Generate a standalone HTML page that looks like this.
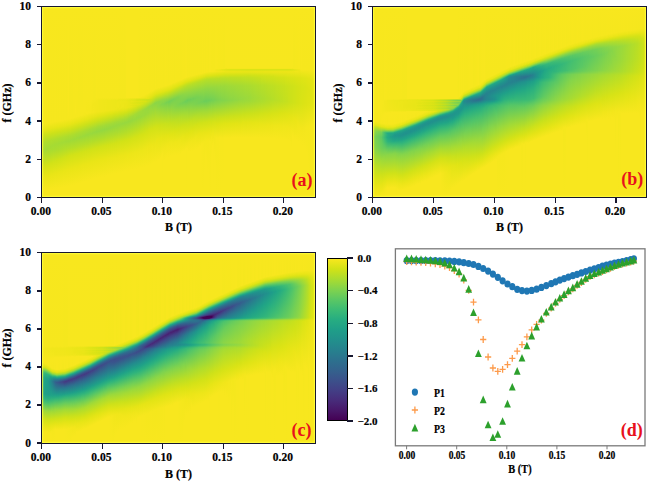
<!DOCTYPE html>
<html><head><meta charset="utf-8">
<style>
*{margin:0;padding:0;box-sizing:border-box}
html,body{width:650px;height:482px;background:#fff;overflow:hidden}
body{position:relative;font-family:"Liberation Serif",serif;font-weight:bold;color:#000;-webkit-text-stroke:0.2px #000}
.hm{position:absolute;overflow:hidden}
.hm i{position:absolute;top:0;bottom:0;display:block}
.fr{position:absolute;border:1.6px solid #17172f;box-shadow:inset 0 0 0 1.2px rgba(255,255,60,0.75)}
.tx{position:absolute;width:1.4px;height:5.8px;background:#17172f}
.ty{position:absolute;width:5.4px;height:1.4px;background:#17172f}
.tl{position:absolute;width:40px;text-align:center;font-size:11.5px;line-height:12px}
.yl{position:absolute;width:40px;text-align:right;font-size:11.5px;line-height:12px}
.lab{position:absolute;font-size:11px;line-height:12px;white-space:nowrap}
.al{position:absolute;font-size:12px;line-height:12px;white-space:nowrap}
.dt{position:absolute;width:40px;text-align:center;font-size:11.5px;line-height:12px;transform:scaleX(0.83)}
.dp{position:absolute;font-size:11.8px;line-height:12px;transform:scaleX(0.83);transform-origin:0 0}
.tag{position:absolute;font-size:18px;line-height:18px;color:#e8101c;-webkit-text-stroke:0;white-space:nowrap}
</style></head><body>
<div class="hm" style="left:41.7px;top:6.6px;width:273.6px;height:190.6px"><i style="left:0.0px;width:1.1px;background:linear-gradient(#f8e71e 0.0px,#f6e71d 117.1px,#e6e516 123.1px,#cde119 128.6px,#b2dd2a 135.1px,#a4db34 143.1px,#b9de26 151.1px,#d4e217 159.6px,#e8e517 169.1px,#f8e71e 183.6px,#f8e71e 190.6px)"></i><i style="left:1.0px;width:1.1px;background:linear-gradient(#f8e71e 0.0px,#f5e71d 117.1px,#e5e416 123.1px,#cce11a 128.6px,#b1dd2b 135.1px,#a5db34 143.1px,#bade25 151.1px,#d5e217 159.6px,#e8e517 169.1px,#f8e71e 183.6px,#f8e71e 190.6px)"></i><i style="left:2.0px;width:1.1px;background:linear-gradient(#f8e71e 0.0px,#f6e71d 116.6px,#e7e516 122.6px,#cde119 128.1px,#b0dd2b 135.1px,#a4db34 142.6px,#bbdf24 151.1px,#d5e216 159.6px,#e9e517 169.6px,#f8e71e 183.1px,#f8e71e 190.6px)"></i><i style="left:3.0px;width:1.1px;background:linear-gradient(#f8e71e 0.0px,#f6e71d 116.6px,#e6e516 122.6px,#cce11a 128.1px,#b1dd2b 134.6px,#a5db34 142.6px,#bcdf23 151.1px,#d6e216 159.6px,#eae517 169.6px,#f8e71e 183.1px,#f8e71e 190.6px)"></i><i style="left:4.0px;width:1.1px;background:linear-gradient(#f8e71e 0.0px,#f5e71d 116.6px,#e7e516 122.1px,#cee119 127.6px,#b0dd2c 134.6px,#a4db34 142.1px,#bddf23 151.1px,#d7e316 159.6px,#e9e517 169.1px,#f8e71e 183.1px,#f8e71e 190.6px)"></i><i style="left:5.0px;width:1.1px;background:linear-gradient(#f8e71e 0.0px,#f6e71d 116.1px,#e6e516 122.1px,#cde11a 127.6px,#b0dd2b 134.1px,#a4db34 141.6px,#bcdf23 150.6px,#d7e316 159.6px,#eae517 169.6px,#f8e71e 183.1px,#f8e71e 190.6px)"></i><i style="left:6.0px;width:1.1px;background:linear-gradient(#f8e71e 0.0px,#f5e71d 116.1px,#e5e416 122.1px,#cce11a 127.6px,#b0dd2c 134.1px,#a4db34 141.6px,#bddf22 150.6px,#d8e316 159.6px,#eae517 169.6px,#f8e71e 183.1px,#f8e71e 190.6px)"></i><i style="left:7.0px;width:1.1px;background:linear-gradient(#f8e71e 0.0px,#f6e71d 115.6px,#e7e516 121.6px,#cde119 127.1px,#b0dd2b 133.6px,#a5db34 140.6px,#b5de28 148.1px,#d3e217 157.1px,#e9e517 168.1px,#f8e71e 182.6px,#f8e71e 190.6px)"></i><i style="left:8.0px;width:1.1px;background:linear-gradient(#f8e71e 0.0px,#f6e71d 115.6px,#e6e516 121.6px,#cce11a 127.1px,#afdd2c 133.6px,#a5db33 140.1px,#afdd2c 145.6px,#d3e217 156.6px,#e9e517 168.1px,#f8e71e 182.6px,#f8e71e 190.6px)"></i><i style="left:9.0px;width:1.1px;background:linear-gradient(#f8e71e 0.0px,#f5e71d 115.6px,#e7e516 121.1px,#cde119 126.6px,#b0dd2c 133.1px,#a6db33 139.1px,#a8dc31 142.6px,#d2e217 156.1px,#eae517 168.1px,#f8e71e 182.6px,#f8e71e 190.6px)"></i><i style="left:10.0px;width:1.1px;background:linear-gradient(#f8e71e 0.0px,#f6e71d 115.1px,#e6e516 121.1px,#cce11a 126.6px,#afdd2c 133.1px,#a6db33 138.6px,#aadc30 143.1px,#d2e217 155.6px,#e9e517 167.6px,#f8e71e 182.1px,#f8e71e 190.6px)"></i><i style="left:11.0px;width:1.1px;background:linear-gradient(#f8e71e 0.0px,#f5e71d 115.1px,#e8e517 120.6px,#d0e218 125.6px,#b0dd2c 132.6px,#a6db33 138.1px,#a9dc31 142.1px,#d2e218 155.1px,#e9e517 167.1px,#f8e71e 182.1px,#f8e71e 190.6px)"></i><i style="left:12.0px;width:1.1px;background:linear-gradient(#f8e71e 0.0px,#f6e71d 114.6px,#e7e516 120.6px,#cfe119 125.6px,#afdd2c 132.6px,#a5db33 137.6px,#aadc30 142.6px,#d1e218 154.6px,#e9e517 166.6px,#f8e71e 182.1px,#f8e71e 190.6px)"></i><i style="left:13.0px;width:1.1px;background:linear-gradient(#f8e71e 0.0px,#f6e71d 114.6px,#e6e516 120.6px,#cee119 125.6px,#afdd2c 132.1px,#a5db33 137.6px,#abdc2f 142.6px,#d1e218 154.1px,#e9e517 166.1px,#f8e71e 181.6px,#f8e71e 190.6px)"></i><i style="left:14.0px;width:1.1px;background:linear-gradient(#f8e71e 0.0px,#f5e71d 114.6px,#e7e516 120.1px,#cfe218 125.1px,#afdd2d 132.1px,#a5db34 137.1px,#abdc2f 142.1px,#d0e218 153.6px,#e9e517 166.1px,#f8e71e 181.6px,#f8e71e 190.6px)"></i><i style="left:15.0px;width:1.1px;background:linear-gradient(#f8e71e 0.0px,#f6e71d 114.1px,#e6e516 120.1px,#cee119 125.1px,#afdd2c 131.6px,#a5db34 137.1px,#addc2e 142.6px,#d0e218 153.1px,#e9e517 165.6px,#f8e71e 181.6px,#f8e71e 190.6px)"></i><i style="left:16.0px;width:1.1px;background:linear-gradient(#f8e71e 0.0px,#f5e71d 114.1px,#e8e517 119.6px,#d0e218 124.6px,#aedd2d 131.6px,#a4db34 136.6px,#addc2d 142.6px,#d0e218 152.6px,#e9e517 165.1px,#f8e71e 181.1px,#f8e71e 190.6px)"></i><i style="left:17.0px;width:1.1px;background:linear-gradient(#f8e71e 0.0px,#f6e71d 113.6px,#e7e516 119.6px,#cfe119 124.6px,#afdd2c 131.1px,#a4db34 136.1px,#aedd2d 142.6px,#d1e218 152.6px,#e9e517 165.1px,#f8e71e 181.1px,#f8e71e 190.6px)"></i><i style="left:18.0px;width:1.1px;background:linear-gradient(#f8e71e 0.0px,#f6e71d 113.6px,#e6e516 119.6px,#cde119 124.6px,#aedd2d 131.1px,#a4db35 136.1px,#afdd2c 142.6px,#d0e218 152.1px,#e9e517 164.6px,#f8e71e 181.1px,#f8e71e 190.6px)"></i><i style="left:19.0px;width:1.1px;background:linear-gradient(#f8e71e 0.0px,#f5e71d 113.6px,#e7e516 119.1px,#cfe119 124.1px,#afdd2d 130.6px,#a3db35 135.6px,#b0dd2b 142.6px,#d0e218 151.6px,#e9e517 164.6px,#f8e71e 180.6px,#f8e71e 190.6px)"></i><i style="left:20.0px;width:1.1px;background:linear-gradient(#f8e71e 0.0px,#f6e71d 113.1px,#e6e516 119.1px,#cee119 124.1px,#aedd2d 130.6px,#a3db35 135.6px,#b2dd2a 142.6px,#d1e218 151.6px,#e9e517 164.1px,#f8e71e 180.6px,#f8e71e 190.6px)"></i><i style="left:21.0px;width:1.1px;background:linear-gradient(#f8e71e 0.0px,#f5e71d 113.1px,#e8e517 118.6px,#cfe218 123.6px,#aedd2d 130.1px,#a3db36 135.1px,#b3dd2a 142.6px,#d1e218 151.1px,#eae517 164.1px,#f8e71e 180.1px,#f8e71e 190.6px)"></i><i style="left:22.0px;width:1.1px;background:linear-gradient(#f8e71e 0.0px,#f6e71d 112.6px,#e7e516 118.6px,#cee119 123.6px,#aedd2d 130.1px,#a3db36 135.1px,#b4de29 142.6px,#d1e218 150.6px,#eae517 163.6px,#f8e71e 180.1px,#f8e71e 190.6px)"></i><i style="left:23.0px;width:1.1px;background:linear-gradient(#f8e71e 0.0px,#f6e71d 112.6px,#e8e517 118.1px,#d0e218 123.1px,#aedd2d 129.6px,#a2da36 134.6px,#b5de28 142.6px,#d1e218 150.1px,#e9e517 163.1px,#f8e71e 180.1px,#f8e71e 190.6px)"></i><i style="left:24.0px;width:1.1px;background:linear-gradient(#f8e71e 0.0px,#f5e71d 112.6px,#e7e516 118.1px,#cfe119 123.1px,#aedc2d 129.6px,#a2da36 134.6px,#b4de28 142.1px,#d2e217 150.1px,#eae517 163.1px,#f8e71e 179.6px,#f8e71e 190.6px)"></i><i style="left:25.0px;width:1.1px;background:linear-gradient(#f8e71e 0.0px,#f6e71d 112.1px,#e6e516 118.1px,#cde119 123.1px,#aedd2d 129.1px,#a1da37 134.1px,#b6de28 142.1px,#d2e217 149.6px,#eae517 162.6px,#f8e71e 179.6px,#f8e71e 190.6px)"></i><i style="left:26.0px;width:1.1px;background:linear-gradient(#f8e71e 0.0px,#f8e71e 104.6px,#f5e71d 112.1px,#e7e517 117.6px,#cfe119 122.6px,#addc2d 129.1px,#a1da37 134.1px,#b5de28 141.6px,#d2e217 149.1px,#eae517 162.6px,#f8e71e 179.6px,#f8e71e 190.6px)"></i><i style="left:27.0px;width:1.1px;background:linear-gradient(#f8e71e 0.0px,#f5e71d 92.5px,#f6e71d 111.6px,#e7e516 117.6px,#cee119 122.6px,#aedd2d 128.6px,#a1da37 134.1px,#b6de27 141.6px,#d2e217 148.6px,#eae517 162.1px,#f8e71e 179.1px,#f8e71e 190.6px)"></i><i style="left:28.0px;width:1.1px;background:linear-gradient(#f8e71e 0.0px,#f5e71d 92.5px,#f6e71d 111.6px,#e8e517 117.1px,#cfe219 122.1px,#addc2e 128.6px,#a0da37 133.6px,#b7de26 141.6px,#d2e217 148.6px,#eae517 162.1px,#f8e71e 179.1px,#f8e71e 190.6px)"></i><i style="left:29.0px;width:1.1px;background:linear-gradient(#f8e71e 0.0px,#f5e71d 92.5px,#f6e71d 111.1px,#e6e516 117.1px,#cde119 122.1px,#addc2e 128.1px,#a0da38 133.1px,#b6de27 141.1px,#d2e217 148.1px,#eae517 161.6px,#f8e71e 178.6px,#f8e71e 190.6px)"></i><i style="left:30.0px;width:1.1px;background:linear-gradient(#f8e71e 0.0px,#f5e71d 92.5px,#f5e71d 111.1px,#e7e516 116.6px,#cee119 121.6px,#acdc2e 128.1px,#a0da38 133.1px,#b7de26 141.1px,#d2e217 148.1px,#eae517 161.6px,#f8e71e 178.6px,#f8e71e 190.6px)"></i><i style="left:31.0px;width:1.1px;background:linear-gradient(#f8e71e 0.0px,#f6e71d 92.0px,#f6e71d 110.6px,#e8e517 116.1px,#cfe218 121.1px,#acdc2e 127.6px,#9fda38 132.6px,#b6de27 140.6px,#d2e217 147.6px,#eae517 161.1px,#f8e71e 178.1px,#f8e71e 190.6px)"></i><i style="left:32.0px;width:1.1px;background:linear-gradient(#f8e71e 0.0px,#f6e71d 92.0px,#f6e71d 110.1px,#e6e516 116.1px,#cde119 121.1px,#abdc2f 127.6px,#9eda39 132.1px,#b5de28 140.1px,#d3e217 147.6px,#eae517 160.6px,#f8e71e 178.1px,#f8e71e 190.6px)"></i><i style="left:33.0px;width:1.1px;background:linear-gradient(#f8e71e 0.0px,#f6e71d 92.0px,#f8e71e 104.6px,#f4e71c 110.6px,#e7e516 115.6px,#cee119 120.6px,#abdc2f 127.1px,#9fda38 132.1px,#b6de27 140.1px,#d2e217 147.1px,#eae517 160.6px,#f8e71e 177.6px,#f8e71e 190.6px)"></i><i style="left:34.0px;width:1.1px;background:linear-gradient(#f8e71e 0.0px,#f6e71d 92.0px,#f6e71d 104.1px,#f6e71d 109.6px,#e6e516 115.6px,#cce11a 120.6px,#abdc2f 126.6px,#9eda39 131.6px,#b5de28 139.6px,#d3e217 147.1px,#eae517 160.1px,#f8e71e 177.1px,#f8e71e 190.6px)"></i><i style="left:35.0px;width:1.1px;background:linear-gradient(#f8e71e 0.0px,#f6e71d 92.0px,#f6e71d 104.1px,#f5e71d 109.6px,#e7e516 115.1px,#cde119 120.1px,#aadc30 126.6px,#9eda39 131.1px,#b7de27 139.6px,#d2e217 146.6px,#eae517 160.1px,#f8e71e 177.1px,#f8e71e 190.6px)"></i><i style="left:36.0px;width:1.1px;background:linear-gradient(#f8e71e 0.0px,#f5e71d 92.0px,#f6e71d 104.1px,#f6e71d 109.1px,#e7e516 114.6px,#cee119 119.6px,#aadc30 126.1px,#9eda39 131.1px,#b6de28 139.1px,#d3e217 146.6px,#eae517 159.6px,#f8e71e 176.6px,#f8e71e 190.6px)"></i><i style="left:37.0px;width:1.1px;background:linear-gradient(#f8e71e 0.0px,#f5e71d 92.0px,#f6e71d 104.1px,#f5e71c 109.1px,#e6e516 114.6px,#cde11a 119.6px,#abdc30 125.6px,#9dd93a 130.6px,#b7de27 139.1px,#d2e217 146.1px,#eae517 159.1px,#f8e71e 176.6px,#f8e71e 190.6px)"></i><i style="left:38.0px;width:1.1px;background:linear-gradient(#f8e71e 0.0px,#f5e71d 92.0px,#f6e71d 104.1px,#f5e71d 108.6px,#e7e516 114.1px,#cee119 119.1px,#a9dc31 125.6px,#9dd93a 130.1px,#b6de27 138.6px,#d2e218 145.6px,#eae517 159.1px,#f8e71e 176.1px,#f8e71e 190.6px)"></i><i style="left:39.0px;width:1.1px;background:linear-gradient(#f8e71e 0.0px,#f5e71d 92.0px,#f6e71d 104.1px,#f6e71d 108.1px,#e5e416 114.1px,#cce11a 119.1px,#aadc30 125.1px,#9dd93a 130.1px,#b7de27 138.6px,#d2e217 145.6px,#eae517 158.6px,#f8e71e 176.1px,#f8e71e 190.6px)"></i><i style="left:40.0px;width:1.1px;background:linear-gradient(#f8e71e 0.0px,#f5e71d 92.0px,#f6e71d 104.1px,#f5e71d 108.1px,#e6e516 113.6px,#cde11a 118.6px,#a8dc31 125.1px,#9cd93b 129.6px,#b6de27 138.1px,#d2e217 145.1px,#eae517 158.1px,#f8e71e 175.6px,#f8e71e 190.6px)"></i><i style="left:41.0px;width:1.1px;background:linear-gradient(#f8e71e 0.0px,#f6e71d 91.5px,#f6e71d 104.1px,#f5e71d 107.6px,#e7e516 113.1px,#cee119 118.1px,#a8dc31 124.6px,#9cd93b 129.1px,#b5de28 137.6px,#d1e218 144.6px,#eae517 157.6px,#f8e71e 175.1px,#f8e71e 190.6px)"></i><i style="left:42.0px;width:1.1px;background:linear-gradient(#f8e71e 0.0px,#f6e71d 91.5px,#f6e71d 104.1px,#f5e71c 107.6px,#e5e416 113.1px,#cce11a 118.1px,#a9dc31 124.1px,#9bd93b 129.1px,#b6de27 137.6px,#d2e217 144.6px,#eae517 157.6px,#f8e71e 175.1px,#f8e71e 190.6px)"></i><i style="left:43.0px;width:1.1px;background:linear-gradient(#f8e71e 0.0px,#f6e71d 91.5px,#f6e71d 104.1px,#f4e71c 107.6px,#e6e516 112.6px,#cde11a 117.6px,#a7db32 124.1px,#9bd93b 128.6px,#b5de28 137.1px,#d2e218 144.1px,#eae517 157.1px,#f8e71e 174.6px,#f8e71e 190.6px)"></i><i style="left:44.0px;width:1.1px;background:linear-gradient(#f8e71e 0.0px,#f6e71d 91.5px,#f5e71c 103.6px,#f7e71d 106.1px,#e7e516 112.1px,#cee119 117.1px,#a8db32 123.6px,#9bd93c 128.1px,#b4de28 136.6px,#d2e217 144.1px,#eae517 157.1px,#f8e71e 174.6px,#f8e71e 190.6px)"></i><i style="left:45.0px;width:1.1px;background:linear-gradient(#f8e71e 0.0px,#f6e71d 91.5px,#f5e71c 103.6px,#f6e71d 106.1px,#e6e516 112.1px,#cce11a 117.1px,#a8dc31 123.1px,#9ad93c 127.6px,#b3dd29 136.1px,#d2e218 143.6px,#eae517 156.6px,#f8e71e 174.1px,#f8e71e 190.6px)"></i><i style="left:46.0px;width:1.1px;background:linear-gradient(#f8e71e 0.0px,#f6e71d 91.5px,#f5e71c 103.6px,#f6e71d 105.6px,#e6e516 111.6px,#cde11a 116.6px,#a7db33 123.1px,#9ad93c 127.6px,#b2dd2a 135.6px,#d1e218 143.1px,#eae517 156.1px,#f8e71e 173.6px,#f8e71e 190.6px)"></i><i style="left:47.0px;width:1.1px;background:linear-gradient(#f8e71e 0.0px,#f6e71d 91.5px,#f5e71c 103.6px,#f6e71d 105.6px,#e5e416 111.6px,#cbe11a 116.6px,#a7db32 122.6px,#9ad93c 127.1px,#b4de29 135.6px,#d2e217 143.1px,#eae517 156.1px,#f8e71e 173.6px,#f8e71e 190.6px)"></i><i style="left:48.0px;width:1.1px;background:linear-gradient(#f8e71e 0.0px,#f6e71d 91.5px,#f5e71c 103.6px,#f5e71d 105.6px,#e6e516 111.1px,#cce11a 116.1px,#a5db33 122.6px,#99d93d 126.6px,#b3dd2a 135.1px,#d1e218 142.6px,#eae517 155.6px,#f8e71e 173.1px,#f8e71e 190.6px)"></i><i style="left:49.0px;width:1.1px;background:linear-gradient(#f8e71e 0.0px,#f6e71d 91.5px,#f4e71c 99.6px,#f4e71c 105.6px,#e4e416 111.1px,#cae11b 116.1px,#a6db33 122.1px,#99d93d 126.6px,#b4de29 135.1px,#d2e217 142.6px,#eae517 155.1px,#f8e71e 173.1px,#f8e71e 190.6px)"></i><i style="left:50.0px;width:1.1px;background:linear-gradient(#f8e71e 0.0px,#f6e71d 91.5px,#f3e61b 99.1px,#f4e61c 105.6px,#e5e416 110.6px,#cbe11a 115.6px,#a6db33 121.6px,#98d93d 126.1px,#b3dd29 134.6px,#d2e218 142.1px,#eae517 155.1px,#f8e71e 172.6px,#f8e71e 190.6px)"></i><i style="left:51.0px;width:1.1px;background:linear-gradient(#f8e71e 0.0px,#f5e71d 91.5px,#f3e61b 96.6px,#f4e71c 105.1px,#e6e516 110.1px,#cce11a 115.1px,#a5db34 121.6px,#98d83e 125.6px,#b2dd2a 134.1px,#d1e218 141.6px,#eae517 154.6px,#f8e71e 172.1px,#f8e71e 190.6px)"></i><i style="left:52.0px;width:1.1px;background:linear-gradient(#f8e71e 0.0px,#f5e71d 91.5px,#f3e61b 96.6px,#f3e61c 105.1px,#e4e416 110.1px,#cde119 114.6px,#a5db34 121.1px,#98d83e 125.6px,#b3dd29 134.1px,#d2e218 141.6px,#eae517 154.6px,#f8e71e 172.1px,#f8e71e 190.6px)"></i><i style="left:53.0px;width:1.1px;background:linear-gradient(#f8e71e 0.0px,#f5e71d 91.5px,#f2e61b 96.1px,#f3e61b 105.1px,#e5e416 109.6px,#cbe11a 114.6px,#a4db35 121.1px,#97d83e 125.1px,#b2dd2a 133.6px,#d1e218 141.1px,#eae517 154.1px,#f8e71e 171.6px,#f8e71e 190.6px)"></i><i style="left:54.0px;width:1.1px;background:linear-gradient(#f8e71e 0.0px,#f7e71d 91.0px,#f3e61b 94.0px,#f2e61b 105.1px,#e4e416 109.6px,#cce11a 114.1px,#a4db34 120.6px,#96d83f 124.6px,#b1dd2b 133.1px,#d2e217 141.1px,#eae517 153.6px,#f8e71e 171.6px,#f8e71e 190.6px)"></i><i style="left:55.0px;width:1.1px;background:linear-gradient(#f8e71e 0.0px,#f6e71d 91.0px,#f3e61b 94.0px,#f1e61a 105.1px,#e2e415 109.6px,#cae11b 114.1px,#a4db34 120.1px,#96d83f 124.6px,#b2dd2a 133.1px,#d1e218 140.6px,#eae517 153.6px,#f8e71e 171.1px,#f8e71e 190.6px)"></i><i style="left:56.0px;width:1.1px;background:linear-gradient(#f8e71e 0.0px,#f6e71d 91.0px,#f1e61b 93.5px,#f2e61b 104.6px,#e3e416 109.1px,#cbe11a 113.6px,#a5db34 119.6px,#96d840 124.1px,#b1dd2b 132.6px,#d2e217 140.6px,#eae517 153.1px,#f8e71e 171.1px,#f8e71e 190.6px)"></i><i style="left:57.0px;width:1.1px;background:linear-gradient(#f8e71e 0.0px,#f6e71d 91.0px,#f1e61a 93.5px,#f1e61a 104.6px,#e2e415 109.1px,#cae11b 113.6px,#a4db35 119.6px,#96d83f 124.1px,#b2dd2a 132.6px,#d1e218 140.1px,#eae517 153.1px,#f8e71e 170.6px,#f8e71e 190.6px)"></i><i style="left:58.0px;width:1.1px;background:linear-gradient(#f8e71e 0.0px,#f6e71d 91.0px,#f1e61a 93.5px,#f0e61a 104.6px,#e3e416 108.6px,#cbe11a 113.1px,#a2da36 119.6px,#95d840 123.6px,#b1dd2b 132.1px,#d1e218 139.6px,#eae517 152.6px,#f8e71e 170.6px,#f8e71e 190.6px)"></i><i style="left:59.0px;width:1.1px;background:linear-gradient(#f8e71e 0.0px,#f6e71d 91.0px,#f1e61a 93.5px,#f0e61a 104.6px,#e2e415 108.6px,#cae11b 113.1px,#a3db35 119.1px,#95d840 123.6px,#b2dd2a 132.1px,#d1e218 139.6px,#eae517 152.6px,#f8e71e 170.1px,#f8e71e 190.6px)"></i><i style="left:60.0px;width:1.1px;background:linear-gradient(#f8e71e 0.0px,#f6e71d 91.0px,#f0e61a 93.5px,#f0e61a 104.1px,#e3e416 108.1px,#cbe11a 112.6px,#a2da36 119.1px,#94d841 123.1px,#b1dd2b 131.6px,#d1e218 139.1px,#eae517 152.1px,#f8e71e 170.1px,#f8e71e 190.6px)"></i><i style="left:61.0px;width:1.1px;background:linear-gradient(#f8e71e 0.0px,#f6e71d 91.0px,#f0e61a 93.5px,#f0e61a 104.1px,#e2e415 108.1px,#c9e11b 112.6px,#a3db36 118.6px,#95d840 123.1px,#b2dd2a 131.6px,#d1e218 139.1px,#eae517 152.1px,#f8e71e 169.6px,#f8e71e 190.6px)"></i><i style="left:62.0px;width:1.1px;background:linear-gradient(#f8e71e 0.0px,#f6e71d 91.0px,#f0e61a 93.5px,#efe619 104.1px,#e1e415 108.1px,#c8e11c 112.6px,#a2da36 118.6px,#94d840 122.6px,#b1dd2b 131.1px,#d1e218 138.6px,#eae517 151.6px,#f8e71e 169.6px,#f8e71e 190.6px)"></i><i style="left:63.0px;width:1.1px;background:linear-gradient(#f8e71e 0.0px,#f6e71d 91.0px,#f0e61a 93.5px,#f0e61a 103.6px,#e2e415 107.6px,#c9e11b 112.1px,#a2da36 118.1px,#96d840 122.6px,#b3dd2a 131.1px,#d1e218 138.6px,#eae517 151.6px,#f8e71e 169.1px,#f8e71e 190.6px)"></i><i style="left:64.0px;width:1.1px;background:linear-gradient(#f8e71e 0.0px,#f6e71d 91.0px,#f0e61a 93.5px,#efe619 103.6px,#e1e415 107.6px,#c8e01c 112.1px,#a1da36 118.1px,#95d840 122.1px,#b4de29 131.1px,#d2e217 138.6px,#ebe517 151.6px,#f8e71e 169.1px,#f8e71e 190.6px)"></i><i style="left:65.0px;width:1.1px;background:linear-gradient(#f8e71e 0.0px,#f6e71d 91.0px,#efe619 93.5px,#efe619 103.6px,#e2e415 107.1px,#c9e11b 111.6px,#a2da36 117.6px,#96d83f 122.1px,#b3dd29 130.6px,#d2e218 138.1px,#ebe518 151.6px,#f8e71e 168.6px,#f8e71e 190.6px)"></i><i style="left:66.0px;width:1.1px;background:linear-gradient(#f8e71e 0.0px,#f6e71d 91.0px,#efe619 93.5px,#eee619 103.6px,#dee415 107.6px,#c4e01e 112.1px,#a1da37 117.6px,#96d83f 121.6px,#b4de29 130.6px,#d2e217 138.1px,#ebe518 151.1px,#f8e71e 168.6px,#f8e71e 190.6px)"></i><i style="left:67.0px;width:1.1px;background:linear-gradient(#f8e71e 0.0px,#f6e71d 91.0px,#efe619 93.5px,#efe619 103.1px,#e2e415 106.6px,#c9e11b 111.1px,#a2da36 117.1px,#96d83f 121.1px,#b1dd2b 129.6px,#d2e218 137.6px,#ebe518 151.1px,#f8e71e 168.1px,#f8e71e 190.6px)"></i><i style="left:68.0px;width:1.1px;background:linear-gradient(#f8e71e 0.0px,#f6e71d 91.0px,#efe619 93.5px,#eee619 103.1px,#dee415 107.1px,#c4e01e 111.6px,#a1da37 117.1px,#96d83f 121.1px,#b5de28 130.1px,#d2e217 137.6px,#ebe518 151.1px,#f8e71e 168.1px,#f8e71e 190.6px)"></i><i style="left:69.0px;width:1.1px;background:linear-gradient(#f8e71e 0.0px,#f6e71d 91.0px,#eee619 93.5px,#efe619 102.6px,#e2e415 106.1px,#c9e11b 110.6px,#a2da36 116.6px,#97d83f 120.6px,#b2dd2a 129.1px,#d2e218 137.1px,#ebe518 150.6px,#f8e71e 167.6px,#f8e71e 190.6px)"></i><i style="left:70.0px;width:1.1px;background:linear-gradient(#f8e71e 0.0px,#f6e71d 91.0px,#eee619 93.5px,#eee619 102.6px,#e1e415 106.1px,#c7e01c 110.6px,#a3db36 116.1px,#98d83e 119.6px,#9dd93a 122.6px,#b7de27 130.1px,#d2e217 137.1px,#ebe518 150.6px,#f8e71e 167.6px,#f8e71e 190.6px)"></i><i style="left:71.0px;width:1.1px;background:linear-gradient(#f8e71e 0.0px,#f6e71d 91.0px,#eee619 93.5px,#eee619 102.6px,#dfe415 106.1px,#c5e01d 110.6px,#a2da36 116.1px,#98d83e 119.6px,#aedd2d 127.6px,#d2e218 136.6px,#ebe518 150.1px,#f8e71e 167.1px,#f8e71e 190.6px)"></i><i style="left:72.0px;width:1.1px;background:linear-gradient(#f8e71e 0.0px,#f6e71d 91.0px,#eee619 93.5px,#eee619 98.1px,#ede619 102.6px,#dbe315 106.6px,#c0df21 111.1px,#a2da36 115.6px,#98d83e 119.1px,#a0da37 123.1px,#c0df21 131.6px,#d3e217 137.1px,#ece518 150.6px,#f8e71e 167.1px,#f8e71e 190.6px)"></i><i style="left:73.0px;width:1.1px;background:linear-gradient(#f8e71e 0.0px,#f6e71d 91.0px,#ede619 93.5px,#ede619 95.6px,#eee619 98.1px,#ede518 102.6px,#d4e217 107.6px,#b3dd29 112.6px,#9fda38 116.1px,#98d83e 119.1px,#b0dd2b 127.6px,#d2e217 136.1px,#ece518 150.1px,#f8e71e 167.1px,#f8e71e 190.6px)"></i><i style="left:74.0px;width:1.1px;background:linear-gradient(#f8e71e 0.0px,#f6e71d 91.0px,#ede619 93.5px,#ede619 95.6px,#eee619 98.1px,#ede619 102.1px,#dee415 105.6px,#c3e01f 110.1px,#a2da36 115.1px,#98d83e 118.1px,#9eda39 121.6px,#bade25 129.6px,#d2e217 136.1px,#ece518 150.1px,#f8e71e 166.6px,#f8e71e 190.6px)"></i><i style="left:75.0px;width:1.1px;background:linear-gradient(#f8e71e 0.0px,#f6e71d 91.0px,#ede618 93.5px,#efe619 95.0px,#efe619 99.6px,#e8e517 103.6px,#cfe119 108.1px,#a3db35 114.6px,#98d83e 118.1px,#a7db32 124.6px,#d1e218 135.1px,#eae517 148.1px,#f8e71e 166.1px,#f8e71e 190.6px)"></i><i style="left:76.0px;width:1.1px;background:linear-gradient(#f8e71e 0.0px,#f6e71d 91.0px,#ece518 93.0px,#eee619 95.0px,#efe619 99.6px,#e9e517 103.1px,#d0e218 107.6px,#a2da36 114.6px,#98d83e 117.6px,#a3db36 122.6px,#d1e218 135.1px,#ebe518 148.6px,#f8e71e 166.1px,#f8e71e 190.6px)"></i><i style="left:77.0px;width:1.1px;background:linear-gradient(#f8e71e 0.0px,#f5e71d 91.0px,#ece518 93.0px,#eee619 95.0px,#ede618 99.1px,#ece518 102.1px,#d4e217 106.6px,#b6de27 111.1px,#a1da37 114.6px,#98d83e 117.6px,#afdd2c 126.1px,#d2e217 135.1px,#ece518 149.1px,#f8e71e 166.1px,#f8e71e 190.6px)"></i><i style="left:78.0px;width:1.1px;background:linear-gradient(#f8e71e 0.0px,#f5e71d 91.0px,#ece518 93.0px,#eee619 95.0px,#ede518 99.1px,#ece518 101.6px,#d3e217 106.6px,#b1dd2b 111.6px,#9eda39 115.1px,#98d83e 117.1px,#aedd2d 125.6px,#d2e218 134.6px,#ebe518 148.1px,#f8e71e 165.6px,#f8e71e 190.6px)"></i><i style="left:79.0px;width:1.1px;background:linear-gradient(#f8e71e 0.0px,#f5e71d 91.0px,#ece518 93.0px,#eee619 95.0px,#ede619 96.6px,#ede619 100.6px,#e5e416 103.1px,#cbe11a 107.6px,#a3db35 113.6px,#98d83e 117.1px,#b2dd2a 126.1px,#d2e217 134.6px,#ece518 148.6px,#f8e71e 165.6px,#f8e71e 190.6px)"></i><i style="left:80.0px;width:1.1px;background:linear-gradient(#f8e71e 0.0px,#f5e71d 91.0px,#ebe518 93.0px,#eee619 95.0px,#ede618 96.6px,#eee619 99.6px,#e7e516 102.6px,#cde11a 107.1px,#a2da36 113.6px,#98d83e 116.6px,#b1dd2b 125.6px,#d2e217 134.1px,#ebe518 147.6px,#f8e71e 165.1px,#f8e71e 190.6px)"></i><i style="left:81.0px;width:1.1px;background:linear-gradient(#f8e71e 0.0px,#f5e71d 91.0px,#ebe518 93.0px,#ede619 95.0px,#ede518 96.6px,#eee619 99.6px,#e6e516 102.6px,#cbe11a 107.1px,#a3db36 113.1px,#98d83e 116.6px,#b2dd2a 125.6px,#d2e217 134.1px,#ece518 148.6px,#f8e71e 165.1px,#f8e71e 190.6px)"></i><i style="left:82.0px;width:1.1px;background:linear-gradient(#f8e71e 0.0px,#f5e71d 91.0px,#ebe518 93.0px,#ede619 95.0px,#ede518 96.6px,#ece518 99.1px,#ebe518 101.1px,#d3e217 105.6px,#b0dd2b 110.6px,#9fda38 113.6px,#98d83e 116.1px,#b2dd2a 125.1px,#d2e217 133.6px,#ece518 147.6px,#f8e71e 164.6px,#f8e71e 190.6px)"></i><i style="left:83.0px;width:1.1px;background:linear-gradient(#f8e71e 0.0px,#f5e71d 91.0px,#ebe518 93.0px,#ede618 95.0px,#ece518 96.6px,#ece518 99.1px,#ebe518 101.1px,#d1e218 105.6px,#abdc30 111.1px,#97d83e 115.6px,#b3dd29 125.1px,#d3e217 133.6px,#ede518 148.1px,#f8e71e 164.6px,#f8e71e 190.6px)"></i><i style="left:84.0px;width:1.1px;background:linear-gradient(#f8e71e 0.0px,#f8e71e 90.5px,#ebe517 93.0px,#ede518 95.0px,#ece518 96.6px,#ece518 99.1px,#eae517 101.1px,#d3e217 105.1px,#b0dd2c 110.1px,#9fda38 113.1px,#98d83e 115.6px,#b2dd2a 124.6px,#d2e217 133.1px,#ece518 147.1px,#f8e71e 164.1px,#f8e71e 190.6px)"></i><i style="left:85.0px;width:1.1px;background:linear-gradient(#f8e71e 0.0px,#f8e71e 90.5px,#e9e517 93.0px,#ece518 95.0px,#ebe518 96.6px,#eae517 99.1px,#eae517 100.6px,#d3e217 104.6px,#b0dd2c 109.6px,#a1da37 112.1px,#97d83e 115.1px,#b4de29 124.6px,#d3e217 133.1px,#ede618 148.1px,#f8e71e 164.1px,#f8e71e 190.6px)"></i><i style="left:86.0px;width:1.1px;background:linear-gradient(#f8e71e 0.0px,#f8e71e 90.5px,#e8e517 93.0px,#ebe517 95.0px,#eae517 96.6px,#e9e517 98.1px,#eae517 100.1px,#d3e217 104.1px,#b3dd29 108.6px,#a1da37 111.6px,#97d83e 114.6px,#b6de28 124.6px,#d3e217 132.6px,#ede618 147.6px,#f8e71e 164.1px,#f8e71e 190.6px)"></i><i style="left:87.0px;width:1.1px;background:linear-gradient(#f8e71e 0.0px,#f8e71e 90.5px,#e6e516 93.0px,#e9e517 95.0px,#e9e517 96.6px,#e8e517 98.1px,#e9e517 100.1px,#d0e218 104.1px,#a3db35 110.6px,#97d83e 114.1px,#b5de28 124.1px,#d4e217 132.6px,#ede518 147.1px,#f8e71e 163.6px,#f8e71e 190.6px)"></i><i style="left:88.0px;width:1.1px;background:linear-gradient(#f8e71e 0.0px,#f8e71e 90.5px,#e5e416 93.0px,#e8e517 95.0px,#e5e416 96.1px,#e9e517 97.6px,#e5e416 98.6px,#e9e517 99.6px,#d1e218 103.6px,#a2da36 110.1px,#98d83e 114.1px,#b5de28 123.6px,#d3e217 132.1px,#ede618 147.1px,#f8e71e 163.6px,#f8e71e 190.6px)"></i><i style="left:89.0px;width:1.1px;background:linear-gradient(#f8e71e 0.0px,#f8e71e 90.5px,#e3e416 93.0px,#e9e517 94.5px,#e3e416 96.1px,#e8e517 97.6px,#e3e416 98.6px,#e7e516 99.6px,#cee119 103.6px,#a2da36 109.6px,#98d83e 113.6px,#b7de27 123.6px,#d3e217 131.6px,#ede518 146.6px,#f8e71e 163.1px,#f8e71e 190.6px)"></i><i style="left:90.0px;width:1.1px;background:linear-gradient(#f8e71e 0.0px,#f8e71e 90.5px,#e2e415 93.0px,#e8e517 94.5px,#e2e415 96.1px,#e7e516 97.6px,#e2e415 98.6px,#e4e416 99.6px,#cbe11b 103.6px,#a2da36 109.1px,#98d83e 113.1px,#b8de26 123.6px,#d4e217 131.6px,#ede619 146.6px,#f8e71e 163.1px,#f8e71e 190.6px)"></i><i style="left:91.0px;width:1.1px;background:linear-gradient(#f8e71e 0.0px,#f8e71e 90.5px,#e0e415 93.0px,#e6e516 94.5px,#e0e415 96.1px,#e5e416 97.6px,#e0e415 98.6px,#e2e415 99.6px,#c7e01c 103.6px,#a2da36 108.6px,#99d93d 113.1px,#b8de26 123.1px,#d4e217 131.1px,#ede618 146.1px,#f8e71e 163.1px,#f8e71e 190.6px)"></i><i style="left:92.0px;width:1.1px;background:linear-gradient(#f8e71e 0.0px,#f8e71e 90.5px,#dfe415 93.0px,#e5e416 94.5px,#dfe415 96.1px,#e5e416 97.1px,#dfe415 98.6px,#dfe415 99.6px,#c4e01e 103.6px,#a4db35 107.6px,#99d93d 112.6px,#b8de26 122.6px,#d4e217 130.6px,#ede619 146.1px,#f8e71e 162.6px,#f8e71e 190.6px)"></i><i style="left:93.0px;width:1.1px;background:linear-gradient(#f8e71e 0.0px,#f8e71e 90.5px,#dde315 93.0px,#e4e416 94.5px,#dde315 96.1px,#e4e416 97.1px,#dde315 98.6px,#dfe415 99.1px,#c4e01e 103.1px,#a3db35 107.1px,#99d93d 112.1px,#bade25 122.6px,#d3e217 130.1px,#ede619 145.6px,#f8e71e 162.6px,#f8e71e 190.6px)"></i><i style="left:94.0px;width:1.1px;background:linear-gradient(#f8e71e 0.0px,#f8e71e 90.5px,#dfe415 92.5px,#dde315 93.5px,#e3e416 94.5px,#dce315 96.1px,#e3e416 97.1px,#dce315 98.6px,#d9e316 99.6px,#bcdf23 103.6px,#a3db35 106.6px,#98d93d 111.6px,#bade25 122.1px,#d3e217 129.6px,#ede618 145.1px,#f8e71e 162.1px,#f8e71e 190.6px)"></i><i style="left:95.0px;width:1.1px;background:linear-gradient(#f8e71e 0.0px,#f8e71e 90.5px,#dee315 92.5px,#dbe315 93.5px,#e2e415 94.5px,#dae315 96.1px,#e2e415 97.1px,#cbe11a 101.1px,#a2da36 106.1px,#99d93d 111.1px,#bbdf24 122.1px,#d4e217 129.6px,#ede619 145.1px,#f8e71e 162.1px,#f8e71e 190.6px)"></i><i style="left:96.0px;width:1.1px;background:linear-gradient(#f8e71e 0.0px,#f7e71e 90.5px,#dde315 92.5px,#dae315 93.5px,#e1e415 94.5px,#d9e316 96.1px,#e1e415 97.1px,#c7e01d 101.1px,#a1da37 105.6px,#99d93d 110.6px,#bbdf24 121.6px,#d4e217 129.1px,#ede619 144.6px,#f8e71e 162.1px,#f8e71e 190.6px)"></i><i style="left:97.0px;width:1.1px;background:linear-gradient(#f8e71e 0.0px,#f6e71d 90.5px,#dbe315 92.5px,#d7e316 93.0px,#e0e415 94.5px,#d7e316 96.1px,#dfe415 97.1px,#c6e01d 100.6px,#a0da38 105.1px,#99d93d 110.1px,#bddf22 121.6px,#d4e217 128.6px,#ede619 144.1px,#f8e71e 161.6px,#f8e71e 190.6px)"></i><i style="left:98.0px;width:1.1px;background:linear-gradient(#f8e71e 0.0px,#f6e71d 90.0px,#f1e61b 91.0px,#dae315 92.5px,#d6e216 93.0px,#dfe415 94.5px,#d6e216 96.1px,#dce315 97.1px,#c2e020 100.6px,#9fda39 104.6px,#9ad93c 110.1px,#bfdf21 121.6px,#d4e217 128.1px,#ede619 143.6px,#f8e71e 161.1px,#f8e71e 190.6px)"></i><i style="left:99.0px;width:1.1px;background:linear-gradient(#f8e71e 0.0px,#f6e71d 89.5px,#f1e61a 91.0px,#d9e316 92.5px,#d4e217 93.0px,#dee315 94.5px,#d4e217 96.1px,#d9e316 96.6px,#c1e020 100.1px,#9eda39 104.1px,#9ad93c 109.6px,#c1e020 121.6px,#d5e216 128.1px,#ede619 143.6px,#f8e71e 161.1px,#f8e71e 190.6px)"></i><i style="left:100.0px;width:1.1px;background:linear-gradient(#f8e71e 0.0px,#f6e71d 89.0px,#f1e61a 91.0px,#d7e316 92.5px,#d3e217 93.0px,#dde315 94.5px,#d3e217 96.1px,#d8e316 96.6px,#bcdf23 100.1px,#9dd93a 103.6px,#9bd93c 109.1px,#c1e020 121.1px,#d5e216 127.6px,#ede619 143.1px,#f8e71e 161.1px,#f8e71e 190.6px)"></i><i style="left:101.0px;width:1.1px;background:linear-gradient(#f8e71e 0.0px,#f6e71d 88.5px,#efe61a 91.0px,#d6e216 92.5px,#d1e218 93.0px,#dbe315 94.5px,#d1e218 96.1px,#d4e217 96.6px,#b7de27 100.1px,#9cd93b 103.1px,#9bd93c 108.6px,#c3e01f 121.1px,#d5e216 127.1px,#ede619 142.6px,#f8e71e 160.6px,#f8e71e 190.6px)"></i><i style="left:102.0px;width:1.1px;background:linear-gradient(#f8e71e 0.0px,#f6e71d 88.0px,#eee619 91.0px,#d5e217 92.5px,#d0e218 93.0px,#dae315 94.5px,#d0e218 96.1px,#c8e11c 97.6px,#9bd93c 102.6px,#9bd93b 108.1px,#c7e01c 121.6px,#d7e316 127.6px,#eee619 142.6px,#f8e71e 160.6px,#f8e71e 190.6px)"></i><i style="left:103.0px;width:1.1px;background:linear-gradient(#f8e71e 0.0px,#f6e71d 87.5px,#ede518 91.0px,#dde315 92.0px,#cee119 93.0px,#d9e316 94.5px,#cfe219 95.6px,#c4e01f 97.6px,#99d93d 102.1px,#9bd93b 107.6px,#c9e11b 121.6px,#d8e316 127.6px,#eee619 142.1px,#f8e71e 160.1px,#f8e71e 190.6px)"></i><i style="left:104.0px;width:1.1px;background:linear-gradient(#f8e71e 0.0px,#f6e71d 87.0px,#ebe518 91.0px,#e6e516 91.5px,#d1e218 92.5px,#cce11a 93.0px,#cee119 93.5px,#d6e216 94.5px,#b9de25 98.1px,#98d93d 101.6px,#9dd93a 107.6px,#d2e217 124.1px,#ece518 139.6px,#f8e71e 159.1px,#f8e71e 190.6px)"></i><i style="left:105.0px;width:1.1px;background:linear-gradient(#f8e71e 0.0px,#f6e71d 86.5px,#e5e416 91.5px,#d0e218 92.5px,#cae11b 93.0px,#cce11a 93.5px,#d3e217 94.0px,#bcdf23 97.1px,#99d93d 100.6px,#99d93d 105.6px,#c2e01f 118.6px,#d5e216 125.1px,#eee619 141.1px,#f8e71e 159.6px,#f8e71e 190.6px)"></i><i style="left:106.0px;width:1.1px;background:linear-gradient(#f8e71e 0.0px,#f6e71d 86.0px,#e3e416 91.5px,#cee119 92.5px,#c8e11c 93.0px,#d0e218 94.0px,#b1dd2b 97.6px,#97d83e 100.1px,#9cd93b 106.1px,#d3e217 123.1px,#ece518 139.1px,#f8e71e 159.1px,#f8e71e 190.6px)"></i><i style="left:107.0px;width:1.1px;background:linear-gradient(#f8e71e 0.0px,#f5e71d 85.5px,#e2e415 91.0px,#d8e316 92.0px,#cce11a 92.5px,#c6e01d 93.0px,#cbe11a 94.0px,#9fda38 98.6px,#95d840 99.6px,#9eda39 106.1px,#d3e217 122.6px,#ece518 138.6px,#f8e71e 158.6px,#f8e71e 190.6px)"></i><i style="left:108.0px;width:1.1px;background:linear-gradient(#f8e71e 0.0px,#f6e71d 84.5px,#e5e416 90.0px,#d6e216 92.0px,#c4e01e 93.0px,#c6e01d 94.0px,#94d840 99.1px,#a0da38 106.1px,#d3e217 122.1px,#ede518 138.6px,#f8e71e 158.1px,#f8e71e 190.6px)"></i><i style="left:109.0px;width:1.1px;background:linear-gradient(#f8e71e 0.0px,#f6e71d 84.0px,#e4e416 89.5px,#d1e218 92.0px,#c2e01f 93.0px,#c4e01e 93.5px,#93d741 98.6px,#a1da37 106.1px,#d3e217 121.6px,#ede518 138.1px,#f8e71e 157.6px,#f8e71e 190.6px)"></i><i style="left:110.0px;width:1.1px;background:linear-gradient(#f8e71e 0.0px,#f6e71d 83.5px,#e3e416 89.0px,#cbe11a 92.0px,#c0df21 93.0px,#b3dd29 94.5px,#93d741 97.6px,#94d840 100.6px,#bade25 113.6px,#d4e217 122.1px,#eee619 139.1px,#f8e71e 157.1px,#f8e71e 190.6px)"></i><i style="left:111.0px;width:1.1px;background:linear-gradient(#f8e71e 0.0px,#f6e71d 83.0px,#e2e415 88.5px,#c9e11b 91.5px,#a0da37 95.6px,#90d743 97.1px,#9dd93a 104.1px,#d2e217 120.6px,#ebe518 136.1px,#f8e71e 156.1px,#f8e71e 190.6px)"></i><i style="left:112.0px;width:1.1px;background:linear-gradient(#f8e71e 0.0px,#f5e71d 82.5px,#e1e415 88.0px,#c8e11c 91.0px,#9eda39 95.0px,#8dd645 96.6px,#abdc2f 108.6px,#d3e217 120.6px,#ece518 137.1px,#f8e71e 155.6px,#f8e71e 190.6px)"></i><i style="left:113.0px;width:1.1px;background:linear-gradient(#f8e71e 0.0px,#f7e71d 81.5px,#e4e416 87.0px,#cbe11b 90.0px,#a6db33 93.5px,#8ad647 96.1px,#b9de26 112.1px,#d3e217 120.6px,#ede619 137.6px,#f8e71e 155.6px,#f8e71e 190.6px)"></i><i style="left:114.0px;width:1.1px;background:linear-gradient(#f8e71e 0.0px,#f5e71d 81.5px,#e1e415 87.0px,#c7e01d 90.0px,#8bd646 95.6px,#9cd93b 103.1px,#d0e218 119.1px,#eae517 133.6px,#f8e71e 154.6px,#f8e71e 190.6px)"></i><i style="left:115.0px;width:1.1px;background:linear-gradient(#f8e71e 0.0px,#f6e71d 81.0px,#e2e415 86.5px,#c8e11c 89.5px,#9eda39 93.5px,#8dd645 95.0px,#90d743 99.6px,#d0e218 119.1px,#e9e517 133.1px,#f8e71e 153.6px,#f8e71e 190.6px)"></i><i style="left:116.0px;width:1.1px;background:linear-gradient(#f8e71e 0.0px,#f6e71d 80.5px,#e3e416 86.0px,#cae11b 89.0px,#a5db33 92.5px,#8bd646 95.0px,#8fd744 99.6px,#cfe119 118.6px,#e8e517 132.1px,#f8e71e 153.1px,#f8e71e 190.6px)"></i><i style="left:117.0px;width:1.1px;background:linear-gradient(#f8e71e 0.0px,#f6e71d 80.5px,#e1e415 86.0px,#c7e01d 89.0px,#8cd646 94.5px,#8bd646 98.6px,#cde119 118.1px,#e7e516 131.6px,#f8e71e 152.6px,#f8e71e 190.6px)"></i><i style="left:118.0px;width:1.1px;background:linear-gradient(#f8e71e 0.0px,#f6e71d 80.0px,#e2e415 85.5px,#c8e11c 88.5px,#8ed645 94.0px,#88d548 98.1px,#cde119 118.1px,#e6e516 131.1px,#f8e71e 151.6px,#f8e71e 190.6px)"></i><i style="left:119.0px;width:1.1px;background:linear-gradient(#f8e71e 0.0px,#f6e71d 80.0px,#e3e416 85.0px,#cae11b 88.0px,#a0da37 92.0px,#8dd645 94.0px,#85d44a 97.6px,#cce11a 117.6px,#e6e516 130.6px,#f8e71e 149.6px,#f8e71e 190.6px)"></i><i style="left:120.0px;width:1.1px;background:linear-gradient(#f8e71e 0.0px,#f6e71d 79.5px,#e1e415 85.0px,#c7e01d 88.0px,#8ed645 93.5px,#82d44c 97.1px,#cce11a 117.6px,#e5e416 130.1px,#f7e71e 147.1px,#f8e71e 190.6px)"></i><i style="left:121.0px;width:1.1px;background:linear-gradient(#f8e71e 0.0px,#f5e71d 79.5px,#e2e415 84.5px,#c8e11c 87.5px,#8fd744 93.0px,#81d34d 97.1px,#cae11b 117.1px,#e4e416 129.6px,#f3e61c 142.6px,#f8e71e 155.1px,#f8e71e 190.6px)"></i><i style="left:122.0px;width:1.1px;background:linear-gradient(#f8e71e 0.0px,#f6e71d 79.0px,#e3e416 84.0px,#c9e11b 87.0px,#8ed645 93.0px,#7ed34e 96.6px,#cae11b 117.1px,#e4e416 129.6px,#f3e61b 141.6px,#f8e71e 153.6px,#f8e71e 190.6px)"></i><i style="left:123.0px;width:1.1px;background:linear-gradient(#f8e71e 0.0px,#f7e71d 78.5px,#e1e415 84.0px,#c6e01d 87.0px,#8cd646 93.0px,#7bd250 96.1px,#c9e11c 116.6px,#e4e416 129.1px,#f1e61a 139.6px,#f8e71e 151.6px,#f8e71e 190.6px)"></i><i style="left:124.0px;width:1.1px;background:linear-gradient(#f8e71e 0.0px,#f6e71d 78.5px,#e2e415 83.5px,#c8e11c 86.5px,#8dd645 92.5px,#79d151 95.6px,#c8e11c 116.6px,#e3e415 128.6px,#f0e61a 138.1px,#f8e71e 150.6px,#f8e71e 190.6px)"></i><i style="left:125.0px;width:1.1px;background:linear-gradient(#f8e71e 0.0px,#f6e71d 78.0px,#e0e415 83.5px,#c5e01e 86.5px,#8bd647 92.5px,#78d152 95.0px,#91d742 101.6px,#c8e11c 116.6px,#e3e416 128.6px,#f0e61a 137.6px,#f8e71e 150.1px,#f8e71e 190.6px)"></i><i style="left:126.0px;width:1.1px;background:linear-gradient(#f8e71e 0.0px,#f5e71d 78.0px,#e1e415 83.0px,#c6e01d 86.0px,#83d44b 93.0px,#74d054 95.0px,#aedd2d 109.1px,#cae11b 117.6px,#e5e416 129.1px,#f1e61a 138.1px,#f8e71e 150.1px,#f8e71e 190.6px)"></i><i style="left:127.0px;width:1.1px;background:linear-gradient(#f8e71e 0.0px,#f6e71d 77.5px,#e2e415 82.5px,#c7e01c 85.5px,#7bd250 93.5px,#73d055 94.5px,#c4e01e 115.1px,#e0e415 127.1px,#eee619 135.1px,#f8e71e 149.1px,#f8e71e 190.6px)"></i><i style="left:128.0px;width:1.1px;background:linear-gradient(#f8e71e 0.0px,#f6e71d 77.0px,#e2e415 82.0px,#c7e01c 85.0px,#7dd24f 93.0px,#74d055 94.0px,#c6e01d 116.1px,#e0e415 127.1px,#eee619 135.1px,#f8e71e 149.1px,#f8e71e 190.6px)"></i><i style="left:129.0px;width:1.1px;background:linear-gradient(#f8e71e 0.0px,#f6e71d 76.5px,#e3e415 81.5px,#c7e01c 84.5px,#7ed24f 92.5px,#76d054 93.5px,#a0da38 105.6px,#c7e01d 116.6px,#e2e415 127.6px,#f0e61a 136.6px,#f8e71e 149.1px,#f8e71e 190.6px)"></i><i style="left:130.0px;width:1.1px;background:linear-gradient(#f8e71e 0.0px,#f6e71d 76.0px,#dee415 81.5px,#c3e01f 84.5px,#7fd34e 92.0px,#77d153 93.0px,#93d741 102.6px,#c4e01e 115.6px,#dee415 126.1px,#eee619 135.1px,#f8e71e 148.6px,#f8e71e 190.6px)"></i><i style="left:131.0px;width:1.1px;background:linear-gradient(#f8e71e 0.0px,#f6e71d 75.5px,#dfe415 81.0px,#c2e01f 84.0px,#80d34d 91.5px,#78d152 92.5px,#8dd645 101.1px,#c4e01e 115.6px,#dfe415 126.1px,#efe61a 136.1px,#f8e71e 149.1px,#f8e71e 190.6px)"></i><i style="left:132.0px;width:1.1px;background:linear-gradient(#f8e71e 0.0px,#f5e71d 75.5px,#dfe415 80.5px,#c2e01f 83.5px,#82d34c 91.0px,#7ad251 92.0px,#88d548 100.1px,#c1df20 114.6px,#dce315 125.1px,#efe619 135.6px,#f8e71e 148.6px,#f8e71e 190.6px)"></i><i style="left:133.0px;width:1.1px;background:linear-gradient(#f8e71e 0.0px,#f6e71d 75.0px,#dfe415 80.0px,#c2e01f 83.0px,#83d44b 90.5px,#7bd250 92.0px,#85d44a 99.6px,#bedf22 113.6px,#dae315 124.1px,#efe619 135.1px,#f8e71e 148.6px,#f8e71e 190.6px)"></i><i style="left:134.0px;width:1.1px;background:linear-gradient(#f8e71e 0.0px,#f6e71d 74.5px,#e0e415 79.5px,#c3e01f 82.5px,#81d34d 90.5px,#7ed24f 92.0px,#83d44b 99.1px,#bcdf23 113.1px,#d8e316 123.1px,#eee619 134.6px,#f8e71e 148.1px,#f8e71e 190.6px)"></i><i style="left:135.0px;width:1.1px;background:linear-gradient(#f8e71e 0.0px,#f6e71d 74.0px,#e0e415 79.0px,#c8e11c 81.5px,#86d549 89.5px,#7fd34e 91.0px,#7fd34e 97.1px,#81d34d 98.6px,#b9de25 112.1px,#d7e316 122.6px,#eee619 134.6px,#f8e71e 148.1px,#f8e71e 190.6px)"></i><i style="left:136.0px;width:1.1px;background:linear-gradient(#f8e71e 0.0px,#f6e71d 73.5px,#e1e415 78.5px,#c8e11c 81.0px,#8bd646 88.5px,#80d34d 90.5px,#7fd34e 96.1px,#7ed34e 98.1px,#b7de26 111.6px,#d5e216 121.6px,#eee619 134.1px,#f8e71e 148.1px,#f8e71e 190.6px)"></i><i style="left:137.0px;width:1.1px;background:linear-gradient(#f8e71e 0.0px,#f6e71d 73.0px,#e1e415 78.0px,#c8e11c 80.5px,#94d841 87.0px,#82d44c 90.0px,#7ed34f 95.6px,#7ad251 97.1px,#b4de29 110.6px,#d4e217 121.1px,#eee619 134.1px,#f8e71e 148.1px,#f8e71e 190.6px)"></i><i style="left:138.0px;width:1.1px;background:linear-gradient(#f8e71e 0.0px,#f5e71d 73.0px,#e1e415 77.5px,#c9e11c 80.0px,#a0da38 85.0px,#84d44b 89.5px,#7dd24f 95.0px,#78d152 96.6px,#b2dd2a 110.1px,#d3e217 120.6px,#ede619 133.1px,#f8e71e 147.6px,#f8e71e 190.6px)"></i><i style="left:139.0px;width:1.1px;background:linear-gradient(#f8e71e 0.0px,#f5e71d 72.5px,#e2e415 77.0px,#c9e11c 79.5px,#acdc2f 83.0px,#88d548 88.5px,#7cd250 94.5px,#78d152 96.6px,#afdd2d 109.1px,#d1e218 119.6px,#eae517 131.1px,#f8e71e 145.6px,#f8e71e 190.6px)"></i><i style="left:140.0px;width:1.1px;background:linear-gradient(#f8e71e 0.0px,#f6e71d 72.0px,#e2e415 76.5px,#c9e11b 79.0px,#b0dd2c 82.0px,#8ad547 88.0px,#7bd250 94.0px,#75d054 96.1px,#abdc2f 108.1px,#cfe119 118.6px,#e8e517 129.6px,#f8e71e 144.6px,#f8e71e 190.6px)"></i><i style="left:141.0px;width:1.1px;background:linear-gradient(#f8e71e 0.0px,#f6e71d 71.5px,#dee315 76.5px,#bfdf21 79.5px,#8cd646 87.5px,#7dd24f 93.0px,#73d055 95.6px,#a7db32 107.1px,#cee119 118.1px,#e7e516 129.1px,#f8e71e 144.6px,#f8e71e 190.6px)"></i><i style="left:142.0px;width:1.1px;background:linear-gradient(#f8e71e 0.0px,#f6e71d 71.0px,#dee415 76.0px,#c4e01e 78.5px,#addc2d 81.5px,#8cd646 87.5px,#7dd24f 92.5px,#71cf57 95.0px,#a3db35 106.1px,#cde11a 117.6px,#e6e516 128.6px,#f8e71e 144.1px,#f8e71e 190.6px)"></i><i style="left:143.0px;width:1.1px;background:linear-gradient(#f8e71e 0.0px,#f7e71d 70.5px,#dee415 75.5px,#c5e01e 78.0px,#b1dd2b 80.5px,#8ed645 87.0px,#7dd24f 92.0px,#6ece58 94.5px,#a1da36 105.6px,#cce11a 117.1px,#e5e416 128.1px,#f8e71e 142.6px,#f8e71e 190.6px)"></i><i style="left:144.0px;width:1.1px;background:linear-gradient(#f8e71e 0.0px,#f7e71e 70.0px,#dfe415 75.0px,#c5e01e 77.5px,#b4de28 79.5px,#92d742 86.0px,#7cd250 91.5px,#6cce59 94.0px,#a1da36 105.6px,#cae11b 116.6px,#e5e416 127.6px,#f7e71e 141.6px,#f8e71e 190.6px)"></i><i style="left:145.0px;width:1.1px;background:linear-gradient(#f8e71e 0.0px,#f5e71d 70.0px,#e0e415 74.5px,#c6e01d 77.0px,#b8de26 78.5px,#93d841 85.5px,#7dd24f 91.0px,#6bcd5a 93.5px,#a2da36 105.6px,#cbe11b 116.6px,#e5e416 127.6px,#f8e71e 142.1px,#f8e71e 190.6px)"></i><i style="left:146.0px;width:1.1px;background:linear-gradient(#f8e71e 0.0px,#f6e71d 69.5px,#e2e415 74.0px,#c8e01c 76.5px,#b6de27 78.5px,#92d742 85.5px,#7bd250 91.0px,#6dce59 93.0px,#c8e11c 115.6px,#e2e415 126.1px,#f2e61b 135.6px,#f8e71e 145.1px,#f8e71e 190.6px)"></i><i style="left:147.0px;width:1.1px;background:linear-gradient(#f8e71e 0.0px,#f5e71d 69.5px,#dfe415 74.0px,#c4e01e 76.5px,#b4de28 78.5px,#92d742 85.5px,#7dd24f 90.5px,#6dce59 93.0px,#c7e01c 115.1px,#e2e415 125.6px,#f2e61b 135.6px,#f8e71e 145.1px,#f8e71e 190.6px)"></i><i style="left:148.0px;width:1.1px;background:linear-gradient(#f8e71e 0.0px,#f6e71d 69.0px,#e1e415 73.5px,#c6e01d 76.0px,#b5de28 78.0px,#91d743 85.5px,#7bd250 90.5px,#6ece58 92.5px,#8bd646 100.1px,#c8e11c 115.1px,#e1e415 125.1px,#f2e61b 135.1px,#f8e71e 145.1px,#f8e71e 190.6px)"></i><i style="left:149.0px;width:1.1px;background:linear-gradient(#f8e71e 0.0px,#f5e71d 69.0px,#dee315 73.5px,#c3e01f 76.0px,#b4de29 78.0px,#92d742 85.0px,#7dd24f 90.0px,#70cf57 92.5px,#86d549 99.1px,#c7e01d 114.6px,#e1e415 124.6px,#f2e61b 134.6px,#f8e71e 144.6px,#f8e71e 190.6px)"></i><i style="left:150.0px;width:1.1px;background:linear-gradient(#f8e71e 0.0px,#f6e71d 68.5px,#e0e415 73.0px,#c5e01d 75.5px,#b7de26 77.0px,#91d743 85.0px,#7cd250 90.0px,#70cf57 92.0px,#84d44b 98.6px,#c4e01e 113.6px,#dee315 123.1px,#f0e61a 133.1px,#f8e71e 144.1px,#f8e71e 190.6px)"></i><i style="left:151.0px;width:1.1px;background:linear-gradient(#f8e71e 0.0px,#f5e71d 68.5px,#dde315 73.0px,#bcdf23 76.0px,#93d841 84.0px,#7ed24f 89.5px,#71cf56 91.5px,#81d34c 98.1px,#c1e020 112.6px,#dce315 122.1px,#f0e61a 132.6px,#f8e71e 144.1px,#f8e71e 190.6px)"></i><i style="left:152.0px;width:1.1px;background:linear-gradient(#f8e71e 0.0px,#f6e71d 68.0px,#dfe415 72.5px,#c4e01e 75.0px,#b7de27 76.5px,#91d743 84.5px,#7cd24f 89.5px,#73d055 91.5px,#7fd34e 97.6px,#bcdf23 111.1px,#d8e316 120.1px,#f0e61a 132.1px,#f8e71e 143.6px,#f8e71e 190.6px)"></i><i style="left:153.0px;width:1.1px;background:linear-gradient(#f8e71e 0.0px,#f5e71d 68.0px,#e1e415 72.0px,#c6e01d 74.5px,#b5de28 76.5px,#90d743 84.5px,#7bd250 89.5px,#73d055 91.0px,#7cd250 97.1px,#b6de27 109.6px,#d5e217 118.6px,#efe619 130.6px,#f8e71e 142.6px,#f8e71e 190.6px)"></i><i style="left:154.0px;width:1.1px;background:linear-gradient(#f8e71e 0.0px,#f6e71d 67.5px,#dee315 72.0px,#c3e01f 74.5px,#b6de27 76.0px,#8fd744 84.5px,#78d152 90.0px,#76d153 92.0px,#7cd24f 97.1px,#b4de28 109.1px,#d4e217 118.1px,#ede619 129.6px,#f8e71e 142.1px,#f8e71e 190.6px)"></i><i style="left:155.0px;width:1.1px;background:linear-gradient(#f8e71e 0.0px,#f5e71d 67.5px,#e0e415 71.5px,#c5e01e 74.0px,#b7de27 75.5px,#90d743 84.0px,#7ad251 89.5px,#76d153 91.0px,#7ad151 96.6px,#b1dd2b 108.1px,#d2e217 117.1px,#ebe518 128.1px,#f8e71e 141.6px,#f8e71e 190.6px)"></i><i style="left:156.0px;width:1.1px;background:linear-gradient(#f8e71e 0.0px,#f6e71d 67.0px,#dde315 71.5px,#c2e020 74.0px,#b3dd29 76.0px,#8fd744 84.0px,#77d153 90.5px,#77d153 96.1px,#addc2e 107.1px,#d1e218 116.6px,#eae517 127.1px,#f8e71e 140.6px,#f8e71e 190.6px)"></i><i style="left:157.0px;width:1.1px;background:linear-gradient(#f8e71e 0.0px,#f5e71d 67.0px,#dfe415 71.0px,#c4e01e 73.5px,#b6de27 75.0px,#8fd744 84.0px,#78d152 90.5px,#77d153 96.1px,#abdc2f 106.6px,#d0e218 116.1px,#e9e517 126.6px,#f8e71e 139.6px,#f8e71e 190.6px)"></i><i style="left:158.0px;width:1.1px;background:linear-gradient(#f8e71e 0.0px,#f6e71d 66.5px,#e1e415 70.5px,#c6e01d 73.0px,#b7de26 74.5px,#90d743 83.5px,#79d152 90.0px,#74d054 95.6px,#a9dc31 106.1px,#d1e218 116.1px,#eae517 126.6px,#f8e71e 139.6px,#f8e71e 190.6px)"></i><i style="left:159.0px;width:1.1px;background:linear-gradient(#f8e71e 0.0px,#f5e71d 66.5px,#dee315 70.5px,#c2e01f 73.0px,#b6de28 74.5px,#8fd744 83.5px,#7ad151 90.0px,#72cf56 95.0px,#a7db32 105.6px,#cfe218 115.6px,#e9e517 126.1px,#f7e71e 137.6px,#f8e71e 190.6px)"></i><i style="left:160.0px;width:1.1px;background:linear-gradient(#f8e71e 0.0px,#f7e71d 66.0px,#e0e415 70.0px,#c5e01e 72.5px,#b7de27 74.0px,#90d743 83.0px,#7ad251 90.0px,#72cf56 95.0px,#a5db34 105.1px,#d0e218 115.6px,#e9e517 126.1px,#f7e71d 137.1px,#f8e71e 190.6px)"></i><i style="left:161.0px;width:1.1px;background:linear-gradient(#f8e71e 0.0px,#f5e71d 66.0px,#dce315 70.0px,#c1e020 72.5px,#b5de28 74.0px,#90d743 83.0px,#7ad251 90.5px,#6fce58 94.5px,#a3db35 104.6px,#d1e218 115.6px,#eae517 126.1px,#f6e71d 136.6px,#f8e71e 190.6px)"></i><i style="left:162.0px;width:1.1px;background:linear-gradient(#f8e71e 0.0px,#f7e71d 65.5px,#dfe415 69.5px,#c3e01f 72.0px,#b6de27 73.5px,#90d743 82.5px,#6ece58 94.5px,#a1da37 104.1px,#d0e218 115.1px,#e9e517 125.6px,#f5e71c 134.6px,#f8e71e 162.6px,#f8e71e 190.6px)"></i><i style="left:163.0px;width:1.1px;background:linear-gradient(#f8e71e 0.0px,#f5e71d 65.5px,#dbe315 69.5px,#b7de27 73.0px,#91d742 82.0px,#6ece58 93.5px,#6ece58 94.5px,#a1da37 104.1px,#d0e218 115.1px,#e9e517 125.6px,#f4e71c 133.6px,#f8e71e 147.6px,#f8e71e 190.6px)"></i><i style="left:164.0px;width:1.1px;background:linear-gradient(#f8e71e 0.0px,#f7e71d 65.0px,#dee315 69.0px,#c2e01f 71.5px,#b5de28 73.0px,#91d743 82.0px,#74d054 91.5px,#6bcd5a 94.0px,#9fda38 103.6px,#d1e218 115.1px,#eae517 125.6px,#f5e71c 134.1px,#f8e71e 154.6px,#f8e71e 190.6px)"></i><i style="left:165.0px;width:1.1px;background:linear-gradient(#f8e71e 0.0px,#f6e71d 65.0px,#dce315 69.0px,#c1e020 71.5px,#b5de28 73.0px,#92d742 81.5px,#75d054 91.5px,#6dce59 94.0px,#a2da36 104.1px,#d1e218 115.1px,#eae517 125.6px,#f5e71c 134.1px,#f8e71e 170.1px,#f8e71e 190.6px)"></i><i style="left:166.0px;width:1.1px;background:linear-gradient(#f8e71e 0.0px,#f5e71d 65.0px,#dbe315 69.0px,#b7de27 72.5px,#92d742 81.5px,#75d054 91.5px,#6dce59 93.5px,#a3db35 104.1px,#d1e218 114.6px,#eae517 125.1px,#f5e71c 133.6px,#f8e71e 164.6px,#f8e71e 190.6px)"></i><i style="left:167.0px;width:1.1px;background:linear-gradient(#f8e71e 0.0px,#f7e71e 64.5px,#dfe415 68.5px,#c4e01e 71.0px,#b7de27 72.5px,#93d742 81.5px,#76d054 91.5px,#6fcf58 93.5px,#a5db34 104.1px,#d1e218 114.6px,#eae517 125.1px,#f6e71d 134.6px,#f8e71e 190.6px)"></i><i style="left:168.0px;width:1.1px;background:linear-gradient(#f8e71e 0.0px,#f7e71e 64.5px,#dee415 68.5px,#c3e01f 71.0px,#b6de27 72.5px,#94d841 81.0px,#76d153 91.5px,#71cf56 93.5px,#aadc30 105.1px,#d2e217 114.6px,#ebe517 125.1px,#f6e71d 135.1px,#f8e71e 190.6px)"></i><i style="left:169.0px;width:1.1px;background:linear-gradient(#f8e71e 0.0px,#f6e71d 64.5px,#dde315 68.5px,#c2e01f 71.0px,#b6de27 72.5px,#94d841 81.0px,#77d153 91.5px,#71cf56 93.0px,#8fd744 99.1px,#cbe11a 112.6px,#e2e415 121.1px,#f4e71c 131.1px,#f8e71e 150.1px,#f8e71e 190.6px)"></i><i style="left:170.0px;width:1.1px;background:linear-gradient(#f8e71e 0.0px,#f6e71d 64.5px,#dce315 68.5px,#bcdf23 71.5px,#96d83f 80.5px,#78d152 91.5px,#75d054 93.5px,#b2dd2a 106.6px,#d5e217 115.1px,#efe619 126.6px,#f8e71e 138.6px,#f8e71e 190.6px)"></i><i style="left:171.0px;width:1.1px;background:linear-gradient(#f8e71e 0.0px,#f6e71d 62.0px,#f5e71c 64.5px,#dbe315 68.5px,#b8de26 72.0px,#96d83f 80.5px,#77d153 92.0px,#78d152 94.0px,#b1dd2b 106.1px,#d4e217 114.6px,#ede618 125.6px,#f7e71e 136.1px,#f8e71e 190.6px)"></i><i style="left:172.0px;width:1.1px;background:linear-gradient(#f8e71e 0.0px,#f6e71d 62.0px,#f5e71c 63.5px,#f4e71c 64.5px,#dae315 68.5px,#b8de26 72.0px,#96d83f 80.5px,#77d153 93.0px,#88d548 97.1px,#bbdf24 108.1px,#d8e316 115.6px,#f3e61c 129.6px,#f8e71e 146.6px,#f8e71e 190.6px)"></i><i style="left:173.0px;width:1.1px;background:linear-gradient(#f8e71e 0.0px,#f7e71e 61.5px,#f2e61b 63.0px,#f4e61c 64.5px,#dee315 68.0px,#c4e01e 70.5px,#b8de26 72.0px,#97d83f 80.5px,#79d151 93.0px,#87d549 96.6px,#bcdf24 108.1px,#d8e316 115.6px,#f4e71c 130.1px,#f8e71e 159.1px,#f8e71e 190.6px)"></i><i style="left:174.0px;width:1.1px;background:linear-gradient(#f8e71e 0.0px,#f7e71e 61.5px,#f0e61a 63.0px,#f3e61b 64.5px,#dde315 68.0px,#bedf22 71.0px,#98d83e 80.0px,#7bd250 93.0px,#88d548 96.6px,#c3e01f 109.6px,#dbe315 116.6px,#f6e71d 130.6px,#f8e71e 190.6px)"></i><i style="left:175.0px;width:1.1px;background:linear-gradient(#f8e71e 0.0px,#f7e71d 61.5px,#efe619 63.0px,#f2e61b 64.5px,#dce315 68.0px,#bade25 71.5px,#98d93d 80.0px,#7dd24f 93.0px,#8ad547 96.6px,#cae11b 111.1px,#dee315 117.6px,#f6e71d 131.1px,#f8e71e 190.6px)"></i><i style="left:176.0px;width:1.1px;background:linear-gradient(#f8e71e 0.0px,#f6e71d 61.5px,#ede619 63.0px,#f2e61b 64.5px,#dbe315 68.0px,#bade25 71.5px,#99d93d 80.0px,#7ed34e 93.0px,#86d549 95.6px,#c4e01e 109.6px,#dce315 116.6px,#f6e71d 131.1px,#f8e71e 190.6px)"></i><i style="left:177.0px;width:1.1px;background:linear-gradient(#f8e71e 0.0px,#f6e71d 61.5px,#ece518 63.0px,#f1e61a 64.5px,#dae315 68.0px,#b9de25 71.5px,#99d93d 80.0px,#80d34e 93.0px,#87d549 95.6px,#c9e11b 110.6px,#dee315 117.1px,#f7e71d 131.1px,#f8e71e 190.6px)"></i><i style="left:178.0px;width:1.1px;background:linear-gradient(#f8e71e 0.0px,#f6e71d 61.5px,#eae517 63.0px,#f0e61a 64.5px,#dee315 67.5px,#c0df21 70.5px,#9bd93b 79.0px,#81d34d 93.0px,#89d548 95.6px,#cae11b 110.6px,#dee415 117.1px,#f7e71e 131.1px,#f8e71e 190.6px)"></i><i style="left:179.0px;width:1.1px;background:linear-gradient(#f8e71e 0.0px,#f6e71d 61.5px,#ebe517 62.5px,#e9e517 63.0px,#f0e61a 64.5px,#dde315 67.5px,#bbdf24 71.0px,#9bd93c 79.5px,#82d44c 93.5px,#cce11a 111.1px,#dfe415 117.1px,#f7e71e 131.1px,#f8e71e 190.6px)"></i><i style="left:180.0px;width:1.1px;background:linear-gradient(#f8e71e 0.0px,#f6e71d 61.5px,#e9e517 62.5px,#e7e516 63.0px,#efe619 64.5px,#dce315 67.5px,#bbdf24 71.0px,#9bd93b 79.5px,#83d44b 93.5px,#cde11a 111.1px,#dfe415 117.1px,#f7e71e 131.6px,#f8e71e 190.6px)"></i><i style="left:181.0px;width:1.1px;background:linear-gradient(#f8e71e 0.0px,#f5e71d 61.5px,#e8e517 62.5px,#e6e516 63.0px,#eee619 64.5px,#dbe315 67.5px,#bbdf24 71.0px,#9cd93a 79.0px,#84d44b 93.5px,#cbe11a 110.6px,#dfe415 116.6px,#f7e71e 131.1px,#f8e71e 190.6px)"></i><i style="left:182.0px;width:1.1px;background:linear-gradient(#f8e71e 0.0px,#f5e71d 61.5px,#e6e516 62.5px,#e3e416 63.0px,#ede619 64.5px,#dae315 67.5px,#bbdf24 71.0px,#9cd93a 79.0px,#85d44a 93.5px,#cce11a 110.6px,#dee415 116.1px,#f8e71e 131.1px,#f8e71e 190.6px)"></i><i style="left:183.0px;width:1.1px;background:linear-gradient(#f8e71e 0.0px,#f7e71e 61.0px,#eee619 62.0px,#e5e416 62.5px,#e1e415 63.0px,#ece518 64.0px,#e8e517 65.5px,#d0e218 68.5px,#bbdf24 71.0px,#9dd93a 79.0px,#86d549 93.5px,#cbe11b 110.1px,#dfe415 116.1px,#f8e71e 131.1px,#f8e71e 190.6px)"></i><i style="left:184.0px;width:1.1px;background:linear-gradient(#f8e71e 0.0px,#f7e71e 61.0px,#eee619 62.0px,#e4e416 62.5px,#e0e415 63.0px,#ebe518 64.0px,#ebe518 65.0px,#d5e217 68.0px,#bbdf24 71.0px,#9dda39 79.0px,#87d549 93.5px,#cbe11a 110.1px,#e0e415 116.6px,#f8e71e 131.1px,#f8e71e 190.6px)"></i><i style="left:185.0px;width:1.1px;background:linear-gradient(#f8e71e 0.0px,#f7e71e 61.0px,#f5e71c 61.5px,#e2e415 62.5px,#dee315 63.0px,#ebe518 64.0px,#ebe518 65.0px,#d5e217 68.0px,#bcdf24 71.0px,#9eda39 79.0px,#89d548 93.5px,#cae11b 109.6px,#e0e415 116.6px,#f8e71e 131.1px,#f8e71e 190.6px)"></i><i style="left:186.0px;width:1.1px;background:linear-gradient(#f8e71e 0.0px,#f7e71e 61.0px,#f4e71c 61.5px,#e1e415 62.5px,#dce315 63.0px,#eae517 64.0px,#ebe518 65.0px,#d4e217 68.0px,#bcdf23 71.0px,#9fda39 79.0px,#8ad547 93.5px,#cae11b 109.6px,#e1e415 116.6px,#f8e71e 131.1px,#f8e71e 190.6px)"></i><i style="left:187.0px;width:1.1px;background:linear-gradient(#f8e71e 0.0px,#f7e71e 61.0px,#f4e71c 61.5px,#e0e415 62.5px,#dae315 63.0px,#eae517 64.0px,#eae517 65.0px,#d4e217 68.0px,#bedf22 70.5px,#9fda38 79.0px,#8bd646 93.5px,#cbe11a 109.6px,#e1e415 116.6px,#f8e71e 131.1px,#f8e71e 190.6px)"></i><i style="left:188.0px;width:1.1px;background:linear-gradient(#f8e71e 0.0px,#f7e71e 61.0px,#f4e71c 61.5px,#dfe415 62.5px,#dae315 63.0px,#e9e517 64.0px,#eae517 65.0px,#d4e217 68.0px,#bedf22 70.5px,#a0da38 79.0px,#8cd646 93.5px,#cae11b 109.1px,#e1e415 116.6px,#f8e71e 131.1px,#f8e71e 190.6px)"></i><i style="left:189.0px;width:1.1px;background:linear-gradient(#f8e71e 0.0px,#f7e71e 61.0px,#f4e71c 61.5px,#dfe415 62.5px,#dae315 63.0px,#e9e517 64.0px,#eae517 65.0px,#d4e217 68.0px,#bedf22 70.5px,#a0da37 79.0px,#8dd645 93.5px,#cae11b 109.1px,#e1e415 116.6px,#f8e71e 130.6px,#f8e71e 190.6px)"></i><i style="left:190.0px;width:1.1px;background:linear-gradient(#f8e71e 0.0px,#f7e71e 61.0px,#f4e71c 61.5px,#dfe415 62.5px,#d9e316 63.0px,#e9e517 64.0px,#eae517 65.0px,#d4e217 68.0px,#bfdf22 70.5px,#a1da37 79.0px,#8dd645 93.0px,#cbe11b 109.1px,#e2e415 116.6px,#f8e71e 130.6px,#f8e71e 190.6px)"></i><i style="left:191.0px;width:1.1px;background:linear-gradient(#f8e71e 0.0px,#f7e71e 61.0px,#f4e71c 61.5px,#dfe415 62.5px,#d9e316 63.0px,#e9e517 64.0px,#eae517 65.0px,#d4e217 68.0px,#bfdf21 70.5px,#a1da37 79.0px,#8ed645 93.0px,#cbe11a 109.1px,#e2e415 116.6px,#f8e71e 130.6px,#f8e71e 190.6px)"></i><i style="left:192.0px;width:1.1px;background:linear-gradient(#f8e71e 0.0px,#f7e71e 61.0px,#f4e71c 61.5px,#dfe415 62.5px,#d9e316 63.0px,#e9e517 64.0px,#eae517 65.0px,#d4e217 68.0px,#bfdf21 70.5px,#a2da36 79.0px,#8fd744 93.0px,#cae11b 108.6px,#e2e415 116.6px,#f8e71e 130.6px,#f8e71e 190.6px)"></i><i style="left:193.0px;width:1.1px;background:linear-gradient(#f8e71e 0.0px,#f7e71e 61.0px,#f4e71c 61.5px,#dfe415 62.5px,#d9e316 63.0px,#e8e517 64.0px,#e9e517 65.0px,#d3e217 68.0px,#bfdf21 70.5px,#a2da36 79.0px,#90d743 93.0px,#cae11b 108.6px,#e3e415 116.6px,#f8e71e 130.6px,#f8e71e 190.6px)"></i><i style="left:194.0px;width:1.1px;background:linear-gradient(#f8e71e 0.0px,#f7e71e 61.0px,#f4e71c 61.5px,#dfe415 62.5px,#d8e316 63.0px,#e8e517 64.0px,#e9e517 65.0px,#d3e217 68.0px,#bfdf21 70.5px,#a3db35 79.0px,#91d743 93.0px,#cbe11b 108.6px,#e3e415 116.6px,#f8e71e 130.6px,#f8e71e 190.6px)"></i><i style="left:195.0px;width:1.1px;background:linear-gradient(#f8e71e 0.0px,#f7e71e 61.0px,#f4e71c 61.5px,#dfe415 62.5px,#d8e316 63.0px,#e8e517 64.0px,#e9e517 65.0px,#d3e217 68.0px,#c0df21 70.5px,#a4db34 78.5px,#92d742 93.0px,#c9e11b 108.1px,#e2e415 116.1px,#f8e71e 130.6px,#f8e71e 190.6px)"></i><i style="left:196.0px;width:1.1px;background:linear-gradient(#f8e71e 0.0px,#f7e71e 61.0px,#f4e71c 61.5px,#dee415 62.5px,#d8e316 63.0px,#e8e517 64.0px,#e9e517 65.0px,#d3e217 68.0px,#c0df21 70.5px,#a5db34 78.5px,#93d741 92.5px,#a5db33 98.1px,#cfe219 109.6px,#e5e416 117.6px,#f8e71e 130.6px,#f8e71e 190.6px)"></i><i style="left:197.0px;width:1.1px;background:linear-gradient(#f8e71e 0.0px,#f7e71e 61.0px,#f4e71c 61.5px,#dee415 62.5px,#d8e316 63.0px,#e8e517 64.0px,#e9e517 65.0px,#d3e217 68.0px,#c0df21 70.5px,#a5db33 78.5px,#94d841 92.5px,#a6db33 98.1px,#cfe218 109.6px,#e5e416 117.6px,#f8e71e 130.6px,#f8e71e 190.6px)"></i><i style="left:198.0px;width:1.1px;background:linear-gradient(#f8e71e 0.0px,#f7e71e 61.0px,#f4e71c 61.5px,#ece518 62.0px,#dee315 62.5px,#d8e316 63.0px,#e8e517 64.0px,#e9e517 65.0px,#d3e217 68.0px,#c0df20 70.5px,#a6db33 78.5px,#95d840 92.5px,#a7db32 98.1px,#d0e218 109.6px,#e5e416 117.6px,#f8e71e 130.6px,#f8e71e 190.6px)"></i><i style="left:199.0px;width:1.1px;background:linear-gradient(#f8e71e 0.0px,#f7e71e 61.0px,#f4e71c 61.5px,#ece518 62.0px,#dee315 62.5px,#d7e316 63.0px,#e7e516 64.0px,#e9e517 65.0px,#d3e217 68.0px,#c1df20 70.5px,#a6db33 78.5px,#96d83f 92.5px,#a8db32 98.1px,#d0e218 109.6px,#e7e516 118.1px,#f8e71e 130.6px,#f8e71e 190.6px)"></i><i style="left:200.0px;width:1.1px;background:linear-gradient(#f8e71e 0.0px,#f7e71e 61.0px,#f4e71c 61.5px,#ece518 62.0px,#dde315 62.5px,#d7e316 63.0px,#e7e516 64.0px,#e8e517 65.0px,#d3e217 68.0px,#c1e020 70.5px,#a7db32 78.5px,#97d83f 92.0px,#9dd93a 95.0px,#c9e11c 107.1px,#e3e415 115.6px,#f8e71e 130.6px,#f8e71e 190.6px)"></i><i style="left:201.0px;width:1.1px;background:linear-gradient(#f8e71e 0.0px,#f7e71e 61.0px,#f4e71c 61.5px,#ece518 62.0px,#dde315 62.5px,#d7e316 63.0px,#e7e516 64.0px,#e8e517 65.0px,#d3e217 68.0px,#c1e020 70.5px,#a8db32 78.5px,#98d83e 92.0px,#9eda39 95.0px,#c9e11b 107.1px,#e3e416 115.6px,#f8e71e 130.6px,#f8e71e 190.6px)"></i><i style="left:202.0px;width:1.1px;background:linear-gradient(#f8e71e 0.0px,#f7e71e 61.0px,#f4e71c 61.5px,#ece518 62.0px,#dde315 62.5px,#d7e316 63.0px,#e7e516 64.0px,#e8e517 65.0px,#d2e217 68.0px,#c1e020 70.5px,#a8dc31 78.5px,#99d93d 91.5px,#9dd93a 94.5px,#c9e11b 107.1px,#e3e416 115.6px,#f8e71e 130.6px,#f8e71e 190.6px)"></i><i style="left:203.0px;width:1.1px;background:linear-gradient(#f8e71e 0.0px,#f7e71e 61.0px,#f4e71c 61.5px,#ece518 62.0px,#dde315 62.5px,#d6e316 63.0px,#e7e516 64.0px,#e8e517 65.0px,#d2e217 68.0px,#c2e020 70.5px,#a9dc31 78.5px,#9ad93c 91.5px,#9eda39 94.5px,#cae11b 107.1px,#e3e416 115.6px,#f8e71e 130.6px,#f8e71e 190.6px)"></i><i style="left:204.0px;width:1.1px;background:linear-gradient(#f8e71e 0.0px,#f7e71e 61.0px,#f4e71c 61.5px,#ece518 62.0px,#dde315 62.5px,#d6e216 63.0px,#e7e516 64.0px,#e8e517 65.0px,#d2e217 68.0px,#c4e01e 70.0px,#a9dc30 78.5px,#9bd93c 91.0px,#9dd93a 94.0px,#c9e11c 106.6px,#e2e415 115.1px,#f8e71e 130.6px,#f8e71e 190.6px)"></i><i style="left:205.0px;width:1.1px;background:linear-gradient(#f8e71e 0.0px,#f7e71e 61.0px,#f4e71c 61.5px,#ebe518 62.0px,#dce315 62.5px,#d6e216 63.0px,#e6e516 64.0px,#e8e517 65.0px,#d2e217 68.0px,#c4e01e 70.0px,#aadc30 78.5px,#9cd93b 91.0px,#9eda39 94.0px,#c9e11b 106.6px,#e4e416 115.6px,#f8e71e 130.6px,#f8e71e 190.6px)"></i><i style="left:206.0px;width:1.1px;background:linear-gradient(#f8e71e 0.0px,#f7e71e 61.0px,#f4e71c 61.5px,#ebe518 62.0px,#dce315 62.5px,#d6e216 63.0px,#e6e516 64.0px,#e8e517 65.0px,#cee119 68.5px,#c2e01f 70.5px,#aadc30 78.5px,#9cd93a 91.0px,#9eda39 94.0px,#cae11b 106.6px,#e4e416 115.6px,#f8e71e 130.6px,#f8e71e 190.6px)"></i><i style="left:207.0px;width:1.1px;background:linear-gradient(#f8e71e 0.0px,#f7e71e 61.0px,#f4e71c 61.5px,#ebe518 62.0px,#dce315 62.5px,#d6e216 63.0px,#e6e516 64.0px,#e8e517 65.0px,#cee119 68.5px,#c3e01f 70.5px,#abdc2f 78.5px,#9dda39 90.5px,#9fda38 94.0px,#cae11b 106.6px,#e4e416 115.6px,#f8e71e 130.6px,#f8e71e 190.6px)"></i><i style="left:208.0px;width:1.1px;background:linear-gradient(#f8e71e 0.0px,#f7e71e 61.0px,#f4e71c 61.5px,#ebe518 62.0px,#dce315 62.5px,#d6e216 63.0px,#e6e516 64.0px,#e8e517 65.0px,#cfe119 68.5px,#c3e01f 70.5px,#acdc2f 78.5px,#9eda39 90.5px,#a0da37 94.0px,#cbe11a 106.6px,#e5e416 115.6px,#f8e71e 130.6px,#f8e71e 190.6px)"></i><i style="left:209.0px;width:1.1px;background:linear-gradient(#f8e71e 0.0px,#f7e71e 61.0px,#f4e71c 61.5px,#ebe518 62.0px,#dce315 62.5px,#d6e216 63.0px,#e6e516 64.0px,#e8e517 65.0px,#cfe219 68.5px,#c4e01e 70.5px,#addc2e 78.5px,#9fda38 91.0px,#a3db35 94.5px,#cbe11a 106.6px,#e5e416 115.6px,#f8e71e 130.6px,#f8e71e 190.6px)"></i><i style="left:210.0px;width:1.1px;background:linear-gradient(#f8e71e 0.0px,#f7e71e 61.0px,#f4e71c 61.5px,#ebe518 62.0px,#dce315 62.5px,#d6e216 63.0px,#e6e516 64.0px,#e8e517 65.0px,#d0e218 68.5px,#c4e01e 70.5px,#aedc2d 78.5px,#a1da37 91.0px,#a4db34 94.5px,#cce11a 106.6px,#e6e516 116.1px,#f8e71e 130.6px,#f8e71e 190.6px)"></i><i style="left:211.0px;width:1.1px;background:linear-gradient(#f8e71e 0.0px,#f7e71e 61.0px,#f4e71c 61.5px,#ebe518 62.0px,#dce315 62.5px,#d6e216 63.0px,#e7e516 64.0px,#e8e517 65.0px,#d0e218 68.5px,#c5e01e 70.5px,#aedd2d 78.5px,#a2da36 91.0px,#a5db34 94.5px,#cde11a 106.6px,#e6e516 116.1px,#f8e71e 130.6px,#f8e71e 190.6px)"></i><i style="left:212.0px;width:1.1px;background:linear-gradient(#f8e71e 0.0px,#f7e71e 61.0px,#f4e71c 61.5px,#ebe518 62.0px,#dce315 62.5px,#d6e216 63.0px,#e7e516 64.0px,#e8e517 65.0px,#d0e218 68.5px,#c6e01d 70.5px,#afdd2c 78.5px,#a3db36 91.0px,#a6db33 94.5px,#cde119 106.6px,#e6e516 116.1px,#f8e71e 130.6px,#f8e71e 190.6px)"></i><i style="left:213.0px;width:1.1px;background:linear-gradient(#f8e71e 0.0px,#f7e71e 61.0px,#f4e71c 61.5px,#ebe518 62.0px,#dce315 62.5px,#d6e216 63.0px,#e7e516 64.0px,#e9e517 65.0px,#d1e218 68.5px,#c6e01d 70.5px,#b0dd2c 78.5px,#a4db35 91.0px,#a7db32 94.5px,#cee119 106.6px,#e7e516 116.1px,#f8e71e 130.6px,#f8e71e 190.6px)"></i><i style="left:214.0px;width:1.1px;background:linear-gradient(#f8e71e 0.0px,#f7e71e 61.0px,#f4e71c 61.5px,#ebe518 62.0px,#dce315 62.5px,#d6e216 63.0px,#e7e516 64.0px,#e9e517 65.0px,#d1e218 68.5px,#c7e01d 70.5px,#b1dd2b 78.5px,#a5db34 91.0px,#a8dc31 94.5px,#cde11a 106.1px,#e6e516 115.6px,#f8e71e 130.6px,#f8e71e 190.6px)"></i><i style="left:215.0px;width:1.1px;background:linear-gradient(#f8e71e 0.0px,#f7e71e 61.0px,#f4e71c 61.5px,#ebe518 62.0px,#dce315 62.5px,#d6e216 63.0px,#e7e516 64.0px,#e9e517 65.0px,#d2e218 68.5px,#c7e01c 70.5px,#b2dd2a 78.5px,#a6db33 91.0px,#a9dc31 94.5px,#cde119 106.1px,#e7e516 116.1px,#f8e71e 130.6px,#f8e71e 190.6px)"></i><i style="left:216.0px;width:1.1px;background:linear-gradient(#f8e71e 0.0px,#f7e71e 61.0px,#f4e71c 61.5px,#ebe518 62.0px,#dce315 62.5px,#d6e216 63.0px,#e7e516 64.0px,#e9e517 65.0px,#d2e217 68.5px,#c8e11c 70.5px,#b2dd2a 78.5px,#a7db32 91.0px,#aadc30 94.5px,#cee119 106.1px,#e7e516 116.1px,#f8e71e 130.6px,#f8e71e 190.6px)"></i><i style="left:217.0px;width:1.1px;background:linear-gradient(#f8e71e 0.0px,#f7e71e 61.0px,#f4e71c 61.5px,#ebe518 62.0px,#dce315 62.5px,#d6e216 63.0px,#e7e516 64.0px,#e9e517 65.0px,#d2e217 68.5px,#c7e01d 71.0px,#b3dd2a 79.0px,#a8db32 91.0px,#abdc2f 94.5px,#cfe119 106.1px,#e8e517 116.1px,#f8e71e 130.6px,#f8e71e 190.6px)"></i><i style="left:218.0px;width:1.1px;background:linear-gradient(#f8e71e 0.0px,#f7e71e 61.0px,#f4e71c 61.5px,#ebe518 62.0px,#dce315 62.5px,#d6e216 63.0px,#e7e516 64.0px,#e9e517 65.0px,#d3e217 68.5px,#c7e01c 71.0px,#b3dd29 79.0px,#a9dc31 91.5px,#addc2d 95.0px,#d0e218 106.6px,#eae517 117.6px,#f8e71e 131.1px,#f8e71e 190.6px)"></i><i style="left:219.0px;width:1.1px;background:linear-gradient(#f8e71e 0.0px,#f7e71e 61.0px,#f4e71c 61.5px,#ebe518 62.0px,#dce315 62.5px,#d6e216 63.0px,#e7e516 64.0px,#e9e517 65.0px,#d0e218 69.0px,#b5de28 78.5px,#aadc30 91.5px,#aedd2d 95.0px,#d1e218 106.6px,#eae517 117.6px,#f8e71e 131.1px,#f8e71e 190.6px)"></i><i style="left:220.0px;width:1.1px;background:linear-gradient(#f8e71e 0.0px,#f7e71e 61.0px,#f4e71c 61.5px,#ebe518 62.0px,#dce315 62.5px,#d6e216 63.0px,#e7e516 64.0px,#e9e517 65.0px,#d0e218 69.0px,#b6de28 78.5px,#abdc2f 91.5px,#afdd2c 95.0px,#d1e218 106.6px,#eae517 117.6px,#f8e71e 131.1px,#f8e71e 190.6px)"></i><i style="left:221.0px;width:1.1px;background:linear-gradient(#f8e71e 0.0px,#f7e71e 61.0px,#f4e71c 61.5px,#ebe518 62.0px,#dce315 62.5px,#d6e216 63.0px,#e7e516 64.0px,#eae517 65.0px,#d1e218 69.0px,#b6de27 78.5px,#acdc2f 91.5px,#b0dd2b 95.0px,#d2e217 106.6px,#ebe518 118.1px,#f8e71e 131.1px,#f8e71e 190.6px)"></i><i style="left:222.0px;width:1.1px;background:linear-gradient(#f8e71e 0.0px,#f7e71e 61.0px,#f4e71c 61.5px,#ebe518 62.0px,#dce315 62.5px,#d6e216 63.0px,#e7e516 64.0px,#eae517 65.0px,#d1e218 69.0px,#b7de26 78.5px,#addc2e 91.5px,#b1dd2b 95.0px,#d3e217 106.6px,#ebe518 118.1px,#f8e71e 131.1px,#f8e71e 190.6px)"></i><i style="left:223.0px;width:1.1px;background:linear-gradient(#f8e71e 0.0px,#f7e71e 61.0px,#f4e71c 61.5px,#ebe518 62.0px,#dce315 62.5px,#d6e216 63.0px,#e8e517 64.0px,#eae517 65.0px,#d2e218 69.0px,#b8de26 78.5px,#aedd2d 91.5px,#b2dd2a 95.0px,#d2e217 106.1px,#ebe518 118.1px,#f8e71e 131.1px,#f8e71e 190.6px)"></i><i style="left:224.0px;width:1.1px;background:linear-gradient(#f8e71e 0.0px,#f7e71e 61.0px,#f4e71c 61.5px,#ebe518 62.0px,#dce315 62.5px,#d6e216 63.0px,#e8e517 64.0px,#eae517 65.0px,#d2e217 69.0px,#b9de25 78.5px,#afdd2c 92.0px,#b6de27 96.1px,#d5e217 107.1px,#ece518 118.1px,#f8e71e 131.1px,#f8e71e 190.6px)"></i><i style="left:225.0px;width:1.1px;background:linear-gradient(#f8e71e 0.0px,#f7e71e 61.0px,#f4e71c 61.5px,#ebe518 62.0px,#dce315 62.5px,#d6e216 63.0px,#e8e517 64.0px,#eae517 65.0px,#d3e217 69.0px,#bade25 78.5px,#b0dd2b 92.0px,#b7de27 96.1px,#d5e216 107.1px,#ece518 118.1px,#f8e71e 131.1px,#f8e71e 190.6px)"></i><i style="left:226.0px;width:1.1px;background:linear-gradient(#f8e71e 0.0px,#f7e71e 61.0px,#f4e71c 61.5px,#ebe518 62.0px,#dce315 62.5px,#d6e216 63.0px,#e8e517 64.0px,#eae517 65.0px,#d3e217 69.0px,#bbdf24 78.5px,#b1dd2b 92.0px,#b8de26 96.1px,#d6e216 107.1px,#ece518 118.1px,#f8e71e 131.1px,#f8e71e 190.6px)"></i><i style="left:227.0px;width:1.1px;background:linear-gradient(#f8e71e 0.0px,#f7e71e 61.0px,#f4e71c 61.5px,#ebe518 62.0px,#dce315 62.5px,#d6e216 63.0px,#e8e517 64.0px,#eae517 65.0px,#d3e217 69.0px,#bbdf24 78.5px,#b2dd2a 92.0px,#b9de25 96.1px,#d5e216 106.6px,#ece518 118.1px,#f8e71e 131.6px,#f8e71e 190.6px)"></i><i style="left:228.0px;width:1.1px;background:linear-gradient(#f8e71e 0.0px,#f7e71e 61.0px,#f4e71c 61.5px,#ebe518 62.0px,#dce315 62.5px,#d6e316 63.0px,#e8e517 64.0px,#eae517 65.0px,#d1e218 69.5px,#bcdf23 79.0px,#b3dd29 92.5px,#bedf22 97.6px,#d9e316 108.1px,#ede518 118.6px,#f8e71e 131.6px,#f8e71e 190.6px)"></i><i style="left:229.0px;width:1.1px;background:linear-gradient(#f8e71e 0.0px,#f7e71e 61.0px,#f4e71c 61.5px,#ebe518 62.0px,#dce315 62.5px,#d6e316 63.0px,#e8e517 64.0px,#ebe517 65.0px,#d1e218 69.5px,#bddf23 79.0px,#b4de28 92.5px,#bfdf21 97.6px,#dae315 108.1px,#ede618 118.6px,#f8e71e 131.6px,#f8e71e 190.6px)"></i><i style="left:230.0px;width:1.1px;background:linear-gradient(#f8e71e 0.0px,#f7e71e 61.0px,#f4e71c 61.5px,#ebe518 62.0px,#dce315 62.5px,#d6e316 63.0px,#e8e517 64.0px,#ebe518 65.0px,#d2e217 69.5px,#bddf22 79.0px,#b5de28 93.0px,#d7e316 106.6px,#ede518 118.1px,#f8e71e 131.6px,#f8e71e 190.6px)"></i><i style="left:231.0px;width:1.1px;background:linear-gradient(#f8e71e 0.0px,#f7e71e 61.0px,#f4e71c 61.5px,#ebe518 62.0px,#dce315 62.5px,#d7e316 63.0px,#e8e517 64.0px,#ebe518 65.0px,#d2e217 69.5px,#bedf22 79.0px,#b6de27 93.0px,#d7e316 106.6px,#ede619 118.6px,#f8e71e 131.6px,#f8e71e 190.6px)"></i><i style="left:232.0px;width:1.1px;background:linear-gradient(#f8e71e 0.0px,#f7e71e 61.0px,#f4e71c 61.5px,#ebe518 62.0px,#dce315 62.5px,#d7e316 63.0px,#e8e517 64.0px,#ebe518 65.0px,#d2e218 70.0px,#bfdf21 79.0px,#b8de26 93.0px,#d8e316 106.6px,#eee619 118.6px,#f8e71e 131.6px,#f8e71e 190.6px)"></i><i style="left:233.0px;width:1.1px;background:linear-gradient(#f8e71e 0.0px,#f7e71e 61.0px,#f4e71c 61.5px,#ebe518 62.0px,#dce315 62.5px,#d7e316 63.0px,#e8e517 64.0px,#ebe518 65.0px,#d2e217 70.0px,#c0df21 79.0px,#b9de26 93.0px,#d8e316 106.6px,#eee619 118.6px,#f8e71e 131.6px,#f8e71e 190.6px)"></i><i style="left:234.0px;width:1.1px;background:linear-gradient(#f8e71e 0.0px,#f7e71e 61.0px,#f4e71c 61.5px,#ebe518 62.0px,#dce315 62.5px,#d7e316 63.0px,#e8e517 64.0px,#ebe518 65.0px,#d2e218 70.5px,#c1e020 79.0px,#bade25 93.5px,#d9e316 106.6px,#eee619 118.6px,#f8e71e 132.1px,#f8e71e 190.6px)"></i><i style="left:235.0px;width:1.1px;background:linear-gradient(#f8e71e 0.0px,#f7e71e 61.0px,#f4e71c 61.5px,#ebe518 62.0px,#dce315 62.5px,#d7e316 63.0px,#e9e517 64.0px,#ebe518 65.0px,#d2e217 70.5px,#c2e020 79.0px,#bbdf24 93.5px,#d9e316 106.6px,#eee619 118.6px,#f8e71e 132.1px,#f8e71e 190.6px)"></i><i style="left:236.0px;width:1.1px;background:linear-gradient(#f8e71e 0.0px,#f7e71e 61.0px,#f4e71c 61.5px,#ebe518 62.0px,#dce315 62.5px,#d7e316 63.0px,#e9e517 64.0px,#ebe518 65.0px,#d3e217 70.5px,#c2e01f 79.0px,#bcdf23 93.5px,#dae315 106.6px,#eee619 118.6px,#f8e71e 132.1px,#f8e71e 190.6px)"></i><i style="left:237.0px;width:1.1px;background:linear-gradient(#f8e71e 0.0px,#f7e71e 61.0px,#f4e71c 61.5px,#ebe518 62.0px,#dce315 62.5px,#d7e316 63.0px,#e9e517 64.0px,#ece518 65.0px,#d3e217 70.5px,#c3e01f 79.0px,#bddf22 94.0px,#dae315 106.1px,#eee619 118.6px,#f8e71e 132.1px,#f8e71e 190.6px)"></i><i style="left:238.0px;width:1.1px;background:linear-gradient(#f8e71e 0.0px,#f7e71e 61.0px,#f4e71c 61.5px,#ebe518 62.0px,#dce315 62.5px,#d7e316 63.0px,#e9e517 64.0px,#ece518 65.0px,#d4e217 70.5px,#c4e01e 79.0px,#bedf22 94.0px,#dae315 106.1px,#efe619 118.6px,#f8e71e 132.1px,#f8e71e 190.6px)"></i><i style="left:239.0px;width:1.1px;background:linear-gradient(#f8e71e 0.0px,#f7e71e 61.0px,#f4e71c 61.5px,#ebe518 62.0px,#dce315 62.5px,#d7e316 63.0px,#e9e517 64.0px,#ece518 65.0px,#d4e217 70.5px,#c5e01e 79.0px,#bfdf21 94.0px,#dbe315 106.1px,#efe619 119.1px,#f8e71e 132.6px,#f8e71e 190.6px)"></i><i style="left:240.0px;width:1.1px;background:linear-gradient(#f8e71e 0.0px,#f7e71e 61.0px,#f4e71c 61.5px,#ebe518 62.0px,#dce315 62.5px,#d7e316 63.0px,#e9e517 64.0px,#ece518 65.0px,#d5e217 70.5px,#c6e01d 79.0px,#c0df21 94.0px,#dce315 106.6px,#efe61a 119.1px,#f8e71e 132.6px,#f8e71e 190.6px)"></i><i style="left:241.0px;width:1.1px;background:linear-gradient(#f8e71e 0.0px,#f7e71e 61.0px,#f4e71c 61.5px,#ebe518 62.0px,#dce315 62.5px,#d7e316 63.0px,#e9e517 64.0px,#ece518 65.0px,#d5e216 70.5px,#c7e01d 79.0px,#c2e020 94.5px,#dce315 106.1px,#f0e61a 119.1px,#f8e71e 132.6px,#f8e71e 190.6px)"></i><i style="left:242.0px;width:1.1px;background:linear-gradient(#f8e71e 0.0px,#f7e71e 61.0px,#f4e71c 61.5px,#ebe518 62.0px,#dce315 62.5px,#d7e316 63.0px,#e9e517 64.0px,#ece518 65.0px,#d6e216 70.5px,#c7e01c 79.0px,#c3e01f 94.5px,#dde315 106.6px,#f0e61a 119.1px,#f8e71e 133.1px,#f8e71e 190.6px)"></i><i style="left:243.0px;width:1.1px;background:linear-gradient(#f8e71e 0.0px,#f7e71e 61.0px,#f4e71c 61.5px,#ebe518 62.0px,#dce315 62.5px,#d7e316 63.0px,#e9e517 64.0px,#ece518 65.0px,#d6e316 70.5px,#c8e11c 79.5px,#c4e01e 94.5px,#dee315 106.6px,#f0e61a 119.6px,#f8e71e 133.1px,#f8e71e 190.6px)"></i><i style="left:244.0px;width:1.1px;background:linear-gradient(#f8e71e 0.0px,#f7e71e 61.0px,#f4e71c 61.5px,#ebe518 62.0px,#dce315 62.5px,#d7e316 63.0px,#e9e517 64.0px,#ece518 65.0px,#d7e316 70.5px,#c9e11b 79.5px,#c5e01e 94.5px,#dfe415 107.1px,#f0e61a 119.6px,#f8e71e 133.1px,#f8e71e 190.6px)"></i><i style="left:245.0px;width:1.1px;background:linear-gradient(#f8e71e 0.0px,#f7e71e 61.0px,#f4e71c 61.5px,#ebe518 62.0px,#dce315 62.5px,#d7e316 63.0px,#e9e517 64.0px,#ede518 65.0px,#d8e316 70.5px,#cae11b 79.5px,#c6e01d 94.5px,#dfe415 107.1px,#f1e61a 120.1px,#f8e71e 133.6px,#f8e71e 190.6px)"></i><i style="left:246.0px;width:1.1px;background:linear-gradient(#f8e71e 0.0px,#f7e71e 61.0px,#f4e71c 61.5px,#ebe518 62.0px,#dde315 62.5px,#d7e316 63.0px,#e9e517 64.0px,#ede518 65.0px,#d8e316 70.5px,#cbe11a 79.5px,#c9e11c 95.0px,#e2e415 108.1px,#f2e61b 121.1px,#f8e71e 134.1px,#f8e71e 190.6px)"></i><i style="left:247.0px;width:1.1px;background:linear-gradient(#f8e71e 0.0px,#f7e71e 61.0px,#f4e71c 61.5px,#ebe518 62.0px,#dde315 62.5px,#d7e316 63.0px,#eae517 64.0px,#ede518 65.0px,#d9e316 70.5px,#cce11a 79.5px,#cae11b 95.0px,#e3e415 108.6px,#f2e61b 121.6px,#f8e71e 134.6px,#f8e71e 190.6px)"></i><i style="left:248.0px;width:1.1px;background:linear-gradient(#f8e71e 0.0px,#f7e71e 61.0px,#f4e71c 61.5px,#ebe518 62.0px,#dee315 62.5px,#d8e316 63.0px,#eae517 64.0px,#ede618 65.0px,#d8e316 71.0px,#cde11a 79.5px,#cbe11a 95.0px,#e4e416 109.1px,#f3e61b 122.6px,#f8e71e 135.6px,#f8e71e 190.6px)"></i><i style="left:249.0px;width:1.1px;background:linear-gradient(#f8e71e 0.0px,#f7e71e 61.0px,#f5e71c 61.5px,#e0e415 62.5px,#dbe315 63.0px,#ebe517 64.0px,#ede618 65.0px,#d9e316 71.0px,#cee119 79.5px,#cce11a 95.0px,#e5e416 109.6px,#f4e71c 124.1px,#f8e71e 141.6px,#f8e71e 190.6px)"></i><i style="left:250.0px;width:1.1px;background:linear-gradient(#f8e71e 0.0px,#f7e71e 61.0px,#eee619 62.0px,#e2e415 62.5px,#dde315 63.0px,#ebe518 64.0px,#ede619 65.0px,#d9e316 71.0px,#cee119 79.5px,#cee119 95.6px,#e7e516 110.6px,#f8e71e 128.6px,#f8e71e 190.6px)"></i><i style="left:251.0px;width:1.1px;background:linear-gradient(#f8e71e 0.0px,#f5e71d 61.5px,#e4e416 62.5px,#e0e415 63.0px,#ece518 64.0px,#ece518 65.5px,#dae315 71.0px,#cfe218 79.5px,#cfe219 95.6px,#e8e517 111.1px,#f8e71e 130.1px,#f8e71e 190.6px)"></i><i style="left:252.0px;width:1.1px;background:linear-gradient(#f8e71e 0.0px,#f5e71d 61.5px,#e2e415 63.0px,#eee619 64.5px,#dae315 71.0px,#d0e218 79.5px,#d0e218 95.6px,#eae517 112.1px,#f8e71e 132.1px,#f8e71e 190.6px)"></i><i style="left:253.0px;width:1.1px;background:linear-gradient(#f8e71e 0.0px,#f6e71d 61.5px,#e5e416 63.0px,#efe619 64.5px,#dbe315 71.0px,#d1e218 80.0px,#d1e218 95.6px,#ebe517 112.6px,#f8e71e 132.1px,#f8e71e 190.6px)"></i><i style="left:254.0px;width:1.1px;background:linear-gradient(#f8e71e 0.0px,#f6e71d 61.5px,#e7e516 63.0px,#efe619 64.5px,#dce315 71.0px,#d2e217 80.0px,#d3e217 95.6px,#ece518 113.6px,#f8e71e 132.6px,#f8e71e 190.6px)"></i><i style="left:255.0px;width:1.1px;background:linear-gradient(#f8e71e 0.0px,#f6e71d 61.5px,#eae517 63.0px,#efe619 64.5px,#dce315 71.0px,#d3e217 80.0px,#d4e217 96.1px,#eee619 115.1px,#f8e71e 133.1px,#f8e71e 190.6px)"></i><i style="left:256.0px;width:1.1px;background:linear-gradient(#f8e71e 0.0px,#f7e71d 61.5px,#ece518 63.0px,#eee619 65.0px,#dde315 71.0px,#d4e217 80.0px,#d5e216 96.1px,#f0e61a 117.1px,#f8e71e 134.1px,#f8e71e 190.6px)"></i><i style="left:257.0px;width:1.1px;background:linear-gradient(#f8e71e 0.0px,#f7e71e 61.5px,#eee619 63.0px,#ede518 65.5px,#dde315 71.0px,#d5e217 80.0px,#d6e316 96.1px,#f2e61b 120.1px,#f8e71e 135.1px,#f8e71e 190.6px)"></i><i style="left:258.0px;width:1.1px;background:linear-gradient(#f8e71e 0.0px,#f6e71d 62.0px,#f0e61a 64.0px,#dee315 71.0px,#d6e216 80.0px,#d8e316 96.6px,#f3e61b 121.1px,#f8e71e 136.6px,#f8e71e 190.6px)"></i><i style="left:259.0px;width:1.1px;background:linear-gradient(#f8e71e 0.0px,#f7e71e 62.0px,#dee415 71.0px,#d7e316 80.0px,#d9e316 96.6px,#f3e61b 121.6px,#f8e71e 137.6px,#f8e71e 190.6px)"></i><i style="left:260.0px;width:1.1px;background:linear-gradient(#f8e71e 0.0px,#f6e71d 62.5px,#dfe415 71.0px,#d8e316 80.0px,#dae315 96.6px,#f3e61c 121.6px,#f8e71e 138.1px,#f8e71e 190.6px)"></i><i style="left:261.0px;width:1.1px;background:linear-gradient(#f8e71e 0.0px,#f6e71d 62.5px,#e0e415 71.0px,#d8e316 80.5px,#dbe315 96.6px,#f3e61c 121.1px,#f8e71e 139.1px,#f8e71e 190.6px)"></i><i style="left:262.0px;width:1.1px;background:linear-gradient(#f8e71e 0.0px,#f6e71d 62.5px,#e0e415 71.0px,#d9e316 80.5px,#dce315 96.6px,#f3e61c 120.6px,#f8e71e 140.1px,#f8e71e 190.6px)"></i><i style="left:263.0px;width:1.1px;background:linear-gradient(#f8e71e 0.0px,#f6e71d 62.5px,#e0e415 71.5px,#dae315 80.5px,#dde315 96.6px,#f4e61c 120.6px,#f8e71e 143.1px,#f8e71e 190.6px)"></i><i style="left:264.0px;width:1.1px;background:linear-gradient(#f8e71e 0.0px,#f6e71d 62.5px,#e1e415 71.5px,#dbe315 81.0px,#dee315 97.1px,#f4e71c 120.1px,#f8e71e 145.6px,#f8e71e 190.6px)"></i><i style="left:265.0px;width:1.1px;background:linear-gradient(#f8e71e 0.0px,#f6e71d 62.5px,#e2e415 71.5px,#dce315 81.0px,#dfe415 97.1px,#f4e71c 119.6px,#f8e71e 149.6px,#f8e71e 190.6px)"></i><i style="left:266.0px;width:1.1px;background:linear-gradient(#f8e71e 0.0px,#f6e71d 62.5px,#e2e415 72.0px,#dde315 82.0px,#e0e415 97.1px,#f4e71c 119.6px,#f8e71e 161.1px,#f8e71e 190.6px)"></i><i style="left:267.0px;width:1.1px;background:linear-gradient(#f8e71e 0.0px,#f6e71d 62.5px,#e2e415 72.0px,#dde315 82.0px,#e0e415 97.1px,#f5e71c 119.1px,#f8e71e 180.1px,#f8e71e 190.6px)"></i><i style="left:268.0px;width:1.1px;background:linear-gradient(#f8e71e 0.0px,#f6e71d 62.5px,#e3e415 72.5px,#dee415 83.5px,#e1e415 97.1px,#f5e71d 119.1px,#f8e71e 190.6px)"></i><i style="left:269.0px;width:1.1px;background:linear-gradient(#f8e71e 0.0px,#f5e71d 63.0px,#e3e415 73.0px,#dfe415 88.0px,#e3e416 98.1px,#f6e71d 119.1px,#f8e71e 190.6px)"></i><i style="left:270.0px;width:1.1px;background:linear-gradient(#f8e71e 0.0px,#f5e71d 63.0px,#e3e415 73.5px,#e1e415 95.6px,#f6e71d 118.6px,#f8e71e 190.6px)"></i><i style="left:271.0px;width:1.1px;background:linear-gradient(#f8e71e 0.0px,#f5e71d 63.0px,#e3e415 74.0px,#e3e416 96.6px,#f6e71d 118.6px,#f8e71e 190.6px)"></i><i style="left:272.0px;width:1.1px;background:linear-gradient(#f8e71e 0.0px,#f5e71d 63.0px,#e3e415 74.5px,#e4e416 96.6px,#f7e71e 118.6px,#f8e71e 190.6px)"></i><i style="left:273.0px;width:0.7px;background:linear-gradient(#f8e71e 0.0px,#f5e71d 63.0px,#e3e415 75.0px,#e5e416 97.1px,#f7e71e 118.1px,#f8e71e 190.6px)"></i></div><div class="hm" style="left:372.7px;top:6.6px;width:273.5px;height:190.6px"><i style="left:0.0px;width:1.1px;background:linear-gradient(#f8e71e 0.0px,#f5e71d 114.6px,#e3e416 118.1px,#cce11a 119.6px,#97d83e 123.6px,#7ed34e 129.6px,#87d549 140.1px,#c8e11c 163.1px,#e2e415 175.1px,#f5e71c 186.6px,#f8e71e 190.6px)"></i><i style="left:1.0px;width:1.1px;background:linear-gradient(#f8e71e 0.0px,#f6e71d 114.6px,#e4e416 118.1px,#cce11a 119.6px,#94d840 123.6px,#7ad151 129.6px,#85d44a 140.6px,#c6e01d 162.6px,#e0e415 174.1px,#f4e61c 185.6px,#f8e71e 190.6px)"></i><i style="left:2.0px;width:1.1px;background:linear-gradient(#f8e71e 0.0px,#f6e71d 114.6px,#e5e416 118.1px,#cce11a 119.6px,#91d742 123.6px,#76d054 129.6px,#82d34c 140.6px,#c1e020 161.1px,#dce315 172.6px,#f3e61b 185.1px,#f8e71e 190.6px)"></i><i style="left:3.0px;width:1.1px;background:linear-gradient(#f8e71e 0.0px,#f7e71d 114.6px,#e6e516 118.1px,#cde11a 119.6px,#89d548 124.1px,#71cf56 129.6px,#7ed34e 140.6px,#bcdf24 159.6px,#dae315 171.6px,#f2e61b 184.6px,#f8e71e 190.6px)"></i><i style="left:4.0px;width:1.1px;background:linear-gradient(#f8e71e 0.0px,#f6e71d 115.1px,#e3e415 118.6px,#c7e01c 120.1px,#87d549 124.1px,#6ece58 129.6px,#7bd251 140.6px,#b4de28 157.6px,#d6e216 170.1px,#f1e61a 183.1px,#f8e71e 190.6px)"></i><i style="left:5.0px;width:1.1px;background:linear-gradient(#f8e71e 0.0px,#f8e71e 104.6px,#f7e71e 115.1px,#e5e416 118.6px,#cce11a 120.1px,#80d34d 124.6px,#6acd5b 129.6px,#77d153 140.6px,#addc2e 155.6px,#d3e217 169.1px,#ede518 180.6px,#f8e71e 190.6px)"></i><i style="left:6.0px;width:1.1px;background:linear-gradient(#f8e71e 0.0px,#f6e71d 92.5px,#f8e71e 104.6px,#f6e71d 115.6px,#e4e416 119.1px,#d1e218 120.1px,#80d34d 124.6px,#65cc5d 129.6px,#73d055 140.6px,#a6db33 154.1px,#d0e218 168.1px,#e9e517 179.1px,#f8e71e 190.6px)"></i><i style="left:7.0px;width:1.1px;background:linear-gradient(#f8e71e 0.0px,#f6e71d 92.5px,#f6e71d 104.1px,#f5e71d 116.1px,#e0e415 119.6px,#cbe11a 120.6px,#79d152 125.1px,#61ca60 130.1px,#72cf56 141.1px,#a3db35 153.6px,#d0e218 168.1px,#e9e517 179.1px,#f8e71e 190.6px)"></i><i style="left:8.0px;width:1.1px;background:linear-gradient(#f8e71e 0.0px,#f6e71d 92.5px,#f6e71d 104.1px,#f7e71e 116.1px,#e4e416 119.6px,#d1e218 120.6px,#83d44c 124.6px,#73d055 125.6px,#5dc962 130.6px,#6ece58 141.1px,#9fda38 153.1px,#cee119 167.6px,#e7e516 178.1px,#f6e71d 188.1px,#f8e71e 190.6px)"></i><i style="left:9.0px;width:1.1px;background:linear-gradient(#f8e71e 0.0px,#f6e71d 92.5px,#f5e71c 103.6px,#f8e71e 112.1px,#f5e71d 116.6px,#e5e416 119.6px,#d4e217 120.6px,#b3dd2a 122.1px,#6acd5a 125.1px,#63cb5f 125.6px,#51c469 130.6px,#6ece58 141.6px,#9ad93c 151.6px,#cbe11a 166.6px,#e5e416 176.6px,#f4e61c 185.1px,#f8e71e 190.6px)"></i><i style="left:10.0px;width:1.1px;background:linear-gradient(#f8e71e 0.0px,#f5e71d 92.5px,#f4e71c 103.6px,#f8e71e 109.1px,#f6e71d 116.6px,#e2e415 120.1px,#cce11a 121.1px,#a7db32 122.6px,#5ec962 125.1px,#54c568 125.6px,#46c070 130.6px,#68cd5c 141.1px,#92d742 149.6px,#cce11a 166.6px,#e6e516 176.1px,#f3e61b 183.6px,#f8e71e 190.6px)"></i><i style="left:11.0px;width:1.1px;background:linear-gradient(#f8e71e 0.0px,#f7e71e 92.0px,#f3e61c 94.0px,#f4e71c 103.6px,#f8e71e 107.6px,#f7e71e 116.6px,#e3e416 120.1px,#d0e218 121.1px,#b9de25 122.1px,#66cc5d 124.6px,#45bf70 125.6px,#41bd72 128.1px,#3bbb75 130.6px,#4dc36c 135.6px,#77d153 144.1px,#92d742 149.6px,#cde119 166.6px,#e6e516 175.6px,#f4e61c 182.6px,#f8e71e 190.6px)"></i><i style="left:12.0px;width:1.1px;background:linear-gradient(#f8e71e 0.0px,#f7e71d 92.0px,#f3e61b 94.0px,#f4e61c 103.6px,#f8e71e 106.6px,#f6e71d 117.1px,#e6e516 120.1px,#d3e217 121.1px,#bcdf23 122.1px,#9bd93b 123.1px,#4ec36b 125.1px,#3dbb74 125.6px,#36b878 126.1px,#38b977 127.6px,#31b57b 130.1px,#3fbd73 134.6px,#82d44c 146.1px,#bbdf24 161.1px,#dae315 170.6px,#f5e71c 181.6px,#f8e71e 190.6px)"></i><i style="left:13.0px;width:1.1px;background:linear-gradient(#f8e71e 0.0px,#f7e71d 92.0px,#f3e61b 94.0px,#f3e61c 103.6px,#f8e71e 106.1px,#f7e71d 117.1px,#e7e516 120.1px,#d6e216 121.1px,#b4de29 122.6px,#75d054 124.1px,#37b878 125.6px,#2bb17e 126.1px,#2fb47c 127.6px,#29af7f 130.1px,#37b977 134.6px,#77d153 144.6px,#8cd646 148.1px,#cfe119 166.6px,#e7e516 174.6px,#f6e71d 181.1px,#f8e71e 190.6px)"></i><i style="left:14.0px;width:1.1px;background:linear-gradient(#f8e71e 0.0px,#f6e71d 92.0px,#f1e61a 93.5px,#f3e61b 103.6px,#f8e71e 106.1px,#f5e71c 117.6px,#e4e416 120.6px,#cee119 121.6px,#b8de26 122.6px,#60ca60 124.6px,#33b67a 125.6px,#25ab82 126.1px,#27ad81 128.1px,#24aa83 130.6px,#30b47c 134.6px,#64cb5f 142.1px,#8ad547 147.6px,#cfe218 166.6px,#e9e517 174.6px,#f8e71e 181.1px,#f8e71e 190.6px)"></i><i style="left:15.0px;width:1.1px;background:linear-gradient(#f8e71e 0.0px,#f6e71d 92.0px,#f1e61a 93.5px,#f3e61b 103.6px,#f8e71e 105.6px,#f7e71e 117.1px,#e3e416 120.6px,#cee119 121.6px,#b7de27 122.6px,#5fc961 124.6px,#31b57b 125.6px,#24aa83 126.1px,#23a983 128.6px,#23a984 131.1px,#2db27d 134.6px,#5bc863 141.1px,#8ad547 147.6px,#d0e218 166.6px,#e9e517 174.6px,#f8e71e 181.1px,#f8e71e 190.6px)"></i><i style="left:16.0px;width:1.1px;background:linear-gradient(#f8e71e 0.0px,#f6e71d 92.0px,#f0e61a 93.5px,#f2e61b 103.6px,#f8e71e 105.6px,#f7e71e 117.1px,#e3e415 120.6px,#cde119 121.6px,#b6de27 122.6px,#73d056 124.1px,#30b47b 125.6px,#23a983 126.1px,#21a585 130.6px,#2bb17e 134.6px,#57c766 140.6px,#88d548 147.1px,#d0e218 166.6px,#e9e517 174.6px,#f8e71e 181.1px,#f8e71e 190.6px)"></i><i style="left:17.0px;width:1.1px;background:linear-gradient(#f8e71e 0.0px,#f6e71d 92.0px,#f0e61a 93.5px,#f2e61b 103.6px,#f8e71e 105.6px,#f7e71e 117.1px,#e8e517 120.1px,#d7e316 121.1px,#b6de28 122.6px,#71cf56 124.1px,#2fb47c 125.6px,#23a884 126.1px,#1fa287 130.1px,#2aaf7f 134.6px,#53c568 140.1px,#88d548 147.1px,#d0e218 166.6px,#e9e517 174.6px,#f8e71e 180.6px,#f8e71e 190.6px)"></i><i style="left:18.0px;width:1.1px;background:linear-gradient(#f8e71e 0.0px,#f6e71d 92.0px,#efe61a 93.5px,#f2e61b 103.6px,#f8e71e 105.1px,#f7e71e 117.1px,#e8e517 120.1px,#d6e316 121.1px,#b5de28 122.6px,#70cf57 124.1px,#41be72 125.1px,#2eb37d 125.6px,#22a884 126.1px,#1fa088 130.1px,#28ae80 134.6px,#52c569 140.1px,#88d548 147.1px,#d0e218 166.6px,#e9e517 174.6px,#f8e71e 180.6px,#f8e71e 190.6px)"></i><i style="left:19.0px;width:1.1px;background:linear-gradient(#f8e71e 0.0px,#f6e71d 92.0px,#efe619 93.5px,#f2e61b 103.6px,#f8e71e 105.1px,#f7e71d 117.1px,#e8e517 120.1px,#d6e216 121.1px,#b4de29 122.6px,#6ece58 124.1px,#40bd73 125.1px,#2db27d 125.6px,#22a884 126.1px,#1e9d89 129.6px,#24aa83 134.1px,#3ebc74 137.6px,#89d548 147.1px,#cfe119 166.1px,#e8e517 174.1px,#f8e71e 180.6px,#f8e71e 190.6px)"></i><i style="left:20.0px;width:1.1px;background:linear-gradient(#f8e71e 0.0px,#f6e71d 92.0px,#efe619 93.5px,#f1e61a 103.6px,#f8e71e 105.1px,#f6e71d 117.1px,#e7e516 120.1px,#d2e217 121.1px,#bcdf23 122.1px,#addc2e 122.6px,#7ed34f 123.6px,#3aba76 125.1px,#29af80 125.6px,#21a785 126.1px,#1f9a8a 129.1px,#23a983 134.1px,#39b977 137.1px,#87d549 146.6px,#cfe218 166.1px,#e9e517 174.1px,#f8e71e 180.6px,#f8e71e 190.6px)"></i><i style="left:21.0px;width:1.1px;background:linear-gradient(#f8e71e 0.0px,#f6e71d 92.0px,#eee619 93.5px,#f1e61a 103.6px,#f8e71e 105.1px,#f7e71e 116.6px,#e8e517 119.6px,#d7e316 120.6px,#b5de28 122.1px,#71cf57 123.6px,#2fb37c 125.1px,#22a884 125.6px,#1e9b8a 127.6px,#1f998a 129.6px,#23a983 134.1px,#39ba76 137.1px,#80d34d 145.6px,#8fd744 148.6px,#d0e218 166.1px,#e9e517 174.1px,#f8e71e 180.6px,#f8e71e 190.6px)"></i><i style="left:22.0px;width:1.1px;background:linear-gradient(#f8e71e 0.0px,#f6e71d 92.0px,#eee619 93.5px,#f1e61a 103.6px,#f8e71e 105.1px,#f6e71d 116.6px,#e6e516 119.6px,#d1e218 120.6px,#badf24 121.6px,#a9dc30 122.1px,#7ad251 123.1px,#36b878 124.6px,#27ad81 125.1px,#1fa187 126.1px,#1f968b 128.6px,#21a785 133.6px,#35b779 136.6px,#85d44a 146.1px,#cfe218 166.1px,#e9e517 174.1px,#f7e71e 180.6px,#f8e71e 190.6px)"></i><i style="left:23.0px;width:1.1px;background:linear-gradient(#f8e71e 0.0px,#f6e71d 92.0px,#eee619 93.5px,#eee619 98.1px,#f1e61a 103.6px,#f8e71e 105.1px,#f7e71d 116.1px,#e7e516 119.1px,#d5e216 120.1px,#b3dd29 121.6px,#6dce59 123.1px,#3fbd73 124.1px,#2cb27e 124.6px,#22a784 125.1px,#1f988b 127.6px,#1f9a8a 130.1px,#24aa83 134.1px,#49c16e 139.1px,#85d44a 146.6px,#d0e218 166.6px,#e9e517 174.6px,#f6e71d 180.6px,#f8e71e 190.6px)"></i><i style="left:24.0px;width:1.1px;background:linear-gradient(#f8e71e 0.0px,#f6e71d 92.0px,#ede619 93.5px,#ede619 95.6px,#eee619 98.1px,#f0e61a 103.6px,#f8e71e 105.1px,#f5e71d 116.1px,#e5e416 119.1px,#cfe119 120.1px,#b8de26 121.1px,#8ed645 122.1px,#48c16e 123.6px,#33b67a 124.1px,#25ab82 124.6px,#1e9c89 126.1px,#1f968b 128.6px,#22a884 133.6px,#3dbb74 137.6px,#83d44b 146.6px,#a5db34 155.1px,#d5e217 168.1px,#eee619 176.6px,#f8e71e 182.6px,#f8e71e 190.6px)"></i><i style="left:25.0px;width:1.1px;background:linear-gradient(#f8e71e 0.0px,#f6e71d 92.0px,#ede618 93.5px,#efe619 95.0px,#efe619 99.6px,#efe619 102.1px,#f0e61a 103.6px,#f8e71e 105.1px,#f6e71d 115.6px,#e7e516 118.6px,#d3e217 119.6px,#afdd2c 121.1px,#6acd5b 122.6px,#3bbb75 123.6px,#2ab07f 124.1px,#21a785 124.6px,#1f978b 127.1px,#1f978b 129.6px,#22a884 133.6px,#40bd72 138.1px,#82d34c 146.6px,#97d83e 151.6px,#d2e217 167.6px,#ece518 176.1px,#f8e71e 183.1px,#f8e71e 190.6px)"></i><i style="left:26.0px;width:1.1px;background:linear-gradient(#f8e71e 0.0px,#f6e71d 92.0px,#ede518 93.5px,#eee619 95.0px,#ede619 99.1px,#f0e61a 103.6px,#f8e71e 105.1px,#f7e71e 115.1px,#e3e415 118.6px,#cde119 119.6px,#b6de27 120.6px,#73d055 122.1px,#30b47b 123.6px,#23a983 124.1px,#1f998a 126.1px,#20948c 128.6px,#21a685 133.1px,#35b779 136.6px,#7dd24f 146.1px,#8ed645 149.1px,#d3e217 168.1px,#ede518 176.6px,#f8e71e 183.6px,#f8e71e 190.6px)"></i><i style="left:27.0px;width:1.1px;background:linear-gradient(#f8e71e 0.0px,#f6e71d 92.0px,#ece518 93.5px,#eee619 95.0px,#ede618 99.1px,#f0e61a 103.6px,#f8e71e 105.1px,#f6e71d 115.1px,#e7e516 118.1px,#d2e218 119.1px,#bbdf24 120.1px,#abdc2f 120.6px,#7cd250 121.6px,#38b977 123.1px,#28ae80 123.6px,#1fa287 124.6px,#1f968b 126.6px,#1f958b 129.1px,#21a685 133.1px,#38b977 137.1px,#83d44b 147.1px,#a4db35 155.6px,#d4e217 168.6px,#efe619 177.6px,#f8e71e 183.6px,#f8e71e 190.6px)"></i><i style="left:28.0px;width:1.1px;background:linear-gradient(#f8e71e 0.0px,#f6e71d 92.0px,#ece518 93.5px,#eee619 95.0px,#ede619 96.6px,#ede618 100.6px,#efe61a 103.6px,#f8e71e 105.1px,#f7e71e 114.6px,#e8e517 117.6px,#d6e216 118.6px,#b5de28 120.1px,#6fcf58 121.6px,#41bd72 122.6px,#2eb37d 123.1px,#22a884 123.6px,#1f968b 126.1px,#20938c 128.6px,#21a685 133.1px,#34b779 136.6px,#7fd34e 146.6px,#8bd647 148.6px,#d4e217 168.6px,#eee619 177.6px,#f8e71e 183.1px,#f8e71e 190.6px)"></i><i style="left:29.0px;width:1.1px;background:linear-gradient(#f8e71e 0.0px,#f5e71d 92.0px,#ece518 93.5px,#ede619 95.0px,#ede618 96.6px,#eee619 99.6px,#ede619 102.1px,#efe619 103.6px,#f8e71e 105.1px,#f5e71c 114.6px,#e4e416 117.6px,#cee119 118.6px,#b7de26 119.6px,#5fca61 121.6px,#32b57a 122.6px,#24aa83 123.1px,#1f998a 125.1px,#20928c 128.1px,#21a586 132.6px,#32b57a 136.1px,#78d152 145.6px,#89d548 148.1px,#cce11a 166.6px,#e5e416 174.1px,#f8e71e 182.6px,#f8e71e 190.6px)"></i><i style="left:30.0px;width:1.1px;background:linear-gradient(#f8e71e 0.0px,#f5e71d 92.0px,#ebe518 93.5px,#ede619 95.0px,#ede518 96.6px,#ece518 99.1px,#ece518 100.6px,#efe619 103.6px,#f8e71e 105.1px,#f6e71d 114.1px,#e6e516 117.1px,#d1e218 118.1px,#bade25 119.1px,#a9dc31 119.6px,#7ad151 120.6px,#36b878 122.1px,#26ad81 122.6px,#1fa287 123.6px,#1f958c 125.6px,#20918c 127.6px,#20a586 132.1px,#31b57b 135.6px,#72cf56 144.6px,#88d548 147.6px,#d1e218 167.6px,#ebe518 176.1px,#f8e71e 182.6px,#f8e71e 190.6px)"></i><i style="left:31.0px;width:1.1px;background:linear-gradient(#f8e71e 0.0px,#f5e71d 92.0px,#ece518 93.0px,#ede518 95.0px,#ece518 96.6px,#ece518 99.1px,#ece518 100.6px,#efe619 103.6px,#f8e71e 105.1px,#f6e71d 113.6px,#e7e516 116.6px,#d3e217 117.6px,#bddf23 118.6px,#aedd2d 119.1px,#69cd5b 120.6px,#3bba76 121.6px,#29af7f 122.1px,#21a685 122.6px,#1f958c 125.1px,#20938c 127.6px,#21a685 132.1px,#33b67a 135.6px,#80d34d 146.1px,#93d741 150.6px,#d3e217 167.6px,#ede518 176.6px,#f8e71e 182.1px,#f8e71e 190.6px)"></i><i style="left:32.0px;width:1.1px;background:linear-gradient(#f8e71e 0.0px,#f5e71d 92.0px,#ece518 93.0px,#ede518 95.0px,#ece518 96.6px,#ebe518 99.1px,#ece518 100.6px,#eee619 103.6px,#f8e71e 105.1px,#f7e71d 113.1px,#e7e516 116.1px,#d6e216 117.1px,#b4de29 118.6px,#6ece58 120.1px,#40bd73 121.1px,#2db27d 121.6px,#22a784 122.1px,#1f958b 124.6px,#21908c 126.6px,#21a685 131.6px,#32b67a 135.1px,#7ad251 145.1px,#89d548 147.6px,#d2e217 167.1px,#ebe518 175.6px,#f8e71e 182.1px,#f8e71e 190.6px)"></i><i style="left:33.0px;width:1.1px;background:linear-gradient(#f8e71e 0.0px,#f5e71d 92.0px,#ebe518 93.0px,#ece518 95.0px,#ece518 96.6px,#ebe518 99.1px,#ebe518 100.6px,#eee619 103.6px,#f7e71e 104.6px,#f7e71e 112.6px,#e3e415 116.1px,#cde119 117.1px,#b6de27 118.1px,#73d055 119.6px,#30b47b 121.1px,#23a983 121.6px,#1f988b 123.6px,#20928c 126.6px,#21a585 131.1px,#31b57b 134.6px,#75d054 144.1px,#88d548 147.1px,#d2e217 166.6px,#ebe518 175.1px,#f8e71e 181.6px,#f8e71e 190.6px)"></i><i style="left:34.0px;width:1.1px;background:linear-gradient(#f8e71e 0.0px,#f8e71e 91.5px,#eae517 93.5px,#ece518 95.0px,#ebe518 96.6px,#ebe517 99.1px,#ebe518 100.6px,#eee619 103.6px,#f7e71e 104.6px,#f5e71d 112.6px,#e5e416 115.6px,#d0e218 116.6px,#b9de25 117.6px,#a7db32 118.1px,#62cb5f 119.6px,#35b779 120.6px,#26ac82 121.1px,#1fa188 122.1px,#20948c 124.1px,#20928c 126.1px,#21a586 130.6px,#34b779 134.6px,#7ed34e 145.1px,#92d742 149.6px,#d1e218 166.1px,#eae517 174.6px,#f8e71e 181.1px,#f8e71e 190.6px)"></i><i style="left:35.0px;width:1.1px;background:linear-gradient(#f8e71e 0.0px,#f8e71e 91.5px,#ebe518 93.0px,#ece518 95.0px,#ebe518 96.6px,#eae517 99.1px,#ebe518 100.6px,#eee619 103.6px,#f7e71e 104.6px,#f6e71d 112.1px,#e7e516 115.1px,#d2e217 116.1px,#bcdf23 117.1px,#addc2e 117.6px,#7dd24f 118.6px,#39b976 120.1px,#28ae80 120.6px,#21a685 121.1px,#20948c 123.6px,#20938c 126.1px,#22a785 130.6px,#37b878 134.6px,#84d44b 145.6px,#d3e217 166.1px,#ede518 175.1px,#f8e71e 181.1px,#f8e71e 190.6px)"></i><i style="left:36.0px;width:1.1px;background:linear-gradient(#f8e71e 0.0px,#f8e71e 91.5px,#eae517 93.0px,#ebe518 95.0px,#ebe518 96.6px,#eae517 99.1px,#ebe517 100.6px,#ede619 103.6px,#f7e71e 104.6px,#f6e71d 111.6px,#e7e516 114.6px,#d5e217 115.6px,#b2dd2a 117.1px,#6cce59 118.6px,#3ebc74 119.6px,#2bb17e 120.1px,#22a785 120.6px,#20948c 123.1px,#20938c 125.6px,#21a685 130.1px,#36b878 134.1px,#83d44b 145.1px,#d3e217 165.6px,#ece518 174.6px,#f8e71e 180.6px,#f8e71e 190.6px)"></i><i style="left:37.0px;width:1.1px;background:linear-gradient(#f8e71e 0.0px,#f8e71e 91.5px,#eae517 93.0px,#ebe518 95.0px,#eae517 96.6px,#eae517 99.1px,#eae517 100.6px,#ede619 103.6px,#f7e71e 104.6px,#f7e71e 111.1px,#e8e517 114.1px,#d7e316 115.1px,#b6de28 116.6px,#71cf56 118.1px,#2fb47c 119.6px,#23a884 120.1px,#1f978b 122.1px,#20918c 124.6px,#21a685 129.6px,#35b779 133.6px,#7ed24f 144.1px,#9eda39 151.6px,#d2e217 165.1px,#ece518 174.1px,#f8e71e 180.1px,#f8e71e 190.6px)"></i><i style="left:38.0px;width:1.1px;background:linear-gradient(#f8e71e 0.0px,#f8e71e 91.5px,#eae517 93.0px,#ebe518 95.0px,#eae517 96.6px,#e9e517 99.1px,#eae517 100.6px,#ede618 103.6px,#f7e71e 104.6px,#f5e71d 111.1px,#e4e416 114.1px,#cfe119 115.1px,#b8de26 116.1px,#8dd645 117.1px,#48c16e 118.6px,#33b67a 119.1px,#25ab82 119.6px,#1e9b8a 121.1px,#20928c 123.1px,#1f948c 125.1px,#22a884 129.6px,#38b977 133.6px,#83d44b 144.6px,#d2e217 164.6px,#ece518 173.6px,#f8e71e 180.1px,#f8e71e 190.6px)"></i><i style="left:39.0px;width:1.1px;background:linear-gradient(#f8e71e 0.0px,#f8e71e 91.5px,#e9e517 93.0px,#eae517 95.0px,#eae517 96.6px,#e9e517 98.1px,#eae517 100.6px,#ebe517 102.1px,#ede518 103.6px,#f7e71e 104.6px,#f6e71d 110.6px,#e6e516 113.6px,#d1e218 114.6px,#bbdf24 115.6px,#abdc2f 116.1px,#7bd250 117.1px,#37b977 118.6px,#27ad81 119.1px,#1fa188 120.1px,#20938c 122.1px,#20948c 124.6px,#22a784 129.1px,#37b878 133.1px,#82d44c 144.1px,#d2e217 164.1px,#eae517 172.6px,#f8e71e 179.6px,#f8e71e 190.6px)"></i><i style="left:40.0px;width:1.1px;background:linear-gradient(#f8e71e 0.0px,#f8e71e 91.5px,#e9e517 93.0px,#eae517 95.0px,#e9e517 96.6px,#e8e517 98.1px,#e9e517 100.6px,#eae517 102.1px,#ece518 103.6px,#f7e71e 104.6px,#f6e71d 110.1px,#e7e516 113.1px,#d4e217 114.1px,#b0dd2b 115.6px,#6acd5a 117.1px,#3cbb75 118.1px,#2ab07f 118.6px,#21a785 119.1px,#20948c 121.6px,#20948c 124.1px,#22a785 128.6px,#36b878 132.6px,#7dd24f 143.1px,#d0e218 163.1px,#e8e517 171.1px,#f8e71e 179.1px,#f8e71e 190.6px)"></i><i style="left:41.0px;width:1.1px;background:linear-gradient(#f8e71e 0.0px,#f8e71e 91.5px,#e9e517 93.0px,#eae517 95.0px,#e9e517 96.6px,#e8e517 98.1px,#e9e517 100.6px,#eae517 102.1px,#ece518 103.6px,#f7e71e 104.6px,#f7e71e 109.6px,#e8e517 112.6px,#d6e216 113.6px,#b5de28 115.1px,#6fcf57 116.6px,#41be72 117.6px,#2eb37d 118.1px,#22a884 118.6px,#1f968b 120.6px,#20918c 123.1px,#21a685 128.1px,#35b778 132.1px,#7cd250 142.6px,#a5db33 152.1px,#d3e217 163.6px,#ede518 172.6px,#f8e71e 179.1px,#f8e71e 190.6px)"></i><i style="left:42.0px;width:1.1px;background:linear-gradient(#f8e71e 0.0px,#f8e71e 91.5px,#e8e517 93.0px,#eae517 95.0px,#e9e517 96.6px,#e8e517 98.1px,#e9e517 100.6px,#eae517 102.1px,#ece518 103.6px,#f7e71e 104.6px,#f5e71c 109.6px,#e4e416 112.6px,#cee119 113.6px,#b7de26 114.6px,#5fc961 116.6px,#32b57a 117.6px,#24aa83 118.1px,#1f9a8a 119.6px,#20928c 121.6px,#1f978b 124.1px,#23a884 128.1px,#3bbb75 132.6px,#84d44b 143.6px,#d1e218 162.6px,#eae517 171.1px,#f8e71e 178.1px,#f8e71e 190.6px)"></i><i style="left:43.0px;width:1.1px;background:linear-gradient(#f8e71e 0.0px,#f8e71e 91.5px,#e7e516 93.0px,#e9e517 95.0px,#e6e516 96.1px,#eae517 97.6px,#e7e516 99.1px,#eae517 100.1px,#e6e516 101.6px,#ebe518 103.6px,#f7e71e 104.6px,#f5e71d 109.1px,#e5e416 112.1px,#cfe218 113.1px,#b9de25 114.1px,#a7db32 114.6px,#62ca5f 116.1px,#34b779 117.1px,#25ac82 117.6px,#1f9f88 118.6px,#20938c 120.6px,#1f958b 123.1px,#22a884 127.6px,#3bba75 132.1px,#83d44b 143.1px,#d1e218 162.1px,#eae517 170.6px,#f8e71e 177.6px,#f8e71e 190.6px)"></i><i style="left:44.0px;width:1.1px;background:linear-gradient(#f8e71e 0.0px,#f8e71e 91.5px,#e7e516 93.0px,#e8e517 95.0px,#e5e416 96.1px,#e9e517 97.6px,#e4e416 98.6px,#e9e517 100.1px,#e5e416 101.6px,#eae517 102.6px,#ebe518 103.6px,#f7e71e 104.6px,#f6e71d 108.6px,#e6e516 111.6px,#d1e218 112.6px,#bbdf24 113.6px,#aadc30 114.1px,#7bd250 115.1px,#37b877 116.6px,#27ad81 117.1px,#1fa088 118.1px,#20938c 120.1px,#1f958c 122.6px,#22a884 127.1px,#3aba76 131.6px,#82d44c 142.6px,#d1e218 161.6px,#eae517 170.1px,#f8e71e 177.1px,#f8e71e 190.6px)"></i><i style="left:45.0px;width:1.1px;background:linear-gradient(#f8e71e 0.0px,#f8e71e 91.5px,#e6e516 93.0px,#e7e516 95.0px,#e4e416 96.1px,#e8e517 97.6px,#e3e416 98.6px,#e9e517 100.1px,#e4e416 101.6px,#e9e517 102.6px,#eae517 103.6px,#f7e71e 104.6px,#f6e71d 108.1px,#e7e516 111.1px,#d3e217 112.1px,#bcdf23 113.1px,#aedd2d 113.6px,#7ed34e 114.6px,#3aba76 116.1px,#29af7f 116.6px,#21a685 117.1px,#1f948c 119.1px,#20928c 121.6px,#21a585 126.1px,#33b67a 130.1px,#74d055 140.1px,#8ad647 144.1px,#d0e218 161.1px,#e9e517 169.6px,#f8e71e 177.1px,#f8e71e 190.6px)"></i><i style="left:46.0px;width:1.1px;background:linear-gradient(#f8e71e 0.0px,#f8e71e 91.5px,#ede619 92.5px,#e5e416 93.0px,#e6e516 94.0px,#e6e516 95.0px,#e3e415 96.1px,#e7e516 97.6px,#e2e415 98.6px,#e8e517 100.1px,#e3e416 101.6px,#e8e517 102.6px,#e9e517 103.6px,#f7e71e 104.6px,#f6e71d 107.6px,#e7e516 110.6px,#d4e217 111.6px,#b1dd2b 113.1px,#6bcd5a 114.6px,#3dbc74 115.6px,#2bb17e 116.1px,#21a785 116.6px,#1f958c 118.6px,#20928c 121.1px,#21a585 125.6px,#33b67a 129.6px,#70cf57 139.1px,#87d549 143.1px,#d0e218 160.6px,#e9e517 169.1px,#f8e71e 176.6px,#f8e71e 190.6px)"></i><i style="left:47.0px;width:1.1px;background:linear-gradient(#f8e71e 0.0px,#f8e71e 91.5px,#ede618 92.5px,#e4e416 93.0px,#e6e516 94.0px,#e6e516 95.0px,#e2e415 96.1px,#e6e516 97.6px,#e1e415 98.6px,#e7e516 100.1px,#e2e415 101.6px,#e7e516 102.6px,#e6e516 103.1px,#efe61a 104.1px,#f7e71d 104.6px,#f7e71e 107.1px,#e8e517 110.1px,#d6e216 111.1px,#b4de29 112.6px,#6fce58 114.1px,#40bd72 115.1px,#2db27d 115.6px,#22a784 116.1px,#1f958b 118.1px,#20928c 120.6px,#22a784 125.6px,#38b977 130.1px,#7cd250 140.6px,#b3dd29 153.1px,#d6e216 161.6px,#efe61a 171.1px,#f8e71e 177.1px,#f8e71e 190.6px)"></i><i style="left:48.0px;width:1.1px;background:linear-gradient(#f8e71e 0.0px,#f8e71e 91.5px,#ece518 92.5px,#e3e416 93.0px,#e1e415 93.5px,#e7e516 94.5px,#e1e415 96.1px,#e6e516 97.6px,#e0e415 98.6px,#e6e516 100.1px,#e1e415 101.6px,#e7e516 102.6px,#e5e416 103.1px,#efe619 104.1px,#f7e71d 104.6px,#f5e71c 107.1px,#e8e517 109.6px,#e2e415 110.1px,#cde11a 111.1px,#b6de27 112.1px,#72cf56 113.6px,#30b47c 115.1px,#23a984 115.6px,#1f988b 117.1px,#20918c 119.1px,#1fa188 123.6px,#2cb17e 127.6px,#61ca60 136.1px,#88d548 142.6px,#cee119 159.1px,#e7e516 167.1px,#f8e71e 175.1px,#f8e71e 190.6px)"></i><i style="left:49.0px;width:1.1px;background:linear-gradient(#f8e71e 0.0px,#f8e71e 91.5px,#ece518 92.5px,#e2e415 93.0px,#e0e415 93.5px,#e6e516 94.5px,#e0e415 96.1px,#e6e516 97.1px,#dfe415 98.6px,#e6e516 100.1px,#e0e415 101.1px,#e6e516 102.6px,#e4e416 103.1px,#efe619 104.1px,#f7e71d 104.6px,#f5e71d 106.6px,#e4e416 109.6px,#cee119 110.6px,#b8de26 111.6px,#8cd646 112.6px,#47c06f 114.1px,#32b67a 114.6px,#24aa83 115.1px,#1f9d89 116.1px,#20918c 118.1px,#1f968b 120.6px,#23a984 125.1px,#3ebc74 130.1px,#85d44a 141.6px,#cee119 158.6px,#e6e516 166.6px,#f8e71e 175.1px,#f8e71e 190.6px)"></i><i style="left:50.0px;width:1.1px;background:linear-gradient(#f8e71e 0.0px,#f8e71e 91.5px,#ebe518 92.5px,#e1e415 93.0px,#e0e415 93.5px,#e5e416 94.5px,#dfe415 96.1px,#e5e416 97.1px,#dee415 98.6px,#e5e416 100.1px,#dfe415 101.1px,#e5e416 102.6px,#e3e416 103.1px,#eee619 104.1px,#f7e71d 104.6px,#f5e71d 106.1px,#e6e516 109.1px,#d0e218 110.1px,#b9de25 111.1px,#a8db32 111.6px,#63cb5f 113.1px,#35b779 114.1px,#26ac82 114.6px,#1f9e89 115.6px,#20938c 117.1px,#20928c 119.1px,#21a685 124.1px,#37b878 128.6px,#76d054 138.6px,#a4db34 148.1px,#d4e217 159.6px,#eee619 169.1px,#f8e71e 175.1px,#f8e71e 190.6px)"></i><i style="left:51.0px;width:1.1px;background:linear-gradient(#f8e71e 0.0px,#f8e71e 91.5px,#ebe518 92.5px,#e0e415 93.0px,#dfe415 93.5px,#e4e416 94.5px,#dee315 96.1px,#e4e416 97.1px,#dde315 98.6px,#e4e416 100.1px,#dee315 101.1px,#e5e416 102.6px,#e2e415 103.1px,#eee619 104.1px,#f7e71d 104.6px,#f3e61c 106.1px,#e7e516 108.6px,#d2e218 109.6px,#bbdf24 110.6px,#abdc2f 111.1px,#7cd250 112.1px,#38b977 113.6px,#28ae80 114.1px,#21a586 114.6px,#1f968b 116.1px,#20918c 118.1px,#21a685 123.6px,#36b878 128.1px,#75d054 138.1px,#a6db33 148.1px,#d3e217 159.1px,#eee619 168.6px,#f8e71e 174.6px,#f8e71e 190.6px)"></i><i style="left:52.0px;width:1.1px;background:linear-gradient(#f8e71e 0.0px,#f8e71e 91.5px,#eae517 92.5px,#e0e415 93.0px,#dee315 93.5px,#e4e416 94.5px,#dde315 96.1px,#e4e416 97.1px,#dce315 98.6px,#e3e416 100.1px,#dde315 101.1px,#e4e416 102.6px,#e1e415 103.1px,#eee619 104.1px,#f6e71d 104.6px,#e7e516 108.1px,#d3e217 109.1px,#bddf23 110.1px,#afdd2c 110.6px,#69cd5b 112.1px,#3bba75 113.1px,#29af7f 113.6px,#21a685 114.1px,#1f968b 115.6px,#20918c 117.6px,#21a685 123.1px,#36b878 127.6px,#74d055 137.6px,#a8db32 148.1px,#d3e217 158.6px,#ece518 167.6px,#f8e71e 173.6px,#f8e71e 190.6px)"></i><i style="left:53.0px;width:1.1px;background:linear-gradient(#f8e71e 0.0px,#f8e71e 91.5px,#eae517 92.5px,#dfe415 93.0px,#dde315 93.5px,#e3e416 94.5px,#dce315 96.1px,#e3e415 97.1px,#dbe315 98.6px,#e3e415 100.1px,#dce315 101.1px,#e3e416 102.6px,#e1e415 103.1px,#ede619 104.1px,#f6e71d 104.6px,#e7e516 107.6px,#d5e217 108.6px,#b2dd2a 110.1px,#6cce59 111.6px,#3ebc74 112.6px,#2cb17e 113.1px,#22a785 113.6px,#1f968b 115.1px,#21918c 117.1px,#21a685 122.6px,#36b878 127.1px,#70cf57 136.6px,#9fda38 145.6px,#d3e217 158.1px,#ece518 167.1px,#f8e71e 173.6px,#f8e71e 190.6px)"></i><i style="left:54.0px;width:1.1px;background:linear-gradient(#f8e71e 0.0px,#f8e71e 91.5px,#e9e517 92.5px,#dee315 93.0px,#dce315 93.5px,#e2e415 94.5px,#dbe315 96.1px,#e2e415 97.1px,#dae315 98.6px,#e2e415 100.1px,#dbe315 101.1px,#e2e415 102.6px,#e0e415 103.1px,#ede618 104.1px,#f4e71c 104.6px,#e8e517 107.1px,#d6e316 108.1px,#b5de28 109.6px,#6fcf57 111.1px,#41be72 112.1px,#2eb37d 112.6px,#22a884 113.1px,#1f968b 114.6px,#21908c 116.6px,#21a685 122.1px,#35b779 126.6px,#6fcf58 136.1px,#a1da37 145.6px,#d3e217 157.6px,#ece518 166.6px,#f8e71e 173.1px,#f8e71e 190.6px)"></i><i style="left:55.0px;width:1.1px;background:linear-gradient(#f8e71e 0.0px,#f8e71e 91.5px,#e9e517 92.5px,#dde315 93.0px,#dbe315 93.5px,#e2e415 94.5px,#dae315 96.1px,#e1e415 97.1px,#d9e316 98.6px,#e1e415 100.1px,#dae315 101.1px,#e2e415 102.6px,#dfe415 103.1px,#e3e416 103.6px,#f2e61b 104.6px,#e4e416 107.1px,#cee119 108.1px,#b7de27 109.1px,#5fc961 111.1px,#32b57b 112.1px,#24aa83 112.6px,#1e9c89 113.6px,#20928c 115.1px,#20928c 117.1px,#22a784 122.1px,#3bba76 127.1px,#7bd251 137.6px,#addc2e 148.1px,#d5e217 157.6px,#eee619 167.1px,#f8e71e 172.6px,#f8e71e 190.6px)"></i><i style="left:56.0px;width:1.1px;background:linear-gradient(#f8e71e 0.0px,#f8e71e 91.5px,#e9e517 92.5px,#dce315 93.0px,#dae315 93.5px,#e1e415 94.5px,#d9e316 96.1px,#e1e415 97.1px,#d8e316 98.6px,#e0e415 100.1px,#d9e316 101.1px,#e1e415 102.6px,#dee415 103.1px,#e3e415 103.6px,#ece518 104.1px,#f1e61a 104.6px,#e6e516 106.6px,#d1e218 107.6px,#badf24 108.6px,#a9dc30 109.1px,#7ad251 110.1px,#36b878 111.6px,#27ad81 112.1px,#1f9e89 113.1px,#1f958c 114.1px,#20918c 116.1px,#21a586 121.1px,#34b779 125.6px,#6dce59 135.1px,#a6db33 146.1px,#d5e217 157.1px,#eee619 166.6px,#f8e71e 172.1px,#f8e71e 190.6px)"></i><i style="left:57.0px;width:1.1px;background:linear-gradient(#f8e71e 0.0px,#f8e71e 91.5px,#e8e517 92.5px,#dbe315 93.0px,#d9e316 93.5px,#e0e415 94.5px,#d8e316 96.1px,#e0e415 97.1px,#d7e316 98.6px,#e0e415 100.1px,#d8e316 101.1px,#e0e415 102.6px,#dde315 103.1px,#e2e415 103.6px,#ece518 104.1px,#efe619 104.6px,#e7e516 106.1px,#d4e217 107.1px,#b0dd2c 108.6px,#6acd5b 110.1px,#3cbb75 111.1px,#2ab07f 111.6px,#21a685 112.1px,#1f958b 113.6px,#21908c 115.6px,#20a586 120.6px,#30b47b 124.6px,#67cc5d 133.6px,#a4db34 145.1px,#d2e217 156.1px,#ece518 165.1px,#f8e71e 171.6px,#f8e71e 190.6px)"></i><i style="left:58.0px;width:1.1px;background:linear-gradient(#f8e71e 0.0px,#f8e71e 91.5px,#e8e517 92.5px,#dae315 93.0px,#d8e316 93.5px,#dfe415 94.5px,#d7e316 96.1px,#dfe415 97.1px,#d6e216 98.6px,#dfe415 100.1px,#d7e316 101.1px,#dfe415 102.6px,#dce315 103.1px,#e1e415 103.6px,#ebe518 104.1px,#eae517 105.1px,#e1e415 106.1px,#cce11a 107.1px,#b5de28 108.1px,#70cf57 109.6px,#2eb37c 111.1px,#22a884 111.6px,#1f958b 113.1px,#21908d 115.1px,#20a486 120.1px,#30b47c 124.1px,#66cc5d 133.1px,#a6db33 145.1px,#d4e217 156.1px,#eee619 165.6px,#f8e71e 171.1px,#f8e71e 190.6px)"></i><i style="left:59.0px;width:1.1px;background:linear-gradient(#f8e71e 0.0px,#f8e71e 91.5px,#e7e516 92.5px,#d9e316 93.0px,#d7e316 93.5px,#dfe415 94.5px,#d6e216 96.1px,#dee415 97.1px,#d5e216 98.6px,#dee415 100.1px,#d6e216 101.1px,#dfe415 102.6px,#dce315 103.1px,#e0e415 103.6px,#ebe518 104.1px,#e4e416 105.6px,#cfe119 106.6px,#b8de26 107.6px,#8dd645 108.6px,#48c16e 110.1px,#33b67a 110.6px,#25ab82 111.1px,#1e9c89 112.1px,#20948c 113.1px,#20918c 115.1px,#21a685 120.1px,#35b779 124.6px,#6bcd5a 133.6px,#a8db32 145.1px,#d4e217 155.6px,#eee619 165.1px,#f8e71e 171.1px,#f8e71e 190.6px)"></i><i style="left:60.0px;width:1.1px;background:linear-gradient(#f8e71e 0.0px,#f8e71e 91.5px,#e7e516 92.5px,#d8e316 93.0px,#d6e216 93.5px,#dee315 94.5px,#d5e217 96.1px,#dee315 97.1px,#d4e217 98.6px,#dde315 100.1px,#d5e217 101.1px,#dee315 102.6px,#dbe315 103.1px,#e0e415 103.6px,#ebe518 104.1px,#e7e516 105.1px,#d2e218 106.1px,#bbdf24 107.1px,#abdc2f 107.6px,#7cd250 108.6px,#38b977 110.1px,#28ae80 110.6px,#20a586 111.1px,#1f978b 112.1px,#218f8d 114.1px,#21a585 119.6px,#35b779 124.1px,#6acd5a 133.1px,#a9dc30 145.1px,#d4e217 155.1px,#eee619 164.6px,#f8e71e 170.1px,#f8e71e 190.6px)"></i><i style="left:61.0px;width:1.1px;background:linear-gradient(#f8e71e 0.0px,#f8e71e 91.5px,#f1e61a 92.0px,#d6e216 93.0px,#d3e217 93.5px,#dce315 94.5px,#d2e217 96.1px,#dce315 97.1px,#d2e218 98.6px,#dce315 100.1px,#d2e217 101.1px,#dce315 102.6px,#d9e316 103.1px,#dee415 103.6px,#eae517 104.1px,#e7e516 104.6px,#d5e217 105.6px,#b2dd2a 107.1px,#6cce5a 108.6px,#3ebc74 109.6px,#2bb17e 110.1px,#21a685 110.6px,#20948c 112.1px,#21908d 114.1px,#21a586 119.1px,#34b779 123.6px,#6acd5b 132.6px,#a9dc31 144.6px,#d4e217 154.6px,#eee619 164.1px,#f8e71e 169.6px,#f8e71e 190.6px)"></i><i style="left:62.0px;width:1.1px;background:linear-gradient(#f8e71e 0.0px,#f8e71e 91.5px,#f1e61a 92.0px,#e4e416 92.5px,#d3e217 93.0px,#d0e218 93.5px,#dae315 94.5px,#d0e218 95.6px,#cfe219 96.1px,#d9e316 97.1px,#cfe119 98.6px,#d8e316 99.6px,#d9e316 100.1px,#cfe219 101.1px,#dae315 102.6px,#d6e216 103.1px,#dce315 103.6px,#e8e517 104.1px,#e2e415 104.6px,#cde11a 105.6px,#b6de27 106.6px,#72cf56 108.1px,#30b47c 109.6px,#23a984 110.1px,#1f9a8a 111.1px,#20938c 112.1px,#218f8d 113.6px,#20a586 118.6px,#33b67a 123.1px,#69cd5b 132.1px,#a9dc31 144.1px,#d4e217 154.1px,#eee619 163.6px,#f8e71e 169.1px,#f8e71e 190.6px)"></i><i style="left:63.0px;width:1.1px;background:linear-gradient(#f8e71e 0.0px,#f8e71e 91.5px,#f0e61a 92.0px,#e2e415 92.5px,#d1e218 93.0px,#cde119 93.5px,#d8e316 94.5px,#cde119 95.6px,#cce11a 96.1px,#d7e316 97.1px,#d6e216 97.6px,#cbe11a 98.6px,#d6e216 99.6px,#d7e316 100.1px,#cce11a 101.1px,#cde119 101.6px,#d8e316 102.6px,#d4e217 103.1px,#e5e416 104.1px,#d0e218 105.1px,#b9de25 106.1px,#a7db32 106.6px,#62ca5f 108.1px,#34b779 109.1px,#25ac82 109.6px,#1e9c89 110.6px,#1f958c 111.1px,#218f8d 113.1px,#20a486 118.1px,#33b67a 122.6px,#68cd5c 131.6px,#a9dc31 143.6px,#d4e217 153.6px,#ede619 163.1px,#f8e71e 168.6px,#f8e71e 190.6px)"></i><i style="left:64.0px;width:1.1px;background:linear-gradient(#f8e71e 0.0px,#f8e71e 91.5px,#f0e61a 92.0px,#e1e415 92.5px,#cee119 93.0px,#cae11b 93.5px,#d5e216 94.5px,#cae11b 95.6px,#c9e11b 96.1px,#d5e217 97.1px,#d3e217 97.6px,#c8e11c 98.6px,#d3e217 99.6px,#d5e217 100.1px,#c9e11c 101.1px,#cae11b 101.6px,#d5e216 102.6px,#d1e218 103.1px,#dde315 104.1px,#c7e01c 105.1px,#addc2e 106.1px,#7ed34f 107.1px,#3aba76 108.6px,#29af80 109.1px,#21a586 109.6px,#1f968b 110.6px,#218e8d 112.6px,#20a486 117.6px,#32b67a 122.1px,#65cb5e 130.6px,#aadc30 143.6px,#d3e217 153.1px,#ede619 162.6px,#f8e71e 168.6px,#f8e71e 190.6px)"></i><i style="left:65.0px;width:1.1px;background:linear-gradient(#f8e71e 0.0px,#f8e71e 91.5px,#efe619 92.0px,#dfe415 92.5px,#cbe11a 93.0px,#c7e01c 93.5px,#d3e217 94.5px,#c7e01c 95.6px,#c6e01d 96.1px,#d2e217 97.1px,#d1e218 97.6px,#c5e01e 98.6px,#d1e218 99.6px,#d2e217 100.1px,#c6e01d 101.1px,#c7e01c 101.6px,#d3e217 102.6px,#cfe119 103.1px,#d6e216 103.6px,#d5e216 104.1px,#b4de29 105.6px,#6ece59 107.1px,#3fbd73 108.1px,#2db27d 108.6px,#22a785 109.1px,#20938c 110.6px,#218f8d 112.6px,#21a685 117.6px,#35b779 122.1px,#67cc5c 130.6px,#aadc30 143.1px,#d3e217 152.6px,#ede619 162.1px,#f8e71e 168.1px,#f8e71e 190.6px)"></i><i style="left:66.0px;width:1.1px;background:linear-gradient(#f8e71e 0.0px,#f8e71e 91.5px,#efe619 92.0px,#dee315 92.5px,#c8e11c 93.0px,#c4e01e 93.5px,#d1e218 94.5px,#c4e01e 95.6px,#c3e01f 96.1px,#d0e218 97.1px,#cee119 97.6px,#c2e01f 98.6px,#cfe119 99.6px,#d0e218 100.1px,#c2e01f 101.1px,#c4e01e 101.6px,#d1e218 102.6px,#cce11a 103.1px,#d4e217 103.6px,#cde119 104.1px,#b7de27 105.1px,#5ec962 107.1px,#31b57b 108.1px,#23a983 108.6px,#1f9a8a 109.6px,#20928c 110.6px,#218f8d 112.1px,#21a585 117.1px,#34b779 121.6px,#64cb5e 129.6px,#aadc30 142.6px,#d3e217 152.1px,#ede619 161.6px,#f8e71e 167.6px,#f8e71e 190.6px)"></i><i style="left:67.0px;width:1.1px;background:linear-gradient(#f8e71e 0.0px,#f8e71e 91.5px,#eee619 92.0px,#dce315 92.5px,#c5e01d 93.0px,#c1e020 93.5px,#cee119 94.5px,#c1e020 95.6px,#bfdf21 96.1px,#cee119 97.1px,#cce11a 97.6px,#bfdf21 98.6px,#cce11a 99.6px,#cee119 100.1px,#bfdf21 101.1px,#c1e020 101.6px,#cee119 102.6px,#c9e11b 103.1px,#d0e218 103.6px,#bade25 104.6px,#a9dc31 105.1px,#7ad151 106.1px,#36b878 107.6px,#26ad81 108.1px,#20a386 108.6px,#20948c 109.6px,#218e8d 111.6px,#20a586 116.6px,#34b679 121.1px,#64cb5e 129.1px,#aadc30 142.1px,#d3e217 151.6px,#ede619 161.1px,#f8e71e 166.6px,#f8e71e 190.6px)"></i><i style="left:68.0px;width:1.1px;background:linear-gradient(#f8e71e 0.0px,#f8e71e 91.5px,#eee619 92.0px,#dbe315 92.5px,#c2e01f 93.0px,#bedf22 93.5px,#cce11a 94.5px,#bedf22 95.6px,#bcdf23 96.1px,#cbe11a 97.1px,#c9e11b 97.6px,#bcdf24 98.6px,#cae11b 99.6px,#cbe11a 100.1px,#bcdf23 101.1px,#bedf22 101.6px,#cce11a 102.6px,#c7e01d 103.1px,#cae11b 103.6px,#b3dd2a 104.6px,#6dce59 106.1px,#3fbc73 107.1px,#2cb17e 107.6px,#21a785 108.1px,#20938c 109.6px,#218f8d 111.6px,#21a585 116.6px,#35b779 121.1px,#64cb5e 129.1px,#aadc30 142.1px,#d3e217 151.6px,#ede518 161.1px,#f6e71d 166.6px,#f8e71e 190.6px)"></i><i style="left:69.0px;width:1.1px;background:linear-gradient(#f8e71e 0.0px,#f8e71e 91.5px,#ede618 92.0px,#d9e316 92.5px,#c0df21 93.0px,#bbdf24 93.5px,#cae11b 94.5px,#bbdf24 95.6px,#b9de25 96.1px,#c9e11b 97.1px,#c7e01d 97.6px,#b8de26 98.6px,#c7e01c 99.6px,#c9e11b 100.1px,#b9de25 101.1px,#bbdf24 101.6px,#cae11b 102.6px,#c3e01f 103.6px,#b8de26 104.1px,#8dd645 105.1px,#48c16e 106.6px,#33b67a 107.1px,#25ab82 107.6px,#1e9b8a 108.6px,#20948c 109.1px,#218e8d 111.1px,#20a486 116.1px,#33b67a 120.6px,#65cb5e 129.1px,#a7db32 141.6px,#d3e217 151.6px,#ece518 161.1px,#f5e71c 166.1px,#f8e71e 190.6px)"></i><i style="left:70.0px;width:1.1px;background:linear-gradient(#f8e71e 0.0px,#f8e71e 91.5px,#ece518 92.0px,#d8e316 92.5px,#bddf23 93.0px,#b8de26 93.5px,#c7e01c 94.5px,#b8de26 95.6px,#b6de27 96.1px,#c7e01d 97.1px,#c4e01e 97.6px,#b5de28 98.6px,#c5e01e 99.6px,#c7e01d 100.1px,#b6de28 101.1px,#b8de26 101.6px,#c7e01c 102.6px,#bddf23 103.6px,#afdd2c 104.1px,#69cd5b 105.6px,#3bbb75 106.6px,#2ab07f 107.1px,#21a685 107.6px,#20938c 109.1px,#21908d 111.1px,#20a586 116.1px,#34b779 120.6px,#66cc5d 129.1px,#a5db34 141.1px,#d3e217 151.6px,#ece518 161.1px,#f4e61c 166.1px,#f8e71e 190.6px)"></i><i style="left:71.0px;width:1.1px;background:linear-gradient(#f8e71e 0.0px,#f8e71e 91.5px,#ece518 92.0px,#d6e216 92.5px,#bade25 93.0px,#b5de28 93.5px,#c5e01e 94.5px,#b4de28 95.6px,#b3dd2a 96.1px,#c4e01e 97.1px,#c2e01f 97.6px,#b2dd2a 98.6px,#c2e01f 99.6px,#c4e01e 100.1px,#b3dd2a 101.1px,#b5de28 101.6px,#c5e01e 102.6px,#b6de27 103.6px,#73d056 105.1px,#30b47b 106.6px,#23a983 107.1px,#1f9a8a 108.1px,#20928c 109.1px,#218f8d 110.6px,#21a685 116.1px,#38b977 121.1px,#61ca60 128.1px,#a5db34 141.1px,#d1e218 151.1px,#eae517 160.6px,#f2e61b 165.6px,#f8e71e 190.6px)"></i><i style="left:72.0px;width:1.1px;background:linear-gradient(#f8e71e 0.0px,#f8e71e 91.5px,#ebe518 92.0px,#d5e217 92.5px,#b7de27 93.0px,#b2dd2a 93.5px,#bddf23 94.0px,#c3e01f 94.5px,#b1dd2b 95.6px,#b0dd2c 96.1px,#c2e01f 97.1px,#bfdf21 97.6px,#b5de28 98.1px,#afdd2d 98.6px,#c0df21 99.6px,#c2e020 100.1px,#afdd2c 101.1px,#b2dd2a 101.6px,#bddf23 102.1px,#c3e01f 102.6px,#bbdf24 103.1px,#abdc2f 103.6px,#7cd250 104.6px,#38b977 106.1px,#28ae80 106.6px,#20a486 107.1px,#1f968b 108.1px,#218e8d 110.1px,#20a486 115.6px,#33b67a 120.1px,#62ca5f 128.1px,#a3db35 140.6px,#d1e218 151.1px,#e9e517 160.6px,#f1e61a 165.6px,#f8e71e 190.6px)"></i><i style="left:73.0px;width:1.1px;background:linear-gradient(#f8e71e 0.0px,#f8e71e 91.5px,#ebe518 92.0px,#d3e217 92.5px,#b3dd29 93.0px,#aedc2d 93.5px,#b9de25 94.0px,#bfdf21 94.5px,#addc2e 95.6px,#abdc2f 96.1px,#bfdf21 97.1px,#bcdf23 97.6px,#b1dd2b 98.1px,#aadc30 98.6px,#bcdf23 99.6px,#bedf22 100.1px,#abdc2f 101.1px,#aedc2d 101.6px,#b9de25 102.1px,#bfdf21 102.6px,#b5de28 103.1px,#6fcf57 104.6px,#41be72 105.6px,#2eb37d 106.1px,#22a884 106.6px,#1f958c 108.1px,#218f8d 110.1px,#21a585 115.6px,#37b977 120.6px,#61ca60 127.6px,#a1da37 140.1px,#cfe119 150.6px,#e8e517 160.1px,#f0e61a 165.1px,#f8e71e 189.6px,#f8e71e 190.6px)"></i><i style="left:74.0px;width:1.1px;background:linear-gradient(#f8e71e 0.0px,#f8e71e 91.5px,#eae517 92.0px,#d0e218 92.5px,#aedd2d 93.0px,#a8dc31 93.5px,#b5de28 94.0px,#bbdf24 94.5px,#a8dc31 95.6px,#a6db33 96.1px,#bbdf24 97.1px,#b8de26 97.6px,#acdc2f 98.1px,#a5db34 98.6px,#b8de26 99.6px,#badf24 100.1px,#a6db33 101.1px,#a8dc31 101.6px,#b5de28 102.1px,#bade25 102.6px,#a8dc31 103.1px,#64cb5e 104.6px,#36b878 105.6px,#26ad81 106.1px,#1e9d89 107.1px,#20948c 108.1px,#20918c 110.1px,#20a486 115.1px,#36b878 120.1px,#62ca5f 127.6px,#a2da36 140.1px,#cee119 150.6px,#e8e517 160.1px,#efe619 165.6px,#f8e71e 187.6px,#f8e71e 190.6px)"></i><i style="left:75.0px;width:1.1px;background:linear-gradient(#f8e71e 0.0px,#f8e71e 91.5px,#e9e517 92.0px,#cde119 92.5px,#aadc30 93.0px,#a3db35 93.5px,#b0dd2b 94.0px,#b7de26 94.5px,#b0dd2c 95.0px,#a3db35 95.6px,#a1da37 96.1px,#b7de27 97.1px,#b4de29 97.6px,#a7db32 98.1px,#a0da38 98.6px,#a7db32 99.1px,#b4de29 99.6px,#b6de27 100.1px,#a0da37 101.1px,#a3db35 101.6px,#b0dd2b 102.1px,#b2dd2a 102.6px,#6dce59 104.1px,#3ebc73 105.1px,#2cb17e 105.6px,#22a784 106.1px,#1f968b 107.6px,#20918c 109.6px,#20a386 114.6px,#32b67a 119.1px,#61ca60 127.1px,#a2da36 140.1px,#cee119 150.6px,#e7e516 160.1px,#efe61a 167.6px,#f8e71e 186.6px,#f8e71e 190.6px)"></i><i style="left:76.0px;width:1.1px;background:linear-gradient(#f8e71e 0.0px,#f8e71e 91.5px,#e8e517 92.0px,#cbe11a 92.5px,#a5db34 93.0px,#9eda39 93.5px,#acdc2e 94.0px,#b3dd29 94.5px,#abdc2f 95.0px,#9eda39 95.6px,#9bd93b 96.1px,#b3dd2a 97.1px,#b0dd2c 97.6px,#a2da36 98.1px,#9ad93c 98.6px,#a2da36 99.1px,#b0dd2c 99.6px,#b2dd2a 100.1px,#9bd93b 101.1px,#9eda39 101.6px,#acdc2e 102.1px,#9fda38 102.6px,#5bc863 104.1px,#2fb47c 105.1px,#23a983 105.6px,#1f978b 107.1px,#20918c 109.1px,#1f9f88 113.1px,#2ab07f 117.1px,#58c765 125.1px,#a1da37 139.6px,#cce11a 150.1px,#e6e516 159.6px,#efe619 168.1px,#f8e71e 185.6px,#f8e71e 190.6px)"></i><i style="left:77.0px;width:1.1px;background:linear-gradient(#f8e71e 0.0px,#f8e71e 91.5px,#e7e516 92.0px,#c8e11c 92.5px,#a0da37 93.0px,#99d93d 93.5px,#a8db32 94.0px,#b0dd2c 94.5px,#a7db32 95.0px,#99d93d 95.6px,#96d83f 96.1px,#afdd2d 97.1px,#abdc2f 97.6px,#9dd93a 98.1px,#95d840 98.6px,#9dda39 99.1px,#acdc2f 99.6px,#aedd2d 100.1px,#96d83f 101.1px,#99d93d 101.6px,#a3db35 102.1px,#60ca60 103.6px,#33b67a 104.6px,#25ab82 105.1px,#1f9d89 106.1px,#20948c 107.6px,#20948c 109.6px,#22a785 114.6px,#40bd73 120.6px,#80d34d 132.6px,#c8e01c 148.6px,#e2e415 158.1px,#ebe518 163.6px,#f8e71e 183.6px,#f8e71e 190.6px)"></i><i style="left:78.0px;width:1.1px;background:linear-gradient(#f8e71e 0.0px,#f8e71e 91.5px,#e6e516 92.0px,#c6e01d 92.5px,#9bd93b 93.0px,#94d841 93.5px,#a3db35 94.0px,#acdc2f 94.5px,#a3db36 95.0px,#93d841 95.6px,#91d743 96.1px,#abdc30 97.1px,#a7db32 97.6px,#98d83e 98.1px,#90d743 98.6px,#99d93d 99.1px,#a8db32 99.6px,#aadc30 100.1px,#91d743 101.1px,#94d841 101.6px,#91d743 102.1px,#4cc26c 103.6px,#37b878 104.1px,#27ad81 104.6px,#1f9f88 105.6px,#1f978b 106.6px,#20938c 108.6px,#1f9e89 112.1px,#29af80 116.1px,#56c666 124.1px,#a0da37 139.1px,#cae11b 149.6px,#e4e416 159.1px,#f8e71e 182.1px,#f8e71e 190.6px)"></i><i style="left:79.0px;width:1.1px;background:linear-gradient(#f8e71e 0.0px,#f8e71e 91.5px,#e5e416 92.0px,#c3e01f 92.5px,#97d83f 93.0px,#8fd744 93.5px,#9fda38 94.0px,#a8db32 94.5px,#9eda39 95.0px,#8ed644 95.6px,#8cd646 96.1px,#a7db32 97.1px,#a3db35 97.6px,#93d741 98.1px,#8ad647 98.6px,#94d841 99.1px,#a4db35 99.6px,#a6db33 100.1px,#8bd646 101.1px,#8fd744 101.6px,#69cd5b 102.6px,#3bba75 103.6px,#2ab07f 104.1px,#22a784 104.6px,#1f988b 106.1px,#20938c 108.1px,#1e9d89 111.6px,#28ae80 115.6px,#56c666 123.6px,#a1da37 139.1px,#c9e11c 149.1px,#e3e416 158.6px,#f8e71e 181.1px,#f8e71e 190.6px)"></i><i style="left:80.0px;width:1.1px;background:linear-gradient(#f8e71e 0.0px,#f8e71e 91.5px,#e4e416 92.0px,#c0df20 92.5px,#92d742 93.0px,#8ad547 93.5px,#9bd93c 94.0px,#a4db35 94.5px,#9ad93c 95.0px,#89d548 95.6px,#86d549 96.1px,#a3db35 97.1px,#9fda38 97.6px,#8ed644 98.1px,#85d44a 98.6px,#8fd744 99.1px,#9fda38 99.6px,#a2da36 100.1px,#7bd250 101.6px,#38b977 103.1px,#28ae80 103.6px,#1fa088 104.6px,#1f988b 105.6px,#20948c 107.6px,#1e9b8a 110.6px,#26ad81 114.6px,#55c667 123.1px,#a2da36 139.1px,#c9e11c 149.1px,#e3e416 158.6px,#f8e71e 180.6px,#f8e71e 190.6px)"></i><i style="left:81.0px;width:1.1px;background:linear-gradient(#f8e71e 0.0px,#f8e71e 91.5px,#e4e416 92.0px,#bedf22 92.5px,#8dd645 93.0px,#85d44a 93.5px,#96d83f 94.0px,#a0da38 94.5px,#95d840 95.0px,#84d44b 95.6px,#81d34d 96.1px,#9fda39 97.1px,#9bd93c 97.6px,#89d548 98.1px,#80d34d 98.6px,#8ad547 99.1px,#9bd93b 99.6px,#9dd93a 100.1px,#5ac864 101.6px,#2fb47c 102.6px,#24aa83 103.1px,#1f9a8a 104.6px,#20948c 106.6px,#1f9a8a 109.6px,#25ab82 113.6px,#55c667 122.6px,#a5db34 139.6px,#c9e11c 149.1px,#e3e416 158.6px,#f8e71e 180.1px,#f8e71e 190.6px)"></i><i style="left:82.0px;width:1.1px;background:linear-gradient(#f8e71e 0.0px,#f8e71e 91.5px,#e3e415 92.0px,#bbdf24 92.5px,#88d548 93.0px,#80d34d 93.5px,#92d742 94.0px,#9cd93b 94.5px,#91d743 95.0px,#7fd34e 95.6px,#7cd250 96.1px,#9bd93c 97.1px,#97d83f 97.6px,#84d44b 98.1px,#7bd251 98.6px,#91d743 99.6px,#4dc36b 101.1px,#38b977 101.6px,#28ae80 102.1px,#1fa187 103.1px,#1f978b 104.6px,#1f968b 107.1px,#1fa287 110.6px,#31b57b 115.6px,#5fc961 124.1px,#addc2e 141.1px,#cae11b 149.6px,#e3e416 159.1px,#f8e71e 179.1px,#f8e71e 190.6px)"></i><i style="left:83.0px;width:1.1px;background:linear-gradient(#f8e71e 0.0px,#f8e71e 91.5px,#e2e415 92.0px,#b9de25 92.5px,#85d44a 93.0px,#7cd250 93.5px,#8fd744 94.0px,#99d93d 94.5px,#8ed644 95.0px,#7cd250 95.6px,#79d152 96.1px,#98d83e 97.1px,#94d841 97.6px,#81d34d 98.1px,#77d153 98.6px,#82d44c 99.1px,#59c765 100.1px,#2fb47c 101.1px,#24aa83 101.6px,#1e9b8a 103.1px,#1f958b 105.1px,#1f9a8a 108.1px,#25ab82 112.1px,#52c568 121.1px,#a5db34 139.1px,#c7e01c 148.6px,#e1e415 158.1px,#f8e71e 178.6px,#f8e71e 190.6px)"></i><i style="left:84.0px;width:1.1px;background:linear-gradient(#f8e71e 0.0px,#f7e71e 91.5px,#e1e415 92.0px,#b7de26 92.5px,#82d44c 93.0px,#79d151 93.5px,#8cd646 94.0px,#97d83f 94.5px,#8bd646 95.0px,#79d152 95.6px,#76d054 96.1px,#95d840 97.1px,#91d742 97.6px,#7ed34f 98.1px,#74d055 98.6px,#64cb5e 99.1px,#37b977 100.1px,#28ae80 100.6px,#1fa287 101.6px,#1f968b 103.6px,#1f988b 107.1px,#24aa83 111.1px,#43bf71 117.6px,#93d741 134.6px,#c2e020 146.6px,#dfe415 156.6px,#f8e71e 177.6px,#f8e71e 190.6px)"></i><i style="left:85.0px;width:1.1px;background:linear-gradient(#f8e71e 0.0px,#f6e71d 91.0px,#f3e61b 91.5px,#e1e415 92.0px,#b6de28 92.5px,#7fd34e 93.0px,#76d153 93.5px,#89d547 94.0px,#94d841 94.5px,#88d548 95.0px,#76d054 95.6px,#72cf56 96.1px,#93d741 97.1px,#57c766 98.6px,#2fb37c 99.6px,#24ab82 100.1px,#1e9c89 101.6px,#1f968b 103.6px,#1f998a 106.6px,#26ac81 111.1px,#52c569 120.1px,#a5db34 138.6px,#c8e11c 148.6px,#e0e415 158.1px,#f8e71e 177.1px,#f8e71e 190.6px)"></i><i style="left:86.0px;width:1.1px;background:linear-gradient(#f8e71e 0.0px,#f8e71e 89.5px,#ece518 91.5px,#e0e415 92.0px,#b4de29 92.5px,#7cd24f 93.0px,#73d055 93.5px,#87d549 94.0px,#92d742 94.5px,#86d44a 95.0px,#73d056 95.6px,#6fcf57 96.1px,#75d054 96.6px,#39b977 98.1px,#29af7f 98.6px,#20a486 99.6px,#1f988b 101.6px,#1f988b 105.1px,#24aa83 109.6px,#45bf70 116.6px,#98d83e 135.1px,#c1e020 146.1px,#dde315 156.1px,#f8e71e 176.1px,#f8e71e 190.6px)"></i><i style="left:87.0px;width:1.1px;background:linear-gradient(#f8e71e 0.0px,#f6e71d 88.5px,#e4e416 91.5px,#dae315 92.0px,#b2dd2a 92.5px,#7ad151 93.0px,#70cf57 93.5px,#84d44b 94.0px,#8cd646 94.5px,#3bbb75 96.6px,#2cb17e 97.1px,#23a983 97.6px,#1e9b8a 99.6px,#1f978b 103.1px,#23a984 108.1px,#40bd72 115.1px,#92d742 133.6px,#c0df21 145.6px,#dce315 155.6px,#f8e71e 175.6px,#f8e71e 190.6px)"></i><i style="left:88.0px;width:1.1px;background:linear-gradient(#f8e71e 0.0px,#f7e71e 87.0px,#e1e415 90.5px,#c7e01d 91.5px,#abdc2f 92.5px,#77d153 93.0px,#62ca60 94.0px,#3aba76 95.0px,#2bb07e 95.6px,#22a785 96.1px,#1e9b8a 98.1px,#1f978b 102.1px,#23a983 107.1px,#41be72 114.6px,#96d83f 134.1px,#c0df21 145.6px,#dce315 155.6px,#f8e71e 174.6px,#f8e71e 190.6px)"></i><i style="left:89.0px;width:1.1px;background:linear-gradient(#f8e71e 0.0px,#f6e71d 86.0px,#e6e516 89.0px,#cfe218 90.0px,#b4de29 91.0px,#a2da36 91.5px,#69cd5b 92.5px,#3bbb75 93.5px,#29af7f 94.0px,#20a486 94.5px,#1f9a8a 95.6px,#1f978b 99.1px,#1f998a 101.6px,#26ac82 107.1px,#54c568 118.6px,#a7db32 138.1px,#cfe218 150.6px,#e3e416 160.1px,#f8e71e 174.1px,#f8e71e 190.6px)"></i><i style="left:90.0px;width:1.1px;background:linear-gradient(#f8e71e 0.0px,#f7e71e 84.5px,#e8e517 87.5px,#e2e415 88.0px,#cbe11b 89.0px,#b0dd2c 90.0px,#5fc961 91.5px,#2eb37d 92.5px,#21a585 93.0px,#1f988b 93.5px,#218e8d 95.0px,#1e9b8a 101.1px,#28ae80 107.1px,#5ac864 119.6px,#b0dd2c 140.1px,#d6e216 152.6px,#f0e61a 167.1px,#f8e71e 174.1px,#f8e71e 190.6px)"></i><i style="left:91.0px;width:1.1px;background:linear-gradient(#f8e71e 0.0px,#f6e71d 84.0px,#e6e516 87.0px,#d0e218 88.0px,#b7de27 89.0px,#a4db35 89.5px,#52c568 91.0px,#38b977 91.5px,#24ab82 92.0px,#1e9c89 92.5px,#228d8d 93.5px,#23888e 94.5px,#20a387 102.6px,#35b779 110.1px,#80d34d 128.1px,#b6de27 142.1px,#d7e316 153.1px,#f0e61a 167.1px,#f8e71e 173.6px,#f8e71e 190.6px)"></i><i style="left:92.0px;width:1.1px;background:linear-gradient(#f8e71e 0.0px,#f6e71d 83.5px,#e7e516 86.5px,#d1e218 87.5px,#b9de25 88.5px,#a8db32 89.0px,#57c766 90.5px,#27ad81 91.5px,#1f9e89 92.0px,#228d8d 93.0px,#24868e 94.0px,#1fa187 101.6px,#31b57b 108.6px,#70cf57 124.1px,#b1dd2b 140.1px,#d6e216 152.6px,#efe61a 166.1px,#f8e71e 172.6px,#f8e71e 190.6px)"></i><i style="left:93.0px;width:1.1px;background:linear-gradient(#f8e71e 0.0px,#f6e71d 83.0px,#e7e516 86.0px,#d2e217 87.0px,#bbdf24 88.0px,#abdc2f 88.5px,#5cc863 90.0px,#2ab07f 91.0px,#1fa188 91.5px,#1f948c 92.0px,#25848e 93.5px,#25858e 95.0px,#1fa188 101.1px,#30b47b 108.1px,#6dce59 123.1px,#afdd2c 139.6px,#d5e217 152.1px,#eee619 165.1px,#f8e71e 171.6px,#f8e71e 190.6px)"></i><i style="left:94.0px;width:1.1px;background:linear-gradient(#f8e71e 0.0px,#f6e71d 82.5px,#e7e516 85.5px,#d4e217 86.5px,#bcdf23 87.5px,#aedd2d 88.0px,#61ca60 89.5px,#2eb37d 90.5px,#20a486 91.0px,#1f978b 91.5px,#25838e 93.0px,#26818e 94.5px,#1fa088 100.6px,#30b47b 107.6px,#6acd5b 122.1px,#acdc2e 138.6px,#d4e217 151.6px,#ece518 163.6px,#f8e71e 171.1px,#f8e71e 190.6px)"></i><i style="left:95.0px;width:1.1px;background:linear-gradient(#f8e71e 0.0px,#f7e71d 82.0px,#e7e516 85.0px,#d5e217 86.0px,#b1dd2b 87.5px,#66cc5d 89.0px,#32b67a 90.0px,#22a784 90.5px,#1f998a 91.0px,#25848e 92.5px,#277e8e 94.0px,#1f9f88 100.1px,#2fb47c 107.1px,#67cc5c 121.1px,#abdc2f 138.1px,#d2e217 151.1px,#ebe518 162.6px,#f8e71e 170.1px,#f8e71e 190.6px)"></i><i style="left:96.0px;width:1.1px;background:linear-gradient(#f8e71e 0.0px,#f7e71e 81.5px,#e8e517 84.5px,#d6e216 85.5px,#b3dd29 87.0px,#6acd5b 88.5px,#37b878 89.5px,#24aa83 90.0px,#1e9c89 90.5px,#26808e 92.5px,#287d8e 94.0px,#1f9f88 99.6px,#2fb47c 106.6px,#66cc5d 120.6px,#aadc30 137.6px,#d1e218 150.6px,#eae517 161.6px,#f8e71e 169.6px,#f8e71e 190.6px)"></i><i style="left:97.0px;width:1.1px;background:linear-gradient(#f8e71e 0.0px,#f7e71e 81.0px,#e8e517 84.0px,#d7e316 85.0px,#b5de28 86.5px,#6dce59 88.0px,#3bbb75 89.0px,#27ad81 89.5px,#1f9f88 90.0px,#26828e 92.0px,#297a8e 93.5px,#228c8d 96.6px,#1fa088 99.6px,#31b57b 106.6px,#6ece58 122.1px,#aadc30 137.6px,#d2e218 150.6px,#ebe518 161.6px,#f8e71e 168.6px,#f8e71e 190.6px)"></i><i style="left:98.0px;width:1.1px;background:linear-gradient(#f8e71e 0.0px,#f7e71e 80.5px,#e3e415 84.0px,#cde11a 85.0px,#b6de27 86.0px,#5ac864 88.0px,#3fbd73 88.5px,#2ab07f 89.0px,#1fa287 89.5px,#25848e 91.5px,#29798e 93.0px,#277f8e 95.0px,#1e9d89 98.6px,#2db27d 105.1px,#5ac864 117.1px,#a5db33 136.1px,#cfe218 149.6px,#e9e517 160.1px,#f8e71e 168.1px,#f8e71e 190.6px)"></i><i style="left:99.0px;width:1.1px;background:linear-gradient(#f8e71e 0.0px,#f7e71e 80.0px,#e4e416 83.5px,#cee119 84.5px,#b7de26 85.5px,#8bd646 86.5px,#5dc962 87.5px,#2eb37d 88.5px,#21a585 89.0px,#218e8d 90.5px,#29798e 92.5px,#2a788e 94.0px,#25838e 95.6px,#1e9b8a 98.1px,#27ae80 103.1px,#4ec36b 113.6px,#a4db34 135.6px,#d0e218 149.6px,#e8e517 159.6px,#f8e71e 167.1px,#f8e71e 190.6px)"></i><i style="left:100.0px;width:1.1px;background:linear-gradient(#f8e71e 0.0px,#f5e71d 80.0px,#e6e516 83.0px,#d0e218 84.0px,#b9de25 85.0px,#a7db32 85.5px,#61ca60 87.0px,#32b57a 88.0px,#23a984 88.5px,#1f998a 89.5px,#297a8e 92.0px,#2b758e 93.5px,#287d8e 95.0px,#1f998a 97.6px,#23a983 101.1px,#4ac16d 112.1px,#9fda38 134.1px,#cde119 148.6px,#e7e516 158.6px,#f8e71e 166.6px,#f8e71e 190.6px)"></i><i style="left:101.0px;width:1.1px;background:linear-gradient(#f8e71e 0.0px,#f6e71d 79.5px,#e7e516 82.5px,#d2e217 83.5px,#bbdf24 84.5px,#acdc2f 85.0px,#66cc5d 86.5px,#36b878 87.5px,#26ac82 88.0px,#1fa287 88.5px,#24888e 90.5px,#2b768e 92.5px,#2b748e 94.0px,#24868e 95.6px,#1f9e89 98.1px,#2db27d 104.1px,#5ac864 116.1px,#a5db34 135.6px,#cfe219 149.1px,#e8e517 158.6px,#f8e71e 166.1px,#f8e71e 190.6px)"></i><i style="left:102.0px;width:1.1px;background:linear-gradient(#f8e71e 0.0px,#f6e71d 79.0px,#e7e516 82.0px,#d4e217 83.0px,#b0dd2c 84.5px,#6acd5b 86.0px,#3aba76 87.0px,#28af80 87.5px,#20a486 88.0px,#228b8d 90.0px,#2b748e 92.5px,#2c738e 94.0px,#1f988b 97.1px,#22a884 100.1px,#46c06f 110.6px,#9dd93a 133.1px,#cde11a 148.1px,#e7e516 157.6px,#f8e71e 165.6px,#f8e71e 190.6px)"></i><i style="left:103.0px;width:1.1px;background:linear-gradient(#f8e71e 0.0px,#f7e71d 78.5px,#e7e516 81.5px,#d6e216 82.5px,#b4de29 84.0px,#6dce59 85.5px,#3fbc73 86.5px,#2cb17e 87.0px,#21a685 87.5px,#1f958b 89.0px,#2b758e 92.0px,#2e6f8e 93.5px,#1f998a 97.1px,#23a983 100.1px,#46c06f 110.1px,#9bd93b 132.6px,#cde119 148.1px,#e6e516 157.1px,#f8e71e 164.6px,#f8e71e 190.6px)"></i><i style="left:104.0px;width:1.1px;background:linear-gradient(#f8e71e 0.0px,#f7e71e 78.0px,#e8e517 81.0px,#e2e415 81.5px,#cce11a 82.5px,#b6de28 83.5px,#71cf56 85.0px,#43be71 86.0px,#2fb37c 86.5px,#22a784 87.0px,#1f978b 88.5px,#2d6f8e 92.5px,#2e6d8e 93.0px,#25838e 95.0px,#1f9f88 97.6px,#2db27d 103.1px,#5dc962 116.1px,#a2da36 134.6px,#cee119 148.1px,#e8e517 157.1px,#f8e71e 164.1px,#f8e71e 190.6px)"></i><i style="left:105.0px;width:1.1px;background:linear-gradient(#f8e71e 0.0px,#f8e71e 77.5px,#e4e416 81.0px,#cee119 82.0px,#b8de26 83.0px,#8cd646 84.0px,#47c06f 85.5px,#32b57a 86.0px,#24aa83 86.5px,#1f9a8a 88.0px,#2f6c8e 92.5px,#2c728e 93.5px,#1e9c89 97.1px,#28ae80 101.1px,#48c16e 110.1px,#9cd93b 132.6px,#cde119 147.6px,#e6e516 156.1px,#f8e71e 163.6px,#f8e71e 190.6px)"></i><i style="left:106.0px;width:1.1px;background:linear-gradient(#f8e71e 0.0px,#f5e71d 77.5px,#e6e516 80.5px,#d0e218 81.5px,#bade25 82.5px,#a8dc31 83.0px,#63cb5f 84.5px,#35b778 85.5px,#26ac82 86.0px,#1fa088 87.0px,#287d8e 90.5px,#2e6d8e 92.0px,#2e6f8e 93.0px,#1f998a 96.6px,#24aa83 99.6px,#44bf71 108.6px,#99d93d 131.6px,#cee119 147.6px,#e7e516 156.1px,#f8e71e 163.1px,#f8e71e 190.6px)"></i><i style="left:107.0px;width:1.1px;background:linear-gradient(#f8e71e 0.0px,#f6e71d 77.0px,#e7e516 80.0px,#d2e217 81.0px,#bcdf24 82.0px,#acdc2e 82.5px,#7dd24f 83.5px,#39b977 85.0px,#28ae80 85.5px,#21a685 86.0px,#20948c 88.0px,#2f6c8e 92.0px,#2b758e 93.5px,#1f9a8a 96.6px,#25ab82 99.6px,#43be71 108.1px,#98d83e 131.1px,#cde119 147.1px,#e7e516 155.6px,#f8e71e 162.1px,#f8e71e 190.6px)"></i><i style="left:108.0px;width:1.1px;background:linear-gradient(#f8e71e 0.0px,#f7e71d 76.0px,#e7e516 79.0px,#d5e216 80.0px,#b3dd2a 81.5px,#6cce59 83.0px,#3ebc74 84.0px,#2cb17e 84.5px,#22a784 85.0px,#20938c 87.5px,#2b758e 90.5px,#2d6f8e 91.0px,#2b748e 93.0px,#1e9c89 96.6px,#26ad81 99.6px,#44bf70 108.1px,#96d83f 130.6px,#cee119 147.1px,#e7e516 155.1px,#f8e71e 161.6px,#f8e71e 190.6px)"></i><i style="left:109.0px;width:1.1px;background:linear-gradient(#f8e71e 0.0px,#f7e71e 75.0px,#e8e517 78.0px,#d7e316 79.0px,#b5de28 80.5px,#70cf57 82.0px,#2eb37c 83.5px,#22a884 84.0px,#20948c 86.5px,#287b8e 89.5px,#2b748e 90.5px,#2b758e 92.5px,#24888e 94.5px,#1fa287 97.1px,#2fb47c 101.6px,#7bd251 122.6px,#cfe119 147.1px,#e8e517 155.1px,#f8e71e 161.1px,#f8e71e 190.6px)"></i><i style="left:110.0px;width:1.1px;background:linear-gradient(#f8e71e 0.0px,#f7e71e 74.0px,#e3e415 77.5px,#cde119 78.5px,#b6de27 79.5px,#73d055 81.0px,#30b47b 82.5px,#23a983 83.0px,#1f998a 85.0px,#297a8e 89.5px,#297a8e 92.5px,#20918c 95.0px,#20a486 97.1px,#32b57a 101.6px,#77d153 121.1px,#d0e218 146.6px,#e9e517 154.6px,#f8e71e 160.6px,#f8e71e 190.6px)"></i><i style="left:111.0px;width:1.1px;background:linear-gradient(#f8e71e 0.0px,#f8e71e 73.0px,#e4e416 76.5px,#cfe119 77.5px,#b8de26 78.5px,#8dd645 79.5px,#48c16e 81.0px,#33b67a 81.5px,#25ab82 82.0px,#1e9d89 83.5px,#277e8e 88.5px,#287e8e 92.5px,#20938c 95.0px,#21a685 97.1px,#35b779 101.6px,#74d055 119.6px,#cfe119 145.6px,#e8e517 153.6px,#f8e71e 160.1px,#f8e71e 190.6px)"></i><i style="left:112.0px;width:1.1px;background:linear-gradient(#f8e71e 0.0px,#f6e71d 72.5px,#e6e516 75.5px,#d0e218 76.5px,#bade25 77.5px,#a9dc31 78.0px,#64cb5e 79.5px,#36b878 80.5px,#26ac81 81.0px,#1fa287 82.0px,#26828e 87.0px,#26818e 92.5px,#21908d 94.5px,#20a586 96.6px,#31b57b 100.1px,#78d152 120.1px,#cfe219 145.1px,#e7e516 152.6px,#f8e71e 159.6px,#f8e71e 190.6px)"></i><i style="left:113.0px;width:1.1px;background:linear-gradient(#f8e71e 0.0px,#f6e71d 71.5px,#e7e516 74.5px,#d2e217 75.5px,#bbdf24 76.5px,#acdc2e 77.0px,#7dd24f 78.0px,#39b977 79.5px,#28ae80 80.0px,#21a685 80.5px,#20918c 83.5px,#26828e 86.5px,#25848e 90.5px,#24868e 93.0px,#1fa287 96.1px,#2fb37c 99.1px,#79d152 119.6px,#d0e218 144.6px,#e8e517 152.1px,#f8e71e 158.6px,#f8e71e 190.6px)"></i><i style="left:114.0px;width:1.1px;background:linear-gradient(#f8e71e 0.0px,#f6e71d 71.0px,#e7e516 74.0px,#d1e218 75.0px,#bbdf24 76.0px,#abdc2f 76.5px,#7cd250 77.5px,#38b977 79.0px,#27ae80 79.5px,#1fa287 80.5px,#23898d 84.5px,#25838e 86.5px,#24868e 90.5px,#24878e 93.0px,#1f9f88 95.6px,#2cb17e 98.1px,#3fbc73 103.1px,#94d840 126.6px,#cfe119 143.6px,#e7e516 151.1px,#f8e71e 158.1px,#f8e71e 190.6px)"></i><i style="left:115.0px;width:1.1px;background:linear-gradient(#f8e71e 0.0px,#f6e71d 70.5px,#e7e516 73.5px,#d2e218 74.5px,#bbdf24 75.5px,#abdc2f 76.0px,#7cd250 77.0px,#38b977 78.5px,#28ae80 79.0px,#1fa287 80.0px,#228c8d 83.5px,#26838e 85.5px,#23898e 90.0px,#24878e 92.5px,#1f968b 94.5px,#24aa83 96.6px,#37b977 100.1px,#7ad251 118.6px,#cfe218 143.1px,#e8e517 150.6px,#f8e71e 157.6px,#f8e71e 190.6px)"></i><i style="left:116.0px;width:1.1px;background:linear-gradient(#f8e71e 0.0px,#f6e71d 70.0px,#e7e516 73.0px,#d2e217 74.0px,#bbdf24 75.0px,#acdc2f 75.5px,#7cd250 76.5px,#38b977 78.0px,#28ae80 78.5px,#1fa287 79.5px,#228c8d 83.0px,#25838e 85.0px,#228b8d 89.5px,#23898e 92.5px,#1f978b 94.5px,#22a785 96.1px,#35b878 99.1px,#7fd34e 119.1px,#d0e218 142.6px,#e8e517 150.1px,#f8e71e 157.1px,#f8e71e 190.6px)"></i><i style="left:117.0px;width:1.1px;background:linear-gradient(#f8e71e 0.0px,#f6e71d 69.5px,#e7e516 72.5px,#d2e217 73.5px,#bbdf24 74.5px,#acdc2e 75.0px,#7dd24f 76.0px,#39b977 77.5px,#28ae80 78.0px,#21a685 78.5px,#20918c 81.5px,#25838e 84.5px,#228d8d 89.5px,#238a8d 92.5px,#1f998a 94.5px,#23a884 96.1px,#35b779 98.6px,#85d44a 120.1px,#d0e218 142.1px,#e9e517 149.6px,#f8e71e 156.6px,#f8e71e 190.6px)"></i><i style="left:118.0px;width:1.1px;background:linear-gradient(#f8e71e 0.0px,#f6e71d 69.0px,#e7e516 72.0px,#d2e217 73.0px,#bcdf23 74.0px,#addc2e 74.5px,#7dd24f 75.5px,#39b976 77.0px,#28ae80 77.5px,#21a685 78.0px,#20918c 81.0px,#25838e 84.0px,#218f8d 89.0px,#228c8d 92.5px,#1e9b8a 94.5px,#24aa83 96.1px,#36b878 98.6px,#87d549 120.1px,#cfe218 141.1px,#e8e517 148.6px,#f8e71e 155.6px,#f8e71e 190.6px)"></i><i style="left:119.0px;width:1.1px;background:linear-gradient(#f8e71e 0.0px,#f6e71d 68.5px,#e7e516 71.5px,#d2e217 72.5px,#bcdf23 73.5px,#addc2e 74.0px,#7ed24f 75.0px,#39ba76 76.5px,#28af80 77.0px,#21a685 77.5px,#20928c 80.5px,#25838e 83.5px,#20918c 89.0px,#218e8d 92.5px,#1e9c89 94.5px,#25ac82 96.1px,#38b977 98.6px,#87d549 119.6px,#d0e218 140.6px,#e8e517 148.1px,#f8e71e 155.1px,#f8e71e 190.6px)"></i><i style="left:120.0px;width:1.1px;background:linear-gradient(#f8e71e 0.0px,#f6e71d 68.0px,#e7e516 71.0px,#d3e217 72.0px,#bcdf23 73.0px,#addc2e 73.5px,#7ed34f 74.5px,#3aba76 76.0px,#29af80 76.5px,#21a685 77.0px,#20928c 80.0px,#25848e 83.5px,#20928c 88.5px,#21908d 92.5px,#1f9e89 94.5px,#2cb17e 96.6px,#3ebc73 99.6px,#92d742 122.1px,#d0e218 140.1px,#e9e517 147.6px,#f8e71e 154.1px,#f8e71e 190.6px)"></i><i style="left:121.0px;width:1.1px;background:linear-gradient(#f8e71e 0.0px,#f6e71d 67.5px,#e7e516 70.5px,#d3e217 71.5px,#bcdf23 72.5px,#aedd2d 73.0px,#7ed34e 74.0px,#3aba76 75.5px,#29af80 76.0px,#21a685 76.5px,#20928c 79.5px,#25848e 83.0px,#20948c 88.5px,#20918c 92.5px,#1fa088 94.5px,#32b57b 97.1px,#46c06f 101.1px,#99d93d 123.6px,#d1e218 139.6px,#eae517 147.1px,#f8e71e 153.6px,#f8e71e 190.6px)"></i><i style="left:122.0px;width:1.1px;background:linear-gradient(#f8e71e 0.0px,#f6e71d 67.0px,#e7e516 70.0px,#d3e217 71.0px,#bcdf23 72.0px,#aedd2d 72.5px,#69cd5c 74.0px,#3aba76 75.0px,#29af7f 75.5px,#21a785 76.0px,#20928c 79.0px,#25848e 82.5px,#1f968b 88.5px,#1f958b 92.5px,#22a884 95.0px,#37b977 97.6px,#56c666 105.1px,#a2da36 125.6px,#d3e217 139.6px,#ece518 147.1px,#f8e71e 153.1px,#f8e71e 190.6px)"></i><i style="left:123.0px;width:1.1px;background:linear-gradient(#f8e71e 0.0px,#f6e71d 66.5px,#e7e516 69.5px,#d3e217 70.5px,#bddf23 71.5px,#afdd2d 72.0px,#69cd5b 73.5px,#3bba75 74.5px,#29af7f 75.0px,#21a785 75.5px,#20928c 78.5px,#25848e 82.0px,#1f988b 88.5px,#1f988b 92.5px,#21a685 94.5px,#39ba76 97.6px,#63cb5f 108.1px,#a2da36 125.1px,#d3e217 139.1px,#ece518 146.6px,#f8e71e 152.6px,#f8e71e 190.6px)"></i><i style="left:124.0px;width:1.1px;background:linear-gradient(#f8e71e 0.0px,#f6e71d 66.0px,#e7e516 69.0px,#d3e217 70.0px,#bddf23 71.0px,#afdd2c 71.5px,#69cd5b 73.0px,#3bbb75 74.0px,#2aaf7f 74.5px,#21a785 75.0px,#20928c 78.0px,#25848e 81.5px,#1f9a8a 88.5px,#1f9e89 93.0px,#26ad81 95.0px,#3ebc74 98.1px,#8cd646 118.1px,#d0e218 137.6px,#e9e517 145.1px,#f5e71d 150.1px,#f8e71e 190.6px)"></i><i style="left:125.0px;width:1.1px;background:linear-gradient(#f8e71e 0.0px,#f6e71d 65.5px,#e7e516 68.5px,#d3e217 69.5px,#afdd2c 71.0px,#6acd5b 72.5px,#3bbb75 73.5px,#2ab07f 74.0px,#22a785 74.5px,#20928c 77.5px,#25848e 81.0px,#1e9b8a 88.5px,#1fa287 93.0px,#29af80 95.0px,#43be71 98.6px,#93d741 119.6px,#d0e218 137.1px,#eae517 144.6px,#f6e71d 149.6px,#f8e71e 190.6px)"></i><i style="left:126.0px;width:1.1px;background:linear-gradient(#f8e71e 0.0px,#f6e71d 65.0px,#e7e516 68.0px,#d4e217 69.0px,#b0dd2c 70.5px,#6acd5b 72.0px,#3cbb75 73.0px,#2ab07f 73.5px,#22a785 74.0px,#20928c 77.0px,#25848e 80.5px,#1e9d89 88.5px,#21a586 93.0px,#2fb47c 95.6px,#47c06f 99.1px,#99d93d 120.6px,#d1e218 136.6px,#eae517 144.1px,#f5e71d 148.6px,#f8e71e 190.6px)"></i><i style="left:127.0px;width:1.1px;background:linear-gradient(#f8e71e 0.0px,#f6e71d 64.5px,#e7e516 67.5px,#d4e217 68.5px,#b0dd2b 70.0px,#6acd5b 71.5px,#3cbb75 72.5px,#2ab07f 73.0px,#22a785 73.5px,#20928c 76.5px,#25848e 80.0px,#1f9f88 88.5px,#24aa83 93.5px,#44bf70 98.1px,#93d841 118.6px,#d1e218 136.1px,#eae517 143.6px,#f6e71d 148.1px,#f8e71e 190.6px)"></i><i style="left:128.0px;width:1.1px;background:linear-gradient(#f8e71e 0.0px,#f6e71d 64.0px,#e7e516 67.0px,#d3e217 68.0px,#afdd2c 69.5px,#7fd34e 70.5px,#3bbb75 72.0px,#2ab07f 72.5px,#21a685 73.0px,#20928c 76.0px,#25838e 80.0px,#1fa088 88.0px,#27ad81 93.5px,#46c06f 98.1px,#95d840 118.6px,#d1e218 135.6px,#ebe518 143.1px,#f6e71d 147.6px,#f8e71e 190.6px)"></i><i style="left:129.0px;width:1.1px;background:linear-gradient(#f8e71e 0.0px,#f6e71d 63.5px,#e7e516 66.5px,#d3e217 67.5px,#aedd2d 69.0px,#7dd24f 70.0px,#39ba76 71.5px,#28af80 72.0px,#21a585 72.5px,#21908d 76.0px,#25838e 79.5px,#1f9f88 87.0px,#28ae80 93.0px,#4ac26d 98.6px,#9bd93c 119.6px,#d1e218 135.1px,#ebe518 142.6px,#f6e71d 147.1px,#f8e71e 190.6px)"></i><i style="left:130.0px;width:1.1px;background:linear-gradient(#f8e71e 0.0px,#f6e71d 63.0px,#e7e516 66.0px,#d3e217 67.0px,#addc2e 68.5px,#7bd250 69.5px,#37b878 71.0px,#27ad81 71.5px,#20a486 72.0px,#218e8d 76.0px,#26838e 79.0px,#1f9f88 86.5px,#2bb07f 93.0px,#4cc26c 98.6px,#9cd93a 119.6px,#d2e218 134.6px,#eae517 141.6px,#f6e71d 146.1px,#f8e71e 190.6px)"></i><i style="left:131.0px;width:1.1px;background:linear-gradient(#f8e71e 0.0px,#f6e71d 62.5px,#e7e516 65.5px,#d3e217 66.5px,#addc2e 68.0px,#79d152 69.0px,#34b779 70.5px,#25ab82 71.0px,#1fa287 71.5px,#228d8d 75.5px,#26838e 78.5px,#1fa088 86.5px,#2cb17e 92.5px,#50c46a 99.1px,#a0da38 120.1px,#d4e217 134.6px,#ede619 142.1px,#f6e71d 146.1px,#f8e71e 190.6px)"></i><i style="left:132.0px;width:1.1px;background:linear-gradient(#f8e71e 0.0px,#f6e71d 62.0px,#e7e516 65.0px,#d3e217 66.0px,#addc2e 67.5px,#78d152 68.5px,#31b57b 70.0px,#23a983 70.5px,#1f9f88 71.0px,#218f8d 74.5px,#26828e 78.0px,#1fa088 86.0px,#2db27d 92.5px,#52c569 99.1px,#a0da38 119.6px,#d4e217 134.1px,#ece518 141.1px,#f7e71d 145.1px,#f8e71e 190.6px)"></i><i style="left:133.0px;width:1.1px;background:linear-gradient(#f8e71e 0.0px,#f7e71d 61.5px,#e7e516 64.5px,#d4e217 65.5px,#addc2e 67.0px,#77d153 68.0px,#46c06f 69.0px,#2fb47c 69.5px,#22a784 70.0px,#1e9c89 70.5px,#218f8d 73.5px,#26828e 77.5px,#1fa088 85.5px,#2eb37d 92.5px,#51c569 98.6px,#9eda39 118.6px,#d2e217 133.1px,#eae517 140.1px,#f7e71e 144.6px,#f8e71e 190.6px)"></i><i style="left:134.0px;width:1.1px;background:linear-gradient(#f8e71e 0.0px,#f7e71d 61.0px,#e7e516 64.0px,#d4e217 65.0px,#aedd2d 66.5px,#78d152 67.5px,#45bf70 68.5px,#2eb37d 69.0px,#21a585 69.5px,#1f9a8a 70.0px,#228d8d 72.5px,#26828e 77.0px,#1f9f88 85.0px,#2db27d 92.0px,#3ebc74 95.0px,#55c667 99.1px,#9eda39 118.1px,#d2e217 132.6px,#ebe518 139.6px,#f7e71e 144.1px,#f8e71e 190.6px)"></i><i style="left:135.0px;width:1.1px;background:linear-gradient(#f8e71e 0.0px,#f7e71d 60.5px,#e7e516 63.5px,#d5e217 64.5px,#afdd2c 66.0px,#5ec961 67.5px,#2db27d 68.5px,#20a486 69.0px,#1f978b 69.5px,#23898d 72.0px,#25838e 76.0px,#25848e 77.0px,#1f9f88 84.5px,#2eb37c 92.0px,#40bd73 95.0px,#57c766 99.1px,#9eda39 117.6px,#d2e217 132.1px,#ebe518 139.1px,#f7e71e 143.6px,#f8e71e 190.6px)"></i><i style="left:136.0px;width:1.1px;background:linear-gradient(#f8e71e 0.0px,#f7e71d 60.0px,#e7e516 63.0px,#d5e216 64.0px,#b1dd2b 65.5px,#61ca60 67.0px,#2eb37d 68.0px,#20a486 68.5px,#1f978b 69.0px,#24878e 71.0px,#25838e 75.5px,#24868e 77.0px,#1fa188 84.5px,#31b57b 92.5px,#56c666 98.6px,#9eda39 117.1px,#d2e217 131.6px,#ebe518 138.6px,#f8e71e 143.1px,#f8e71e 190.6px)"></i><i style="left:137.0px;width:1.1px;background:linear-gradient(#f8e71e 0.0px,#f7e71e 59.5px,#e3e416 63.0px,#cde119 64.0px,#b5de28 65.0px,#84d44b 66.0px,#51c469 67.0px,#36b878 67.5px,#23a983 68.0px,#1f9a8a 68.5px,#24878e 70.5px,#25838e 76.0px,#1f9f88 83.5px,#2db27d 91.0px,#3ebc74 94.5px,#55c667 98.1px,#9fda38 117.1px,#d2e217 131.1px,#ebe518 138.1px,#f8e71e 142.6px,#f8e71e 190.6px)"></i><i style="left:138.0px;width:1.1px;background:linear-gradient(#f8e71e 0.0px,#f6e71d 59.5px,#e6e516 62.5px,#d0e218 63.5px,#b9de25 64.5px,#a7db32 65.0px,#59c864 66.5px,#28af80 67.5px,#1fa088 68.0px,#21908c 69.0px,#25848e 70.5px,#26828e 75.5px,#1f9e89 83.0px,#2cb27d 90.5px,#3bba75 94.0px,#55c667 98.1px,#a2da36 117.6px,#d3e217 131.1px,#ece518 138.1px,#f8e71e 142.1px,#f8e71e 190.6px)"></i><i style="left:139.0px;width:1.1px;background:linear-gradient(#f8e71e 0.0px,#f6e71d 59.0px,#e7e516 62.0px,#d4e217 63.0px,#bcdf23 64.0px,#aedd2d 64.5px,#62ca5f 66.0px,#2fb47c 67.0px,#21a586 67.5px,#1f998a 68.0px,#25858e 70.0px,#26818e 75.0px,#1f9e89 82.5px,#2db27d 90.5px,#3bbb75 94.0px,#55c667 98.1px,#a5db34 118.1px,#d3e217 130.6px,#ece518 137.6px,#f8e71e 142.1px,#f8e71e 190.6px)"></i><i style="left:140.0px;width:1.1px;background:linear-gradient(#f8e71e 0.0px,#f7e71e 58.5px,#e8e517 61.5px,#d7e316 62.5px,#b4de29 64.0px,#6acd5b 65.5px,#37b877 66.5px,#24ab82 67.0px,#1e9c89 67.5px,#26838e 70.0px,#25838e 75.0px,#1f9f88 82.5px,#30b47b 91.5px,#40bd73 94.5px,#56c666 98.1px,#a6db33 118.1px,#d3e217 130.1px,#ebe518 137.1px,#f8e71e 141.6px,#f8e71e 190.6px)"></i><i style="left:141.0px;width:1.1px;background:linear-gradient(#f8e71e 0.0px,#f8e71e 58.0px,#e4e416 61.5px,#cfe119 62.5px,#b8de26 63.5px,#a4db35 64.0px,#5bc864 65.5px,#2ab07f 66.5px,#1fa187 67.0px,#25838e 69.5px,#27808e 72.5px,#26828e 74.5px,#1e9d89 81.5px,#2cb17e 89.5px,#3dbb74 94.0px,#56c666 98.1px,#a5db33 117.6px,#d2e217 129.6px,#ebe518 136.6px,#f8e71e 141.1px,#f8e71e 190.6px)"></i><i style="left:142.0px;width:1.1px;background:linear-gradient(#f8e71e 0.0px,#f6e71d 58.0px,#e7e516 61.0px,#d2e218 62.0px,#bbdf24 63.0px,#abdc2f 63.5px,#62cb5f 65.0px,#31b57b 66.0px,#22a785 66.5px,#1f968b 67.5px,#26828e 69.5px,#277f8e 72.5px,#25848e 74.5px,#1e9d89 81.0px,#2bb17e 89.0px,#3aba76 93.5px,#56c666 98.1px,#a5db34 117.1px,#d2e217 129.1px,#ebe518 136.1px,#f8e71e 140.6px,#f8e71e 190.6px)"></i><i style="left:143.0px;width:1.1px;background:linear-gradient(#f8e71e 0.0px,#f6e71d 57.5px,#e7e516 60.5px,#d5e217 61.5px,#b2dd2a 63.0px,#69cd5b 64.5px,#38b977 65.5px,#26ac82 66.0px,#1f9f88 66.5px,#25838e 69.0px,#287d8e 71.5px,#277e8e 73.5px,#1f958b 78.0px,#22a884 84.5px,#38b977 93.0px,#59c765 98.6px,#acdc2f 118.6px,#d4e217 129.1px,#ece518 136.1px,#f8e71e 140.1px,#f8e71e 190.6px)"></i><i style="left:144.0px;width:1.1px;background:linear-gradient(#f8e71e 0.0px,#f7e71e 57.0px,#e8e517 60.0px,#e3e415 60.5px,#cde11a 61.5px,#b6de27 62.5px,#5ac864 64.5px,#40bd73 65.0px,#2bb17e 65.5px,#20a387 66.0px,#228b8d 68.0px,#287d8e 70.0px,#287d8e 73.0px,#20928c 77.0px,#22a784 84.0px,#38b977 93.0px,#5ac864 98.6px,#addc2e 118.6px,#d3e217 128.6px,#ece518 135.6px,#f8e71e 140.1px,#f8e71e 190.6px)"></i><i style="left:145.0px;width:1.1px;background:linear-gradient(#f8e71e 0.0px,#f5e71d 57.0px,#e5e416 60.0px,#d0e218 61.0px,#b9de25 62.0px,#a7db32 62.5px,#61ca60 64.0px,#31b57b 65.0px,#22a884 65.5px,#1f9a8a 66.5px,#26818e 69.0px,#297a8e 71.5px,#287d8e 73.0px,#20928c 76.5px,#21a785 83.5px,#38b977 93.0px,#5cc963 99.1px,#b0dd2b 119.1px,#d5e217 128.6px,#ede619 135.6px,#f8e71e 139.6px,#f8e71e 190.6px)"></i><i style="left:146.0px;width:1.1px;background:linear-gradient(#f8e71e 0.0px,#f6e71d 56.5px,#e7e516 59.5px,#d3e217 60.5px,#bcdf23 61.5px,#aedd2d 62.0px,#67cc5c 63.5px,#38b977 64.5px,#26ac81 65.0px,#1fa287 65.5px,#24878e 68.0px,#29798e 70.5px,#297b8e 72.5px,#20918c 76.0px,#21a685 83.0px,#37b878 92.5px,#5fca61 99.6px,#b6de28 120.1px,#d8e316 129.1px,#f2e61b 136.6px,#f8e71e 140.1px,#f8e71e 190.6px)"></i><i style="left:147.0px;width:1.1px;background:linear-gradient(#f8e71e 0.0px,#f7e71e 56.0px,#e8e517 59.0px,#d6e216 60.0px,#b4de29 61.5px,#6ece58 63.0px,#3ebc74 64.0px,#2bb07e 64.5px,#20a586 65.0px,#21908c 67.0px,#297b8e 69.5px,#2a788e 72.0px,#218e8d 75.0px,#20a486 82.0px,#37b878 92.5px,#60ca61 99.6px,#b7de26 120.1px,#d8e316 128.6px,#f2e61b 136.1px,#f8e71e 139.1px,#f8e71e 190.6px)"></i><i style="left:148.0px;width:1.1px;background:linear-gradient(#f8e71e 0.0px,#f7e71e 55.5px,#e4e416 59.0px,#cee119 60.0px,#b8de26 61.0px,#8cd646 62.0px,#46c06f 63.5px,#31b57b 64.0px,#23a884 64.5px,#1f998a 66.0px,#29798e 69.5px,#2b768e 71.5px,#20928c 75.5px,#21a685 82.5px,#37b877 92.5px,#61ca60 99.6px,#bbdf24 120.6px,#dbe315 129.1px,#f6e71d 137.1px,#f8e71e 190.6px)"></i><i style="left:149.0px;width:1.1px;background:linear-gradient(#f8e71e 0.0px,#f6e71d 55.5px,#e7e516 58.5px,#d2e217 59.5px,#bbdf24 60.5px,#acdc2f 61.0px,#7cd250 62.0px,#37b977 63.5px,#27ad81 64.0px,#1fa188 65.0px,#2a788e 69.5px,#2b768e 71.5px,#20918c 75.0px,#21a685 82.0px,#37b977 92.5px,#61ca60 99.6px,#bcdf23 120.6px,#dae315 128.6px,#f6e71d 136.6px,#f8e71e 190.6px)"></i><i style="left:150.0px;width:1.1px;background:linear-gradient(#f8e71e 0.0px,#f7e71d 55.0px,#e7e516 58.0px,#d6e216 59.0px,#b4de29 60.5px,#6dce59 62.0px,#3fbc73 63.0px,#2cb17e 63.5px,#21a685 64.0px,#20918c 66.5px,#2a778e 69.5px,#2c738e 71.0px,#218f8d 74.5px,#21a585 81.5px,#37b977 92.5px,#4ac26d 95.6px,#67cc5d 100.6px,#c8e01c 123.1px,#e3e415 130.6px,#f8e71e 137.6px,#f8e71e 190.6px)"></i><i style="left:151.0px;width:1.1px;background:linear-gradient(#f8e71e 0.0px,#f7e71e 54.5px,#e4e416 58.0px,#cee119 59.0px,#b8de26 60.0px,#5fca61 62.0px,#31b57b 63.0px,#23a983 63.5px,#1f998a 65.5px,#2b768e 69.5px,#2c728e 70.5px,#20938c 75.0px,#22a784 82.0px,#38b977 92.5px,#4bc26d 95.6px,#67cc5c 100.6px,#c9e11b 123.1px,#e2e415 130.1px,#f8e71e 137.1px,#f8e71e 190.6px)"></i><i style="left:152.0px;width:1.1px;background:linear-gradient(#f8e71e 0.0px,#f6e71d 54.5px,#e7e516 57.5px,#d2e217 58.5px,#bbdf24 59.5px,#acdc2f 60.0px,#7cd250 61.0px,#38b977 62.5px,#27ae80 63.0px,#20a387 64.0px,#238a8d 67.0px,#2b758e 69.5px,#2c738e 70.5px,#20928c 74.5px,#22a784 81.5px,#38b977 92.5px,#48c16e 95.0px,#62ca60 99.1px,#bddf23 119.6px,#dbe315 127.6px,#f6e71d 135.6px,#f8e71e 190.6px)"></i><i style="left:153.0px;width:1.1px;background:linear-gradient(#f8e71e 0.0px,#f7e71d 54.0px,#e7e516 57.0px,#d5e216 58.0px,#b4dd29 59.5px,#6dce59 61.0px,#3fbd73 62.0px,#2cb27e 62.5px,#22a784 63.0px,#20938c 66.0px,#2b758e 69.5px,#2b768e 70.5px,#1f948c 74.5px,#23a983 81.5px,#39ba76 92.5px,#49c16d 95.0px,#64cb5f 99.1px,#c1e020 120.1px,#dee415 128.1px,#f8e71e 136.1px,#f8e71e 190.6px)"></i><i style="left:154.0px;width:1.1px;background:linear-gradient(#f8e71e 0.0px,#f7e71e 53.5px,#e4e416 57.0px,#cee119 58.0px,#b7de26 59.0px,#5fca61 61.0px,#32b57a 62.0px,#24aa83 62.5px,#1f998a 65.0px,#2b758e 69.5px,#25858e 72.0px,#1f998a 75.0px,#27ad81 83.0px,#3cbb75 93.0px,#60ca60 98.1px,#aedd2d 115.1px,#d0e218 123.6px,#e8e517 130.6px,#f8e71e 136.1px,#f8e71e 190.6px)"></i><i style="left:155.0px;width:1.1px;background:linear-gradient(#f8e71e 0.0px,#f6e71d 53.5px,#e7e516 56.5px,#d2e218 57.5px,#bbdf24 58.5px,#acdc2f 59.0px,#7cd250 60.0px,#38b977 61.5px,#28ae80 62.0px,#20a486 63.0px,#228e8d 66.5px,#2a788e 69.0px,#2a798e 70.0px,#1f988b 74.5px,#26ac81 82.0px,#3bbb75 92.5px,#65cb5e 98.6px,#b6de27 116.6px,#d5e216 124.6px,#efe619 132.1px,#f8e71e 136.1px,#f8e71e 190.6px)"></i><i style="left:156.0px;width:1.1px;background:linear-gradient(#f8e71e 0.0px,#f7e71d 53.0px,#e7e516 56.0px,#d5e216 57.0px,#b4dd29 58.5px,#6dce59 60.0px,#3fbd73 61.0px,#2cb27d 61.5px,#22a784 62.0px,#1f948c 65.5px,#2a788e 69.0px,#24858e 71.5px,#1e9c89 75.0px,#29af7f 83.5px,#3cbb75 92.5px,#67cc5d 98.6px,#b4de29 115.6px,#d3e217 123.6px,#ede518 131.1px,#f8e71e 135.6px,#f8e71e 190.6px)"></i><i style="left:157.0px;width:1.1px;background:linear-gradient(#f8e71e 0.0px,#f7e71e 52.5px,#e3e416 56.0px,#cde119 57.0px,#b7de27 58.0px,#73d055 59.5px,#31b57b 61.0px,#23a983 61.5px,#1f968b 65.0px,#297b8e 68.5px,#26818e 70.5px,#1e9c89 74.5px,#2ab07f 83.0px,#3ebc74 92.5px,#66cc5d 98.1px,#a9dc31 112.6px,#cee119 121.6px,#e8e517 129.1px,#f8e71e 135.1px,#f8e71e 190.6px)"></i><i style="left:158.0px;width:1.1px;background:linear-gradient(#f8e71e 0.0px,#f5e71d 52.5px,#e5e416 55.5px,#cfe218 56.5px,#b9de25 57.5px,#a7db32 58.0px,#62ca5f 59.5px,#34b779 60.5px,#25ac82 61.0px,#1f9f88 63.0px,#24888e 67.0px,#287d8e 68.5px,#24868e 71.0px,#1fa088 75.0px,#2bb17e 83.0px,#40bd73 92.5px,#68cc5c 98.1px,#abdc2f 112.6px,#d0e218 121.6px,#e9e517 129.1px,#f8e71e 134.6px,#f8e71e 190.6px)"></i><i style="left:159.0px;width:1.1px;background:linear-gradient(#f8e71e 0.0px,#f6e71d 52.0px,#e7e516 55.0px,#d2e218 56.0px,#bbdf24 57.0px,#abdc2f 57.5px,#7cd250 58.5px,#38b977 60.0px,#27ae80 60.5px,#20a586 61.5px,#218f8d 66.0px,#26808e 68.0px,#24868e 70.5px,#1f9f88 74.5px,#2bb07f 82.0px,#3fbd73 92.0px,#59c765 95.6px,#77d153 100.6px,#cae11b 119.6px,#e4e416 127.1px,#f8e71e 134.1px,#f8e71e 190.6px)"></i><i style="left:160.0px;width:1.1px;background:linear-gradient(#f8e71e 0.0px,#f6e71d 51.5px,#e7e516 54.5px,#d4e217 55.5px,#b0dd2c 57.0px,#6acd5b 58.5px,#3cbb75 59.5px,#2ab07f 60.0px,#22a784 60.5px,#20938c 65.0px,#25838e 68.0px,#24888e 70.5px,#1fa187 74.5px,#2cb17e 82.0px,#3ebc73 91.5px,#57c666 95.0px,#72cf56 99.1px,#cae11b 119.1px,#e4e416 126.6px,#f8e71e 133.6px,#f8e71e 190.6px)"></i><i style="left:161.0px;width:1.1px;background:linear-gradient(#f8e71e 0.0px,#f7e71d 51.0px,#e8e517 54.0px,#d6e216 55.0px,#b5de28 56.5px,#71cf56 58.0px,#30b47b 59.5px,#25ab82 60.0px,#1f988b 64.0px,#24888e 67.5px,#238a8d 70.0px,#1fa287 74.0px,#2db27d 81.0px,#42be71 91.5px,#5ac864 95.0px,#75d054 99.1px,#cbe11b 118.6px,#e5e416 126.6px,#f8e71e 133.1px,#f8e71e 190.6px)"></i><i style="left:162.0px;width:1.1px;background:linear-gradient(#f8e71e 0.0px,#f7e71e 50.5px,#e3e416 54.0px,#cee119 55.0px,#b8de26 56.0px,#64cb5e 58.0px,#38b977 59.0px,#29af80 59.5px,#1f9f88 62.5px,#228d8d 67.0px,#218e8d 70.0px,#21a586 74.0px,#2fb47c 81.0px,#44bf70 91.0px,#5ac864 94.5px,#74d055 98.1px,#c9e11c 117.6px,#e3e416 125.6px,#f8e71e 133.1px,#f8e71e 190.6px)"></i><i style="left:163.0px;width:1.1px;background:linear-gradient(#f8e71e 0.0px,#f5e71d 50.5px,#e5e416 53.5px,#d1e218 54.5px,#bcdf23 55.5px,#95d840 56.5px,#55c667 58.0px,#2fb37c 59.0px,#23a983 60.5px,#1f978b 64.5px,#21918c 67.5px,#20928c 70.0px,#21a685 73.5px,#30b47b 79.5px,#49c16e 91.0px,#5ec962 94.5px,#77d153 98.1px,#cbe11b 117.6px,#e5e416 125.6px,#f8e71e 132.6px,#f8e71e 190.6px)"></i><i style="left:164.0px;width:1.1px;background:linear-gradient(#f8e71e 0.0px,#f6e71d 50.0px,#e7e516 53.0px,#d4e217 54.0px,#bfdf21 55.0px,#b0dd2c 55.5px,#5dc962 57.5px,#36b878 58.5px,#2db27d 59.0px,#20a486 61.5px,#1f948c 66.0px,#1f968b 70.0px,#23a984 73.5px,#33b67a 79.5px,#4bc26d 90.5px,#62ca60 94.5px,#7dd24f 98.6px,#cbe11b 117.1px,#e4e416 125.1px,#f8e71e 132.1px,#f8e71e 190.6px)"></i><i style="left:165.0px;width:1.1px;background:linear-gradient(#f8e71e 0.0px,#f6e71d 49.5px,#e8e517 52.5px,#d6e216 53.5px,#b5de28 55.0px,#66cc5d 57.0px,#3ebc73 58.0px,#33b67a 58.5px,#23a984 60.5px,#1f978b 65.5px,#1e9b8a 70.5px,#27ad81 74.0px,#38b977 81.0px,#4fc46a 90.5px,#65cc5d 94.5px,#80d34d 98.6px,#c9e11b 116.1px,#e3e415 124.1px,#f8e71e 131.6px,#f8e71e 190.6px)"></i><i style="left:166.0px;width:1.1px;background:linear-gradient(#f8e71e 0.0px,#f7e71d 49.0px,#e9e517 52.0px,#cfe119 53.5px,#badf24 54.5px,#6ece58 56.5px,#47c06f 57.5px,#38b977 58.0px,#25ab82 60.0px,#1f9a8a 64.5px,#1f9f88 70.5px,#30b47c 75.5px,#51c469 90.0px,#65cb5e 94.0px,#84d44b 98.6px,#c9e11b 115.6px,#e3e415 123.6px,#f8e71e 131.6px,#f8e71e 190.6px)"></i><i style="left:167.0px;width:1.1px;background:linear-gradient(#f8e71e 0.0px,#f7e71e 48.5px,#e9e517 51.5px,#dbe315 52.5px,#bedf22 54.0px,#62ca5f 56.5px,#3fbd73 57.5px,#28ae80 59.5px,#1f9e89 63.5px,#1e9c89 65.0px,#1f9f88 68.0px,#20a486 71.0px,#33b67a 75.5px,#55c667 90.0px,#69cd5b 94.0px,#87d549 98.6px,#c9e11b 115.1px,#e4e416 123.6px,#f8e71e 131.1px,#f8e71e 190.6px)"></i><i style="left:168.0px;width:1.1px;background:linear-gradient(#f8e71e 0.0px,#f5e71d 48.5px,#e6e516 51.5px,#cbe11b 53.0px,#c1e020 53.5px,#6acd5a 56.0px,#48c16e 57.0px,#2bb17e 59.0px,#20a586 62.0px,#1f9e89 64.5px,#20a387 68.0px,#22a785 71.0px,#37b878 75.5px,#57c765 89.5px,#6cce59 94.0px,#8ad547 98.6px,#c9e11b 114.6px,#e4e416 123.1px,#f8e71e 130.6px,#f8e71e 190.6px)"></i><i style="left:169.0px;width:1.1px;background:linear-gradient(#f8e71e 0.0px,#f6e71d 48.0px,#e8e517 51.0px,#cde119 52.5px,#b7de27 53.5px,#61ca60 56.0px,#46c06f 57.0px,#29af7f 59.0px,#1fa088 64.0px,#21a685 67.5px,#22a884 70.5px,#3aba76 75.5px,#5bc863 89.5px,#70cf57 94.0px,#8dd645 98.6px,#c9e11b 114.1px,#e4e416 122.6px,#f8e71e 130.1px,#f8e71e 190.6px)"></i><i style="left:170.0px;width:1.1px;background:linear-gradient(#f8e71e 0.0px,#f6e71d 47.5px,#e9e517 50.5px,#d0e218 52.0px,#bcdf23 53.0px,#6acd5b 55.5px,#4ec36b 56.5px,#2db27d 58.5px,#1fa287 63.5px,#23a983 67.5px,#24aa82 70.5px,#3dbc74 75.5px,#5fca61 89.5px,#73d056 94.0px,#8dd645 98.1px,#c8e11c 113.1px,#e2e415 121.6px,#f8e71e 130.1px,#f8e71e 190.6px)"></i><i style="left:171.0px;width:1.1px;background:linear-gradient(#f8e71e 0.0px,#f7e71d 47.0px,#eae517 50.0px,#d2e217 51.5px,#c0df21 52.5px,#64cb5e 55.5px,#41be72 57.0px,#31b47b 58.0px,#21a685 62.5px,#25ab82 68.0px,#28ae80 71.0px,#40bd73 75.5px,#62cb5f 89.5px,#75d054 94.0px,#90d743 98.1px,#c8e01c 112.6px,#e2e415 121.1px,#f8e71e 129.6px,#f8e71e 190.6px)"></i><i style="left:172.0px;width:1.1px;background:linear-gradient(#f8e71e 0.0px,#f7e71e 46.5px,#eae517 49.5px,#d5e217 51.0px,#c4e01e 52.0px,#6dce59 55.0px,#3ebc74 57.0px,#30b47b 58.0px,#22a785 63.0px,#27ad81 68.0px,#29af80 70.5px,#42be71 75.5px,#67cc5d 90.0px,#77d153 94.0px,#92d742 98.1px,#c7e01c 112.1px,#e1e415 120.6px,#f8e71e 129.1px,#f8e71e 190.6px)"></i><i style="left:173.0px;width:1.1px;background:linear-gradient(#f8e71e 0.0px,#f5e71d 46.5px,#e7e516 49.5px,#cfe119 51.0px,#badf25 52.0px,#74d055 54.5px,#43bf71 56.5px,#33b67a 57.5px,#23a984 62.5px,#29af80 68.0px,#2bb07e 70.5px,#45bf70 75.5px,#6cce59 91.0px,#7ed24f 94.5px,#96d83f 98.6px,#c7e01c 111.6px,#e3e415 120.6px,#f8e71e 128.6px,#f8e71e 190.6px)"></i><i style="left:174.0px;width:1.1px;background:linear-gradient(#f8e71e 0.0px,#f6e71d 46.0px,#e9e517 49.0px,#d1e218 50.5px,#bedf22 51.5px,#78d152 54.0px,#3dbc74 56.5px,#35b779 57.0px,#24aa83 62.0px,#2ab07f 68.0px,#2cb27d 70.5px,#47c06f 75.5px,#73d056 92.0px,#88d548 95.6px,#a2db36 101.1px,#cbe11b 112.1px,#e4e416 120.6px,#f8e71e 128.6px,#f8e71e 190.6px)"></i><i style="left:175.0px;width:1.1px;background:linear-gradient(#f8e71e 0.0px,#f6e71d 45.5px,#eae517 48.5px,#d4e217 50.0px,#c2e01f 51.0px,#6fcf57 54.0px,#41be72 56.0px,#38b977 56.5px,#25ab82 61.0px,#2aaf7f 65.5px,#2cb17e 68.0px,#2eb37c 70.5px,#4ac26d 75.5px,#77d153 92.5px,#99d93d 98.1px,#c9e11b 111.1px,#e4e416 120.1px,#f8e71e 128.1px,#f8e71e 190.6px)"></i><i style="left:176.0px;width:1.1px;background:linear-gradient(#f8e71e 0.0px,#f7e71e 45.0px,#ebe518 48.0px,#d6e216 49.5px,#c6e01d 50.5px,#74d055 53.5px,#3cbb75 56.0px,#2db27d 58.5px,#25ac82 61.5px,#2db27d 66.0px,#31b57b 70.5px,#4dc36c 75.5px,#7ad251 92.5px,#9bd93b 98.1px,#c9e11b 110.6px,#e4e416 119.6px,#f8e71e 127.6px,#f8e71e 190.6px)"></i><i style="left:177.0px;width:1.1px;background:linear-gradient(#f8e71e 0.0px,#f5e71d 45.0px,#e7e516 48.0px,#d0e218 49.5px,#bcdf23 50.5px,#78d152 53.0px,#40bd73 55.5px,#36b878 56.5px,#26ad81 61.0px,#2db27d 65.5px,#31b57b 68.0px,#34b779 70.5px,#4fc46a 75.5px,#7dd24f 92.5px,#9dda39 98.1px,#cbe11b 110.6px,#e5e416 119.6px,#f8e71e 127.6px,#f8e71e 190.6px)"></i><i style="left:178.0px;width:1.1px;background:linear-gradient(#f8e71e 0.0px,#f6e71d 44.5px,#e9e517 47.5px,#d2e217 49.0px,#c0df21 50.0px,#70cf57 53.0px,#44bf71 55.0px,#3bbb75 55.5px,#27ad81 60.5px,#2db27d 65.0px,#35b779 67.5px,#38b977 70.5px,#52c568 75.5px,#80d34d 92.5px,#a0da38 98.1px,#cbe11b 110.1px,#e5e416 119.1px,#f8e71e 127.1px,#f8e71e 190.6px)"></i><i style="left:179.0px;width:1.1px;background:linear-gradient(#f8e71e 0.0px,#f6e71d 44.0px,#eae517 47.0px,#d5e217 48.5px,#c3e01f 49.5px,#74d055 52.5px,#3ebc73 55.0px,#2bb17e 59.0px,#2ab07f 63.0px,#34b779 66.0px,#3fbc73 71.0px,#55c667 75.5px,#83d44c 92.5px,#a4db34 98.6px,#cce11a 110.1px,#e6e516 119.1px,#f8e71e 126.6px,#f8e71e 190.6px)"></i><i style="left:180.0px;width:1.1px;background:linear-gradient(#f8e71e 0.0px,#f7e71e 43.5px,#ebe518 46.5px,#d7e316 48.0px,#c7e01c 49.0px,#78d152 52.0px,#42be71 54.5px,#35b779 56.5px,#29af7f 60.0px,#30b47b 65.0px,#3cbb75 67.5px,#43be71 71.0px,#59c764 76.0px,#85d44a 92.5px,#a6db33 98.6px,#cee119 110.1px,#e7e516 119.1px,#f8e71e 126.1px,#f8e71e 190.6px)"></i><i style="left:181.0px;width:1.1px;background:linear-gradient(#f8e71e 0.0px,#f5e71d 43.5px,#e8e517 46.5px,#d1e218 48.0px,#bedf22 49.0px,#7cd250 51.5px,#46c06f 54.0px,#39b976 55.5px,#2bb07e 59.5px,#30b47b 64.5px,#3fbd73 67.5px,#47c06f 71.0px,#5cc963 76.0px,#88d548 92.5px,#aadc30 99.1px,#cfe218 110.1px,#e8e517 119.1px,#f8e71e 126.1px,#f8e71e 190.6px)"></i><i style="left:182.0px;width:1.1px;background:linear-gradient(#f8e71e 0.0px,#f6e71d 43.0px,#e9e517 46.0px,#d4e217 47.5px,#c1e020 48.5px,#74d055 51.5px,#42be71 54.0px,#2db27d 58.5px,#32b57a 64.5px,#43be71 67.5px,#4ec36b 71.5px,#62ca60 77.0px,#8bd647 92.5px,#acdc2e 99.1px,#d1e218 110.1px,#eae517 119.1px,#f8e71e 125.6px,#f8e71e 190.6px)"></i><i style="left:183.0px;width:1.1px;background:linear-gradient(#f8e71e 0.0px,#f6e71d 42.5px,#ebe518 45.5px,#d6e216 47.0px,#c5e01e 48.0px,#78d152 51.0px,#46c070 53.5px,#36b878 56.0px,#2db27d 59.0px,#34b679 64.5px,#47c06f 67.5px,#54c567 72.0px,#69cd5b 79.0px,#8dd645 92.5px,#aedd2d 99.1px,#d2e217 110.1px,#ece518 119.6px,#f8e71e 125.1px,#f8e71e 190.6px)"></i><i style="left:184.0px;width:1.1px;background:linear-gradient(#f8e71e 0.0px,#f7e71e 42.0px,#ebe518 45.0px,#d8e316 46.5px,#c9e11c 47.5px,#7cd250 50.5px,#4ac16d 53.0px,#3bba76 55.0px,#2eb37c 58.5px,#36b878 64.5px,#4bc26d 67.5px,#70cf57 80.5px,#90d743 92.5px,#b0dd2b 99.1px,#d2e217 109.6px,#ece518 119.1px,#f8e71e 125.1px,#f8e71e 190.6px)"></i><i style="left:185.0px;width:1.1px;background:linear-gradient(#f8e71e 0.0px,#f5e71d 42.0px,#e8e517 45.0px,#d3e217 46.5px,#c0df21 47.5px,#75d054 50.5px,#47c06f 53.0px,#34b779 56.5px,#30b47b 59.5px,#38b977 64.5px,#4fc46a 67.5px,#75d054 81.5px,#92d742 92.5px,#b2dd2a 99.1px,#d4e217 109.6px,#ede618 119.1px,#f8e71e 124.6px,#f8e71e 190.6px)"></i><i style="left:186.0px;width:1.1px;background:linear-gradient(#f8e71e 0.0px,#f6e71d 41.5px,#eae517 44.5px,#d5e217 46.0px,#c3e01f 47.0px,#79d152 50.0px,#4ac16d 52.5px,#3aba76 55.0px,#31b57b 58.0px,#37b977 64.0px,#47c06f 66.0px,#55c667 68.0px,#94d840 92.5px,#b4de29 99.1px,#d5e216 109.6px,#efe619 119.6px,#f8e71e 124.1px,#f8e71e 190.6px)"></i><i style="left:187.0px;width:1.1px;background:linear-gradient(#f8e71e 0.0px,#f6e71d 41.0px,#ebe518 44.0px,#d7e316 45.5px,#c7e01d 46.5px,#7dd24f 49.5px,#4dc36b 52.0px,#41be72 53.5px,#32b67a 57.5px,#39ba76 64.0px,#4ac26d 66.0px,#59c764 68.0px,#97d83f 92.5px,#b6de27 99.1px,#d7e316 109.6px,#f0e61a 119.6px,#f8e71e 124.1px,#f8e71e 190.6px)"></i><i style="left:188.0px;width:1.1px;background:linear-gradient(#f8e71e 0.0px,#f7e71d 40.5px,#ece518 43.5px,#d2e217 45.5px,#bedf22 46.5px,#81d34d 49.0px,#51c469 51.5px,#43bf71 53.0px,#34b679 57.5px,#3bbb75 64.0px,#47c06f 65.5px,#5bc863 67.5px,#99d93d 92.5px,#b8de26 99.1px,#d8e316 109.6px,#f2e61b 120.1px,#f8e71e 124.6px,#f8e71e 190.6px)"></i><i style="left:189.0px;width:1.1px;background:linear-gradient(#f8e71e 0.0px,#f5e71d 40.5px,#e8e517 43.5px,#d4e217 45.0px,#c1e020 46.0px,#84d44b 48.5px,#4ec36b 51.5px,#3fbd73 54.0px,#35b779 57.0px,#3dbc74 64.0px,#49c16d 65.5px,#5ec962 67.5px,#80d34e 81.5px,#9fda39 93.5px,#b8de26 98.6px,#d8e316 109.1px,#f2e61b 119.6px,#f8e71e 123.6px,#f8e71e 190.6px)"></i><i style="left:190.0px;width:1.1px;background:linear-gradient(#f8e71e 0.0px,#f6e71d 40.0px,#eae517 43.0px,#d6e216 44.5px,#c5e01e 45.5px,#7ed34f 48.5px,#52c569 51.0px,#46c06f 52.5px,#37b878 56.5px,#3fbc73 64.0px,#52c568 66.0px,#63cb5f 68.0px,#9cd93a 92.5px,#bbdf24 99.1px,#dae315 109.6px,#f5e71d 120.6px,#f8e71e 190.6px)"></i><i style="left:191.0px;width:1.1px;background:linear-gradient(#f8e71e 0.0px,#f6e71d 39.5px,#ece518 42.5px,#d8e316 44.0px,#c8e11c 45.0px,#82d34c 48.0px,#55c667 50.5px,#48c16e 52.0px,#38b977 56.5px,#41bd72 64.0px,#55c667 66.0px,#66cc5d 68.0px,#9eda39 92.5px,#bbdf24 98.6px,#dae315 109.1px,#f6e71d 120.6px,#f8e71e 190.6px)"></i><i style="left:192.0px;width:1.1px;background:linear-gradient(#f8e71e 0.0px,#f7e71d 39.0px,#ece518 42.0px,#d3e217 44.0px,#c0df21 45.0px,#85d44a 47.5px,#53c568 50.5px,#46c06f 52.5px,#3aba76 56.0px,#41bd72 63.5px,#51c469 65.5px,#66cc5d 67.5px,#7dd24f 76.5px,#a0da37 92.5px,#bddf23 98.6px,#dae315 108.6px,#f6e71d 120.1px,#f8e71e 190.6px)"></i><i style="left:193.0px;width:1.1px;background:linear-gradient(#f8e71e 0.0px,#f5e71d 39.0px,#e9e517 42.0px,#d5e216 43.5px,#c3e01f 44.5px,#89d548 47.0px,#56c666 50.0px,#4bc26d 51.5px,#3bbb75 55.5px,#43be71 63.5px,#54c568 65.5px,#69cd5b 67.5px,#7fd34e 76.0px,#a2db36 92.5px,#bfdf22 98.6px,#dce315 108.6px,#f8e71e 121.6px,#f8e71e 190.6px)"></i><i style="left:194.0px;width:1.1px;background:linear-gradient(#f8e71e 0.0px,#f6e71d 38.5px,#eae517 41.5px,#d1e218 43.5px,#afdd2c 45.0px,#83d44b 47.0px,#54c568 50.0px,#3dbc74 55.0px,#45bf70 63.5px,#56c666 65.5px,#6cce59 67.5px,#80d34d 75.0px,#a2db36 92.0px,#c2e020 99.1px,#dee315 109.1px,#f8e71e 121.1px,#f8e71e 190.6px)"></i><i style="left:195.0px;width:1.1px;background:linear-gradient(#f8e71e 0.0px,#f6e71d 38.0px,#ece518 41.0px,#d3e217 43.0px,#b3dd29 44.5px,#86d549 46.5px,#57c766 49.5px,#4dc36b 51.0px,#3fbc73 55.0px,#48c16e 63.5px,#59c765 65.5px,#6ece58 67.5px,#81d34c 74.5px,#a4db34 92.0px,#c3e01f 99.1px,#dfe415 109.1px,#f8e71e 120.6px,#f8e71e 190.6px)"></i><i style="left:196.0px;width:1.1px;background:linear-gradient(#f8e71e 0.0px,#f7e71d 37.5px,#ece518 40.5px,#d5e217 42.5px,#c2e01f 43.5px,#8ad547 46.0px,#55c667 49.5px,#40bd72 54.5px,#48c16e 63.0px,#55c667 65.0px,#71cf57 67.5px,#83d44c 74.0px,#a6db33 92.0px,#c4e01e 99.1px,#dfe415 108.6px,#f8e71e 120.6px,#f8e71e 190.6px)"></i><i style="left:197.0px;width:1.1px;background:linear-gradient(#f8e71e 0.0px,#f5e71d 37.5px,#e9e517 40.5px,#d1e218 42.5px,#a3db35 44.5px,#85d44a 46.0px,#58c765 49.0px,#42be72 54.0px,#4bc26d 63.0px,#58c765 65.0px,#73d055 67.5px,#84d44b 73.5px,#a6db33 91.5px,#c6e01d 99.1px,#e0e415 108.6px,#f8e71e 120.1px,#f8e71e 190.6px)"></i><i style="left:198.0px;width:1.1px;background:linear-gradient(#f8e71e 0.0px,#f6e71d 37.0px,#ebe518 40.0px,#d3e217 42.0px,#b3dd2a 43.5px,#89d548 45.5px,#57c766 49.0px,#44bf71 54.0px,#4bc26c 62.5px,#55c667 64.5px,#76d054 67.5px,#86d54a 73.5px,#a7db32 91.5px,#c7e01c 99.1px,#e1e415 108.6px,#f8e71e 119.6px,#f8e71e 190.6px)"></i><i style="left:199.0px;width:1.1px;background:linear-gradient(#f8e71e 0.0px,#f7e71d 36.5px,#ede518 39.5px,#d6e216 41.5px,#c3e01f 42.5px,#8dd645 45.0px,#59c764 48.5px,#45bf70 53.5px,#4ec36b 62.5px,#57c766 64.5px,#78d153 67.5px,#86d549 73.0px,#a8db32 91.0px,#cae11b 99.6px,#e3e415 109.1px,#f8e71e 119.6px,#f8e71e 190.6px)"></i><i style="left:200.0px;width:1.1px;background:linear-gradient(#f8e71e 0.0px,#f6e71d 36.5px,#eae517 39.5px,#d2e217 41.5px,#a6db33 43.5px,#89d548 45.0px,#5dc962 48.0px,#47c06f 53.0px,#4ec36b 62.0px,#59c864 64.5px,#79d151 67.5px,#88d548 73.0px,#aadc30 91.0px,#cce11a 99.6px,#e5e416 109.6px,#f8e71e 119.1px,#f8e71e 190.6px)"></i><i style="left:201.0px;width:1.1px;background:linear-gradient(#f8e71e 0.0px,#f6e71d 36.0px,#ece518 39.0px,#d5e216 41.0px,#b6de27 42.5px,#8dd645 44.5px,#5bc863 48.0px,#48c16e 53.0px,#50c469 62.0px,#5cc863 64.5px,#7bd250 67.5px,#88d548 72.5px,#aadc30 90.5px,#cde119 99.6px,#e6e516 109.6px,#f8e71e 119.1px,#f8e71e 190.6px)"></i><i style="left:202.0px;width:1.1px;background:linear-gradient(#f8e71e 0.0px,#f5e71d 36.0px,#e9e517 39.0px,#d1e218 41.0px,#a5db34 43.0px,#89d548 44.5px,#5fc961 47.5px,#49c16d 52.5px,#51c469 61.5px,#5ec962 64.5px,#7dd24f 67.5px,#8bd647 73.0px,#acdc2e 90.5px,#cde119 99.1px,#e6e516 109.1px,#f8e71e 118.6px,#f8e71e 190.6px)"></i><i style="left:203.0px;width:1.1px;background:linear-gradient(#f8e71e 0.0px,#f6e71d 35.5px,#ebe518 38.5px,#d4e217 40.5px,#b5de28 42.0px,#94d840 43.5px,#5ec962 47.5px,#4bc26d 52.5px,#53c568 61.5px,#60ca61 64.5px,#7fd34e 67.5px,#8cd646 73.0px,#aedd2d 90.5px,#cee119 99.1px,#e8e517 109.6px,#f8e71e 118.1px,#f8e71e 190.6px)"></i><i style="left:204.0px;width:1.1px;background:linear-gradient(#f8e71e 0.0px,#f7e71d 35.0px,#ede619 38.0px,#d7e316 40.0px,#c5e01e 41.0px,#90d743 43.5px,#60ca60 47.0px,#4cc36c 52.0px,#54c667 61.0px,#62ca60 64.5px,#80d34d 67.5px,#8ed644 73.5px,#aedd2d 90.0px,#d0e218 99.1px,#e9e517 109.6px,#f8e71e 118.1px,#f8e71e 190.6px)"></i><i style="left:205.0px;width:1.1px;background:linear-gradient(#f8e71e 0.0px,#f6e71d 35.0px,#eae517 38.0px,#d4e217 40.0px,#a9dc31 42.0px,#8dd645 43.5px,#60ca61 47.0px,#4ec36b 52.0px,#57c666 61.0px,#64cb5e 64.5px,#82d44c 67.5px,#92d742 75.0px,#b0dd2b 90.0px,#d1e218 99.1px,#eae517 110.1px,#f8e71e 118.1px,#f8e71e 190.6px)"></i><i style="left:206.0px;width:1.1px;background:linear-gradient(#f8e71e 0.0px,#f6e71d 34.5px,#ede518 37.5px,#d7e316 39.5px,#b9de25 41.0px,#91d743 43.0px,#62cb5f 46.5px,#50c46a 51.5px,#57c765 60.5px,#66cc5d 64.5px,#84d44b 67.5px,#97d83e 77.5px,#b2dd2a 90.0px,#d2e217 99.1px,#ebe518 110.1px,#f8e71e 117.6px,#f8e71e 190.6px)"></i><i style="left:207.0px;width:1.1px;background:linear-gradient(#f8e71e 0.0px,#f5e71d 34.5px,#eae517 37.5px,#d3e217 39.5px,#a8dc31 41.5px,#8dd645 43.0px,#62ca5f 46.5px,#51c469 51.5px,#5ac864 60.5px,#68cc5c 64.5px,#85d44a 67.5px,#b2dd2a 89.5px,#d4e217 99.1px,#ede619 110.6px,#f8e71e 117.6px,#f8e71e 190.6px)"></i><i style="left:208.0px;width:1.1px;background:linear-gradient(#f8e71e 0.0px,#f6e71d 34.0px,#ece518 37.0px,#d6e216 39.0px,#b8de26 40.5px,#98d83e 42.0px,#65cb5e 46.0px,#53c568 51.0px,#5bc864 60.0px,#66cc5d 64.0px,#87d549 67.5px,#b4de29 89.5px,#d5e217 99.1px,#efe619 111.1px,#f8e71e 117.1px,#f8e71e 190.6px)"></i><i style="left:209.0px;width:1.1px;background:linear-gradient(#f8e71e 0.0px,#f7e71d 33.5px,#eee619 36.5px,#d9e316 38.5px,#bcdf23 40.0px,#95d840 42.0px,#67cc5c 45.5px,#55c667 50.0px,#58c765 57.5px,#68cc5c 64.0px,#89d548 67.5px,#b5de28 89.0px,#d6e216 99.1px,#f0e61a 111.1px,#f8e71e 117.1px,#f8e71e 190.6px)"></i><i style="left:210.0px;width:1.1px;background:linear-gradient(#f8e71e 0.0px,#f6e71d 33.5px,#ebe518 36.5px,#d6e216 38.5px,#acdc2f 40.5px,#91d742 42.0px,#67cc5d 45.5px,#56c667 50.5px,#5fc961 60.0px,#6acd5b 64.0px,#8ad547 67.5px,#b6de27 89.0px,#d7e316 99.1px,#f1e61a 111.6px,#f8e71e 117.1px,#f8e71e 190.6px)"></i><i style="left:211.0px;width:1.1px;background:linear-gradient(#f8e71e 0.0px,#f6e71d 33.0px,#ede618 36.0px,#d8e316 38.0px,#bbdf24 39.5px,#9cd93b 41.0px,#6acd5b 45.0px,#5ac864 49.0px,#58c765 53.5px,#65cb5e 62.0px,#6fcf58 64.5px,#8bd646 67.5px,#b8de26 89.0px,#d8e316 99.1px,#f3e61b 112.1px,#f8e71e 117.1px,#f8e71e 190.6px)"></i><i style="left:212.0px;width:1.1px;background:linear-gradient(#f8e71e 0.0px,#f5e71d 33.0px,#eae517 36.0px,#d4e217 38.0px,#abdc2f 40.0px,#92d742 41.5px,#69cd5b 45.0px,#59c765 50.0px,#62ca5f 59.5px,#6ece58 64.0px,#8dd645 67.5px,#b8de26 88.5px,#d8e316 98.6px,#f3e61c 112.1px,#f8e71e 118.1px,#f8e71e 190.6px)"></i><i style="left:213.0px;width:1.1px;background:linear-gradient(#f8e71e 0.0px,#f6e71d 32.5px,#ece518 35.5px,#d8e316 37.5px,#badf25 39.0px,#9bd93b 40.5px,#6cce5a 44.5px,#5dc963 48.5px,#5bc864 52.5px,#6acd5b 62.5px,#77d153 65.0px,#8ed644 67.5px,#b9de25 88.0px,#d9e316 98.6px,#f5e71c 112.6px,#f8e71e 129.1px,#f8e71e 190.6px)"></i><i style="left:214.0px;width:1.1px;background:linear-gradient(#f8e71e 0.0px,#f5e71d 32.5px,#eee619 35.0px,#dae315 37.0px,#bfdf21 38.5px,#99d93d 40.5px,#6bcd5a 44.5px,#5bc863 50.0px,#67cc5d 60.0px,#75d054 64.5px,#8fd744 67.5px,#b9de25 87.5px,#dae315 98.6px,#f6e71d 113.1px,#f8e71e 190.6px)"></i><i style="left:215.0px;width:1.1px;background:linear-gradient(#f8e71e 0.0px,#f6e71d 32.0px,#ebe518 35.0px,#d7e316 37.0px,#b9de25 38.5px,#9cd93b 40.0px,#6ece58 44.0px,#5ec962 48.5px,#5fca61 53.5px,#71cf56 63.5px,#80d34d 65.5px,#91d743 67.5px,#b9de25 87.0px,#dbe315 98.6px,#f8e71e 114.6px,#f8e71e 190.6px)"></i><i style="left:216.0px;width:1.1px;background:linear-gradient(#f8e71e 0.0px,#f6e71d 31.5px,#ede619 34.5px,#dae315 36.5px,#bedf22 38.0px,#9fda38 39.5px,#6dce59 44.0px,#5ec962 50.0px,#6fce58 62.0px,#78d152 64.5px,#92d742 67.5px,#bade25 86.5px,#dbe315 98.1px,#f8e71e 114.6px,#f8e71e 190.6px)"></i><i style="left:217.0px;width:1.1px;background:linear-gradient(#f8e71e 0.0px,#f6e71d 31.5px,#ebe518 34.5px,#d6e216 36.5px,#aedd2d 38.5px,#96d83f 40.0px,#6cce5a 44.0px,#5fca61 50.0px,#73d055 63.0px,#7ed24f 65.0px,#93d741 67.5px,#badf24 86.0px,#dce315 98.1px,#f8e71e 114.1px,#f8e71e 190.6px)"></i><i style="left:218.0px;width:1.1px;background:linear-gradient(#f8e71e 0.0px,#f6e71d 31.0px,#ede518 34.0px,#d9e316 36.0px,#bddf23 37.5px,#9fda38 39.0px,#6fce58 43.5px,#61ca60 49.5px,#75d054 63.0px,#7fd34e 65.0px,#95d840 67.5px,#b9de25 85.0px,#dce315 97.6px,#f8e71e 114.1px,#f8e71e 190.6px)"></i><i style="left:219.0px;width:1.1px;background:linear-gradient(#f8e71e 0.0px,#f5e71d 31.0px,#efe619 33.5px,#d5e217 36.0px,#addc2e 38.0px,#9dd93a 39.0px,#6ece58 43.5px,#63cb5f 49.5px,#76d153 63.0px,#81d34d 65.0px,#96d83f 67.5px,#bbdf24 85.0px,#dde315 97.6px,#f8e71e 113.6px,#f8e71e 190.6px)"></i><i style="left:220.0px;width:1.1px;background:linear-gradient(#f8e71e 0.0px,#f6e71d 30.5px,#ece518 33.5px,#d9e316 35.5px,#bcdf23 37.0px,#a0da38 38.5px,#71cf57 43.0px,#64cb5e 49.5px,#7ad151 63.5px,#87d549 65.5px,#97d83e 67.5px,#bade25 84.0px,#dde315 97.1px,#f8e71e 113.6px,#f8e71e 190.6px)"></i><i style="left:221.0px;width:1.1px;background:linear-gradient(#f8e71e 0.0px,#f6e71d 30.0px,#eee619 33.0px,#dbe315 35.0px,#c0df21 36.5px,#a3db35 38.0px,#71cf57 43.0px,#66cc5d 49.5px,#7bd250 63.5px,#88d548 65.5px,#98d93d 67.5px,#bcdf23 84.0px,#dee315 97.1px,#f8e71e 113.1px,#f8e71e 190.6px)"></i><i style="left:222.0px;width:1.1px;background:linear-gradient(#f8e71e 0.0px,#f6e71d 30.0px,#ebe518 33.0px,#d7e316 35.0px,#b1dd2b 37.0px,#9bd93b 38.5px,#73d055 42.5px,#68cc5c 49.0px,#7dd24f 63.5px,#8ad547 65.5px,#9ad93c 67.5px,#bbdf24 83.0px,#dde315 96.6px,#f8e71e 113.1px,#f8e71e 190.6px)"></i><i style="left:223.0px;width:1.1px;background:linear-gradient(#f8e71e 0.0px,#f6e71d 29.5px,#ede619 32.5px,#dbe315 34.5px,#c0df21 36.0px,#a3db35 37.5px,#74d055 42.5px,#69cd5b 48.5px,#7ed34e 63.5px,#8bd646 65.5px,#9bd93b 67.5px,#bfdf21 84.0px,#dfe415 97.1px,#f8e71e 112.6px,#f8e71e 190.6px)"></i><i style="left:224.0px;width:1.1px;background:linear-gradient(#f8e71e 0.0px,#f6e71d 29.5px,#ece518 32.5px,#d9e316 34.5px,#b3dd29 36.5px,#9eda39 38.0px,#76d153 42.0px,#6bcd5a 48.5px,#80d34d 63.5px,#8dd645 65.5px,#9cd93a 67.5px,#c1e020 84.5px,#e0e415 97.1px,#f8e71e 112.6px,#f8e71e 190.6px)"></i><i style="left:225.0px;width:1.1px;background:linear-gradient(#f8e71e 0.0px,#f5e71d 29.5px,#eee619 32.0px,#d5e216 34.5px,#b1dd2b 36.5px,#a2da36 37.5px,#78d152 42.0px,#6dce59 48.5px,#82d44c 63.5px,#94d841 66.0px,#9fda38 68.0px,#bcdf23 82.0px,#dde315 95.6px,#f8e71e 112.1px,#f8e71e 190.6px)"></i><i style="left:226.0px;width:1.1px;background:linear-gradient(#f8e71e 0.0px,#f6e71d 29.0px,#ede518 32.0px,#dbe315 34.0px,#c0df21 35.5px,#a6db33 37.0px,#7bd250 41.5px,#6fce58 48.0px,#84d44b 63.5px,#95d840 66.0px,#a2da36 68.5px,#bbdf24 81.0px,#dce315 95.0px,#f8e71e 112.1px,#f8e71e 190.6px)"></i><i style="left:227.0px;width:1.1px;background:linear-gradient(#f8e71e 0.0px,#f5e71d 29.0px,#ebe518 32.0px,#d7e316 34.0px,#b4de29 36.0px,#a0da37 37.5px,#7cd250 41.5px,#71cf57 48.0px,#86d44a 63.5px,#97d83f 66.0px,#a3db35 68.5px,#c3e01f 84.0px,#e1e415 96.6px,#f8e71e 111.6px,#f8e71e 190.6px)"></i><i style="left:228.0px;width:1.1px;background:linear-gradient(#f8e71e 0.0px,#f6e71d 28.5px,#ede619 31.5px,#dce315 33.5px,#c3e01f 35.0px,#aadc30 36.5px,#7dd24f 41.5px,#72cf56 47.5px,#88d549 63.5px,#98d83e 66.0px,#a4db34 68.5px,#cae11b 86.5px,#e5e416 98.6px,#f8e71e 111.6px,#f8e71e 190.6px)"></i><i style="left:229.0px;width:1.1px;background:linear-gradient(#f8e71e 0.0px,#f6e71d 28.5px,#ece518 31.5px,#d9e316 33.5px,#b8de26 35.5px,#a4db35 37.0px,#80d34d 41.0px,#75d054 47.5px,#89d547 63.5px,#9ad93c 66.0px,#a6db33 68.5px,#d6e216 91.5px,#f1e61a 105.6px,#f8e71e 112.6px,#f8e71e 190.6px)"></i><i style="left:230.0px;width:1.1px;background:linear-gradient(#f8e71e 0.0px,#f5e71d 28.5px,#eae517 31.5px,#d6e316 33.5px,#b6de28 35.5px,#a3db35 37.0px,#81d34d 41.0px,#76d153 47.0px,#8bd646 63.5px,#a6db33 68.0px,#d6e216 91.0px,#f2e61b 105.6px,#f8e71e 112.1px,#f8e71e 190.6px)"></i><i style="left:231.0px;width:1.1px;background:linear-gradient(#f8e71e 0.0px,#f6e71d 28.0px,#ece518 31.0px,#dbe315 33.0px,#bbdf24 35.0px,#a7db32 36.5px,#82d44c 41.0px,#78d152 47.0px,#8dd645 63.5px,#a7db32 68.0px,#d6e216 90.5px,#f1e61a 105.1px,#f8e71e 112.1px,#f8e71e 190.6px)"></i><i style="left:232.0px;width:1.1px;background:linear-gradient(#f8e71e 0.0px,#f5e71d 28.0px,#ebe518 31.0px,#d9e316 33.0px,#b9de25 35.0px,#a2da36 37.0px,#83d44b 41.0px,#7bd251 47.0px,#8fd644 63.5px,#a8dc31 68.0px,#d7e316 90.5px,#f3e61b 106.1px,#f8e71e 113.1px,#f8e71e 190.6px)"></i><i style="left:233.0px;width:1.1px;background:linear-gradient(#f8e71e 0.0px,#f6e71d 27.5px,#ede619 30.5px,#dde315 32.5px,#bfdf21 34.5px,#abdc2f 36.0px,#86d549 40.5px,#7cd250 45.5px,#8dd645 62.0px,#97d83e 65.0px,#a8dc31 67.5px,#d5e216 89.5px,#f0e61a 104.1px,#f8e71e 111.6px,#f8e71e 190.6px)"></i><i style="left:234.0px;width:1.1px;background:linear-gradient(#f8e71e 0.0px,#f6e71d 27.5px,#ece518 30.5px,#dae315 32.5px,#bddf23 34.5px,#a6db33 36.5px,#87d549 40.5px,#7ed34f 45.5px,#90d743 62.5px,#99d93d 65.0px,#a9dc30 67.5px,#d6e216 89.5px,#f2e61b 104.6px,#f8e71e 111.6px,#f8e71e 190.6px)"></i><i style="left:235.0px;width:1.1px;background:linear-gradient(#f8e71e 0.0px,#f6e71d 27.0px,#eae517 30.5px,#d8e316 32.5px,#aedd2d 35.5px,#8ad647 40.0px,#81d34c 44.0px,#88d548 55.0px,#95d840 64.0px,#acdc2e 68.0px,#d7e316 89.5px,#f3e61c 105.6px,#f8e71e 112.6px,#f8e71e 190.6px)"></i><i style="left:236.0px;width:1.1px;background:linear-gradient(#f8e71e 0.0px,#f6e71d 27.0px,#ece518 30.0px,#d5e216 32.5px,#addc2d 35.5px,#8cd646 40.0px,#84d44b 43.5px,#87d549 53.0px,#97d83f 64.0px,#addc2e 68.0px,#d7e316 89.0px,#f2e61b 104.6px,#f8e71e 111.6px,#f8e71e 190.6px)"></i><i style="left:237.0px;width:1.1px;background:linear-gradient(#f8e71e 0.0px,#f5e71d 27.0px,#ebe518 30.0px,#dae315 32.0px,#b7de27 34.5px,#8fd744 39.5px,#86d44a 43.0px,#88d548 52.0px,#98d93d 64.0px,#aedd2d 68.0px,#d8e316 89.0px,#f4e71c 105.6px,#f8e71e 114.1px,#f8e71e 190.6px)"></i><i style="left:238.0px;width:1.1px;background:linear-gradient(#f8e71e 0.0px,#f6e71d 26.5px,#ede618 29.5px,#d7e316 32.0px,#b1dd2b 35.0px,#8ed645 40.0px,#87d549 43.5px,#8ed644 55.5px,#9cd93b 64.5px,#aedd2d 67.5px,#d7e316 88.0px,#f1e61a 103.1px,#f8e71e 110.6px,#f8e71e 190.6px)"></i><i style="left:239.0px;width:1.1px;background:linear-gradient(#f8e71e 0.0px,#f5e71d 26.5px,#ece518 29.5px,#d5e216 32.0px,#b0dd2c 35.0px,#8fd644 40.0px,#88d548 44.5px,#96d83f 60.5px,#9eda39 64.5px,#afdd2c 67.5px,#d7e316 88.0px,#f3e61b 104.1px,#f8e71e 111.1px,#f8e71e 190.6px)"></i><i style="left:240.0px;width:1.1px;background:linear-gradient(#f8e71e 0.0px,#f6e71d 26.0px,#eae517 29.5px,#d9e316 31.5px,#b0dd2c 35.0px,#8fd744 40.0px,#8bd646 46.5px,#9cd93b 63.5px,#b2dd2a 68.0px,#d8e316 88.0px,#f4e61c 104.6px,#f8e71e 112.6px,#f8e71e 190.6px)"></i><i style="left:241.0px;width:1.1px;background:linear-gradient(#f8e71e 0.0px,#f6e71d 26.0px,#ece518 29.0px,#d7e316 31.5px,#b0dd2c 35.0px,#90d743 40.0px,#8dd645 47.5px,#9fda39 64.0px,#b3dd29 68.0px,#d8e316 87.5px,#f3e61c 104.1px,#f8e71e 112.1px,#f8e71e 190.6px)"></i><i style="left:242.0px;width:1.1px;background:linear-gradient(#f8e71e 0.0px,#f5e71d 26.0px,#ebe518 29.0px,#d5e216 31.5px,#b3dd2a 34.5px,#91d742 40.0px,#90d743 49.5px,#a0da37 64.0px,#b4de29 68.0px,#d9e316 87.5px,#f5e71d 105.1px,#f8e71e 155.1px,#f8e71e 190.6px)"></i><i style="left:243.0px;width:1.1px;background:linear-gradient(#f8e71e 0.0px,#f6e71d 25.5px,#ede618 28.5px,#d9e316 31.0px,#b3dd2a 34.5px,#92d742 40.0px,#94d840 52.5px,#a4db35 64.5px,#b5de28 68.0px,#d9e316 87.0px,#f4e71c 104.1px,#f8e71e 113.6px,#f8e71e 190.6px)"></i><i style="left:244.0px;width:1.1px;background:linear-gradient(#f8e71e 0.0px,#f5e71d 25.5px,#ece518 28.5px,#d7e316 31.0px,#b3dd2a 34.5px,#94d841 40.0px,#97d83f 53.0px,#a5db34 64.5px,#b6de27 68.0px,#d8e316 86.5px,#f4e61c 103.6px,#f8e71e 112.1px,#f8e71e 190.6px)"></i><i style="left:245.0px;width:1.1px;background:linear-gradient(#f8e71e 0.0px,#f6e71d 25.0px,#eae517 28.5px,#d6e216 31.0px,#b3dd29 34.5px,#95d840 40.0px,#99d93d 53.0px,#a6db33 64.5px,#b7de26 68.0px,#d9e316 86.5px,#f5e71d 104.6px,#f8e71e 190.6px)"></i><i style="left:246.0px;width:1.1px;background:linear-gradient(#f8e71e 0.0px,#f6e71d 25.0px,#ece518 28.0px,#d4e217 31.0px,#b6de27 34.0px,#97d83e 39.5px,#9ad93c 53.0px,#a8db32 64.5px,#b8de26 68.0px,#d9e316 86.0px,#f5e71c 104.1px,#f8e71e 132.6px,#f8e71e 190.6px)"></i><i style="left:247.0px;width:1.1px;background:linear-gradient(#f8e71e 0.0px,#f5e71d 25.0px,#ebe518 28.0px,#d3e217 31.0px,#b6de27 34.0px,#99d93d 39.5px,#9cd93a 53.0px,#a9dc31 64.5px,#bade25 68.0px,#dae315 86.0px,#f6e71d 105.1px,#f8e71e 190.6px)"></i><i style="left:248.0px;width:1.1px;background:linear-gradient(#f8e71e 0.0px,#f6e71d 24.5px,#eae517 28.0px,#d1e218 31.0px,#b7de27 34.0px,#9bd93c 39.0px,#9eda39 53.0px,#abdc2f 64.5px,#bcdf23 68.5px,#dce315 86.5px,#f8e71e 106.6px,#f8e71e 190.6px)"></i><i style="left:249.0px;width:1.1px;background:linear-gradient(#f8e71e 0.0px,#f5e71d 24.5px,#ece518 27.5px,#d5e216 30.5px,#bade25 33.5px,#9cd93a 39.0px,#a0da37 53.0px,#addc2e 64.5px,#bedf22 68.5px,#dce315 86.5px,#f8e71e 106.6px,#f8e71e 190.6px)"></i><i style="left:250.0px;width:1.1px;background:linear-gradient(#f8e71e 0.0px,#f6e71d 24.0px,#ebe518 27.5px,#d4e217 30.5px,#bade25 33.5px,#9eda39 39.0px,#a2da36 52.5px,#afdd2d 64.5px,#c0df21 68.5px,#dde315 86.5px,#f8e71e 106.6px,#f8e71e 190.6px)"></i><i style="left:251.0px;width:1.1px;background:linear-gradient(#f8e71e 0.0px,#f6e71d 24.0px,#eae517 27.5px,#d3e217 30.5px,#bade25 33.5px,#a0da37 38.5px,#a4db35 52.5px,#b0dd2b 64.5px,#c1e020 68.5px,#dee415 86.5px,#f8e71e 106.6px,#f8e71e 190.6px)"></i><i style="left:252.0px;width:1.1px;background:linear-gradient(#f8e71e 0.0px,#f5e71d 24.0px,#ece518 27.0px,#d6e316 30.0px,#bddf23 33.0px,#a2da36 38.5px,#a6db33 52.5px,#b2dd2a 64.5px,#c4e01e 69.0px,#e0e415 87.0px,#f8e71e 106.6px,#f8e71e 190.6px)"></i><i style="left:253.0px;width:1.1px;background:linear-gradient(#f8e71e 0.0px,#f5e71d 24.0px,#ece518 27.0px,#d5e216 30.0px,#bddf22 33.0px,#a4db34 38.5px,#a8dc32 52.5px,#b4de29 64.5px,#c5e01d 69.0px,#e1e415 87.5px,#f8e71e 106.6px,#f8e71e 190.6px)"></i><i style="left:254.0px;width:1.1px;background:linear-gradient(#f8e71e 0.0px,#f6e71d 23.5px,#eee619 26.5px,#d4e217 30.0px,#bddf22 33.0px,#a6db33 38.0px,#a9dc30 52.0px,#b6de27 64.5px,#c6e01d 68.5px,#e1e415 87.0px,#f8e71e 106.1px,#f8e71e 190.6px)"></i><i style="left:255.0px;width:1.1px;background:linear-gradient(#f8e71e 0.0px,#f5e71d 23.5px,#ede518 26.5px,#d4e217 30.0px,#c0df21 32.5px,#a8dc32 38.0px,#acdc2f 52.5px,#b8de26 64.5px,#c7e01c 68.5px,#e2e415 87.5px,#f8e71e 106.6px,#f8e71e 190.6px)"></i><i style="left:256.0px;width:1.1px;background:linear-gradient(#f8e71e 0.0px,#f5e71d 23.5px,#ece518 26.5px,#d3e217 30.0px,#bedf22 33.0px,#aadc30 38.0px,#addc2d 52.0px,#b9de25 64.5px,#c9e11b 68.5px,#e3e416 87.5px,#f8e71e 106.1px,#f8e71e 190.6px)"></i><i style="left:257.0px;width:1.1px;background:linear-gradient(#f8e71e 0.0px,#f6e71d 23.0px,#eee619 26.0px,#d6e216 29.5px,#c1e020 32.5px,#acdc2f 37.5px,#afdd2c 52.0px,#bbdf24 64.5px,#cae11b 68.5px,#e5e416 88.0px,#f8e71e 106.1px,#f8e71e 190.6px)"></i><i style="left:258.0px;width:1.1px;background:linear-gradient(#f8e71e 0.0px,#f6e71d 23.0px,#eae517 26.5px,#d1e218 30.0px,#c1e020 32.5px,#aedd2d 37.5px,#b1dd2b 52.0px,#bddf23 64.5px,#cce11a 68.5px,#e6e516 88.5px,#f8e71e 106.6px,#f8e71e 190.6px)"></i><i style="left:259.0px;width:1.1px;background:linear-gradient(#f8e71e 0.0px,#f5e71d 23.0px,#ece518 26.0px,#d5e217 29.5px,#c2e01f 32.5px,#b0dd2c 37.5px,#b3dd29 52.0px,#bfdf21 64.5px,#cee119 69.0px,#e8e517 89.5px,#f8e71e 106.6px,#f8e71e 190.6px)"></i><i style="left:260.0px;width:1.1px;background:linear-gradient(#f8e71e 0.0px,#f6e71d 22.5px,#ece518 26.0px,#d4e217 29.5px,#c5e01e 32.0px,#b1dd2b 37.5px,#b5de28 52.0px,#c1df20 64.5px,#d0e218 69.0px,#e9e517 90.0px,#f8e71e 106.1px,#f8e71e 190.6px)"></i><i style="left:261.0px;width:1.1px;background:linear-gradient(#f8e71e 0.0px,#f6e71d 22.5px,#ede619 25.5px,#d4e217 29.5px,#c3e01f 32.5px,#b3dd29 37.0px,#b7de26 52.0px,#c4e01e 65.0px,#d1e218 69.0px,#eae517 91.0px,#f8e71e 106.1px,#f8e71e 190.6px)"></i><i style="left:262.0px;width:1.1px;background:linear-gradient(#f8e71e 0.0px,#f5e71d 22.5px,#ede518 25.5px,#d3e217 29.5px,#c2e01f 33.0px,#b5de28 37.0px,#b9de25 52.0px,#c6e01d 65.0px,#d2e217 69.0px,#ebe518 91.5px,#f8e71e 106.6px,#f8e71e 190.6px)"></i><i style="left:263.0px;width:1.1px;background:linear-gradient(#f8e71e 0.0px,#f5e71d 22.5px,#ece518 25.5px,#d3e217 29.5px,#c1e020 33.5px,#b7de26 37.0px,#bbdf24 52.0px,#c7e01c 65.0px,#d4e217 69.0px,#ede618 92.5px,#f8e71e 106.6px,#f8e71e 190.6px)"></i><i style="left:264.0px;width:1.1px;background:linear-gradient(#f8e71e 0.0px,#f6e71d 22.0px,#eee619 25.0px,#d6e216 29.0px,#c5e01d 32.5px,#b9de25 36.5px,#bddf22 52.0px,#c9e11b 65.0px,#d5e217 69.0px,#efe619 93.5px,#f8e71e 106.6px,#f8e71e 190.6px)"></i><i style="left:265.0px;width:1.1px;background:linear-gradient(#f8e71e 0.0px,#f5e71d 22.0px,#ede619 25.0px,#d6e216 29.0px,#c2e020 34.0px,#bcdf24 37.0px,#c0df21 52.5px,#cbe11a 65.0px,#d6e216 69.0px,#f0e61a 94.5px,#f8e71e 107.1px,#f8e71e 190.6px)"></i><i style="left:266.0px;width:1.1px;background:linear-gradient(#f8e71e 0.0px,#f5e71d 22.0px,#eae517 25.5px,#d3e217 29.5px,#bfdf21 36.5px,#c2e01f 52.0px,#cde119 65.0px,#d9e316 69.5px,#f3e61b 97.1px,#f8e71e 110.1px,#f8e71e 190.6px)"></i><i style="left:267.0px;width:1.1px;background:linear-gradient(#f8e71e 0.0px,#f6e71d 21.5px,#eae517 25.5px,#d2e217 30.0px,#c2e020 36.5px,#c5e01d 52.0px,#d0e218 65.0px,#dae315 69.5px,#f6e71d 100.6px,#f8e71e 190.6px)"></i><i style="left:268.0px;width:1.1px;background:linear-gradient(#f8e71e 0.0px,#f6e71d 21.5px,#e8e517 26.0px,#cfe119 31.5px,#c5e01e 36.5px,#c8e11c 52.5px,#d2e217 65.0px,#dce315 70.0px,#f8e71e 105.6px,#f8e71e 190.6px)"></i><i style="left:269.0px;width:1.1px;background:linear-gradient(#f8e71e 0.0px,#f5e71d 21.5px,#e8e517 26.0px,#d0e218 31.5px,#c8e11c 37.0px,#cce11a 53.5px,#d4e217 65.0px,#dfe415 70.5px,#f8e71e 105.6px,#f8e71e 190.6px)"></i><i style="left:270.0px;width:1.1px;background:linear-gradient(#f8e71e 0.0px,#f5e71d 21.5px,#e6e516 26.5px,#d1e218 32.0px,#cbe11a 38.0px,#cfe219 55.0px,#d7e316 65.0px,#e0e415 70.5px,#f8e71e 105.6px,#f8e71e 190.6px)"></i><i style="left:271.0px;width:1.1px;background:linear-gradient(#f8e71e 0.0px,#f6e71d 21.0px,#e4e416 27.0px,#d3e217 32.5px,#cee119 41.5px,#d9e316 65.0px,#e2e415 71.0px,#f8e71e 106.1px,#f8e71e 190.6px)"></i><i style="left:272.0px;width:1.1px;background:linear-gradient(#f8e71e 0.0px,#f6e71d 21.0px,#dfe415 28.5px,#d3e217 33.5px,#d2e217 49.5px,#dbe315 65.0px,#e4e416 72.0px,#f8e71e 106.6px,#f8e71e 190.6px)"></i><i style="left:273.0px;width:0.6px;background:linear-gradient(#f8e71e 0.0px,#f5e71d 21.0px,#dae315 30.5px,#d3e217 39.5px,#dae315 63.5px,#e5e416 71.5px,#f8e71e 106.6px,#f8e71e 190.6px)"></i></div><div class="hm" style="left:41.7px;top:252.7px;width:273.6px;height:190.3px"><i style="left:0.0px;width:1.1px;background:linear-gradient(#f8e71e 0.0px,#f6e71d 93.4px,#f3e61c 95.9px,#f5e71c 102.4px,#f8e71e 109.4px,#dbe315 113.4px,#cbe11a 113.9px,#8ad647 115.9px,#4cc36c 118.4px,#3cbb75 119.4px,#23a984 124.4px,#20a387 140.4px,#2eb37d 145.3px,#54c568 150.3px,#9cd93b 157.3px,#d0e218 165.8px,#e8e517 172.8px,#f8e71e 178.8px,#f8e71e 190.3px)"></i><i style="left:1.0px;width:1.1px;background:linear-gradient(#f8e71e 0.0px,#f6e71d 93.4px,#f3e61b 95.9px,#f5e71c 102.4px,#f8e71e 109.9px,#dee315 113.4px,#d8e316 113.9px,#b6de27 114.9px,#87d549 116.4px,#47c06e 118.9px,#38b977 119.9px,#23a884 124.4px,#20a486 129.9px,#1fa287 140.4px,#2cb27d 145.3px,#4dc36b 149.8px,#9eda39 157.8px,#d2e217 166.3px,#ebe518 173.8px,#f8e71e 178.8px,#f8e71e 190.3px)"></i><i style="left:2.0px;width:1.1px;background:linear-gradient(#f8e71e 0.0px,#f6e71d 93.4px,#f2e61b 95.4px,#f5e71c 102.4px,#f8e71e 109.4px,#f4e71c 110.9px,#dde315 113.9px,#d5e217 114.4px,#b3dd2a 115.4px,#83d44b 116.9px,#43be71 119.4px,#39b977 119.9px,#22a884 124.4px,#20a387 127.4px,#1fa287 140.9px,#2db27d 145.8px,#55c667 150.8px,#9dd93a 157.8px,#d1e218 166.3px,#eae517 173.8px,#f8e71e 179.3px,#f8e71e 190.3px)"></i><i style="left:3.0px;width:1.1px;background:linear-gradient(#f8e71e 0.0px,#f6e71d 93.4px,#f2e61b 95.4px,#f5e71c 102.4px,#f8e71e 108.4px,#f7e71e 110.9px,#dce315 114.4px,#d1e218 114.9px,#70cf57 117.9px,#3ebc74 119.9px,#35b779 120.4px,#21a685 124.9px,#1fa188 127.9px,#1fa088 140.9px,#2cb17e 145.8px,#4ec36b 150.3px,#9cd93b 157.8px,#d0e218 166.3px,#e8e517 173.3px,#f8e71e 179.3px,#f8e71e 190.3px)"></i><i style="left:4.0px;width:1.1px;background:linear-gradient(#f8e71e 0.0px,#f6e71d 93.4px,#f2e61b 95.4px,#f5e71c 102.4px,#f8e71e 107.9px,#f6e71d 111.4px,#dbe315 114.9px,#cee119 115.4px,#7bd251 117.9px,#44bf70 119.9px,#32b57a 120.9px,#21a585 124.9px,#1f9f88 127.4px,#1f9f88 140.9px,#29af80 145.3px,#44bf71 149.3px,#90d743 156.8px,#a1da37 158.8px,#d2e217 166.8px,#ebe518 174.3px,#f8e71e 179.3px,#f8e71e 190.3px)"></i><i style="left:5.0px;width:1.1px;background:linear-gradient(#f8e71e 0.0px,#f6e71d 93.4px,#f2e61b 95.4px,#f5e71c 102.4px,#f8e71e 107.4px,#f7e71e 111.9px,#dce315 115.4px,#d0e218 115.9px,#6cce59 118.9px,#38b977 120.9px,#30b47c 121.4px,#20a486 125.4px,#1e9d89 127.9px,#1f9f88 141.4px,#2aaf7f 145.8px,#46c06f 149.8px,#94d840 157.3px,#cbe11a 165.8px,#dae315 169.3px,#f6e71d 178.3px,#f8e71e 190.3px)"></i><i style="left:6.0px;width:1.1px;background:linear-gradient(#f8e71e 0.0px,#f6e71d 93.4px,#f2e61b 95.4px,#f5e71c 102.4px,#f8e71e 106.9px,#f8e71e 112.4px,#dde315 115.9px,#d5e216 116.4px,#b4dd29 117.4px,#6fce58 119.4px,#43be71 120.9px,#2db27d 121.9px,#20a486 124.9px,#1f998a 128.4px,#1f9e89 141.4px,#29af7f 145.8px,#46c06f 149.8px,#9dd93a 158.3px,#d0e218 166.8px,#e9e517 173.8px,#f8e71e 179.8px,#f8e71e 190.3px)"></i><i style="left:7.0px;width:1.1px;background:linear-gradient(#f8e71e 0.0px,#f6e71d 93.4px,#f2e61b 95.4px,#f5e71c 102.4px,#f8e71e 106.9px,#f6e71d 113.4px,#d9e316 116.9px,#b9de25 117.9px,#5ec962 120.4px,#34b679 121.9px,#25ab82 122.9px,#1f998a 125.9px,#20928c 128.9px,#1fa088 141.9px,#2db27d 146.3px,#56c667 151.3px,#9dda3a 158.3px,#cee119 166.3px,#e7e516 172.8px,#f8e71e 179.8px,#f8e71e 190.3px)"></i><i style="left:8.0px;width:1.1px;background:linear-gradient(#f8e71e 0.0px,#f6e71d 93.4px,#f2e61b 95.4px,#f4e71c 102.4px,#f8e71e 106.4px,#f7e71e 113.9px,#dbe315 117.4px,#cee119 117.9px,#9dd93a 119.4px,#5fc961 120.9px,#3dbc74 121.9px,#28ae80 122.9px,#20a287 123.9px,#228d8d 127.4px,#218e8d 130.9px,#1fa088 141.9px,#2bb17e 145.8px,#4ec36b 150.3px,#a1da37 158.8px,#cfe119 166.3px,#e8e517 172.8px,#f8e71e 179.8px,#f8e71e 190.3px)"></i><i style="left:9.0px;width:1.1px;background:linear-gradient(#f8e71e 0.0px,#f6e71d 93.4px,#f1e61b 95.4px,#f4e71c 102.4px,#f8e71e 106.4px,#f6e71d 114.9px,#dee415 117.9px,#d3e217 118.4px,#a2da36 119.9px,#4dc36b 121.9px,#2fb37c 122.9px,#20a486 123.9px,#20918c 125.9px,#25848e 127.9px,#228c8d 133.4px,#20a486 142.8px,#32b67a 146.8px,#6dce59 153.3px,#9fda39 158.3px,#cfe218 166.3px,#e9e517 172.8px,#f7e71e 178.8px,#f8e71e 190.3px)"></i><i style="left:10.0px;width:1.1px;background:linear-gradient(#f8e71e 0.0px,#f6e71d 93.4px,#f1e61a 95.4px,#f4e71c 102.4px,#f8e71e 105.9px,#f7e71d 115.4px,#dfe415 118.4px,#d5e217 118.9px,#b5de28 119.9px,#91d743 120.9px,#4ac26d 122.4px,#38b977 122.9px,#23a983 123.9px,#1f998a 124.9px,#297b8e 128.4px,#1f9b8a 140.4px,#23a983 143.8px,#3cbb75 147.8px,#89d548 155.8px,#a9dc31 159.8px,#d3e217 166.8px,#ebe518 173.3px,#f6e71d 177.8px,#f8e71e 190.3px)"></i><i style="left:11.0px;width:1.1px;background:linear-gradient(#f8e71e 0.0px,#f6e71d 93.4px,#f1e61a 95.4px,#f4e71c 102.4px,#f8e71e 105.9px,#f5e71d 115.9px,#e2e415 118.4px,#dbe315 118.9px,#bcdf23 119.9px,#9cd93a 120.9px,#50c46a 122.4px,#3cbb75 122.9px,#2cb27e 123.4px,#1fa088 124.4px,#23898d 125.9px,#2c738e 128.4px,#287c8e 131.9px,#1f9f88 141.9px,#28ae80 144.8px,#4fc46a 149.8px,#9cd93a 157.8px,#cee119 165.8px,#e7e516 171.8px,#f6e71d 176.8px,#f8e71e 190.3px)"></i><i style="left:12.0px;width:1.1px;background:linear-gradient(#f8e71e 0.0px,#f6e71d 93.4px,#f1e61a 95.4px,#f2e61b 101.9px,#f8e71e 104.4px,#f7e71e 115.9px,#e0e415 118.9px,#d3e217 119.4px,#a4db34 120.9px,#8fd744 121.4px,#57c766 122.4px,#2eb37c 123.4px,#24aa83 123.9px,#1f978b 124.9px,#27808e 126.4px,#31688e 128.9px,#1e9b8a 140.9px,#26ac81 144.3px,#49c16e 148.8px,#92d742 156.3px,#c6e01d 164.3px,#dde315 168.8px,#f7e71d 176.3px,#f8e71e 190.3px)"></i><i style="left:13.0px;width:1.1px;background:linear-gradient(#f8e71e 0.0px,#f6e71d 93.4px,#f1e61a 95.4px,#f2e61b 101.9px,#f8e71e 104.4px,#f6e71d 116.4px,#e3e415 118.9px,#dae315 119.4px,#bbdf24 120.4px,#9cd93a 121.4px,#62ca60 122.4px,#33b67a 123.4px,#25ab82 123.9px,#1fa287 124.4px,#25858e 125.9px,#34618d 128.9px,#32658e 130.4px,#1f9a8a 140.9px,#24aa83 143.8px,#46c06f 148.3px,#94d841 156.3px,#cae11b 164.8px,#e3e416 170.3px,#f8e71e 176.3px,#f8e71e 190.3px)"></i><i style="left:14.0px;width:1.1px;background:linear-gradient(#f8e71e 0.0px,#f6e71d 93.4px,#f1e61a 95.4px,#f2e61b 101.9px,#f8e71e 104.4px,#f8e71e 116.4px,#e1e415 119.4px,#d3e217 119.9px,#a5db34 121.4px,#8fd743 121.9px,#55c667 122.9px,#3ebc74 123.4px,#2cb17e 123.9px,#22a785 124.4px,#20938c 125.4px,#2a788e 126.9px,#365c8d 129.4px,#1f968b 140.4px,#22a784 143.3px,#3aba76 146.8px,#8ad547 155.3px,#a0da37 157.8px,#d1e218 165.8px,#e9e517 171.8px,#f8e71e 176.8px,#f8e71e 190.3px)"></i><i style="left:15.0px;width:1.1px;background:linear-gradient(#f8e71e 0.0px,#f6e71d 93.4px,#f1e61a 95.4px,#f2e61b 101.9px,#f8e71e 104.4px,#f8e71e 116.4px,#e1e415 119.4px,#d3e217 119.9px,#a5db33 121.4px,#91d743 121.9px,#57c766 122.9px,#2db27d 123.9px,#22a884 124.4px,#20938c 125.4px,#2a778e 126.9px,#38588c 129.4px,#20938c 139.9px,#22a884 143.3px,#3bba76 146.8px,#8bd647 155.3px,#a1da37 157.8px,#d1e218 165.8px,#ebe518 172.3px,#f8e71e 176.8px,#f8e71e 190.3px)"></i><i style="left:16.0px;width:1.1px;background:linear-gradient(#f8e71e 0.0px,#f6e71d 93.4px,#f1e61a 95.4px,#f2e61b 101.9px,#f8e71e 104.4px,#f7e71d 116.4px,#dee315 119.4px,#c0df21 120.4px,#a2da36 121.4px,#51c469 122.9px,#3bba75 123.4px,#29af7f 123.9px,#21a585 124.4px,#21908c 125.4px,#2c748e 126.9px,#39558c 129.4px,#228b8d 138.4px,#1fa287 142.4px,#2fb37c 145.3px,#69cd5b 151.8px,#9fda39 157.3px,#d2e217 165.8px,#ebe518 172.3px,#f8e71e 176.8px,#f8e71e 190.3px)"></i><i style="left:17.0px;width:1.1px;background:linear-gradient(#f8e71e 0.0px,#f6e71d 93.4px,#f1e61a 95.4px,#f2e61b 101.9px,#f8e71e 104.4px,#f6e71d 116.4px,#e2e415 118.9px,#dae315 119.4px,#bcdf23 120.4px,#9eda39 121.4px,#65cb5e 122.4px,#36b878 123.4px,#27ad81 123.9px,#20a387 124.4px,#228d8d 125.4px,#30688e 127.4px,#3b508b 129.4px,#25838e 136.9px,#1fa088 141.9px,#2cb27d 144.8px,#66cc5d 151.3px,#9fda38 157.3px,#d0e218 165.3px,#e8e517 171.3px,#f8e71e 176.8px,#f8e71e 190.3px)"></i><i style="left:18.0px;width:1.1px;background:linear-gradient(#f8e71e 0.0px,#f6e71d 93.4px,#f0e61a 95.4px,#f2e61b 101.9px,#f8e71e 104.4px,#f8e71e 115.9px,#e1e415 118.9px,#d6e216 119.4px,#b8de26 120.4px,#98d83e 121.4px,#5ec961 122.4px,#32b67a 123.4px,#25ab82 123.9px,#1fa088 124.4px,#277f8e 125.9px,#32648e 127.4px,#3c4f8a 128.9px,#3d4d8a 129.4px,#26818e 136.4px,#1fa188 141.9px,#2eb37d 144.8px,#68cc5c 151.3px,#a0da37 157.3px,#d0e218 165.3px,#eae517 171.8px,#f8e71e 176.8px,#f8e71e 190.3px)"></i><i style="left:19.0px;width:1.1px;background:linear-gradient(#f8e71e 0.0px,#f6e71d 93.4px,#f0e61a 95.4px,#f2e61b 101.9px,#f8e71e 104.4px,#f7e71e 115.9px,#e0e415 118.9px,#c3e01f 119.9px,#a6db33 120.9px,#90d743 121.4px,#58c765 122.4px,#2eb37c 123.4px,#23a884 123.9px,#1e9d89 124.4px,#2d718e 126.4px,#3e4a89 128.9px,#3d4d8a 129.9px,#26818e 136.4px,#1fa287 141.9px,#2fb47c 144.8px,#6acd5b 151.3px,#a2da36 157.3px,#d1e218 165.3px,#eae517 171.8px,#f8e71e 176.8px,#f8e71e 190.3px)"></i><i style="left:20.0px;width:1.1px;background:linear-gradient(#f8e71e 0.0px,#f6e71d 93.4px,#f0e61a 95.4px,#f2e61b 101.9px,#f8e71e 104.4px,#f6e71d 115.9px,#e3e416 118.4px,#dce315 118.9px,#bfdf21 119.9px,#a2da36 120.9px,#53c568 122.4px,#2bb17e 123.4px,#21a585 123.9px,#218f8d 124.9px,#33638d 126.9px,#404587 128.9px,#34618d 132.4px,#277e8e 135.9px,#1f9f88 141.4px,#2ab07f 143.8px,#63cb5f 150.3px,#a3db35 157.3px,#d3e217 165.3px,#ece518 172.3px,#f8e71e 176.8px,#f8e71e 190.3px)"></i><i style="left:21.0px;width:1.1px;background:linear-gradient(#f8e71e 0.0px,#f5e71d 93.4px,#f0e61a 95.4px,#f2e61b 101.9px,#f8e71e 104.4px,#f5e71d 115.9px,#e2e415 118.4px,#cae11b 119.4px,#9eda39 120.9px,#66cc5d 121.9px,#38b977 122.9px,#28ae80 123.4px,#20a387 123.9px,#228b8d 124.9px,#355e8d 126.9px,#433f85 128.9px,#2c738e 134.4px,#1e9d89 140.9px,#28ae80 143.3px,#61ca60 149.8px,#a2da36 156.8px,#d1e218 164.8px,#e5e416 169.8px,#f8e71e 176.3px,#f8e71e 190.3px)"></i><i style="left:22.0px;width:1.1px;background:linear-gradient(#f8e71e 0.0px,#f5e71d 93.4px,#f0e61a 95.4px,#f1e61b 101.9px,#f8e71e 104.4px,#f8e71e 115.4px,#e1e415 118.4px,#c6e01d 119.4px,#aadc30 120.4px,#97d83e 120.9px,#60ca61 121.9px,#34b779 122.9px,#25ab82 123.4px,#1fa088 123.9px,#297b8e 125.4px,#33628d 126.4px,#424086 128.4px,#443b84 128.9px,#2e6e8e 133.9px,#26818e 136.4px,#1fa187 141.4px,#2db27d 143.8px,#68cc5c 150.3px,#a3db35 156.8px,#d2e217 164.8px,#e9e517 170.8px,#f8e71e 176.3px,#f8e71e 190.3px)"></i><i style="left:23.0px;width:1.1px;background:linear-gradient(#f8e71e 0.0px,#f5e71d 93.4px,#f0e61a 95.4px,#f1e61b 101.9px,#f8e71e 103.9px,#f6e71d 115.4px,#e3e415 117.9px,#dbe315 118.4px,#bfdf21 119.4px,#a3db35 120.4px,#54c667 121.9px,#2cb17e 122.9px,#21a685 123.4px,#1f9a8a 123.9px,#31688e 125.9px,#443a83 128.4px,#3c4f8a 130.9px,#29798e 134.9px,#1f9f88 140.9px,#2bb07e 143.3px,#65cb5e 149.8px,#a4db35 156.8px,#d3e217 164.8px,#ece518 171.8px,#f7e71e 176.3px,#f8e71e 190.3px)"></i><i style="left:24.0px;width:1.1px;background:linear-gradient(#f8e71e 0.0px,#f5e71d 93.4px,#efe619 94.9px,#f1e61a 101.9px,#f8e71e 103.9px,#f7e71e 114.9px,#dfe415 117.9px,#c3e01f 118.9px,#a7db32 119.9px,#91d743 120.4px,#5bc864 121.4px,#30b47b 122.4px,#23a983 122.9px,#1e9d89 123.4px,#2f6b8e 125.4px,#39568c 126.4px,#433d84 127.9px,#443a83 128.4px,#2e6d8e 133.4px,#27808e 135.9px,#1fa088 140.9px,#2bb17e 143.3px,#65cb5e 149.8px,#a3db35 156.8px,#d0e218 164.3px,#e4e416 169.3px,#f7e71e 176.3px,#f8e71e 190.3px)"></i><i style="left:25.0px;width:1.1px;background:linear-gradient(#f8e71e 0.0px,#f5e71d 93.4px,#efe619 94.9px,#f1e61a 101.9px,#f8e71e 103.9px,#f8e71e 114.4px,#e1e415 117.4px,#c7e01c 118.4px,#abdc2f 119.4px,#99d93d 119.9px,#62ca60 120.9px,#36b878 121.9px,#26ac81 122.4px,#1fa088 122.9px,#23888e 123.9px,#38598c 125.9px,#443983 127.9px,#2f6b8e 132.9px,#26818e 135.9px,#1fa187 140.9px,#30b47c 143.8px,#69cd5b 150.3px,#a0da38 156.3px,#cde119 163.8px,#e2e415 168.8px,#f6e71d 175.8px,#f8e71e 190.3px)"></i><i style="left:26.0px;width:1.1px;background:linear-gradient(#f8e71e 0.0px,#f7e71e 92.9px,#eee619 94.9px,#f1e61a 101.9px,#f8e71e 103.9px,#f5e71d 114.4px,#e2e415 116.9px,#cbe11a 117.9px,#a1da37 119.4px,#69cd5b 120.4px,#3bbb75 121.4px,#2aaf7f 121.9px,#20a486 122.4px,#228c8d 123.4px,#365b8d 125.4px,#443983 127.4px,#37598c 130.9px,#297a8e 134.4px,#1f9f88 140.4px,#29af7f 142.8px,#65cb5e 149.8px,#a0da38 156.3px,#cde119 163.8px,#e6e516 169.8px,#f6e71d 175.8px,#f8e71e 190.3px)"></i><i style="left:27.0px;width:1.1px;background:linear-gradient(#f8e71e 0.0px,#f7e71e 92.9px,#eee619 94.9px,#f0e61a 101.9px,#f8e71e 103.9px,#f6e71d 113.9px,#dde315 116.9px,#c1e020 117.9px,#a5db34 118.9px,#57c766 120.4px,#2eb37d 121.4px,#22a785 121.9px,#1e9b8a 122.4px,#306a8e 124.4px,#39558c 125.4px,#433c84 126.9px,#433e85 127.9px,#2d708e 132.9px,#1e9c89 139.9px,#27ad81 142.4px,#61ca60 149.3px,#a0da38 156.3px,#cbe11b 163.3px,#e2e415 168.8px,#f5e71d 175.8px,#f8e71e 190.3px)"></i><i style="left:28.0px;width:1.1px;background:linear-gradient(#f8e71e 0.0px,#f7e71e 92.9px,#ede619 94.9px,#eee619 96.9px,#f0e61a 101.9px,#f8e71e 103.9px,#f7e71e 113.4px,#e0e415 116.4px,#c5e01e 117.4px,#a9dc31 118.4px,#94d840 118.9px,#5ec962 119.9px,#33b67a 120.9px,#24aa83 121.4px,#1f9f88 121.9px,#297a8e 123.4px,#38578c 124.9px,#423f85 126.4px,#443a83 126.9px,#30698e 131.9px,#26828e 135.4px,#1fa187 140.4px,#2fb37c 143.3px,#70cf57 150.8px,#a0da38 156.3px,#c8e11c 162.8px,#e0e415 168.3px,#f4e71c 175.3px,#f8e71e 190.3px)"></i><i style="left:29.0px;width:1.1px;background:linear-gradient(#f8e71e 0.0px,#f7e71e 92.9px,#ede518 94.9px,#eee619 96.9px,#efe61a 101.9px,#f8e71e 103.4px,#f8e71e 112.9px,#e1e415 115.9px,#c9e11b 116.9px,#9cd93a 118.4px,#65cb5e 119.4px,#38b977 120.4px,#27ae80 120.9px,#1fa287 121.4px,#238a8d 122.4px,#375a8c 124.4px,#443a83 126.4px,#424086 127.4px,#2d708e 132.4px,#1f9f88 139.9px,#2cb17e 142.8px,#6dce59 150.3px,#9dd93a 155.8px,#c6e01d 162.3px,#dde315 167.3px,#f4e61c 174.8px,#f8e71e 188.3px,#f8e71e 190.3px)"></i><i style="left:30.0px;width:1.1px;background:linear-gradient(#f8e71e 0.0px,#f7e71e 92.9px,#ece518 94.9px,#ede619 96.9px,#efe619 101.9px,#f8e71e 103.4px,#f6e71d 112.9px,#e3e415 115.4px,#dbe315 115.9px,#bfdf21 116.9px,#a2da36 117.9px,#53c568 119.4px,#2bb17e 120.4px,#21a585 120.9px,#1f998a 121.4px,#30688e 123.4px,#3d4c8a 124.9px,#433c84 125.9px,#433e85 126.9px,#2e6e8e 131.9px,#1e9d89 139.4px,#27ad81 141.9px,#57c766 147.8px,#9dda39 155.8px,#c3e01f 161.8px,#dbe315 166.8px,#f3e61b 174.3px,#f8e71e 185.3px,#f8e71e 190.3px)"></i><i style="left:31.0px;width:1.1px;background:linear-gradient(#f8e71e 0.0px,#f7e71e 92.9px,#ece518 94.9px,#ede618 96.9px,#ede518 99.4px,#f2e61b 102.4px,#f8e71e 103.9px,#f7e71e 112.4px,#dee415 115.4px,#c3e01f 116.4px,#a6db33 117.4px,#8fd743 117.9px,#5ac864 118.9px,#30b47c 119.9px,#23a884 120.4px,#1e9d89 120.9px,#2f6c8e 122.9px,#39568c 123.9px,#433f85 125.4px,#443b83 125.9px,#39558c 128.9px,#297b8e 133.4px,#1f9e89 139.4px,#2bb17e 142.4px,#6fcf58 150.3px,#a2da36 156.3px,#c7e01d 162.3px,#dfe415 167.8px,#f3e61b 174.8px,#f8e71e 184.3px,#f8e71e 190.3px)"></i><i style="left:32.0px;width:1.1px;background:linear-gradient(#f8e71e 0.0px,#f7e71e 92.9px,#ebe518 94.9px,#ece518 96.9px,#ece518 99.4px,#f2e61b 102.4px,#f8e71e 103.9px,#f7e71e 111.9px,#e0e415 114.9px,#c4e01e 115.9px,#a8db32 116.9px,#92d742 117.4px,#5cc963 118.4px,#31b57b 119.4px,#24aa83 119.9px,#1f9e89 120.4px,#2e6d8e 122.4px,#38578c 123.4px,#443b84 125.4px,#424186 126.4px,#2c738e 131.9px,#1e9d89 138.9px,#29af7f 141.9px,#5ec962 148.3px,#9fda38 155.8px,#c2e01f 161.3px,#dce315 166.8px,#f2e61b 173.8px,#f8e71e 182.8px,#f8e71e 190.3px)"></i><i style="left:33.0px;width:1.1px;background:linear-gradient(#f8e71e 0.0px,#f7e71e 92.9px,#ebe518 94.9px,#ece518 96.9px,#ece518 99.4px,#f1e61b 102.4px,#f8e71e 103.9px,#f8e71e 111.4px,#e1e415 114.4px,#c5e01d 115.4px,#a9dc31 116.4px,#95d840 116.9px,#5fc961 117.9px,#33b67a 118.9px,#25ab82 119.4px,#1f9f88 119.9px,#297b8e 121.4px,#38588c 122.9px,#443b84 124.9px,#424086 125.9px,#2e6e8e 130.9px,#1f9e89 138.9px,#2ab07f 141.9px,#60ca61 148.3px,#a4db34 156.3px,#cbe11a 162.8px,#e5e416 168.8px,#f3e61c 175.3px,#f8e71e 183.3px,#f8e71e 190.3px)"></i><i style="left:34.0px;width:1.1px;background:linear-gradient(#f8e71e 0.0px,#f7e71e 92.9px,#eae517 94.9px,#ece518 96.9px,#ece518 99.4px,#eee619 101.9px,#f8e71e 103.4px,#f8e71e 110.9px,#e1e415 113.9px,#c7e01d 114.9px,#aadc30 115.9px,#98d83d 116.4px,#61ca60 117.4px,#35b779 118.4px,#26ac82 118.9px,#1fa088 119.4px,#287c8e 120.9px,#38588c 122.4px,#433c84 124.4px,#443a83 124.9px,#32648e 129.4px,#24868e 134.4px,#1fa088 138.9px,#2cb17e 141.9px,#62cb5f 148.3px,#aadc30 156.8px,#d0e218 163.8px,#e9e517 170.3px,#f8e71e 178.8px,#f8e71e 190.3px)"></i><i style="left:35.0px;width:1.1px;background:linear-gradient(#f8e71e 0.0px,#f7e71e 92.9px,#eae517 94.9px,#ebe518 96.9px,#ebe518 99.4px,#ede619 101.9px,#f8e71e 103.4px,#f8e71e 110.4px,#e1e415 113.4px,#c8e11c 114.4px,#9bd93b 115.9px,#64cb5e 116.9px,#37b877 117.9px,#27ad81 118.4px,#1fa187 118.9px,#23898d 119.9px,#37598c 121.9px,#433c84 123.9px,#443a83 124.4px,#33638d 128.9px,#24878e 134.4px,#1fa287 138.9px,#31b57b 142.4px,#7ad251 150.8px,#b2dd2a 157.8px,#d3e217 164.3px,#ebe518 170.8px,#f8e71e 179.3px,#f8e71e 190.3px)"></i><i style="left:36.0px;width:1.1px;background:linear-gradient(#f8e71e 0.0px,#f7e71e 92.9px,#e9e517 94.9px,#ede518 96.4px,#eae517 97.9px,#ebe518 99.4px,#ede618 101.9px,#f8e71e 103.4px,#f8e71e 109.9px,#e2e415 112.9px,#cae11b 113.9px,#9eda39 115.4px,#66cc5d 116.4px,#39b976 117.4px,#28ae80 117.9px,#20a387 118.4px,#238b8d 119.4px,#375a8c 121.4px,#433d84 123.4px,#443983 123.9px,#31668e 128.9px,#23898d 134.4px,#20a386 138.9px,#36b878 142.8px,#7cd250 150.8px,#b0dd2c 157.3px,#d4e217 164.3px,#eae517 170.3px,#f8e71e 178.8px,#f8e71e 190.3px)"></i><i style="left:37.0px;width:1.1px;background:linear-gradient(#f8e71e 0.0px,#f7e71e 92.9px,#e9e517 94.9px,#ece518 96.4px,#eae517 97.9px,#eae517 99.4px,#ede518 101.9px,#f8e71e 103.4px,#f5e71d 109.9px,#e2e415 112.4px,#cbe11a 113.4px,#a1da37 114.9px,#69cd5b 115.9px,#3bbb75 116.9px,#29af7f 117.4px,#20a486 117.9px,#228c8d 118.9px,#365b8d 120.9px,#433e85 122.9px,#443a83 123.4px,#32658e 128.4px,#23888e 133.9px,#1fa287 138.4px,#31b57b 141.9px,#79d151 150.3px,#afdd2d 156.8px,#d2e217 163.8px,#e9e517 169.8px,#f8e71e 178.3px,#f8e71e 190.3px)"></i><i style="left:38.0px;width:1.1px;background:linear-gradient(#f8e71e 0.0px,#f7e71e 92.9px,#e8e517 94.9px,#ece518 96.4px,#eae517 97.9px,#eae517 99.4px,#ece518 101.9px,#f8e71e 103.4px,#f6e71d 109.4px,#e3e415 111.9px,#dae315 112.4px,#bedf22 113.4px,#a2da36 114.4px,#53c568 115.9px,#2bb17e 116.9px,#21a586 117.4px,#228d8d 118.4px,#365d8d 120.4px,#443a83 122.9px,#31688e 128.4px,#238a8d 133.9px,#20a486 138.4px,#36b878 142.4px,#7bd250 150.3px,#addc2e 156.3px,#d3e217 163.8px,#e8e517 169.3px,#f8e71e 177.8px,#f8e71e 190.3px)"></i><i style="left:39.0px;width:1.1px;background:linear-gradient(#f8e71e 0.0px,#f7e71e 92.9px,#e8e517 94.9px,#ece518 96.4px,#e9e517 97.9px,#e9e517 99.4px,#ece518 101.9px,#f8e71e 103.4px,#f6e71d 108.9px,#e3e416 111.4px,#dce315 111.9px,#c0df21 112.9px,#a3db35 113.9px,#55c667 115.4px,#2cb27d 116.4px,#21a685 116.9px,#1f9a8a 117.4px,#306a8e 119.4px,#39558c 120.4px,#443a83 122.4px,#404587 123.9px,#2a788e 130.4px,#1fa088 137.4px,#2eb37d 140.9px,#5bc863 146.3px,#acdc2f 155.8px,#d2e217 163.3px,#e6e516 168.3px,#f8e71e 177.3px,#f8e71e 190.3px)"></i><i style="left:40.0px;width:1.1px;background:linear-gradient(#f8e71e 0.0px,#f7e71e 92.9px,#e7e516 94.9px,#ebe518 96.4px,#e9e517 97.9px,#ebe518 98.9px,#e9e517 100.4px,#f0e61a 102.4px,#f8e71e 103.4px,#f6e71d 108.4px,#dde315 111.4px,#c1e020 112.4px,#a5db34 113.4px,#57c765 114.9px,#2eb37d 115.9px,#22a784 116.4px,#1e9b8a 116.9px,#2f6c8e 118.9px,#39568c 119.9px,#443b83 121.9px,#423f85 122.9px,#2e6d8e 128.4px,#1e9b8a 136.4px,#27ad81 139.4px,#4bc26d 144.3px,#9eda39 153.8px,#b5de28 157.3px,#d8e316 164.3px,#e9e517 169.3px,#f8e71e 176.8px,#f8e71e 190.3px)"></i><i style="left:41.0px;width:1.1px;background:linear-gradient(#f8e71e 0.0px,#f7e71e 92.9px,#e7e516 94.9px,#ebe518 96.4px,#e8e517 97.9px,#ebe518 98.9px,#e8e517 100.4px,#ebe518 101.9px,#f8e71e 103.4px,#f7e71e 107.9px,#dee415 110.9px,#c3e01f 111.9px,#a6db33 112.9px,#90d743 113.4px,#5ac864 114.4px,#30b47c 115.4px,#23a884 115.9px,#1e9d89 116.4px,#2e6d8e 118.4px,#39568c 119.4px,#443c84 121.4px,#443a83 121.9px,#34618d 126.4px,#25858e 131.9px,#1fa088 136.9px,#2eb37d 140.4px,#57c766 145.3px,#acdc2f 155.3px,#d4e217 163.3px,#e6e516 167.8px,#f8e71e 176.3px,#f8e71e 190.3px)"></i><i style="left:42.0px;width:1.1px;background:linear-gradient(#f8e71e 0.0px,#f7e71e 92.9px,#e6e516 94.9px,#ebe517 96.4px,#e8e517 97.9px,#eae517 98.9px,#e8e517 100.4px,#ebe518 101.9px,#f8e71e 103.4px,#f7e71e 107.4px,#e0e415 110.4px,#c4e01e 111.4px,#a8db32 112.4px,#93d742 112.9px,#5cc963 113.9px,#31b57b 114.9px,#24aa83 115.4px,#1f9e89 115.9px,#2e6e8e 117.9px,#38578c 118.9px,#433c84 120.9px,#443983 121.4px,#34608d 125.9px,#25848e 131.4px,#1fa287 136.9px,#33b67a 140.9px,#73d055 148.3px,#aadc30 154.8px,#d3e217 162.8px,#e5e416 167.3px,#f8e71e 175.8px,#f8e71e 190.3px)"></i><i style="left:43.0px;width:1.1px;background:linear-gradient(#f8e71e 0.0px,#f7e71e 92.9px,#e5e416 94.9px,#eae517 96.4px,#e5e416 97.4px,#e9e517 98.9px,#e5e416 99.9px,#eae517 101.9px,#f8e71e 103.4px,#f8e71e 106.9px,#e1e415 109.9px,#c6e01d 110.9px,#a9dc31 111.9px,#95d840 112.4px,#5fc961 113.4px,#33b67a 114.4px,#25ab82 114.9px,#1f9f88 115.4px,#2d708e 117.4px,#38588c 118.4px,#443a83 120.9px,#33638d 125.9px,#24868e 131.4px,#1fa287 136.4px,#33b67a 140.4px,#72cf56 147.8px,#aadc30 154.3px,#d5e216 162.8px,#e6e516 167.3px,#f8e71e 175.8px,#f8e71e 190.3px)"></i><i style="left:44.0px;width:1.1px;background:linear-gradient(#f8e71e 0.0px,#f7e71e 92.9px,#e6e516 94.4px,#e5e416 95.4px,#e9e517 96.4px,#e4e416 97.4px,#e8e517 98.9px,#e4e416 99.9px,#e9e517 101.9px,#f8e71e 103.4px,#f8e71e 106.4px,#e1e415 109.4px,#c7e01d 110.4px,#abdc30 111.4px,#98d93d 111.9px,#61ca60 112.9px,#35b779 113.9px,#26ac82 114.4px,#1fa088 114.9px,#287d8e 116.4px,#37598c 117.9px,#443a83 120.4px,#33638d 125.4px,#24868e 130.9px,#1fa187 135.9px,#32b67a 139.9px,#72cf56 147.3px,#a9dc30 153.8px,#d5e217 162.3px,#e5e416 166.8px,#f8e71e 175.3px,#f8e71e 190.3px)"></i><i style="left:45.0px;width:1.1px;background:linear-gradient(#f8e71e 0.0px,#f7e71e 92.9px,#e5e416 94.4px,#e4e416 95.4px,#e8e517 96.4px,#e2e415 97.4px,#e7e516 98.9px,#e2e415 99.9px,#e8e517 101.9px,#f8e71e 103.4px,#f8e71e 105.9px,#e1e415 108.9px,#c8e11c 109.9px,#9bd93b 111.4px,#64cb5e 112.4px,#37b877 113.4px,#27ad81 113.9px,#1fa187 114.4px,#238a8d 115.4px,#375b8d 117.4px,#443b83 119.9px,#33638d 124.9px,#24858e 130.4px,#1fa187 135.4px,#32b57a 139.4px,#71cf56 146.8px,#a9dc31 153.3px,#d4e217 161.8px,#e5e416 166.3px,#f8e71e 174.8px,#f8e71e 190.3px)"></i><i style="left:46.0px;width:1.1px;background:linear-gradient(#f8e71e 0.0px,#f7e71e 92.9px,#e3e416 94.4px,#e3e415 95.4px,#e7e516 96.4px,#e1e415 97.4px,#e6e516 98.9px,#e1e415 99.9px,#e6e516 101.4px,#e7e516 101.9px,#f8e71e 103.4px,#f5e71c 105.9px,#e2e415 108.4px,#cae11b 109.4px,#9eda39 110.9px,#66cc5d 111.9px,#39ba76 112.9px,#28ae80 113.4px,#20a387 113.9px,#228b8d 114.9px,#365c8d 116.9px,#433c84 119.4px,#306a8e 125.4px,#238a8d 130.9px,#20a486 135.4px,#38b977 139.9px,#75d054 146.8px,#a8dc31 152.8px,#d4e217 161.3px,#e5e416 165.8px,#f8e71e 174.3px,#f8e71e 190.3px)"></i><i style="left:47.0px;width:1.1px;background:linear-gradient(#f8e71e 0.0px,#f7e71e 92.9px,#e2e415 94.4px,#e1e415 95.4px,#e6e516 96.4px,#e0e415 97.4px,#e5e416 98.9px,#dfe415 99.9px,#e5e416 101.4px,#e6e516 101.9px,#f4e71c 102.9px,#f8e71e 104.4px,#f2e61b 105.9px,#e2e415 107.9px,#cbe11a 108.9px,#a1da37 110.4px,#69cd5b 111.4px,#3bbb75 112.4px,#2aaf7f 112.9px,#20a486 113.4px,#228c8d 114.4px,#355e8d 116.4px,#433e85 118.9px,#2e6d8e 125.4px,#1f9d89 133.9px,#28ae80 136.9px,#49c16e 141.4px,#9dd93a 150.8px,#addc2e 153.3px,#d6e216 161.3px,#e6e516 165.8px,#f8e71e 173.8px,#f8e71e 190.3px)"></i><i style="left:48.0px;width:1.1px;background:linear-gradient(#f8e71e 0.0px,#f7e71e 92.9px,#e1e415 94.4px,#e0e415 95.4px,#e5e416 96.4px,#dee415 97.4px,#e4e416 98.9px,#dee415 99.9px,#e4e416 101.4px,#e5e416 101.9px,#f4e71c 102.9px,#f8e71e 104.4px,#e2e415 107.4px,#dae315 107.9px,#bedf22 108.9px,#a2da36 109.9px,#52c568 111.4px,#2bb07e 112.4px,#20a586 112.9px,#228d8d 113.9px,#34608d 115.9px,#423f86 118.4px,#2d718e 125.4px,#1e9d89 133.4px,#28ae80 136.4px,#48c16e 140.9px,#9cd93b 150.3px,#addc2e 152.8px,#d5e216 160.8px,#e6e516 165.3px,#f8e71e 173.3px,#f8e71e 190.3px)"></i><i style="left:49.0px;width:1.1px;background:linear-gradient(#f8e71e 0.0px,#f7e71e 92.9px,#eae517 93.9px,#e0e415 94.4px,#dde315 94.9px,#e4e416 96.4px,#dde315 97.4px,#e3e416 98.9px,#dde315 99.9px,#e3e416 101.4px,#e4e416 101.9px,#f4e71c 102.9px,#f8e71e 103.9px,#e2e415 106.9px,#cbe11b 107.9px,#a0da38 109.4px,#68cc5c 110.4px,#3aba76 111.4px,#29af7f 111.9px,#20a386 112.4px,#228c8d 113.4px,#355f8d 115.4px,#424086 117.9px,#2d718e 124.9px,#1e9d89 132.9px,#28ae80 135.9px,#48c16e 140.4px,#9cd93b 149.8px,#acdc2e 152.3px,#d5e216 160.3px,#e5e416 164.8px,#f8e71e 172.8px,#f8e71e 190.3px)"></i><i style="left:50.0px;width:1.1px;background:linear-gradient(#f8e71e 0.0px,#f7e71e 92.9px,#eae517 93.9px,#dfe415 94.4px,#dbe315 94.9px,#e3e415 96.4px,#dbe315 97.4px,#e2e415 98.9px,#dbe315 99.9px,#e2e415 101.4px,#e3e415 101.9px,#f4e61c 102.9px,#f8e71e 103.4px,#e2e415 106.4px,#c9e11b 107.4px,#9dd93a 108.9px,#65cb5e 109.9px,#38b977 110.9px,#28ae80 111.4px,#1fa287 111.9px,#238b8d 112.9px,#355e8d 114.9px,#424086 117.4px,#2d718e 124.4px,#1e9d89 132.4px,#27ae81 135.4px,#48c06e 139.9px,#9bd93b 149.3px,#acdc2e 151.8px,#d5e217 159.8px,#e5e416 164.3px,#f8e71e 172.3px,#f8e71e 190.3px)"></i><i style="left:51.0px;width:1.1px;background:linear-gradient(#f8e71e 0.0px,#f7e71e 92.9px,#e9e517 93.9px,#dde315 94.4px,#dae315 94.9px,#e2e415 96.4px,#dae315 97.4px,#e1e415 98.9px,#dae315 99.9px,#e1e415 101.4px,#e2e415 101.9px,#f3e61c 102.9px,#f1e61a 103.9px,#e1e415 105.9px,#c7e01c 106.9px,#abdc2f 107.9px,#99d93d 108.4px,#62cb5f 109.4px,#36b878 110.4px,#26ac81 110.9px,#1fa188 111.4px,#277f8e 112.9px,#355d8d 114.4px,#424186 116.9px,#2b758e 124.4px,#1f9f88 132.4px,#2cb27d 135.9px,#51c469 140.4px,#9fda38 149.3px,#cde11a 157.8px,#e2e415 162.8px,#f8e71e 171.8px,#f8e71e 190.3px)"></i><i style="left:52.0px;width:1.1px;background:linear-gradient(#f8e71e 0.0px,#f7e71e 92.9px,#e8e517 93.9px,#dce315 94.4px,#d9e316 94.9px,#e1e415 96.4px,#d9e316 97.4px,#e0e415 98.9px,#d9e316 99.9px,#e0e415 100.9px,#e1e415 101.9px,#f3e61c 102.9px,#e1e415 105.4px,#c6e01d 106.4px,#a9dc30 107.4px,#96d83f 107.9px,#5fca61 108.9px,#34b679 109.9px,#25ab82 110.4px,#1f9f88 110.9px,#2c738e 112.9px,#355d8d 113.9px,#414287 116.4px,#2a788e 124.4px,#1f9f88 131.9px,#2cb27e 135.4px,#50c46a 139.9px,#9fda38 148.8px,#cce11a 157.3px,#e2e415 162.3px,#f8e71e 171.3px,#f8e71e 190.3px)"></i><i style="left:53.0px;width:1.1px;background:linear-gradient(#f8e71e 0.0px,#f7e71e 92.9px,#e8e517 93.9px,#dbe315 94.4px,#d7e316 94.9px,#e0e415 96.4px,#d7e316 97.4px,#dfe415 98.9px,#d7e316 99.9px,#dfe415 100.9px,#e0e415 101.9px,#f0e61a 102.9px,#e0e415 104.9px,#c4e01e 105.9px,#a8db32 106.9px,#93d741 107.4px,#5dc963 108.4px,#32b57a 109.4px,#24aa83 109.9px,#1f9e89 110.4px,#2c728e 112.4px,#355d8d 113.4px,#414487 115.9px,#287b8e 124.4px,#1f9f88 131.4px,#2cb17e 134.9px,#50c46a 139.4px,#9eda39 148.3px,#cce11a 156.8px,#e2e415 161.8px,#f8e71e 170.8px,#f8e71e 190.3px)"></i><i style="left:54.0px;width:1.1px;background:linear-gradient(#f8e71e 0.0px,#f7e71e 92.9px,#e7e516 93.9px,#dae315 94.4px,#d6e216 94.9px,#dee415 96.4px,#d6e216 97.4px,#dee415 98.9px,#d6e216 99.9px,#dee415 100.9px,#dfe415 101.9px,#ece518 102.9px,#dee415 104.4px,#c3e01f 105.4px,#a6db33 106.4px,#8fd743 106.9px,#5ac864 107.9px,#30b47c 108.9px,#23a884 109.4px,#1e9d89 109.9px,#2d718e 111.9px,#355d8d 112.9px,#3f4788 114.9px,#404588 115.4px,#287e8e 124.4px,#1f9f88 130.9px,#2cb17e 134.4px,#50c46a 138.9px,#9eda39 147.8px,#cce11a 156.3px,#e2e415 161.3px,#f8e71e 170.3px,#f8e71e 190.3px)"></i><i style="left:55.0px;width:1.1px;background:linear-gradient(#f8e71e 0.0px,#f7e71e 92.9px,#e6e516 93.9px,#d9e316 94.4px,#d5e217 94.9px,#dde315 96.4px,#d5e217 97.4px,#dde315 98.4px,#dde315 98.9px,#d5e217 99.9px,#dde315 100.9px,#dee315 101.9px,#e7e516 102.4px,#e3e416 103.4px,#dde315 103.9px,#c1e020 104.9px,#a5db34 105.9px,#57c766 107.4px,#2eb37d 108.4px,#22a785 108.9px,#1e9b8a 109.4px,#2d708e 111.4px,#355d8d 112.4px,#3f4788 114.4px,#3e4a89 115.4px,#26838e 124.9px,#1fa287 130.9px,#32b57a 134.9px,#6dce59 141.9px,#a5db34 148.3px,#d3e217 157.3px,#e6e516 162.3px,#f8e71e 169.8px,#f8e71e 190.3px)"></i><i style="left:56.0px;width:1.1px;background:linear-gradient(#f8e71e 0.0px,#f7e71e 92.9px,#e6e516 93.9px,#d7e316 94.4px,#d3e217 94.9px,#dce315 96.4px,#d3e217 97.4px,#dce315 98.4px,#dce315 98.9px,#d3e217 99.9px,#dce315 100.9px,#dde315 101.9px,#e6e516 102.4px,#dbe315 103.4px,#c0df21 104.4px,#a3db35 105.4px,#55c667 106.9px,#2cb17e 107.9px,#21a685 108.4px,#1f9a8a 108.9px,#32658e 111.4px,#3f4888 113.9px,#38578c 116.9px,#25858e 124.9px,#1fa187 130.4px,#32b57b 134.4px,#6dce59 141.4px,#a5db34 147.8px,#d3e217 156.8px,#e5e416 161.8px,#f8e71e 169.3px,#f8e71e 190.3px)"></i><i style="left:57.0px;width:1.1px;background:linear-gradient(#f8e71e 0.0px,#f7e71e 92.9px,#e5e416 93.9px,#d6e216 94.4px,#d2e217 94.9px,#dbe315 96.4px,#d2e217 97.4px,#dbe315 98.4px,#dbe315 98.9px,#d2e218 99.9px,#dbe315 100.9px,#dce315 101.9px,#e3e415 102.4px,#dbe315 102.9px,#bfdf21 103.9px,#a2da36 104.9px,#53c568 106.4px,#2bb17e 107.4px,#21a586 107.9px,#218e8d 108.9px,#32658e 110.9px,#3f4889 113.4px,#25858e 124.4px,#1fa187 129.9px,#31b57b 133.9px,#6dce59 140.9px,#a5db34 147.3px,#d2e217 156.3px,#e7e516 161.8px,#f8e71e 168.8px,#f8e71e 190.3px)"></i><i style="left:58.0px;width:1.1px;background:linear-gradient(#f8e71e 0.0px,#f7e71e 92.9px,#e4e416 93.9px,#d5e216 94.4px,#d0e218 94.9px,#dae315 95.9px,#dae315 96.4px,#d0e218 97.4px,#dae315 98.4px,#dae315 98.9px,#d0e218 99.9px,#dae315 100.9px,#dae315 102.4px,#bedf22 103.4px,#a1da36 104.4px,#52c569 105.9px,#2ab07f 106.9px,#20a486 107.4px,#228d8d 108.4px,#32648e 110.4px,#3f4989 112.9px,#25858e 123.9px,#1fa187 129.4px,#31b57b 133.4px,#6cce59 140.4px,#a4db34 146.8px,#d2e217 155.8px,#e6e516 161.3px,#f8e71e 168.3px,#f8e71e 190.3px)"></i><i style="left:59.0px;width:1.1px;background:linear-gradient(#f8e71e 0.0px,#f7e71e 92.9px,#e4e416 93.9px,#d4e217 94.4px,#cfe219 94.9px,#d9e316 95.9px,#d9e316 96.4px,#cfe219 97.4px,#d9e316 98.4px,#d9e316 98.9px,#cfe219 99.9px,#d9e316 100.9px,#d9e316 101.9px,#bddf23 102.9px,#a0da37 103.9px,#69cd5b 104.9px,#3bbb75 105.9px,#29af7f 106.4px,#20a486 106.9px,#228d8d 107.9px,#32648e 109.9px,#3e4989 112.4px,#24878e 123.9px,#1fa188 128.9px,#31b57b 132.9px,#6cce5a 139.9px,#a4db35 146.3px,#d2e218 155.3px,#e6e516 160.8px,#f8e71e 167.8px,#f8e71e 190.3px)"></i><i style="left:60.0px;width:1.1px;background:linear-gradient(#f8e71e 0.0px,#f7e71e 92.9px,#e3e415 93.9px,#d2e217 94.4px,#cee119 94.9px,#d8e316 95.9px,#d8e316 96.4px,#cee119 97.4px,#d8e316 98.4px,#d8e316 98.9px,#cee119 99.9px,#d8e316 100.9px,#d8e316 101.4px,#bcdf23 102.4px,#9fda38 103.4px,#67cc5c 104.4px,#3aba76 105.4px,#29af80 105.9px,#20a387 106.4px,#228c8d 107.4px,#32648e 109.4px,#3e4a89 111.9px,#24878e 123.4px,#1fa188 128.4px,#30b47b 132.4px,#6bcd5a 139.4px,#a4db35 145.8px,#d1e218 154.8px,#e8e517 160.8px,#f8e71e 167.3px,#f8e71e 190.3px)"></i><i style="left:61.0px;width:1.1px;background:linear-gradient(#f8e71e 0.0px,#f7e71e 92.9px,#e1e415 93.9px,#d0e218 94.4px,#cae11b 94.9px,#d5e216 95.9px,#d6e216 96.4px,#cae11b 97.4px,#d5e216 98.4px,#d6e216 98.9px,#cae11b 99.9px,#d6e216 100.9px,#bbdf24 101.9px,#9dda3a 102.9px,#66cc5d 103.9px,#39b977 104.9px,#28ae80 105.4px,#1fa287 105.9px,#228b8d 106.9px,#32648e 108.9px,#3e4b89 111.4px,#24878e 122.9px,#1fa088 127.9px,#2db27d 131.4px,#52c569 135.9px,#a3db35 145.3px,#d1e218 154.3px,#e7e516 160.3px,#f8e71e 166.8px,#f8e71e 190.3px)"></i><i style="left:62.0px;width:1.1px;background:linear-gradient(#f8e71e 0.0px,#f7e71e 92.9px,#e0e415 93.9px,#cde11a 94.4px,#c7e01c 94.9px,#d3e217 95.9px,#d4e217 96.4px,#c7e01c 97.4px,#d3e217 98.4px,#d3e217 98.9px,#c7e01c 99.9px,#cce11a 100.4px,#c8e11c 100.9px,#9cd93b 102.4px,#64cb5e 103.4px,#37b977 104.4px,#27ad81 104.9px,#1fa187 105.4px,#26818e 106.9px,#32648e 108.4px,#3e4b8a 110.9px,#23898d 122.9px,#20a387 127.9px,#33b67a 131.9px,#6fce58 138.9px,#a5db33 145.3px,#d3e217 154.3px,#ede619 161.8px,#f8e71e 166.3px,#f8e71e 190.3px)"></i><i style="left:63.0px;width:1.1px;background:linear-gradient(#f8e71e 0.0px,#f7e71d 92.9px,#dee415 93.9px,#cae11b 94.4px,#c4e01e 94.9px,#d0e218 95.9px,#d1e218 96.4px,#c4e01e 97.4px,#d1e218 98.4px,#d1e218 98.9px,#c4e01e 99.9px,#c8e01c 100.4px,#abdc2f 101.4px,#9ad93c 101.9px,#63cb5f 102.9px,#36b878 103.9px,#26ad81 104.4px,#1fa188 104.9px,#2a778e 106.9px,#32648e 107.9px,#3d4d8a 110.4px,#23898e 122.4px,#20a387 127.4px,#33b67a 131.4px,#6ece58 138.4px,#a5db34 144.8px,#d3e217 153.8px,#ebe518 160.8px,#f8e71e 165.8px,#f8e71e 190.3px)"></i><i style="left:64.0px;width:1.1px;background:linear-gradient(#f8e71e 0.0px,#f7e71d 92.9px,#dde315 93.9px,#c7e01c 94.4px,#c1e020 94.9px,#cee119 95.9px,#cfe119 96.4px,#c1e020 97.4px,#cee119 98.4px,#cfe119 98.9px,#b9de26 100.4px,#98d83e 101.4px,#61ca60 102.4px,#35b779 103.4px,#26ac82 103.9px,#1fa088 104.4px,#2a778e 106.4px,#32648e 107.4px,#3d4e8a 109.9px,#228b8d 122.4px,#1fa287 126.9px,#32b67a 130.9px,#6ece58 137.9px,#a5db34 144.3px,#d2e217 153.3px,#ebe518 160.3px,#f8e71e 165.3px,#f8e71e 190.3px)"></i><i style="left:65.0px;width:1.1px;background:linear-gradient(#f8e71e 0.0px,#f7e71d 92.9px,#dbe315 93.9px,#c4e01e 94.4px,#bedf22 94.9px,#cbe11a 95.9px,#cce11a 96.4px,#bedf22 97.4px,#cce11a 98.4px,#cce11a 98.9px,#b8de26 99.9px,#96d83f 100.9px,#5fca61 101.9px,#34b779 102.9px,#25ab82 103.4px,#1f9f88 103.9px,#2a778e 105.9px,#32648e 106.9px,#3c4f8a 109.4px,#2a768e 117.4px,#1f9f88 125.9px,#2cb17e 129.4px,#50c46a 133.9px,#a4db34 143.8px,#d2e217 152.8px,#ebe518 159.8px,#f8e71e 164.8px,#f8e71e 190.3px)"></i><i style="left:66.0px;width:1.1px;background:linear-gradient(#f8e71e 0.0px,#f6e71d 92.9px,#e8e517 93.4px,#d9e316 93.9px,#c2e020 94.4px,#badf24 94.9px,#bfdf21 95.4px,#c9e11b 95.9px,#cae11b 96.4px,#badf24 97.4px,#c9e11b 98.4px,#c5e01e 98.9px,#a9dc31 99.9px,#94d840 100.4px,#5ec962 101.4px,#33b67a 102.4px,#24aa83 102.9px,#1f9f88 103.4px,#2a778e 105.4px,#32658e 106.4px,#3c508b 108.9px,#2b748e 116.4px,#1f9f88 125.4px,#2bb17e 128.9px,#4fc46a 133.4px,#a4db35 143.3px,#d2e218 152.3px,#ebe518 159.3px,#f8e71e 164.3px,#f8e71e 190.3px)"></i><i style="left:67.0px;width:1.1px;background:linear-gradient(#f8e71e 0.0px,#f6e71d 92.9px,#e7e516 93.4px,#d8e316 93.9px,#bfdf21 94.4px,#b7de26 94.9px,#bcdf23 95.4px,#c6e01d 95.9px,#c8e01c 96.4px,#b7de26 97.4px,#c6e01d 98.4px,#aadc30 99.4px,#96d83f 99.9px,#60ca61 100.9px,#34b779 101.9px,#25ab82 102.4px,#1f9f88 102.9px,#2a778e 104.9px,#32658e 105.9px,#3c4f8b 108.4px,#2e6d8e 114.9px,#1e9b8a 124.4px,#27ae80 127.9px,#49c16e 132.4px,#9fda38 142.4px,#d0e218 151.8px,#e8e517 158.3px,#f7e71e 163.8px,#f8e71e 190.3px)"></i><i style="left:68.0px;width:1.1px;background:linear-gradient(#f8e71e 0.0px,#f6e71d 92.9px,#e6e516 93.4px,#d6e216 93.9px,#bcdf23 94.4px,#b4de29 94.9px,#b9de25 95.4px,#c4e01e 95.9px,#c5e01d 96.4px,#b4de29 97.4px,#bbdf24 98.4px,#9cd93a 99.4px,#65cb5e 100.4px,#38b977 101.4px,#27ae80 101.9px,#1fa287 102.4px,#26828e 103.9px,#31668e 105.4px,#3c4f8a 107.9px,#31668e 113.4px,#1e9b8a 123.9px,#27ad81 127.4px,#42be71 131.4px,#94d841 140.9px,#addc2e 144.8px,#d5e216 152.8px,#eee619 160.3px,#f6e71d 164.3px,#f8e71e 190.3px)"></i><i style="left:69.0px;width:1.1px;background:linear-gradient(#f8e71e 0.0px,#f6e71d 92.9px,#e5e416 93.4px,#d5e217 93.9px,#b9de25 94.4px,#b1dd2b 94.9px,#b6de27 95.4px,#c1e020 95.9px,#c3e01f 96.4px,#b1dd2b 97.4px,#b7de27 97.9px,#b0dd2c 98.4px,#a1da36 98.9px,#52c569 100.4px,#2ab07f 101.4px,#20a486 101.9px,#228d8d 102.9px,#31688e 104.9px,#3c4f8b 107.4px,#365c8d 111.4px,#23898e 119.9px,#1fa287 124.9px,#31b57b 128.9px,#6acd5a 135.9px,#9dd93a 141.9px,#cfe119 151.3px,#e7e516 157.8px,#f5e71d 163.3px,#f8e71e 190.3px)"></i><i style="left:70.0px;width:1.1px;background:linear-gradient(#f8e71e 0.0px,#f6e71d 92.9px,#e5e416 93.4px,#d3e217 93.9px,#b6de27 94.4px,#aedc2d 94.9px,#b3dd29 95.4px,#bfdf21 95.9px,#c0df20 96.4px,#addc2d 97.4px,#b3dd2a 97.9px,#a4db34 98.4px,#57c766 99.9px,#2eb27d 100.9px,#22a785 101.4px,#1e9b8a 101.9px,#306a8e 104.4px,#3c508b 106.9px,#3a548c 109.4px,#228c8d 120.4px,#20a486 124.9px,#33b67a 128.9px,#6cce59 135.9px,#9bd93b 141.4px,#cde11a 150.8px,#e5e416 157.3px,#f4e71c 162.8px,#f8e71e 190.3px)"></i><i style="left:71.0px;width:1.1px;background:linear-gradient(#f8e71e 0.0px,#f6e71d 92.9px,#e4e416 93.4px,#d2e218 93.9px,#b3dd29 94.4px,#aadc30 94.9px,#b0dd2b 95.4px,#bcdf23 95.9px,#bedf22 96.4px,#aadc30 97.4px,#a7db32 97.9px,#92d742 98.4px,#5cc863 99.4px,#31b57b 100.4px,#23a983 100.9px,#1f9e89 101.4px,#2b758e 103.4px,#33638d 104.4px,#3d4e8a 106.9px,#37598c 110.4px,#24878e 118.9px,#20a387 124.4px,#32b57a 128.4px,#6acd5b 135.4px,#99d93d 140.9px,#cde119 150.8px,#e6e516 157.3px,#f3e61c 162.3px,#f8e71e 190.3px)"></i><i style="left:72.0px;width:1.1px;background:linear-gradient(#f8e71e 0.0px,#f8e71e 92.4px,#f4e71c 92.9px,#e3e416 93.4px,#d0e218 93.9px,#b0dd2b 94.4px,#a7db32 94.9px,#addc2e 95.4px,#bade25 95.9px,#bcdf24 96.4px,#a7db32 97.4px,#98d83d 97.9px,#61ca60 98.9px,#35b779 99.9px,#26ac82 100.4px,#1fa088 100.9px,#2a778e 102.9px,#32648e 103.9px,#3d4d8a 106.4px,#39558c 109.4px,#23888e 118.9px,#1fa287 123.9px,#30b47b 127.9px,#6cce59 135.4px,#99d93d 140.9px,#cce11a 150.3px,#e4e416 156.8px,#f2e61b 161.8px,#f8e71e 184.8px,#f8e71e 190.3px)"></i><i style="left:73.0px;width:1.1px;background:linear-gradient(#f8e71e 0.0px,#f8e71e 91.9px,#f1e61a 92.9px,#e2e415 93.4px,#cee119 93.9px,#acdc2e 94.4px,#a3db36 94.9px,#a9dc31 95.4px,#b6de27 95.9px,#b8de26 96.4px,#9fda38 97.4px,#67cc5c 98.4px,#3aba76 99.4px,#29af80 99.9px,#20a386 100.4px,#228d8d 101.4px,#31668e 103.4px,#3c4e8a 105.9px,#3b528b 108.4px,#238a8d 118.9px,#1fa287 123.4px,#30b47c 127.4px,#6acd5a 134.9px,#97d83e 140.4px,#cae11b 149.8px,#e3e415 156.3px,#f2e61b 161.8px,#f8e71e 182.3px,#f8e71e 190.3px)"></i><i style="left:74.0px;width:1.1px;background:linear-gradient(#f8e71e 0.0px,#f6e71d 91.9px,#eee619 92.9px,#e1e415 93.4px,#cbe11a 93.9px,#a8dc31 94.4px,#9eda39 94.9px,#a5db34 95.4px,#b3dd2a 95.9px,#b1dd2b 96.4px,#a3db35 96.9px,#55c667 98.4px,#2cb27d 99.4px,#21a685 99.9px,#1f9a8a 100.4px,#30698e 102.9px,#3c508b 105.4px,#3b528b 107.9px,#238a8d 118.4px,#20a486 123.4px,#32b67a 127.4px,#71cf56 135.4px,#99d93d 140.4px,#cbe11a 149.8px,#e5e416 156.8px,#f1e61a 161.3px,#f8e71e 180.3px,#f8e71e 190.3px)"></i><i style="left:75.0px;width:1.1px;background:linear-gradient(#f8e71e 0.0px,#f7e71d 91.4px,#ebe518 92.9px,#dfe415 93.4px,#c9e11b 93.9px,#a4db35 94.4px,#99d93d 94.9px,#a0da37 95.4px,#afdd2c 95.9px,#a7db32 96.4px,#5bc864 97.9px,#31b47b 98.9px,#23a983 99.4px,#1f9e89 99.9px,#2b768e 101.9px,#32658e 102.9px,#3c508b 105.4px,#3b518b 107.4px,#238a8d 117.9px,#20a386 122.9px,#31b57b 126.9px,#74d055 135.4px,#97d83e 139.9px,#c9e11b 149.3px,#e2e415 155.8px,#f0e61a 160.8px,#f8e71e 178.3px,#f8e71e 190.3px)"></i><i style="left:76.0px;width:1.1px;background:linear-gradient(#f8e71e 0.0px,#f7e71e 90.9px,#e8e517 92.9px,#dee415 93.4px,#c7e01d 93.9px,#a0da38 94.4px,#95d840 94.9px,#9cd93b 95.4px,#aadc30 95.9px,#96d83f 96.4px,#60ca60 97.4px,#35b779 98.4px,#26ac81 98.9px,#1fa188 99.4px,#2a788e 101.4px,#31668e 102.4px,#3b508b 104.9px,#3a538b 107.4px,#238a8d 117.4px,#20a387 122.4px,#31b57b 126.4px,#72cf56 134.9px,#98d93d 139.9px,#cae11b 149.3px,#e4e416 156.3px,#f0e61a 161.3px,#f8e71e 178.3px,#f8e71e 190.3px)"></i><i style="left:77.0px;width:1.1px;background:linear-gradient(#f8e71e 0.0px,#f8e71e 90.4px,#e5e416 92.9px,#dde315 93.4px,#c4e01e 93.9px,#9cd93b 94.4px,#90d743 94.9px,#9cd93a 95.9px,#66cc5d 96.9px,#3aba76 97.9px,#29af7f 98.4px,#20a486 98.9px,#218e8d 99.9px,#30688e 101.9px,#3b518b 104.4px,#3a538b 106.9px,#238a8d 116.9px,#20a387 121.9px,#30b47b 125.9px,#71cf57 134.4px,#97d83f 139.4px,#c8e11c 148.8px,#e3e415 155.8px,#f0e61a 160.8px,#f8e71e 176.8px,#f8e71e 190.3px)"></i><i style="left:78.0px;width:1.1px;background:linear-gradient(#f8e71e 0.0px,#f5e71d 90.4px,#e2e415 92.9px,#d9e316 93.4px,#c2e020 93.9px,#97d83e 94.4px,#8bd646 94.9px,#93d741 95.4px,#87d549 95.9px,#54c667 96.9px,#2db27d 97.9px,#22a785 98.4px,#1e9b8a 98.9px,#2f6b8e 101.4px,#3a538b 103.9px,#3c4f8b 105.9px,#238a8d 116.4px,#1fa287 121.4px,#2fb47c 125.4px,#73d055 134.4px,#98d83e 139.4px,#c9e11b 148.8px,#e3e416 155.8px,#f0e61a 160.8px,#f8e71e 176.3px,#f8e71e 190.3px)"></i><i style="left:79.0px;width:1.1px;background:linear-gradient(#f8e71e 0.0px,#f6e71d 89.9px,#e3e416 92.4px,#dce315 92.9px,#bfdf21 93.9px,#93d741 94.4px,#87d549 94.9px,#8dd645 95.4px,#5ac864 96.4px,#31b57b 97.4px,#24aa83 97.9px,#1f9e89 98.4px,#2a778e 100.4px,#31678e 101.4px,#3b528b 103.9px,#3b528b 105.9px,#238a8d 115.9px,#1fa287 120.9px,#2eb37c 124.9px,#71cf56 133.9px,#97d83f 138.9px,#cae11b 148.8px,#e4e416 155.8px,#f1e61a 161.8px,#f8e71e 176.8px,#f8e71e 190.3px)"></i><i style="left:80.0px;width:1.1px;background:linear-gradient(#f8e71e 0.0px,#f7e71e 89.4px,#dfe415 92.4px,#c3e01f 93.4px,#b6de28 93.9px,#8fd744 94.4px,#79d152 95.4px,#36b878 96.9px,#26ad81 97.4px,#1fa287 97.9px,#25838e 99.4px,#30698e 100.9px,#3a538b 103.4px,#3b518b 105.4px,#238a8d 115.4px,#1fa287 120.4px,#2eb37d 124.4px,#74d055 133.9px,#9bd93b 139.4px,#cae11b 148.8px,#e4e416 155.8px,#f2e61b 162.8px,#f8e71e 176.3px,#f8e71e 190.3px)"></i><i style="left:81.0px;width:1.1px;background:linear-gradient(#f8e71e 0.0px,#f8e71e 88.9px,#e1e415 91.9px,#c6e01d 92.9px,#abdc2f 93.9px,#8bd646 94.4px,#7dd24f 94.9px,#3aba76 96.4px,#2ab07f 96.9px,#20a586 97.4px,#218f8d 98.4px,#2f6b8e 100.4px,#3a548c 102.9px,#3b508b 104.9px,#23898d 114.9px,#1fa187 119.9px,#2db27d 123.9px,#72cf56 133.4px,#a0da38 139.9px,#cde11a 149.3px,#e5e416 155.8px,#f2e61b 163.3px,#f8e71e 175.8px,#f8e71e 190.3px)"></i><i style="left:82.0px;width:1.1px;background:linear-gradient(#f8e71e 0.0px,#f8e71e 88.4px,#e2e415 91.4px,#c9e11b 92.4px,#9eda39 93.9px,#6acd5a 94.9px,#2db27d 96.4px,#22a884 96.9px,#1e9c89 97.4px,#2e6d8e 99.9px,#3a548b 102.9px,#3c508b 104.4px,#23898d 114.4px,#20a386 119.9px,#30b47c 123.9px,#7cd24f 134.4px,#a6db33 140.9px,#cde119 149.3px,#e5e416 155.8px,#f2e61b 162.8px,#f8e71e 174.8px,#f8e71e 190.3px)"></i><i style="left:83.0px;width:1.1px;background:linear-gradient(#f8e71e 0.0px,#f6e71d 88.4px,#e3e415 90.9px,#dae315 91.4px,#bedf22 92.4px,#a3db36 93.4px,#6fce58 94.4px,#31b57b 95.9px,#24aa82 96.4px,#1fa088 96.9px,#29798e 98.9px,#306a8e 99.9px,#39558c 102.4px,#3c508b 103.9px,#23898d 113.9px,#20a387 119.4px,#2fb37c 123.4px,#7bd250 133.9px,#a5db34 140.4px,#cee119 149.3px,#e7e516 156.3px,#f3e61b 164.3px,#f8e71e 175.8px,#f8e71e 190.3px)"></i><i style="left:84.0px;width:1.1px;background:linear-gradient(#f8e71e 0.0px,#f7e71d 87.9px,#dde315 90.9px,#c2e020 91.9px,#a5db33 92.9px,#5cc863 94.4px,#35b779 95.4px,#27ad81 95.9px,#20a287 96.4px,#25858e 97.9px,#2f6b8e 99.4px,#3a548c 102.4px,#3b528b 103.9px,#23898d 113.4px,#20a387 118.9px,#2eb37c 122.9px,#79d151 133.4px,#a3db35 139.9px,#cce11a 148.8px,#e5e416 155.3px,#f1e61b 162.3px,#f8e71e 173.3px,#f8e71e 190.3px)"></i><i style="left:85.0px;width:1.1px;background:linear-gradient(#f8e71e 0.0px,#f7e71e 87.4px,#e0e415 90.4px,#c5e01e 91.4px,#a8dc31 92.4px,#94d840 92.9px,#60ca61 93.9px,#38b977 94.9px,#29af7f 95.4px,#21a586 95.9px,#20918c 96.9px,#2e6d8e 98.9px,#39558c 101.9px,#3b518b 103.4px,#23898d 112.9px,#20a387 118.4px,#2eb37d 122.4px,#74d055 132.4px,#a2da36 139.4px,#cde119 148.8px,#e7e516 155.8px,#f3e61b 163.3px,#f8e71e 173.8px,#f8e71e 190.3px)"></i><i style="left:86.0px;width:1.1px;background:linear-gradient(#f8e71e 0.0px,#f8e71e 86.9px,#e1e415 89.9px,#c8e11c 90.9px,#9ad93c 92.4px,#64cb5e 93.4px,#3bba75 94.4px,#2cb17e 94.9px,#22a784 95.4px,#20948c 96.4px,#2e6f8e 98.4px,#39568c 101.4px,#3b508b 102.9px,#228b8d 112.9px,#1fa287 117.9px,#30b47b 122.4px,#7ad251 132.9px,#a1da37 138.9px,#cce11a 148.3px,#e6e516 155.3px,#f2e61b 162.3px,#f8e71e 172.3px,#f8e71e 190.3px)"></i><i style="left:87.0px;width:1.1px;background:linear-gradient(#f8e71e 0.0px,#f8e71e 86.4px,#e2e415 89.4px,#cae11b 90.4px,#9fda38 91.9px,#68cc5c 92.9px,#3cbb75 93.9px,#2cb27d 94.4px,#23a884 94.9px,#1f958b 95.9px,#2d718e 97.9px,#38578c 100.9px,#3c508b 102.4px,#228b8d 112.4px,#1fa287 117.4px,#30b47c 121.9px,#75d054 131.9px,#a0da38 138.4px,#cde11a 148.3px,#e6e516 155.3px,#f2e61b 162.3px,#f8e71e 171.8px,#f8e71e 190.3px)"></i><i style="left:88.0px;width:1.1px;background:linear-gradient(#f8e71e 0.0px,#f6e71d 86.4px,#e3e415 88.9px,#dae315 89.4px,#bfdf22 90.4px,#a2da36 91.4px,#53c568 92.9px,#2db27d 93.9px,#23a984 94.4px,#1f968b 95.4px,#2e6e8e 97.9px,#3a538b 101.4px,#3c508b 101.9px,#228b8d 111.9px,#1fa287 116.9px,#2fb47c 121.4px,#74d055 131.4px,#9eda39 137.9px,#cbe11a 147.8px,#e5e416 154.8px,#f1e61a 161.3px,#f8e71e 170.8px,#f8e71e 190.3px)"></i><i style="left:89.0px;width:1.1px;background:linear-gradient(#f8e71e 0.0px,#f6e71d 85.9px,#dde315 88.9px,#c1e020 89.9px,#a4db34 90.9px,#57c766 92.4px,#2fb37c 93.4px,#23a983 93.9px,#1f968b 94.9px,#2e6f8e 97.4px,#3b518b 101.4px,#228b8d 111.4px,#20a486 116.9px,#31b57b 121.4px,#7ad151 131.9px,#9dda3a 137.4px,#cce11a 147.8px,#e6e516 154.8px,#f1e61b 161.3px,#f8e71e 170.3px,#f8e71e 190.3px)"></i><i style="left:90.0px;width:1.1px;background:linear-gradient(#f8e71e 0.0px,#f7e71e 85.4px,#dfe415 88.4px,#c3e01f 89.4px,#a7db32 90.4px,#91d743 90.9px,#5bc864 91.9px,#31b57b 92.9px,#24aa83 93.4px,#1f9f88 93.9px,#2a778e 96.4px,#365b8d 99.4px,#3b518b 100.9px,#228b8d 110.9px,#20a486 116.4px,#31b57b 120.9px,#79d152 131.4px,#9cd93a 136.9px,#cde119 147.8px,#e6e516 154.8px,#f4e61c 162.8px,#f8e71e 171.3px,#f8e71e 190.3px)"></i><i style="left:91.0px;width:1.1px;background:linear-gradient(#f8e71e 0.0px,#f8e71e 84.9px,#e1e415 87.9px,#c6e01d 88.9px,#a9dc31 89.9px,#96d840 90.4px,#5fc961 91.4px,#34b679 92.4px,#25ab82 92.9px,#1fa088 93.4px,#2a788e 95.9px,#30698e 97.4px,#3b518b 100.4px,#38578c 101.9px,#228b8d 110.4px,#20a386 115.9px,#30b47b 120.4px,#70cf57 129.9px,#9bd93b 136.4px,#cce11a 147.3px,#e4e416 153.8px,#f0e61a 159.3px,#f8e71e 168.3px,#f8e71e 190.3px)"></i><i style="left:92.0px;width:1.1px;background:linear-gradient(#f8e71e 0.0px,#f8e71e 84.4px,#e1e415 87.4px,#c8e11c 88.4px,#9ad93c 89.9px,#63cb5f 90.9px,#37b878 91.9px,#27ad81 92.4px,#1fa287 92.9px,#24868e 94.4px,#2d708e 95.9px,#3c4f8b 100.4px,#238a8d 109.9px,#20a387 115.4px,#2fb47c 119.9px,#6acd5a 128.9px,#99d93d 135.9px,#cce11a 147.3px,#e5e416 153.8px,#f0e61a 159.8px,#f8e71e 167.8px,#f8e71e 190.3px)"></i><i style="left:93.0px;width:1.1px;background:linear-gradient(#f8e71e 0.0px,#f8e71e 83.9px,#e2e415 86.9px,#cae11b 87.9px,#9fda38 89.4px,#67cc5c 90.4px,#3aba76 91.4px,#29af80 91.9px,#20a386 92.4px,#228d8d 93.4px,#2d708e 95.4px,#3d4e8a 99.9px,#238a8d 109.4px,#1fa287 114.9px,#2eb37c 119.4px,#62ca5f 127.4px,#98d83e 135.4px,#cbe11a 146.8px,#e4e416 153.3px,#efe61a 158.8px,#f8e71e 167.3px,#f8e71e 190.3px)"></i><i style="left:94.0px;width:1.1px;background:linear-gradient(#f8e71e 0.0px,#f6e71d 83.9px,#e3e415 86.4px,#dae315 86.9px,#bedf22 87.9px,#a2da36 88.9px,#53c568 90.4px,#2bb17e 91.4px,#21a586 91.9px,#218e8d 92.9px,#2e6f8e 94.9px,#3d4c8a 99.4px,#23898d 108.9px,#1fa287 114.4px,#2db27d 118.9px,#59c764 125.9px,#96d83f 134.9px,#cce11a 146.8px,#e5e416 153.3px,#f4e71c 161.8px,#f8e71e 170.3px,#f8e71e 190.3px)"></i><i style="left:95.0px;width:1.1px;background:linear-gradient(#f8e71e 0.0px,#f6e71d 83.4px,#e2e415 85.9px,#dae315 86.4px,#bedf22 87.4px,#a2da36 88.4px,#52c569 89.9px,#2bb07f 90.9px,#20a586 91.4px,#228d8d 92.4px,#2f6b8e 94.4px,#365d8d 96.9px,#3e4b8a 98.9px,#24878e 107.9px,#1fa187 113.9px,#2db27d 118.4px,#58c765 125.4px,#95d840 134.4px,#cde11a 146.8px,#e6e516 153.3px,#f8e71e 165.3px,#f8e71e 190.3px)"></i><i style="left:96.0px;width:1.1px;background:linear-gradient(#f8e71e 0.0px,#f5e71d 82.9px,#e2e415 85.4px,#cbe11a 86.4px,#a0da37 87.9px,#68cc5c 88.9px,#3bba76 89.9px,#29af7f 90.4px,#20a386 90.9px,#228c8d 91.9px,#31668e 93.9px,#365b8d 96.4px,#3e4b89 98.4px,#24868e 107.4px,#1fa188 113.4px,#2cb17e 117.9px,#53c568 124.4px,#94d841 133.9px,#cce11a 146.3px,#e5e416 152.8px,#f8e71e 164.8px,#f8e71e 190.3px)"></i><i style="left:97.0px;width:1.1px;background:linear-gradient(#f8e71e 0.0px,#f8e71e 81.9px,#e2e415 84.9px,#c9e11b 85.9px,#9eda39 87.4px,#66cc5d 88.4px,#39b977 89.4px,#28ae80 89.9px,#1fa287 90.4px,#228b8d 91.4px,#33638d 93.4px,#39568c 96.4px,#3e4a89 97.9px,#24868e 106.9px,#1fa088 112.9px,#2bb17e 117.4px,#51c569 123.9px,#92d742 133.4px,#cde11a 146.3px,#e7e516 152.8px,#f8e71e 164.3px,#f8e71e 190.3px)"></i><i style="left:98.0px;width:1.1px;background:linear-gradient(#f8e71e 0.0px,#f8e71e 81.4px,#e1e415 84.4px,#c8e11c 85.4px,#9bd93b 86.9px,#63cb5f 87.9px,#37b878 88.9px,#27ad81 89.4px,#1fa187 89.9px,#27808e 91.4px,#34608d 92.9px,#38588c 94.4px,#3b508b 96.4px,#3e4989 97.4px,#24868e 106.4px,#1fa287 112.9px,#2fb47c 117.9px,#68cc5c 126.9px,#91d743 132.9px,#cee119 146.3px,#e6e516 152.3px,#f8e71e 163.8px,#f8e71e 190.3px)"></i><i style="left:99.0px;width:1.1px;background:linear-gradient(#f8e71e 0.0px,#f8e71e 80.9px,#e1e415 83.9px,#c7e01d 84.9px,#aadc30 85.9px,#98d83e 86.4px,#61ca60 87.4px,#35b779 88.4px,#26ac82 88.9px,#1fa088 89.4px,#2b748e 91.4px,#355f8d 92.4px,#3a538b 94.4px,#3c4f8a 95.9px,#3e4989 96.9px,#24868e 105.9px,#1fa287 112.4px,#2fb47c 117.4px,#6bcd5a 126.9px,#91d743 132.4px,#cde119 145.8px,#e6e516 151.8px,#f7e71e 163.3px,#f8e71e 190.3px)"></i><i style="left:100.0px;width:1.1px;background:linear-gradient(#f8e71e 0.0px,#f8e71e 80.4px,#e1e415 83.4px,#c5e01d 84.4px,#a9dc31 85.4px,#95d840 85.9px,#5fc961 86.9px,#33b67a 87.9px,#25ab82 88.4px,#1f9f88 88.9px,#2c738e 90.9px,#355e8d 91.9px,#3d4d8a 93.9px,#3f4989 96.4px,#25848e 104.9px,#1fa088 111.4px,#2bb07e 115.9px,#50c469 122.4px,#90d743 131.9px,#cde11a 145.3px,#e5e416 151.3px,#f7e71e 162.8px,#f8e71e 190.3px)"></i><i style="left:101.0px;width:1.1px;background:linear-gradient(#f8e71e 0.0px,#f7e71e 79.9px,#e0e415 82.9px,#c4e01e 83.9px,#a8db32 84.9px,#93d742 85.4px,#5cc963 86.4px,#31b57b 87.4px,#24aa83 87.9px,#1f9e89 88.4px,#2c728e 90.4px,#355d8d 91.4px,#3f4788 93.9px,#3f4888 95.9px,#26828e 103.9px,#1fa088 110.9px,#2db27d 115.9px,#5ec962 123.9px,#90d743 131.4px,#cce11a 144.8px,#e6e516 151.3px,#f7e71e 162.3px,#f8e71e 190.3px)"></i><i style="left:102.0px;width:1.1px;background:linear-gradient(#f8e71e 0.0px,#f7e71e 79.4px,#dee415 82.4px,#c3e01f 83.4px,#a6db33 84.4px,#90d743 84.9px,#5ac864 85.9px,#30b47c 86.9px,#23a884 87.4px,#1e9d89 87.9px,#2d718e 89.9px,#365d8d 90.9px,#424086 93.9px,#424086 94.9px,#38588c 97.4px,#24868e 104.4px,#1fa188 110.4px,#2db27d 115.4px,#61ca60 123.9px,#90d743 130.9px,#cce11a 144.3px,#e6e516 150.8px,#f7e71e 162.3px,#f8e71e 190.3px)"></i><i style="left:103.0px;width:1.1px;background:linear-gradient(#f8e71e 0.0px,#f6e71d 78.9px,#dde315 81.9px,#c1e020 82.9px,#a4db34 83.9px,#57c766 85.4px,#2eb37d 86.4px,#22a785 86.9px,#1e9b8a 87.4px,#2d6f8e 89.4px,#365c8d 90.4px,#433c84 93.4px,#453882 94.4px,#3c4f8b 95.9px,#24878e 103.9px,#1fa187 109.9px,#2db27d 114.9px,#64cb5e 123.9px,#8fd744 130.4px,#cce11a 143.8px,#e5e416 150.3px,#f7e71d 161.8px,#f8e71e 190.3px)"></i><i style="left:104.0px;width:1.1px;background:linear-gradient(#f8e71e 0.0px,#f6e71d 78.4px,#e2e415 80.9px,#dae315 81.4px,#bedf22 82.4px,#a2da36 83.4px,#52c568 84.9px,#2bb07e 85.9px,#20a586 86.4px,#228d8d 87.4px,#33628d 89.4px,#463480 93.4px,#46317e 93.9px,#3d4d8a 95.4px,#306a8e 98.9px,#23898d 103.9px,#1fa187 109.4px,#2eb37d 114.4px,#68cc5c 123.9px,#8fd744 129.9px,#cbe11a 143.3px,#e5e416 149.8px,#f6e71d 161.3px,#f8e71e 190.3px)"></i><i style="left:105.0px;width:1.1px;background:linear-gradient(#f8e71e 0.0px,#f8e71e 77.4px,#e2e415 80.4px,#cae11b 81.4px,#9eda39 82.9px,#66cc5d 83.9px,#39ba76 84.9px,#28ae80 85.4px,#20a387 85.9px,#228b8d 86.9px,#345f8d 88.9px,#453681 92.4px,#472e7c 93.4px,#3b518b 95.4px,#2c728e 99.4px,#228c8d 103.9px,#20a386 109.4px,#30b47b 114.4px,#79d152 125.9px,#91d742 129.9px,#cbe11b 142.8px,#e4e416 149.3px,#f6e71d 160.8px,#f8e71e 190.3px)"></i><i style="left:106.0px;width:1.1px;background:linear-gradient(#f8e71e 0.0px,#f8e71e 76.9px,#e1e415 79.9px,#c7e01c 80.9px,#abdc2f 81.9px,#99d93d 82.4px,#62ca60 83.4px,#35b778 84.4px,#26ac81 84.9px,#1fa088 85.4px,#277e8e 86.9px,#355d8d 88.4px,#443b83 91.4px,#472e7c 92.4px,#472c7b 92.9px,#39558c 95.4px,#29798e 99.9px,#1f9e89 107.4px,#28ae80 111.9px,#4ec36b 118.9px,#8fd644 128.9px,#cae11b 142.4px,#e4e416 148.8px,#f6e71d 160.3px,#f8e71e 190.3px)"></i><i style="left:107.0px;width:1.1px;background:linear-gradient(#f8e71e 0.0px,#f7e71e 76.4px,#e0e415 79.4px,#c4e01e 80.4px,#a8dc31 81.4px,#93d741 81.9px,#5dc962 82.9px,#32b57a 83.9px,#24aa83 84.4px,#1f9e89 84.9px,#2c718e 86.9px,#365c8d 87.9px,#443983 90.9px,#472c7b 91.9px,#472c7b 92.4px,#423f85 93.9px,#37598c 95.4px,#297a8e 99.4px,#1f9e88 106.9px,#2ab07f 111.9px,#51c469 118.9px,#8ed644 128.4px,#cae11b 141.9px,#e3e416 148.3px,#f6e71d 159.8px,#f8e71e 190.3px)"></i><i style="left:108.0px;width:1.1px;background:linear-gradient(#f8e71e 0.0px,#f7e71d 75.9px,#dee315 78.9px,#c2e020 79.9px,#a5db33 80.9px,#58c765 82.4px,#2fb37c 83.4px,#22a884 83.9px,#1e9c89 84.4px,#2d6f8e 86.4px,#365b8d 87.4px,#453782 90.4px,#472a7a 91.4px,#453681 92.9px,#355d8d 95.4px,#297a8e 98.9px,#1e9d89 105.9px,#28af80 110.9px,#4ec36b 117.9px,#8ed644 127.9px,#cae11b 141.4px,#e3e415 147.8px,#f6e71d 159.3px,#f8e71e 190.3px)"></i><i style="left:109.0px;width:1.1px;background:linear-gradient(#f8e71e 0.0px,#f6e71d 75.4px,#e3e415 77.9px,#dbe315 78.4px,#bfdf21 79.4px,#a3db35 80.4px,#54c667 81.9px,#2cb17e 82.9px,#21a685 83.4px,#1f9a8a 83.9px,#2e6d8e 85.9px,#375a8c 86.9px,#453681 89.9px,#482978 90.9px,#424186 93.4px,#31678e 95.9px,#24868e 100.4px,#1fa188 106.4px,#2db27d 111.4px,#68cc5c 121.4px,#8ed645 127.4px,#c9e11b 140.9px,#e3e416 147.8px,#f6e71d 158.8px,#f8e71e 190.3px)"></i><i style="left:110.0px;width:1.1px;background:linear-gradient(#f8e71e 0.0px,#f5e71d 74.9px,#e2e415 77.4px,#cbe11b 78.4px,#a0da37 79.9px,#68cc5c 80.9px,#3aba76 81.9px,#29af7f 82.4px,#20a386 82.9px,#228c8d 83.9px,#345f8d 85.9px,#443b83 88.9px,#482878 90.4px,#404588 93.4px,#2f6b8e 95.9px,#24868e 99.9px,#1fa187 105.9px,#2db27d 110.9px,#68cc5c 120.9px,#8bd646 126.4px,#c9e11b 140.4px,#e3e415 147.3px,#f5e71d 158.3px,#f8e71e 190.3px)"></i><i style="left:111.0px;width:1.1px;background:linear-gradient(#f8e71e 0.0px,#f8e71e 73.9px,#e1e415 76.9px,#c8e11c 77.9px,#9bd93c 79.4px,#63cb5f 80.4px,#37b878 81.4px,#27ad81 81.9px,#1fa187 82.4px,#277f8e 83.9px,#365d8d 85.4px,#443983 88.4px,#482878 89.9px,#3e4a89 93.4px,#2d6f8e 95.9px,#24878e 99.4px,#1fa187 105.4px,#2db27d 110.4px,#6bcd5a 120.9px,#8bd646 125.9px,#c9e11b 139.9px,#e2e415 146.8px,#f5e71d 157.8px,#f8e71e 190.3px)"></i><i style="left:112.0px;width:1.1px;background:linear-gradient(#f8e71e 0.0px,#f7e71e 73.4px,#e0e415 76.4px,#c4e01e 77.4px,#a8dc31 78.4px,#93d741 78.9px,#5dc962 79.9px,#32b57a 80.9px,#24aa83 81.4px,#1f9e89 81.9px,#2d718e 83.9px,#365b8d 84.9px,#453782 87.9px,#482a79 88.9px,#482978 89.4px,#3c4f8a 93.4px,#2c748e 95.9px,#238a8d 99.4px,#1fa287 104.9px,#2eb37d 109.9px,#6fce58 120.9px,#8dd645 125.9px,#c9e11c 139.4px,#e2e415 146.3px,#f5e71d 157.3px,#f8e71e 190.3px)"></i><i style="left:113.0px;width:1.1px;background:linear-gradient(#f8e71e 0.0px,#f6e71d 72.9px,#dde315 75.9px,#c1e020 76.9px,#a4db34 77.9px,#57c766 79.4px,#2eb37d 80.4px,#22a785 80.9px,#1e9b8a 81.4px,#2e6e8e 83.4px,#375a8c 84.4px,#453581 87.4px,#482878 88.4px,#3f4989 92.4px,#33638d 94.4px,#2a788e 95.9px,#218f8d 99.9px,#20a486 104.9px,#33b67a 110.4px,#83d44b 123.4px,#c8e11c 138.9px,#e2e415 145.8px,#f5e71c 156.8px,#f8e71e 190.3px)"></i><i style="left:114.0px;width:1.1px;background:linear-gradient(#f8e71e 0.0px,#f5e71d 72.4px,#e2e415 74.9px,#cce11a 75.9px,#a1da37 77.4px,#6acd5b 78.4px,#3cbb75 79.4px,#2ab07f 79.9px,#20a486 80.4px,#228c8d 81.4px,#345f8d 83.4px,#443a83 86.4px,#482676 87.9px,#3e4a89 91.9px,#34608d 93.9px,#287c8e 95.9px,#1e9d89 102.4px,#28ae80 107.4px,#50c46a 114.9px,#8bd647 124.4px,#c8e11c 138.4px,#e1e415 145.3px,#f5e71c 156.3px,#f8e71e 181.3px,#f8e71e 190.3px)"></i><i style="left:115.0px;width:1.1px;background:linear-gradient(#f8e71e 0.0px,#f8e71e 71.4px,#e1e415 74.4px,#c8e11c 75.4px,#9ad93c 76.9px,#63cb5f 77.9px,#37b878 78.9px,#27ad81 79.4px,#1fa187 79.9px,#277f8e 81.4px,#365c8d 82.9px,#453882 85.9px,#482677 87.4px,#3e4a89 91.4px,#32648e 93.9px,#277f8e 95.9px,#1f9f88 102.4px,#2ab07f 107.4px,#62ca5f 117.4px,#8bd647 123.9px,#c8e01c 137.9px,#e1e415 144.8px,#f5e71d 156.3px,#f8e71e 190.3px)"></i><i style="left:116.0px;width:1.1px;background:linear-gradient(#f8e71e 0.0px,#f7e71e 70.9px,#e0e415 73.9px,#c4e01e 74.9px,#a8dc31 75.9px,#93d741 76.4px,#5dc962 77.4px,#32b57a 78.4px,#24aa83 78.9px,#1f9e89 79.4px,#2d718e 81.4px,#375b8d 82.4px,#453681 85.4px,#482878 86.4px,#482777 86.9px,#3e4b89 90.9px,#30698e 93.9px,#26828e 95.9px,#1fa088 101.9px,#2bb07e 106.9px,#62ca5f 116.9px,#8ad647 123.4px,#c7e01c 137.4px,#e0e415 144.3px,#f5e71d 155.8px,#f8e71e 190.3px)"></i><i style="left:117.0px;width:1.1px;background:linear-gradient(#f8e71e 0.0px,#f6e71d 70.4px,#dde315 73.4px,#c1e020 74.4px,#a4db34 75.4px,#57c766 76.9px,#2eb37d 77.9px,#22a785 78.4px,#1e9b8a 78.9px,#2e6e8e 80.9px,#37598c 81.9px,#463480 84.9px,#482677 85.9px,#453581 87.9px,#365d8d 92.4px,#25858e 95.9px,#1fa088 101.4px,#2bb17e 106.4px,#65cc5d 116.9px,#8ad547 122.9px,#c7e01d 136.9px,#e0e415 143.8px,#f5e71d 155.3px,#f8e71e 190.3px)"></i><i style="left:118.0px;width:1.1px;background:linear-gradient(#f8e71e 0.0px,#f5e71d 69.9px,#e2e415 72.4px,#cbe11a 73.4px,#a1da37 74.9px,#6acd5b 75.9px,#3cbb75 76.9px,#2ab07f 77.4px,#20a486 77.9px,#228c8d 78.9px,#355f8d 80.9px,#453882 83.9px,#482475 85.4px,#3f4889 89.4px,#2d718e 93.9px,#24888e 95.9px,#1fa088 100.9px,#2bb17e 105.9px,#65cc5d 116.4px,#8ad547 122.4px,#c7e01d 136.4px,#e1e415 143.8px,#f6e71d 155.3px,#f8e71e 190.3px)"></i><i style="left:119.0px;width:1.1px;background:linear-gradient(#f8e71e 0.0px,#f8e71e 68.9px,#e1e415 71.9px,#c8e11c 72.9px,#9ad93c 74.4px,#63cb5f 75.4px,#37b878 76.4px,#27ad81 76.9px,#1fa187 77.4px,#238a8d 78.4px,#365c8d 80.4px,#453681 83.4px,#482475 84.9px,#414487 88.4px,#2b758e 93.9px,#238b8d 95.9px,#1fa287 100.9px,#30b47c 106.4px,#75d054 118.4px,#8cd646 122.4px,#c6e01d 135.9px,#e0e415 143.3px,#f6e71d 154.8px,#f8e71e 190.3px)"></i><i style="left:120.0px;width:1.1px;background:linear-gradient(#f8e71e 0.0px,#f7e71e 68.4px,#e0e415 71.4px,#c5e01e 72.4px,#a9dc31 73.4px,#95d840 73.9px,#5ec962 74.9px,#33b67a 75.9px,#24ab82 76.4px,#1f9f88 76.9px,#2d718e 78.9px,#375a8c 79.9px,#453580 82.9px,#482777 83.9px,#482575 84.4px,#404587 87.9px,#287d8e 94.4px,#21918c 96.4px,#21a685 101.4px,#35b779 106.9px,#7fd34e 119.4px,#c6e01d 135.4px,#e0e415 142.8px,#f6e71d 154.8px,#f8e71e 190.3px)"></i><i style="left:121.0px;width:1.1px;background:linear-gradient(#f8e71e 0.0px,#f7e71e 67.9px,#dee415 70.9px,#c3e01f 71.9px,#a6db33 72.9px,#8fd744 73.4px,#5ac864 74.4px,#30b47c 75.4px,#23a884 75.9px,#1e9c89 76.4px,#2e6e8e 78.4px,#37598c 79.4px,#46337f 82.4px,#482676 83.4px,#482576 83.9px,#404588 87.4px,#297a8e 93.9px,#21908c 95.9px,#20a486 100.4px,#32b67a 105.9px,#7cd250 118.4px,#c5e01d 134.9px,#e0e415 142.4px,#f7e71e 154.8px,#f8e71e 190.3px)"></i><i style="left:122.0px;width:1.1px;background:linear-gradient(#f8e71e 0.0px,#f6e71d 67.4px,#e3e416 69.9px,#dce315 70.4px,#c0df21 71.4px,#a3db35 72.4px,#55c667 73.9px,#2db27d 74.9px,#21a685 75.4px,#1f9a8a 75.9px,#2f6c8e 77.9px,#38588c 78.9px,#453882 81.4px,#482475 82.9px,#3e4a89 87.4px,#287d8e 93.9px,#20938c 95.9px,#20a486 99.9px,#33b67a 105.4px,#7cd250 117.9px,#c3e01f 133.9px,#dee315 141.4px,#f6e71d 153.8px,#f8e71e 190.3px)"></i><i style="left:123.0px;width:1.1px;background:linear-gradient(#f8e71e 0.0px,#f5e71d 66.9px,#e2e415 69.4px,#cbe11a 70.4px,#a1da37 71.9px,#69cd5b 72.9px,#3cbb75 73.9px,#2ab07f 74.4px,#20a486 74.9px,#228c8d 75.9px,#355e8d 77.9px,#453781 80.9px,#482273 82.4px,#404688 86.4px,#287b8e 93.4px,#1f988b 96.4px,#25ab82 101.4px,#48c16e 108.9px,#88d548 119.9px,#c6e01d 134.4px,#e0e415 141.9px,#f8e71e 154.3px,#f8e71e 190.3px)"></i><i style="left:124.0px;width:1.1px;background:linear-gradient(#f8e71e 0.0px,#f8e71e 65.9px,#e1e415 68.9px,#c9e11c 69.9px,#9cd93a 71.4px,#65cb5e 72.4px,#38b977 73.4px,#27ad81 73.9px,#1fa287 74.4px,#238a8d 75.4px,#365b8d 77.4px,#453580 80.4px,#482273 81.9px,#414286 85.4px,#2d718e 91.4px,#26838e 93.9px,#1e9b8a 96.4px,#28ae80 101.9px,#5bc863 111.9px,#88d548 119.4px,#c6e01d 133.9px,#e0e415 141.4px,#f8e71e 153.8px,#f8e71e 190.3px)"></i><i style="left:125.0px;width:1.1px;background:linear-gradient(#f8e71e 0.0px,#f8e71e 65.4px,#e1e415 68.4px,#c6e01d 69.4px,#aadc30 70.4px,#97d83f 70.9px,#60ca61 71.9px,#34b779 72.9px,#25ab82 73.4px,#1fa088 73.9px,#287d8e 75.4px,#375a8c 76.9px,#46337f 79.9px,#482273 81.4px,#414287 84.9px,#2b748e 91.4px,#24868e 93.9px,#1f9e89 96.4px,#2ab07f 101.9px,#64cb5e 112.9px,#87d549 118.9px,#c5e01d 133.4px,#dfe415 140.9px,#f8e71e 153.8px,#f8e71e 190.3px)"></i><i style="left:126.0px;width:1.1px;background:linear-gradient(#f8e71e 0.0px,#f7e71e 64.9px,#dfe415 67.9px,#c4e01e 68.9px,#a7db32 69.9px,#91d742 70.4px,#5bc863 71.4px,#31b57b 72.4px,#23a983 72.9px,#1e9d89 73.4px,#2e6f8e 75.4px,#38588c 76.4px,#443982 78.9px,#482475 80.4px,#482273 80.9px,#414387 84.4px,#2b748e 90.9px,#23888e 93.9px,#1e9d89 95.9px,#2ab07f 101.4px,#64cb5e 112.4px,#87d549 118.4px,#c5e01e 132.9px,#dfe415 140.4px,#f8e71e 153.3px,#f8e71e 190.3px)"></i><i style="left:127.0px;width:1.1px;background:linear-gradient(#f8e71e 0.0px,#f6e71d 64.4px,#dde315 67.4px,#c1e020 68.4px,#a4db34 69.4px,#57c766 70.9px,#2eb37d 71.9px,#22a785 72.4px,#1e9b8a 72.9px,#2f6c8e 74.9px,#38578c 75.9px,#453781 78.4px,#482374 79.9px,#482878 80.9px,#3f4788 84.4px,#2c748e 90.4px,#228b8d 93.9px,#1f9f88 95.9px,#2cb17e 101.4px,#69cd5b 112.9px,#88d548 118.4px,#c4e01e 132.4px,#dee415 139.9px,#f8e71e 152.8px,#f8e71e 190.3px)"></i><i style="left:128.0px;width:1.1px;background:linear-gradient(#f8e71e 0.0px,#f6e71d 63.9px,#dde315 66.9px,#c1e020 67.9px,#a4db34 68.9px,#57c766 70.4px,#2db27d 71.4px,#22a785 71.9px,#1e9b8a 72.4px,#2f6c8e 74.4px,#38578c 75.4px,#453781 77.9px,#482273 79.4px,#482777 80.4px,#3f4788 83.9px,#2c738e 89.9px,#25848e 92.9px,#1fa088 95.9px,#2eb37d 101.4px,#6fcf58 113.4px,#8ad547 118.4px,#c5e01d 132.4px,#dfe415 139.9px,#f8e71e 152.8px,#f8e71e 190.3px)"></i><i style="left:129.0px;width:1.1px;background:linear-gradient(#f8e71e 0.0px,#f7e71e 63.4px,#dfe415 66.4px,#c3e01f 67.4px,#a7db32 68.4px,#91d742 68.9px,#5bc863 69.9px,#31b57b 70.9px,#23a983 71.4px,#1e9d89 71.9px,#2e6e8e 73.9px,#38588c 74.9px,#453882 77.4px,#482374 78.9px,#482172 79.4px,#414287 82.9px,#2d708e 88.9px,#26828e 92.4px,#1f9f88 95.4px,#2eb37d 100.9px,#6fce58 112.9px,#8ad547 117.9px,#c5e01e 131.9px,#dfe415 139.4px,#f8e71e 152.3px,#f8e71e 190.3px)"></i><i style="left:130.0px;width:1.1px;background:linear-gradient(#f8e71e 0.0px,#f8e71e 62.9px,#e1e415 65.9px,#c6e01d 66.9px,#aadc30 67.9px,#97d83f 68.4px,#60ca61 69.4px,#34b779 70.4px,#25ab82 70.9px,#1f9f88 71.4px,#287c8e 72.9px,#38598c 74.4px,#443882 76.9px,#482071 78.9px,#424186 82.4px,#2d708e 88.4px,#25838e 92.4px,#1fa088 95.4px,#32b57a 101.4px,#74d054 113.4px,#b1dd2b 126.4px,#d6e216 136.4px,#f2e61b 147.8px,#f8e71e 153.3px,#f8e71e 190.3px)"></i><i style="left:131.0px;width:1.1px;background:linear-gradient(#f8e71e 0.0px,#f8e71e 62.4px,#e1e415 65.4px,#c9e11c 66.4px,#9cd93b 67.9px,#65cb5e 68.9px,#38b977 69.9px,#27ad81 70.4px,#1fa287 70.9px,#238a8d 71.9px,#375a8c 73.9px,#443983 76.4px,#481f70 78.4px,#424086 81.9px,#2d708e 87.9px,#25858e 92.4px,#1f9e89 94.9px,#28ae80 98.4px,#5ec962 109.4px,#84d44b 115.9px,#c1e020 130.4px,#dde315 138.4px,#f8e71e 151.3px,#f8e71e 190.3px)"></i><i style="left:132.0px;width:1.1px;background:linear-gradient(#f8e71e 0.0px,#f5e71d 62.4px,#e2e415 64.9px,#cbe11a 65.9px,#a1da37 67.4px,#69cd5b 68.4px,#3bbb75 69.4px,#2ab07f 69.9px,#20a486 70.4px,#228c8d 71.4px,#365c8d 73.4px,#463380 76.4px,#481e70 77.9px,#423f85 81.4px,#2f6c8e 86.9px,#277f8e 90.4px,#24878e 92.4px,#1fa088 94.9px,#29af7f 98.4px,#64cb5e 109.9px,#85d44a 115.9px,#c1df20 129.9px,#dde315 137.9px,#f8e71e 150.8px,#f8e71e 190.3px)"></i><i style="left:133.0px;width:1.1px;background:linear-gradient(#f8e71e 0.0px,#f6e71d 61.9px,#e3e416 64.4px,#dce315 64.9px,#c0df21 65.9px,#a3db35 66.9px,#55c667 68.4px,#2cb27d 69.4px,#21a685 69.9px,#1f9a8a 70.4px,#2f6b8e 72.4px,#39568c 73.4px,#463480 75.9px,#481f71 77.4px,#47307d 79.4px,#3a548c 83.4px,#297b8e 88.9px,#25848e 91.9px,#1fa187 94.9px,#2bb07e 98.4px,#66cc5d 109.9px,#85d44a 115.4px,#c0df21 129.4px,#dce315 137.4px,#f8e71e 150.3px,#f8e71e 190.3px)"></i><i style="left:134.0px;width:1.1px;background:linear-gradient(#f8e71e 0.0px,#f7e71e 61.4px,#dee415 64.4px,#c3e01f 65.4px,#a6db33 66.4px,#8fd744 66.9px,#5ac864 67.9px,#30b47c 68.9px,#23a884 69.4px,#1e9c89 69.9px,#2e6d8e 71.9px,#39578c 72.9px,#453581 75.4px,#482071 76.9px,#482071 77.4px,#414287 80.9px,#2d718e 86.9px,#25838e 90.4px,#24868e 91.9px,#1f9e89 94.4px,#27ad81 96.9px,#5fca61 108.4px,#84d44b 114.9px,#bfdf21 128.9px,#dde315 137.4px,#f8e71e 149.8px,#f8e71e 190.3px)"></i><i style="left:135.0px;width:1.1px;background:linear-gradient(#f8e71e 0.0px,#f7e71e 60.9px,#e0e415 63.9px,#c5e01e 64.9px,#a9dc31 65.9px,#95d840 66.4px,#5ec962 67.4px,#33b67a 68.4px,#24ab82 68.9px,#1f9f88 69.4px,#2d6f8e 71.4px,#38578c 72.4px,#453681 74.9px,#482172 76.4px,#481e70 76.9px,#424186 80.4px,#2d718e 86.4px,#24868e 90.4px,#238a8d 92.4px,#1f9f88 94.4px,#28ae80 96.9px,#61ca60 108.4px,#83d44b 114.4px,#bcdf23 127.9px,#dbe315 136.4px,#f8e71e 149.3px,#f8e71e 190.3px)"></i><i style="left:136.0px;width:1.1px;background:linear-gradient(#f8e71e 0.0px,#f8e71e 60.4px,#e1e415 63.4px,#d6e216 63.9px,#abdc2f 65.4px,#9bd93b 65.9px,#66cc5d 66.9px,#3aba76 67.9px,#29af80 68.4px,#20a386 68.9px,#228c8d 69.9px,#365d8d 71.9px,#453580 74.9px,#482172 76.4px,#414387 79.9px,#2c728e 85.9px,#23898d 90.4px,#24888e 91.9px,#1fa287 94.4px,#2bb07e 96.9px,#67cc5c 108.9px,#87d549 114.9px,#bddf22 127.9px,#dce315 136.4px,#f7e71e 149.3px,#f8e71e 190.3px)"></i><i style="left:137.0px;width:1.1px;background:linear-gradient(#f8e71e 0.0px,#f6e71d 60.4px,#e2e415 62.9px,#dae315 63.4px,#bbdf24 64.4px,#9eda39 65.4px,#55c667 66.9px,#2eb37c 67.9px,#22a884 68.4px,#1e9d89 68.9px,#2d6f8e 70.9px,#375b8d 71.9px,#463480 74.9px,#482676 75.9px,#443b83 78.4px,#33628d 82.9px,#238b8d 89.4px,#228c8d 90.9px,#238a8d 91.9px,#1f9f88 93.9px,#2bb17e 96.4px,#6dce59 109.4px,#91d742 116.9px,#c4e01e 129.4px,#dfe415 137.4px,#f6e71d 148.8px,#f8e71e 190.3px)"></i><i style="left:138.0px;width:1.1px;background:linear-gradient(#f8e71e 0.0px,#f7e71e 59.9px,#dee315 62.9px,#cfe119 63.4px,#9fda39 64.9px,#58c765 66.4px,#33b67a 67.4px,#26ac82 67.9px,#1fa187 68.4px,#27808e 69.9px,#34608d 71.4px,#443a83 74.4px,#472c7b 75.4px,#472e7c 76.4px,#3a538b 80.4px,#297b8e 85.9px,#21908c 89.9px,#228b8d 91.9px,#1fa187 93.9px,#2eb37d 96.4px,#72cf56 109.9px,#b8de26 125.9px,#dae316 135.4px,#f6e71d 148.3px,#f8e71e 190.3px)"></i><i style="left:139.0px;width:1.1px;background:linear-gradient(#f8e71e 0.0px,#f8e71e 59.4px,#e0e415 62.4px,#d3e217 62.9px,#b1dd2b 63.9px,#8cd646 64.9px,#70cf57 65.4px,#47c06f 66.4px,#29af7f 67.4px,#21a586 67.9px,#21908d 68.9px,#32648e 70.9px,#423f85 73.9px,#472e7c 75.4px,#39558c 79.9px,#287c8e 85.4px,#20938c 89.9px,#228d8d 91.9px,#20a486 93.9px,#30b47b 96.4px,#75d054 109.9px,#b9de25 125.9px,#dae315 135.4px,#f5e71d 147.8px,#f8e71e 190.3px)"></i><i style="left:140.0px;width:1.1px;background:linear-gradient(#f8e71e 0.0px,#f5e71d 59.4px,#e2e415 61.9px,#d8e316 62.4px,#b6de27 63.4px,#92d742 64.4px,#72cf56 64.9px,#58c765 65.4px,#37b977 66.4px,#22a884 67.4px,#20948c 68.4px,#306a8e 70.4px,#433e85 73.9px,#46317e 74.9px,#424086 76.9px,#2e6e8e 82.4px,#1f958b 89.4px,#20928c 90.9px,#218f8d 91.9px,#21a685 93.9px,#33b67a 96.4px,#80d34d 111.9px,#bddf22 126.9px,#dbe315 135.4px,#f5e71c 147.8px,#f8e71e 190.3px)"></i><i style="left:141.0px;width:1.1px;background:linear-gradient(#f8e71e 0.0px,#f6e71d 58.9px,#dce315 61.9px,#cde119 62.4px,#aadc30 63.4px,#96d83f 63.9px,#59c765 64.9px,#43be71 65.4px,#2ab07f 66.4px,#1fa188 67.4px,#25848e 68.9px,#31678e 70.4px,#433d85 73.9px,#453781 74.4px,#433d84 75.9px,#31688e 80.9px,#24878e 85.9px,#1f988b 89.4px,#20948c 90.9px,#21908c 91.9px,#1fa287 93.4px,#33b67a 95.9px,#7ed34f 110.9px,#bedf22 126.9px,#dbe315 135.4px,#f4e71c 147.3px,#f8e71e 175.8px,#f8e71e 190.3px)"></i><i style="left:142.0px;width:1.1px;background:linear-gradient(#f8e71e 0.0px,#f7e71e 58.4px,#e0e415 61.4px,#d2e217 61.9px,#b0dd2b 62.9px,#9cd93a 63.4px,#81d34d 63.9px,#5dc962 64.4px,#42be71 64.9px,#31b57b 65.4px,#22a785 66.4px,#20928c 67.9px,#2f6c8e 69.9px,#414387 73.4px,#443983 74.4px,#3f4889 76.4px,#287c8e 82.9px,#1e9b8a 89.4px,#1f968b 90.9px,#20928c 91.9px,#20a486 93.4px,#36b878 95.9px,#80d34d 110.9px,#bedf22 126.4px,#dae315 134.9px,#f4e61c 146.8px,#f8e71e 168.3px,#f8e71e 190.3px)"></i><i style="left:143.0px;width:1.1px;background:linear-gradient(#f8e71e 0.0px,#f8e71e 57.9px,#e2e415 60.9px,#d7e316 61.4px,#b7de26 62.4px,#8ed644 63.4px,#68cd5c 63.9px,#48c16e 64.4px,#31b57b 64.9px,#25ab82 65.4px,#1f9e89 66.4px,#25848e 68.4px,#2f6a8e 69.9px,#433d84 73.9px,#404588 75.4px,#297a8e 81.9px,#1e9d89 89.4px,#1f988b 90.9px,#20948c 91.9px,#21a685 93.4px,#35b779 95.4px,#6ece58 106.9px,#b2dd2a 122.9px,#d7e316 133.4px,#f1e61a 144.3px,#f8e71e 160.3px,#f8e71e 190.3px)"></i><i style="left:144.0px;width:1.1px;background:linear-gradient(#f8e71e 0.0px,#f6e71d 57.9px,#e3e415 60.4px,#dbe315 60.9px,#bddf22 61.9px,#9ad93c 62.9px,#53c568 63.9px,#37b878 64.4px,#26ac81 64.9px,#1fa287 65.4px,#24878e 67.9px,#30698e 69.9px,#424186 73.4px,#414286 74.4px,#2d708e 79.9px,#23888e 83.9px,#1fa088 89.4px,#1f9a8a 90.9px,#1f968b 91.9px,#22a884 93.4px,#38b977 95.4px,#7bd250 108.9px,#bedf22 125.9px,#dbe315 134.9px,#f3e61b 146.3px,#f8e71e 162.3px,#f8e71e 190.3px)"></i><i style="left:145.0px;width:1.1px;background:linear-gradient(#f8e71e 0.0px,#f7e71e 57.4px,#dfe415 60.4px,#c3e01f 61.4px,#a2da36 62.4px,#86d44a 62.9px,#41bd72 63.9px,#29af7f 64.4px,#1fa287 64.9px,#20928c 65.9px,#23898e 67.4px,#30688e 69.9px,#404788 72.9px,#404588 73.9px,#29798e 80.4px,#1e9c89 87.4px,#1fa287 89.9px,#1f978b 91.9px,#20a387 92.9px,#36b878 94.9px,#47c06f 97.4px,#94d841 114.4px,#c9e11b 128.9px,#e2e415 137.4px,#f3e61b 146.3px,#f8e71e 161.3px,#f8e71e 190.3px)"></i><i style="left:146.0px;width:1.1px;background:linear-gradient(#f8e71e 0.0px,#f8e71e 56.9px,#e1e415 59.9px,#c7e01c 60.9px,#a9dc31 61.9px,#93d841 62.4px,#4ec36b 63.4px,#31b57b 63.9px,#21a685 64.4px,#218e8d 65.4px,#25848e 67.4px,#3f4889 72.9px,#3c4e8a 74.4px,#25848e 81.4px,#1fa088 87.9px,#20a586 89.9px,#1f9a8a 91.9px,#21a586 92.9px,#39b976 94.9px,#4ac26d 97.4px,#96d83f 114.4px,#cae11b 128.9px,#e3e416 137.9px,#f2e61b 146.3px,#f8e71e 160.3px,#f8e71e 190.3px)"></i><i style="left:147.0px;width:1.1px;background:linear-gradient(#f8e71e 0.0px,#f5e71d 56.9px,#e2e415 59.4px,#cbe11a 60.4px,#9eda39 61.9px,#5cc863 62.9px,#3dbb74 63.4px,#26ac82 63.9px,#1e9b8a 64.4px,#25848e 65.4px,#277f8e 67.4px,#3d4c8a 72.4px,#3e4b8a 73.4px,#26838e 80.4px,#1fa088 86.9px,#22a785 89.9px,#1e9d89 91.9px,#22a784 92.9px,#3cbb75 94.9px,#4bc26d 96.9px,#98d83e 114.4px,#cce11a 128.9px,#e4e416 137.9px,#f2e61b 145.8px,#f8e71e 158.8px,#f8e71e 190.3px)"></i><i style="left:148.0px;width:1.1px;background:linear-gradient(#f8e71e 0.0px,#f7e71d 56.4px,#dde315 59.4px,#c1e020 60.4px,#a4db34 61.4px,#8ad547 61.9px,#4ac26d 62.9px,#2fb37c 63.4px,#1fa287 63.9px,#25838e 64.9px,#297b8e 65.4px,#297b8e 67.4px,#365c8d 70.9px,#3c4f8a 72.4px,#3b528b 73.4px,#24888e 80.4px,#20a287 86.9px,#23a983 89.9px,#1f9f88 91.9px,#24aa83 92.9px,#3fbd73 94.9px,#4ec36b 96.9px,#9cd93b 114.9px,#cee119 129.4px,#e8e517 139.4px,#f4e61c 147.8px,#f8e71e 160.8px,#f8e71e 190.3px)"></i><i style="left:149.0px;width:1.1px;background:linear-gradient(#f8e71e 0.0px,#f8e71e 55.9px,#e1e415 58.9px,#c7e01d 59.9px,#aadc30 60.9px,#96d83f 61.4px,#59c765 62.4px,#3cbb75 62.9px,#25ab82 63.4px,#1f998a 63.9px,#297a8e 64.9px,#2c738e 65.4px,#2a778e 67.4px,#2f6b8e 69.4px,#3b528b 71.9px,#3a538b 72.9px,#23898e 79.9px,#1fa287 85.9px,#25ac82 89.9px,#1fa187 91.9px,#25ac82 92.9px,#42be71 94.9px,#53c568 97.4px,#a1da37 115.9px,#d1e218 129.9px,#e9e517 139.9px,#f8e71e 152.3px,#f8e71e 190.3px)"></i><i style="left:150.0px;width:1.1px;background:linear-gradient(#f8e71e 0.0px,#f5e71d 55.9px,#e2e415 58.4px,#cce11a 59.4px,#a1da37 60.9px,#49c16e 62.4px,#2fb47c 62.9px,#1fa287 63.4px,#218f8d 63.9px,#2d718e 64.9px,#2f6c8e 65.4px,#2b768e 67.4px,#2e6f8e 68.9px,#39568c 71.4px,#3a548c 72.4px,#238a8d 79.4px,#20a387 85.4px,#28ae80 89.9px,#20a486 91.9px,#28ae80 92.9px,#45bf70 94.9px,#56c666 97.4px,#a6db33 116.9px,#d2e218 129.9px,#ebe518 140.4px,#f8e71e 154.3px,#f8e71e 190.3px)"></i><i style="left:151.0px;width:1.1px;background:linear-gradient(#f8e71e 0.0px,#f7e71e 55.4px,#dee415 58.4px,#c3e01f 59.4px,#a6db33 60.4px,#8fd744 60.9px,#3bbb75 62.4px,#25ab82 62.9px,#1f998a 63.4px,#2b758e 64.4px,#30698e 64.9px,#32648e 65.4px,#2b748e 67.4px,#2e6f8e 68.9px,#38588c 71.4px,#39578c 71.9px,#218f8d 79.4px,#20a486 84.9px,#2ab07f 89.9px,#21a685 91.9px,#2ab07f 92.9px,#48c16e 94.9px,#59c765 97.4px,#aadc30 117.4px,#d3e217 129.9px,#ece518 140.9px,#f8e71e 154.3px,#f8e71e 190.3px)"></i><i style="left:152.0px;width:1.1px;background:linear-gradient(#f8e71e 0.0px,#f8e71e 54.9px,#e1e415 57.9px,#c8e01c 58.9px,#abdc2f 59.9px,#9ad93c 60.4px,#47c06f 61.9px,#2fb37c 62.4px,#20a386 62.9px,#21908c 63.4px,#2f6c8e 64.4px,#34618d 64.9px,#365d8d 65.4px,#31678e 66.4px,#2c748e 67.4px,#2e6e8e 68.9px,#375a8c 71.4px,#20928c 79.4px,#22a785 84.9px,#2db27d 89.9px,#23a884 91.9px,#2db27d 92.9px,#4bc26c 94.9px,#5cc863 97.4px,#addc2e 117.9px,#d4e217 129.9px,#ede518 140.9px,#f8e71e 153.8px,#f8e71e 190.3px)"></i><i style="left:153.0px;width:1.1px;background:linear-gradient(#f8e71e 0.0px,#f6e71d 54.9px,#e3e415 57.4px,#dae315 57.9px,#bfdf22 58.9px,#a2da36 59.9px,#51c469 61.4px,#25ac82 62.4px,#1e9b8a 62.9px,#2b748e 63.9px,#38588c 64.9px,#39558c 65.4px,#375a8c 65.9px,#2e6e8e 66.9px,#2c748e 67.9px,#355e8d 70.9px,#365d8d 71.4px,#20928c 78.4px,#21a685 83.9px,#2fb47c 89.9px,#25ab82 91.9px,#2fb47c 92.9px,#4fc36a 94.9px,#5fc961 97.4px,#afdd2d 117.9px,#d4e217 129.9px,#efe619 142.4px,#f8e71e 153.8px,#f8e71e 190.3px)"></i><i style="left:154.0px;width:1.1px;background:linear-gradient(#f8e71e 0.0px,#f7e71d 54.4px,#dee315 57.4px,#c2e01f 58.4px,#a6db33 59.4px,#8fd644 59.9px,#41bd72 61.4px,#2cb17e 61.9px,#1fa287 62.4px,#20918c 62.9px,#375a8c 64.4px,#3c4f8a 64.9px,#3d4c8a 65.4px,#3a538b 65.9px,#2f6c8e 66.9px,#2c738e 67.9px,#355f8d 70.9px,#1f968b 78.4px,#23a983 83.9px,#32b67a 89.9px,#27ad81 91.9px,#32b67a 92.9px,#52c569 94.9px,#62ca5f 97.4px,#aedd2d 117.4px,#d4e217 129.4px,#eee619 141.4px,#f8e71e 152.8px,#f8e71e 190.3px)"></i><i style="left:155.0px;width:1.1px;background:linear-gradient(#f8e71e 0.0px,#f6e71d 53.9px,#dde315 56.9px,#c1e020 57.9px,#a5db34 58.9px,#57c766 60.4px,#2cb27d 61.4px,#20a486 61.9px,#1f958c 62.4px,#365d8d 63.9px,#3e4b89 64.4px,#423f85 64.9px,#423f85 65.4px,#30698e 66.9px,#2d6f8e 67.4px,#2d6f8e 68.4px,#33628d 70.4px,#1f988b 77.9px,#24aa83 83.4px,#36b878 89.9px,#29af7f 91.9px,#35b778 92.9px,#55c667 94.9px,#65cb5e 97.4px,#b0dd2b 117.4px,#d5e217 129.4px,#efe619 141.9px,#f8e71e 152.8px,#f8e71e 190.3px)"></i><i style="left:156.0px;width:1.1px;background:linear-gradient(#f8e71e 0.0px,#f6e71d 53.4px,#e3e416 55.9px,#dce315 56.4px,#c0df21 57.4px,#a3db35 58.4px,#55c667 59.9px,#2cb17e 60.9px,#21a586 61.4px,#1f978b 61.9px,#32648e 63.4px,#443b84 64.4px,#46317e 64.9px,#463480 65.4px,#38578c 66.4px,#32668e 66.9px,#2e6d8e 67.4px,#2e6d8e 68.4px,#32658e 69.9px,#1f9a8a 77.4px,#25ac82 82.9px,#39b977 89.9px,#2cb17e 91.9px,#38b977 92.9px,#52c569 94.4px,#64cb5e 96.4px,#afdd2d 116.4px,#d3e217 128.4px,#ede619 140.4px,#f8e71e 151.8px,#f8e71e 190.3px)"></i><i style="left:157.0px;width:1.1px;background:linear-gradient(#f8e71e 0.0px,#f6e71d 52.9px,#e3e415 55.4px,#dbe315 55.9px,#bfdf21 56.9px,#a2da36 57.9px,#53c568 59.4px,#2bb17e 60.4px,#20a586 60.9px,#1f988b 61.4px,#2f6b8e 62.9px,#423f86 63.9px,#472c7b 64.4px,#482475 64.9px,#472b7a 65.4px,#3a528b 66.4px,#33628d 66.9px,#306a8e 67.4px,#30698e 68.9px,#31678e 69.4px,#1f998a 76.4px,#25ab82 81.9px,#3cbb75 89.9px,#2eb37c 91.9px,#3bbb75 92.9px,#55c667 94.4px,#67cc5d 96.4px,#b0dd2b 116.4px,#d4e217 128.4px,#efe619 141.4px,#f8e71e 151.3px,#f8e71e 190.3px)"></i><i style="left:158.0px;width:1.1px;background:linear-gradient(#f8e71e 0.0px,#f6e71d 52.4px,#e2e415 54.9px,#dae315 55.4px,#bedf22 56.4px,#a1da37 57.4px,#6acd5b 58.4px,#3cbb75 59.4px,#2ab07f 59.9px,#20a486 60.4px,#228b8d 61.4px,#2d718e 62.4px,#3f4889 63.4px,#46317e 63.9px,#482071 64.4px,#481a6c 64.9px,#482273 65.4px,#453681 65.9px,#3d4d8a 66.4px,#355e8d 66.9px,#31678e 67.4px,#30688e 68.9px,#1f9a8a 75.9px,#27ad81 81.9px,#3ebc73 89.9px,#30b47b 91.9px,#3ebc74 92.9px,#58c765 94.4px,#69cd5b 96.4px,#b0dd2c 115.9px,#d4e217 127.9px,#eee619 140.4px,#f8e71e 150.8px,#f8e71e 190.3px)"></i><i style="left:159.0px;width:1.1px;background:linear-gradient(#f8e71e 0.0px,#f5e71d 51.9px,#e2e415 54.4px,#cbe11b 55.4px,#a0da37 56.9px,#68cc5c 57.9px,#3aba76 58.9px,#29af7f 59.4px,#20a386 59.9px,#228c8d 60.9px,#32658e 62.4px,#3b528b 62.9px,#443b83 63.4px,#482575 63.9px,#481467 64.4px,#470f61 64.9px,#48186a 65.4px,#472e7c 65.9px,#3f4788 66.4px,#37598c 66.9px,#33638d 67.4px,#1f998a 74.9px,#26ac81 80.9px,#41bd72 89.9px,#32b67a 91.9px,#40bd73 92.9px,#5ac864 94.4px,#6bcd5a 96.4px,#afdd2c 115.4px,#d3e217 127.4px,#ede619 139.9px,#f8e71e 150.3px,#f8e71e 190.3px)"></i><i style="left:160.0px;width:1.1px;background:linear-gradient(#f8e71e 0.0px,#f8e71e 50.9px,#e2e415 53.9px,#cae11b 54.9px,#9eda39 56.4px,#66cc5d 57.4px,#39b977 58.4px,#28ae80 58.9px,#1fa287 59.4px,#228b8d 60.4px,#306a8e 61.9px,#404688 62.9px,#47307d 63.4px,#46085b 64.4px,#440255 64.9px,#470d60 65.4px,#482676 65.9px,#424186 66.4px,#39558c 66.9px,#31678e 67.9px,#287c8e 69.9px,#1e9d89 74.9px,#2ab07f 81.4px,#43be71 89.9px,#34b779 91.9px,#42be71 92.9px,#5cc863 94.4px,#6dce59 96.4px,#b1dd2b 115.4px,#d4e217 127.4px,#eee619 140.4px,#f8e71e 149.8px,#f8e71e 190.3px)"></i><i style="left:161.0px;width:1.1px;background:linear-gradient(#f8e71e 0.0px,#f8e71e 50.4px,#e1e415 53.4px,#c8e11c 54.4px,#9bd93b 55.9px,#64cb5e 56.9px,#37b977 57.9px,#27ad81 58.4px,#1fa187 58.9px,#26818e 60.4px,#355f8d 61.9px,#443c84 62.9px,#482676 63.4px,#470e61 63.9px,#440154 64.4px,#440255 65.4px,#481d6f 65.9px,#443b84 66.4px,#3b518b 66.9px,#2f6c8e 67.9px,#26818e 69.9px,#1f9e89 74.4px,#2bb07f 80.9px,#45c070 89.9px,#36b878 91.9px,#44bf70 92.9px,#5ec962 94.4px,#6fcf58 96.4px,#b0dd2b 114.9px,#d3e217 126.9px,#ede619 139.4px,#f8e71e 149.3px,#f8e71e 190.3px)"></i><i style="left:162.0px;width:1.1px;background:linear-gradient(#f8e71e 0.0px,#f8e71e 49.9px,#e1e415 52.9px,#c7e01c 53.9px,#abdc2f 54.9px,#99d93d 55.4px,#62ca5f 56.4px,#36b878 57.4px,#26ac81 57.9px,#1fa188 58.4px,#2a778e 60.4px,#3a548b 61.9px,#404588 62.4px,#46327f 62.9px,#481b6d 63.4px,#440255 63.9px,#440154 65.4px,#481567 65.9px,#453580 66.4px,#3b518b 66.9px,#31668e 67.4px,#29798e 68.4px,#1f998a 72.9px,#21a685 75.9px,#36b878 83.4px,#48c16e 89.9px,#3aba76 91.4px,#39b977 91.9px,#47c06f 92.9px,#61ca60 94.4px,#71cf56 96.4px,#b2dd2a 114.9px,#d4e217 126.9px,#eee619 139.9px,#f8e71e 148.8px,#f8e71e 190.3px)"></i><i style="left:163.0px;width:1.1px;background:linear-gradient(#f8e71e 0.0px,#f8e71e 49.4px,#e1e415 52.4px,#c6e01d 53.4px,#aadc30 54.4px,#97d83f 54.9px,#60ca61 55.9px,#34b779 56.9px,#25ab82 57.4px,#1fa088 57.9px,#2a778e 59.9px,#3e4c8a 61.9px,#433d84 62.4px,#482979 62.9px,#471063 63.4px,#440154 63.9px,#440154 65.4px,#460c5f 65.9px,#453581 66.4px,#38588c 66.9px,#2f6c8e 67.4px,#277e8e 68.4px,#1f9e89 72.9px,#27ad81 77.9px,#4ac16d 88.9px,#48c06e 90.4px,#3dbb74 91.4px,#3bbb75 91.9px,#49c16d 92.9px,#63cb5f 94.4px,#73d055 96.4px,#b1dd2b 114.4px,#d4e217 126.4px,#eee619 139.4px,#f8e71e 148.3px,#f8e71e 190.3px)"></i><i style="left:164.0px;width:1.1px;background:linear-gradient(#f8e71e 0.0px,#f7e71e 48.9px,#e0e415 51.9px,#c5e01d 52.9px,#a9dc31 53.9px,#95d840 54.4px,#5fc961 55.4px,#34b679 56.4px,#25ab82 56.9px,#1f9f88 57.4px,#2a778e 59.4px,#404587 61.9px,#453581 62.4px,#482172 62.9px,#45065a 63.4px,#440154 63.9px,#440154 65.4px,#470f62 65.9px,#423f85 66.4px,#34608d 66.9px,#2c738e 67.4px,#25858e 68.4px,#1fa088 72.4px,#2bb17e 78.4px,#4fc36b 89.4px,#4bc26c 90.4px,#40bd73 91.4px,#3fbc73 91.9px,#4dc36b 92.9px,#66cc5d 94.4px,#77d153 96.4px,#b5de28 114.9px,#d5e216 126.4px,#efe619 139.4px,#f8e71e 147.8px,#f8e71e 190.3px)"></i><i style="left:165.0px;width:1.1px;background:linear-gradient(#f8e71e 0.0px,#f7e71e 48.4px,#e0e415 51.4px,#c4e01e 52.4px,#a8dc31 53.4px,#93d741 53.9px,#5ec962 54.9px,#33b67a 55.9px,#24ab82 56.4px,#1f9f88 56.9px,#2a778e 58.9px,#3f4989 61.4px,#472e7c 62.4px,#48196b 62.9px,#440154 63.4px,#440154 65.4px,#481c6d 65.9px,#3f4889 66.4px,#31678e 66.9px,#29798e 67.4px,#238b8d 68.4px,#1fa187 71.9px,#32b57a 79.4px,#52c569 89.9px,#44bf70 91.4px,#42be71 91.9px,#51c469 92.9px,#6acd5b 94.4px,#7ad251 96.4px,#b7de27 114.9px,#d5e216 125.9px,#f0e61a 139.4px,#f8e71e 147.8px,#f8e71e 190.3px)"></i><i style="left:166.0px;width:1.1px;background:linear-gradient(#f8e71e 0.0px,#f7e71d 47.9px,#dfe415 50.9px,#c3e01f 51.9px,#a7db32 52.9px,#91d742 53.4px,#5cc963 54.4px,#32b67a 55.4px,#24aa83 55.9px,#1f9f88 56.4px,#2a768e 58.4px,#414387 61.4px,#453781 61.9px,#482777 62.4px,#471163 62.9px,#440154 63.4px,#440154 65.4px,#482677 65.9px,#3b518b 66.4px,#2e6e8e 66.9px,#27808e 67.4px,#21908c 68.4px,#21a685 71.9px,#39ba76 80.4px,#56c667 89.9px,#46c06f 91.9px,#54c667 92.9px,#6dce59 94.4px,#7dd24f 96.4px,#bbdf24 115.9px,#d8e316 126.4px,#f1e61a 139.4px,#f8e71e 147.8px,#f8e71e 190.3px)"></i><i style="left:167.0px;width:1.1px;background:linear-gradient(#f8e71e 0.0px,#f7e71d 47.5px,#dee415 50.4px,#c3e01f 51.4px,#a7db32 52.4px,#91d742 52.9px,#5dc962 53.9px,#33b67a 54.9px,#25ab82 55.4px,#1f9f88 55.9px,#2a778e 57.9px,#39558c 59.9px,#433d84 61.4px,#46317e 61.9px,#482172 62.4px,#460b5e 62.9px,#440154 63.4px,#440154 64.9px,#45065a 65.4px,#46327f 65.9px,#375a8c 66.4px,#2b758e 66.9px,#24868e 67.4px,#1f958b 68.4px,#24aa83 71.9px,#3ebc74 80.4px,#59c764 89.9px,#4ac16d 91.9px,#58c765 92.9px,#71cf57 94.4px,#80d34d 96.4px,#c5e01e 118.4px,#dfe415 128.9px,#f7e71e 143.3px,#f8e71e 190.3px)"></i><i style="left:168.0px;width:1.1px;background:linear-gradient(#f8e71e 0.0px,#f7e71e 47.0px,#dfe415 49.9px,#c4e01e 50.9px,#a9dc31 51.9px,#94d841 52.4px,#5fca61 53.4px,#35b779 54.4px,#26ac81 54.9px,#1fa188 55.4px,#2a788e 57.4px,#38578c 59.4px,#453882 61.4px,#481e6f 62.4px,#46095c 62.9px,#440154 63.4px,#440154 64.9px,#48196b 65.4px,#423f86 65.9px,#33638d 66.4px,#287c8e 66.9px,#228c8d 67.4px,#1f9a8a 68.4px,#26ac81 71.9px,#51c569 85.4px,#5dc962 89.9px,#4dc36b 91.9px,#5cc863 92.9px,#74d055 94.4px,#84d44b 96.4px,#cee119 120.9px,#e7e516 131.9px,#f8e71e 144.8px,#f8e71e 190.3px)"></i><i style="left:169.0px;width:1.1px;background:linear-gradient(#f8e71e 0.0px,#f7e71e 46.5px,#e0e415 49.4px,#c5e01d 50.4px,#aadc30 51.4px,#96d83f 51.9px,#4bc26d 53.4px,#27ad81 54.4px,#1fa287 54.9px,#25838e 56.4px,#38598c 58.9px,#433c84 60.9px,#482878 61.9px,#481a6c 62.4px,#46075a 62.9px,#440154 63.4px,#440154 64.4px,#470e61 64.9px,#482979 65.4px,#3e4b8a 65.9px,#2f6b8e 66.4px,#26828e 66.9px,#20918c 67.4px,#1f9f88 68.4px,#29af80 71.9px,#54c568 84.9px,#61ca60 89.9px,#51c469 91.9px,#5fca61 92.9px,#78d152 94.4px,#87d549 96.4px,#cee119 120.4px,#e7e516 131.4px,#f8e71e 144.3px,#f8e71e 190.3px)"></i><i style="left:170.0px;width:1.1px;background:linear-gradient(#f8e71e 0.0px,#f7e71e 46.0px,#e1e415 48.9px,#c6e01d 49.9px,#abdc2f 50.9px,#98d83e 51.4px,#4dc36b 52.9px,#29af80 53.9px,#20a386 54.4px,#218e8d 55.4px,#34608d 57.9px,#423f85 60.4px,#482475 61.9px,#470e61 62.9px,#460b5e 63.9px,#471164 64.4px,#482071 64.9px,#453882 65.4px,#39568c 65.9px,#2c738e 66.4px,#23888e 66.9px,#1f968b 67.4px,#20a387 68.4px,#2ab07f 71.4px,#56c666 84.4px,#64cb5e 89.9px,#55c667 91.9px,#63cb5f 92.9px,#7bd250 94.4px,#8ad547 96.4px,#cee119 119.9px,#e7e516 130.9px,#f8e71e 143.3px,#f8e71e 190.3px)"></i><i style="left:171.0px;width:1.1px;background:linear-gradient(#f8e71e 0.0px,#f7e71e 45.5px,#e1e415 48.4px,#c7e01c 49.4px,#acdc2f 50.4px,#9ad93c 50.9px,#4fc46a 52.4px,#2ab07f 53.4px,#20a586 53.9px,#218f8d 54.9px,#33628d 57.4px,#443a83 60.4px,#481b6d 62.4px,#481d6f 63.9px,#482374 64.4px,#47307d 64.9px,#404588 65.4px,#297a8e 66.4px,#218e8d 66.9px,#1e9b8a 67.4px,#24aa83 68.9px,#39b976 74.9px,#5dc963 85.4px,#68cc5c 89.9px,#59c765 91.9px,#67cc5d 92.9px,#7ed34e 94.4px,#8dd645 96.4px,#cfe218 119.9px,#e9e517 130.9px,#f8e71e 142.8px,#f8e71e 190.3px)"></i><i style="left:172.0px;width:1.1px;background:linear-gradient(#f8e71e 0.0px,#f7e71e 45.0px,#e1e415 47.9px,#c8e11c 48.9px,#9cd93a 50.4px,#51c569 51.9px,#2cb17e 52.9px,#21a685 53.4px,#21918c 54.4px,#32648d 56.9px,#433d84 59.9px,#482273 61.9px,#472c7b 63.9px,#46337f 64.4px,#433f85 64.9px,#30698e 65.9px,#20938c 66.9px,#1f9f88 67.4px,#28ae80 68.9px,#56c666 81.9px,#6ccd5a 89.9px,#5cc963 91.9px,#6acd5b 92.9px,#81d34c 94.4px,#90d743 96.4px,#d0e218 119.4px,#e9e517 130.4px,#f8e71e 142.4px,#f8e71e 190.3px)"></i><i style="left:173.0px;width:1.1px;background:linear-gradient(#f8e71e 0.0px,#f7e71e 44.5px,#e1e415 47.5px,#c9e11b 48.4px,#9eda39 49.9px,#6bcd5a 50.9px,#3fbd73 51.9px,#2db27d 52.4px,#22a784 52.9px,#1e9c89 53.4px,#2e6d8e 55.9px,#423f85 59.4px,#482676 61.4px,#424186 64.4px,#365c8d 65.4px,#1f988b 66.9px,#24ab82 67.9px,#30b47b 69.9px,#5ec962 83.4px,#6fce58 89.9px,#60ca61 91.9px,#6ece58 92.9px,#85d44a 94.4px,#92d742 96.4px,#d0e218 118.9px,#e9e517 129.9px,#f8e71e 141.4px,#f8e71e 190.3px)"></i><i style="left:174.0px;width:1.1px;background:linear-gradient(#f8e71e 0.0px,#f7e71e 44.0px,#e2e415 47.0px,#cae11b 47.9px,#a0da37 49.4px,#6dce59 50.4px,#2fb47c 51.9px,#23a984 52.4px,#1f9e89 52.9px,#2e6f8e 55.4px,#424286 58.9px,#482978 60.9px,#3c4e8a 64.4px,#32668e 65.4px,#228c8d 66.4px,#1e9d89 66.9px,#28ae80 67.9px,#35b778 70.4px,#5ec962 81.9px,#73cf56 89.9px,#64cb5e 91.9px,#71cf56 92.9px,#88d548 94.4px,#95d840 96.4px,#d0e218 118.4px,#e9e517 129.4px,#f8e71e 140.9px,#f8e71e 190.3px)"></i><i style="left:175.0px;width:1.1px;background:linear-gradient(#f8e71e 0.0px,#f7e71e 43.5px,#e2e415 46.5px,#cbe11a 47.5px,#a2db36 48.9px,#6fcf58 49.9px,#31b57b 51.4px,#24aa83 51.9px,#1f9f88 52.4px,#2a788e 54.4px,#39578c 56.9px,#453781 59.4px,#472b7a 60.4px,#3d4d8a 63.4px,#33628d 64.9px,#277f8e 65.9px,#20928c 66.4px,#1fa187 66.9px,#2db27d 67.9px,#3fbc73 71.9px,#60ca61 81.4px,#76d053 89.9px,#67cc5c 91.9px,#75d054 92.9px,#8bd647 94.4px,#98d83e 96.4px,#d1e218 118.4px,#ebe518 129.9px,#f8e71e 140.4px,#f8e71e 190.3px)"></i><i style="left:176.0px;width:1.1px;background:linear-gradient(#f8e71e 0.0px,#f7e71e 43.0px,#e2e415 46.0px,#cce11a 47.0px,#a4db34 48.4px,#71cf56 49.4px,#33b67a 50.9px,#25ab82 51.4px,#1fa088 51.9px,#29798e 53.9px,#38588c 56.4px,#46337f 59.4px,#472d7b 59.9px,#3d4d8a 62.9px,#31678e 64.9px,#25838e 65.9px,#1f958b 66.4px,#21a586 66.9px,#30b47b 67.9px,#41be72 71.4px,#62cb5f 80.9px,#79d151 89.9px,#6bcd5a 91.9px,#78d152 92.9px,#8ed645 94.4px,#9ad93c 96.4px,#d2e218 117.9px,#ebe518 129.4px,#f7e71e 139.4px,#f8e71e 190.3px)"></i><i style="left:177.0px;width:1.1px;background:linear-gradient(#f8e71e 0.0px,#f7e71e 42.5px,#e2e415 45.5px,#cde119 46.5px,#a5db33 47.9px,#5dc963 49.4px,#35b779 50.4px,#26ad81 50.9px,#1fa287 51.4px,#25848e 52.9px,#32658e 54.9px,#443c84 58.4px,#472f7d 59.4px,#3a538b 62.9px,#2f6b8e 64.9px,#24878e 65.9px,#1f998a 66.4px,#23a884 66.9px,#34b779 67.9px,#44bf71 70.9px,#65cb5e 80.4px,#7dd24f 89.9px,#6fce58 91.9px,#7bd250 92.9px,#91d743 94.4px,#9fda39 96.9px,#d3e217 117.9px,#ece518 129.4px,#f7e71e 138.9px,#f8e71e 190.3px)"></i><i style="left:178.0px;width:1.1px;background:linear-gradient(#f8e71e 0.0px,#f7e71e 42.0px,#e3e415 45.0px,#dbe315 45.5px,#c1e020 46.5px,#a6db33 47.5px,#5fc961 48.9px,#37b878 49.9px,#28ae80 50.4px,#20a386 50.9px,#218f8d 51.9px,#2e6d8e 53.9px,#433e85 57.9px,#46317e 58.9px,#3a548c 62.4px,#31688e 64.4px,#297b8e 65.4px,#1e9d89 66.4px,#25ab82 66.9px,#38b977 67.9px,#46c06f 70.4px,#66cc5d 79.4px,#80d34d 89.9px,#72cf56 91.9px,#7fd34e 92.9px,#93d741 94.4px,#a1da37 96.9px,#d4e217 117.9px,#eee619 129.9px,#f8e71e 139.4px,#f8e71e 190.3px)"></i><i style="left:179.0px;width:1.1px;background:linear-gradient(#f8e71e 0.0px,#f7e71e 41.5px,#e3e415 44.5px,#dce315 45.0px,#c2e01f 46.0px,#a8db32 47.0px,#61ca60 48.4px,#39b977 49.4px,#29af7f 49.9px,#20a486 50.4px,#21908c 51.4px,#2e6e8e 53.4px,#424186 57.4px,#463480 58.4px,#375a8c 62.4px,#2f6c8e 64.4px,#277f8e 65.4px,#1f9f88 66.4px,#27ad81 66.9px,#3cbb75 67.9px,#4bc26d 70.4px,#6acd5b 79.4px,#83d44b 89.9px,#75d054 91.9px,#82d44c 92.9px,#96d83f 94.4px,#a3db35 96.9px,#d5e217 117.4px,#eee619 129.4px,#f8e71e 138.4px,#f8e71e 190.3px)"></i><i style="left:180.0px;width:1.1px;background:linear-gradient(#f8e71e 0.0px,#f5e71d 41.5px,#dde315 44.5px,#c3e01f 45.5px,#a9dc31 46.5px,#63cb5f 47.9px,#3bba75 48.9px,#2bb07e 49.4px,#21a685 49.9px,#20928c 50.9px,#2d6f8e 52.9px,#414387 56.9px,#453781 57.9px,#355f8d 62.4px,#2a778e 64.9px,#20918c 65.9px,#1fa287 66.4px,#2ab07f 66.9px,#40bd73 67.9px,#4dc36b 69.9px,#6bcd5a 78.4px,#86d549 89.9px,#79d152 91.9px,#85d44a 92.9px,#99d93d 94.4px,#a6db33 96.9px,#d6e216 117.4px,#f0e61a 129.9px,#f8e71e 139.9px,#f8e71e 190.3px)"></i><i style="left:181.0px;width:1.1px;background:linear-gradient(#f8e71e 0.0px,#f5e71d 41.0px,#dee315 44.0px,#c4e01e 45.0px,#aadc30 46.0px,#65cc5d 47.5px,#2cb27e 48.9px,#22a784 49.4px,#20938c 50.4px,#2d718e 52.4px,#424086 56.9px,#443a83 57.4px,#33638d 62.4px,#2b748e 64.4px,#25858e 65.4px,#20938c 65.9px,#20a486 66.4px,#2db27d 66.9px,#44bf70 67.9px,#52c569 69.9px,#6fce58 78.4px,#8ad547 89.9px,#7cd250 91.9px,#88d548 92.9px,#9bd93b 94.4px,#a8dc32 96.9px,#d6e216 116.9px,#f0e61a 129.4px,#f8e71e 138.9px,#f8e71e 190.3px)"></i><i style="left:182.0px;width:1.1px;background:linear-gradient(#f8e71e 0.0px,#f5e71d 40.5px,#dee415 43.5px,#c5e01e 44.5px,#abdc2f 45.5px,#7fd34e 46.5px,#3fbd73 47.9px,#2eb37d 48.4px,#23a884 48.9px,#1f9e89 49.4px,#2a788e 51.4px,#3f4889 55.9px,#433c84 56.9px,#3c508b 59.4px,#2a778e 64.4px,#24878e 65.4px,#1f958b 65.9px,#21a685 66.4px,#2fb37c 66.9px,#3dbc74 67.4px,#4cc36c 68.4px,#68cc5c 74.9px,#8bd646 89.9px,#7ed34f 91.9px,#9dd93a 94.4px,#a9dc31 96.9px,#d7e316 116.9px,#f2e61b 129.9px,#f8e71e 142.8px,#f8e71e 190.3px)"></i><i style="left:183.0px;width:1.1px;background:linear-gradient(#f8e71e 0.0px,#f6e71d 40.0px,#dfe415 43.0px,#c6e01d 44.0px,#acdc2e 45.0px,#99d93d 45.5px,#55c667 47.0px,#30b47c 47.9px,#24aa83 48.4px,#1f9f88 48.9px,#29798e 50.9px,#404587 55.9px,#423f85 56.4px,#414487 57.4px,#2b768e 63.9px,#27808e 64.9px,#1f978b 65.9px,#22a784 66.4px,#31b57b 66.9px,#40bd73 67.4px,#4fc46a 68.4px,#68cd5c 74.4px,#8dd645 89.9px,#80d34d 91.9px,#9eda39 94.4px,#aadc30 96.9px,#d7e316 116.4px,#f1e61a 128.9px,#f8e71e 139.4px,#f8e71e 190.3px)"></i><i style="left:184.0px;width:1.1px;background:linear-gradient(#f8e71e 0.0px,#f6e71d 39.5px,#e0e415 42.5px,#c7e01d 43.5px,#addc2e 44.5px,#9bd93b 45.0px,#57c766 46.5px,#32b57b 47.5px,#25ab82 47.9px,#1fa188 48.4px,#25848e 49.9px,#2e6f8e 51.4px,#424286 55.9px,#404688 56.9px,#2b758e 63.4px,#26828e 64.9px,#1f998a 65.9px,#23a983 66.4px,#33b67a 66.9px,#43be71 67.4px,#52c568 68.4px,#69cd5b 73.9px,#8fd644 89.9px,#81d34c 91.9px,#9fda38 94.4px,#acdc2e 97.4px,#d8e316 116.4px,#f3e61b 129.4px,#f8e71e 144.3px,#f8e71e 190.3px)"></i><i style="left:185.0px;width:1.1px;background:linear-gradient(#f8e71e 0.0px,#f6e71d 39.0px,#e0e415 42.0px,#c8e11c 43.0px,#aedd2d 44.0px,#9dd93a 44.5px,#59c765 46.0px,#33b679 47.0px,#26ac81 47.5px,#1fa287 47.9px,#25858e 49.4px,#2b768e 50.4px,#414487 55.4px,#3f4888 56.4px,#2b768e 62.9px,#25848e 64.9px,#1e9b8a 65.9px,#24ab82 66.4px,#36b878 66.9px,#45c070 67.4px,#55c667 68.4px,#6acd5a 73.4px,#90d743 89.9px,#83d44b 91.9px,#a1da37 94.4px,#addc2d 97.4px,#d8e316 115.9px,#f3e61b 128.9px,#f8e71e 144.3px,#f8e71e 190.3px)"></i><i style="left:186.0px;width:1.1px;background:linear-gradient(#f8e71e 0.0px,#f6e71d 38.5px,#e1e415 41.5px,#c9e11b 42.5px,#b0dd2c 43.5px,#a0da38 44.0px,#5cc863 45.5px,#36b878 46.5px,#28ae80 47.0px,#20a486 47.5px,#21908c 48.4px,#2a778e 49.9px,#404788 54.9px,#404588 55.4px,#2c738e 61.9px,#24868e 64.9px,#1e9d89 65.9px,#26ac81 66.4px,#38b977 66.9px,#48c16e 67.4px,#58c765 68.4px,#6acd5b 72.4px,#92d742 89.9px,#85d44a 91.9px,#a2da36 94.4px,#aedd2d 97.4px,#d9e316 115.9px,#f4e71c 128.9px,#f8e71e 151.3px,#f8e71e 190.3px)"></i><i style="left:187.0px;width:1.1px;background:linear-gradient(#f8e71e 0.0px,#f6e71d 38.0px,#e1e415 41.0px,#cbe11b 42.0px,#a2da36 43.5px,#5fc961 45.0px,#38b977 46.0px,#2aaf7f 46.5px,#21a585 47.0px,#20928c 47.9px,#2a798e 49.4px,#3f4788 54.9px,#2c738e 61.4px,#26838e 64.4px,#20918c 65.4px,#1f9e89 65.9px,#28ae80 66.4px,#4bc26d 67.4px,#5bc863 68.4px,#6cce59 72.4px,#93d741 89.9px,#86d549 91.9px,#a3db35 94.4px,#afdd2c 97.4px,#d9e316 115.4px,#f4e71c 128.4px,#f8e71e 151.8px,#f8e71e 190.3px)"></i><i style="left:188.0px;width:1.1px;background:linear-gradient(#f8e71e 0.0px,#f6e71d 37.5px,#e2e415 40.5px,#cce11a 41.5px,#a5db34 43.0px,#61ca60 44.5px,#2cb17e 46.0px,#22a785 46.5px,#20948c 47.5px,#297a8e 48.9px,#3f4989 54.4px,#2a768e 61.4px,#25858e 64.4px,#20938c 65.4px,#1fa088 65.9px,#29af7f 66.4px,#4ec36b 67.4px,#5ec962 68.4px,#6dce59 71.9px,#95d840 89.9px,#88d548 91.9px,#a4db34 94.4px,#b0dd2b 97.4px,#d8e316 114.9px,#f3e61c 127.4px,#f8e71e 143.8px,#f8e71e 190.3px)"></i><i style="left:189.0px;width:1.1px;background:linear-gradient(#f8e71e 0.0px,#f7e71d 37.0px,#e2e415 40.0px,#cde119 41.0px,#a7db32 42.5px,#64cb5e 44.0px,#2eb37d 45.5px,#23a984 46.0px,#1f958b 47.0px,#287b8e 48.4px,#3e4a89 53.9px,#2a778e 60.9px,#24878e 64.4px,#1f958b 65.4px,#1fa287 65.9px,#2bb17e 66.4px,#51c469 67.4px,#61ca60 68.4px,#6fcf58 71.9px,#96d83f 89.9px,#89d547 91.9px,#a5db34 94.4px,#b1dd2b 97.4px,#d9e316 114.9px,#f5e71d 127.9px,#f8e71e 190.3px)"></i><i style="left:190.0px;width:1.1px;background:linear-gradient(#f8e71e 0.0px,#f7e71e 36.5px,#e2e415 39.5px,#cfe119 40.5px,#a9dc31 42.0px,#67cc5c 43.5px,#30b47b 45.0px,#24aa83 45.5px,#1fa188 46.0px,#287d8e 47.9px,#3d4c8a 53.4px,#29798e 60.9px,#23898e 64.4px,#1f978b 65.4px,#20a486 65.9px,#2db27d 66.4px,#54c568 67.4px,#64cb5e 68.4px,#74d055 72.9px,#97d83e 89.9px,#8bd646 91.9px,#a6db33 94.4px,#b2dd2a 97.4px,#d9e316 114.4px,#f4e71c 126.9px,#f8e71e 154.3px,#f8e71e 190.3px)"></i><i style="left:191.0px;width:1.1px;background:linear-gradient(#f8e71e 0.0px,#f7e71e 36.0px,#e3e415 39.0px,#dce315 39.5px,#c4e01e 40.5px,#abdc30 41.5px,#6acd5b 43.0px,#32b67a 44.5px,#26ac82 45.0px,#1fa287 45.5px,#24858e 47.0px,#2b758e 48.4px,#3c4f8a 52.9px,#287c8e 60.9px,#228b8d 64.4px,#1f998a 65.4px,#21a585 65.9px,#2fb47c 66.4px,#56c666 67.4px,#67cc5d 68.4px,#78d152 73.9px,#98d93d 89.9px,#8cd646 91.9px,#a7db32 94.4px,#b3dd2a 97.4px,#d9e316 113.9px,#f4e71c 126.4px,#f8e71e 154.3px,#f8e71e 190.3px)"></i><i style="left:192.0px;width:1.1px;background:linear-gradient(#f8e71e 0.0px,#f7e71e 35.5px,#dde315 39.0px,#c5e01e 40.0px,#acdc2e 41.0px,#59c764 43.0px,#35b779 44.0px,#27ae80 44.5px,#20a486 45.0px,#20918c 46.0px,#277f8e 47.0px,#3b528b 52.4px,#277e8e 60.9px,#228d8d 64.4px,#1f9a8a 65.4px,#22a785 65.9px,#32b57a 66.4px,#59c764 67.4px,#69cd5b 68.4px,#79d152 73.4px,#9ad93c 89.9px,#8dd645 91.9px,#a8dc31 94.4px,#b3dd29 97.4px,#dae315 113.9px,#f5e71d 126.4px,#f8e71e 190.3px)"></i><i style="left:193.0px;width:1.1px;background:linear-gradient(#f8e71e 0.0px,#f8e71e 35.0px,#dee415 38.5px,#c6e01d 39.5px,#aedc2d 40.5px,#5cc863 42.5px,#37b977 43.5px,#29af7f 44.0px,#21a585 44.5px,#20928c 45.5px,#27808e 46.5px,#3a548c 51.9px,#277e8e 60.4px,#218f8d 64.4px,#1e9c89 65.4px,#23a984 65.9px,#34b779 66.4px,#4bc26d 66.9px,#5cc963 67.4px,#6ccd5a 68.4px,#7bd250 73.4px,#9bd93b 89.9px,#8fd744 91.9px,#a9dc31 94.4px,#b4de29 97.4px,#dae315 113.4px,#f5e71d 125.9px,#f8e71e 190.3px)"></i><i style="left:194.0px;width:1.1px;background:linear-gradient(#f8e71e 0.0px,#f8e71e 34.5px,#e0e415 38.0px,#c8e11c 39.0px,#afdd2c 40.0px,#88d548 41.0px,#3aba76 43.0px,#2bb17e 43.5px,#22a784 44.0px,#20948c 45.0px,#26818e 46.0px,#39578c 51.4px,#33628d 53.9px,#27808e 60.4px,#20918c 64.4px,#1f9e89 65.4px,#24aa83 65.9px,#4ec36b 66.9px,#5fc961 67.4px,#6ece58 68.4px,#7dd24f 73.4px,#9cd93b 89.9px,#90d743 91.9px,#addc2e 94.9px,#d6e216 111.4px,#efe619 122.4px,#f7e71e 127.9px,#f8e71e 190.3px)"></i><i style="left:195.0px;width:1.1px;background:linear-gradient(#f8e71e 0.0px,#f5e71d 34.5px,#e0e415 37.5px,#c9e11b 38.5px,#b1dd2b 39.5px,#a0da37 40.0px,#62ca60 41.5px,#2db27d 43.0px,#23a984 43.5px,#1f968b 44.5px,#26828e 45.5px,#37598c 50.9px,#355e8d 52.4px,#26818e 59.9px,#20938c 64.4px,#1fa088 65.4px,#26ac82 65.9px,#50c46a 66.9px,#61ca60 67.4px,#70cf57 68.4px,#7dd24f 72.9px,#9dd93a 89.9px,#92d742 91.9px,#aedd2d 94.9px,#d6e216 110.9px,#efe619 121.9px,#f7e71e 127.4px,#f8e71e 190.3px)"></i><i style="left:196.0px;width:1.1px;background:linear-gradient(#f8e71e 0.0px,#f5e71d 34.0px,#e1e415 37.0px,#cae11b 38.0px,#a3db35 39.5px,#64cb5e 41.0px,#2fb47c 42.5px,#24aa83 43.0px,#1fa187 43.5px,#25848e 45.0px,#375a8c 50.9px,#277f8e 58.9px,#1f958c 64.4px,#1fa287 65.4px,#27ae80 65.9px,#52c568 66.9px,#63cb5f 67.4px,#72cf56 68.4px,#7fd34e 72.9px,#9eda39 89.9px,#94d841 91.9px,#afdd2c 94.9px,#d7e316 110.9px,#f1e61a 122.4px,#f7e71e 127.4px,#f8e71e 190.3px)"></i><i style="left:197.0px;width:1.1px;background:linear-gradient(#f8e71e 0.0px,#f6e71d 33.5px,#e1e415 36.5px,#cce11a 37.5px,#a6db33 39.0px,#67cc5c 40.5px,#32b57a 42.0px,#26ac82 42.5px,#20a387 43.0px,#218f8d 44.0px,#26818e 45.0px,#365b8d 50.4px,#26818e 58.9px,#1f978b 64.4px,#20a386 65.4px,#29af7f 65.9px,#55c667 66.9px,#66cc5d 67.4px,#75d054 68.4px,#81d34d 72.9px,#9fda38 89.9px,#95d840 91.9px,#b0dd2c 94.9px,#d6e216 110.4px,#f0e61a 121.4px,#f8e71e 126.4px,#f8e71e 190.3px)"></i><i style="left:198.0px;width:1.1px;background:linear-gradient(#f8e71e 0.0px,#f6e71d 33.0px,#e2e415 36.0px,#cde119 37.0px,#a8dc31 38.5px,#6acd5b 40.0px,#34b779 41.5px,#28ae80 42.0px,#20a486 42.5px,#20918c 43.5px,#26828e 44.5px,#365d8d 49.9px,#25838e 58.9px,#1f988b 64.4px,#21a585 65.4px,#2bb07f 65.9px,#57c766 66.9px,#68cc5c 67.4px,#77d153 68.4px,#84d44a 73.9px,#a0da37 89.9px,#97d83f 91.9px,#b0dd2b 94.9px,#d6e216 109.9px,#f0e61a 120.9px,#f8e71e 125.9px,#f8e71e 190.3px)"></i><i style="left:199.0px;width:1.1px;background:linear-gradient(#f8e71e 0.0px,#f7e71e 32.5px,#e3e415 35.5px,#dce315 36.0px,#c5e01e 37.0px,#addc2e 38.0px,#70cf57 39.5px,#3aba76 41.0px,#22a884 42.0px,#1f958b 43.0px,#25848e 44.0px,#34608d 49.4px,#24878e 59.4px,#1e9b8a 64.4px,#22a785 65.4px,#2cb27e 65.9px,#59c765 66.9px,#6acd5b 67.4px,#79d152 68.4px,#8dd645 77.4px,#a2da36 89.9px,#99d93d 91.9px,#b2dd2a 94.9px,#d6e216 109.4px,#efe61a 120.4px,#f8e71e 125.9px,#f8e71e 190.3px)"></i><i style="left:200.0px;width:1.1px;background:linear-gradient(#f8e71e 0.0px,#f8e71e 32.0px,#dfe415 35.5px,#c8e11c 36.5px,#b0dd2b 37.5px,#8bd646 38.5px,#3fbd73 40.5px,#25ab82 41.5px,#1f998a 42.5px,#24878e 43.5px,#33628d 48.9px,#21908c 61.4px,#1e9d89 64.4px,#23a884 65.4px,#2eb37c 65.9px,#5cc863 66.9px,#6dce59 67.4px,#7bd250 68.4px,#9dd93a 84.9px,#a4db34 89.9px,#9cd93b 91.9px,#b6de27 95.4px,#d9e316 109.9px,#f4e61c 121.9px,#f8e71e 127.4px,#f8e71e 190.3px)"></i><i style="left:201.0px;width:1.1px;background:linear-gradient(#f8e71e 0.0px,#f5e71d 32.0px,#e1e415 35.0px,#cce11a 36.0px,#a6db33 37.5px,#6acd5b 39.0px,#35b779 40.5px,#21a685 41.5px,#20938c 42.5px,#24858e 43.5px,#32648e 48.9px,#23898d 58.4px,#1f9f88 64.4px,#24aa83 65.4px,#30b47b 65.9px,#5ec962 66.9px,#6fce58 67.4px,#7dd24f 68.4px,#a2da36 86.9px,#a4db34 90.4px,#9eda39 91.9px,#b7de26 95.4px,#d9e316 109.4px,#f3e61c 121.4px,#f8e71e 126.9px,#f8e71e 190.3px)"></i><i style="left:202.0px;width:1.1px;background:linear-gradient(#f8e71e 0.0px,#f6e71d 31.5px,#e2e415 34.5px,#cfe219 35.5px,#acdc2f 37.0px,#70cf57 38.5px,#3aba76 40.0px,#23a983 41.0px,#1f978b 42.0px,#24888e 43.0px,#32658e 48.4px,#238a8d 57.9px,#1fa088 64.4px,#25ab82 65.4px,#32b57a 65.9px,#60ca60 66.9px,#71cf56 67.4px,#7fd34e 68.4px,#a4db35 86.9px,#a6db33 90.4px,#a1da37 91.9px,#b9de25 95.4px,#dae315 109.4px,#f5e71d 121.9px,#f8e71e 164.8px,#f8e71e 190.3px)"></i><i style="left:203.0px;width:1.1px;background:linear-gradient(#f8e71e 0.0px,#f7e71e 31.0px,#dde315 34.5px,#c7e01d 35.5px,#b0dd2c 36.5px,#63cb5f 38.5px,#31b57b 40.0px,#20a486 41.0px,#238a8d 42.5px,#31688e 47.9px,#218f8d 58.9px,#1fa287 64.4px,#26ac81 65.4px,#34b679 65.9px,#63cb5f 66.9px,#74d055 67.4px,#81d34c 68.4px,#a6db33 86.9px,#a8dc31 90.4px,#a3db35 91.9px,#badf24 95.4px,#dae315 108.9px,#f5e71c 121.4px,#f8e71e 139.4px,#f8e71e 190.3px)"></i><i style="left:204.0px;width:1.1px;background:linear-gradient(#f8e71e 0.0px,#f8e71e 30.5px,#e0e415 34.0px,#cae11b 35.0px,#b3dd29 36.0px,#a4db35 36.5px,#69cd5b 38.0px,#36b878 39.5px,#22a785 40.5px,#1f968b 41.5px,#23898e 42.5px,#2f6b8e 47.5px,#1e9b8a 61.9px,#22a785 64.9px,#27ae80 65.4px,#36b878 65.9px,#65cb5e 66.9px,#76d054 67.4px,#83d44b 68.4px,#a7db32 86.9px,#aadc30 90.4px,#a5db34 91.9px,#bedf22 95.9px,#dce315 109.4px,#f7e71e 123.4px,#f8e71e 190.3px)"></i><i style="left:205.0px;width:1.1px;background:linear-gradient(#f8e71e 0.0px,#f6e71d 30.5px,#e1e415 33.5px,#cde119 34.5px,#aadc30 36.0px,#6fce58 37.5px,#3bbb75 39.0px,#24aa83 40.0px,#1f998a 41.0px,#228b8d 42.0px,#2f6c8e 47.5px,#21908d 57.4px,#20a486 64.4px,#29af80 65.4px,#38b977 65.9px,#67cc5c 66.9px,#78d153 67.4px,#85d44a 68.4px,#a9dc31 86.9px,#acdc2f 90.4px,#a7db32 91.9px,#bfdf21 95.9px,#dde315 109.4px,#f8e71e 123.4px,#f8e71e 190.3px)"></i><i style="left:206.0px;width:1.1px;background:linear-gradient(#f8e71e 0.0px,#f7e71e 30.0px,#e2e415 33.0px,#d1e218 34.0px,#afdd2c 35.5px,#63cb5f 37.5px,#32b67a 39.0px,#21a585 40.0px,#218e8d 41.5px,#2e6e8e 47.0px,#20928c 57.4px,#21a685 64.4px,#2ab07f 65.4px,#39ba76 65.9px,#69cd5b 66.9px,#79d151 67.4px,#87d549 68.4px,#abdc2f 86.9px,#aedd2d 90.4px,#aadc30 91.9px,#c1e020 95.9px,#dee415 109.4px,#f7e71e 122.9px,#f8e71e 190.3px)"></i><i style="left:207.0px;width:1.1px;background:linear-gradient(#f8e71e 0.0px,#f8e71e 29.5px,#dfe415 33.0px,#c9e11c 34.0px,#b2dd2a 35.0px,#69cd5b 37.0px,#37b878 38.5px,#23a984 39.5px,#1f988b 40.5px,#23888e 42.0px,#2d708e 46.5px,#1f978b 58.4px,#22a784 64.4px,#2cb17e 65.4px,#3bbb75 65.9px,#6bcd5a 66.9px,#7bd250 67.4px,#89d547 68.4px,#addc2e 87.4px,#afdd2c 90.4px,#acdc2f 91.9px,#c2e01f 95.9px,#dfe415 109.4px,#f8e71e 122.9px,#f8e71e 190.3px)"></i><i style="left:208.0px;width:1.1px;background:linear-gradient(#f8e71e 0.0px,#f5e71d 29.5px,#e1e415 32.5px,#cce11a 33.5px,#a8dc31 35.0px,#6fce58 36.5px,#3cbb75 38.0px,#25ac82 39.0px,#1e9c8a 40.0px,#238a8d 41.5px,#2c728e 46.5px,#1f958b 56.9px,#23a884 64.4px,#2db27d 65.4px,#3dbc74 65.9px,#6dce59 66.9px,#7dd24f 67.4px,#8bd646 68.4px,#afdd2d 87.4px,#b0dd2c 90.9px,#b0dd2c 92.4px,#c4e01e 95.9px,#e0e415 109.4px,#f8e71e 122.4px,#f8e71e 190.3px)"></i><i style="left:209.0px;width:1.1px;background:linear-gradient(#f8e71e 0.0px,#f6e71d 29.0px,#e2e415 32.0px,#cfe218 33.0px,#aedd2d 34.5px,#74d054 36.0px,#34b679 38.0px,#22a785 39.0px,#1f978b 40.0px,#24878e 42.0px,#2c748e 46.0px,#1f968b 56.4px,#22a884 63.9px,#27ad81 64.9px,#2fb37c 65.4px,#3fbc73 65.9px,#6fce58 66.9px,#7fd34e 67.4px,#8dd645 68.4px,#b0dd2b 87.4px,#b2dd2a 90.9px,#b2dd2a 92.4px,#c5e01e 95.9px,#e1e415 109.4px,#f8e71e 122.4px,#f8e71e 190.3px)"></i><i style="left:210.0px;width:1.1px;background:linear-gradient(#f8e71e 0.0px,#f7e71e 28.5px,#dde315 32.0px,#bddf23 33.5px,#b2dd2a 34.0px,#69cd5b 36.0px,#38b977 37.5px,#24aa83 38.5px,#1e9b8a 39.5px,#228b8d 41.0px,#2b768e 45.5px,#1f998a 56.9px,#25ab82 64.4px,#30b47b 65.4px,#41bd72 65.9px,#71cf57 66.9px,#81d34d 67.4px,#8fd744 68.4px,#b2dd2a 87.4px,#b3dd29 90.9px,#b4de29 92.4px,#c8e01c 96.4px,#e3e416 109.9px,#f8e71e 122.4px,#f8e71e 190.3px)"></i><i style="left:211.0px;width:1.1px;background:linear-gradient(#f8e71e 0.0px,#f8e71e 28.0px,#e0e415 31.5px,#cbe11b 32.5px,#b5de28 33.5px,#93d741 34.5px,#4cc36c 36.5px,#31b57b 37.5px,#21a685 38.5px,#20928c 40.0px,#2a788e 45.0px,#1e9c89 57.4px,#26ac81 64.4px,#32b57a 65.4px,#42be71 65.9px,#73d055 66.9px,#83d44b 67.4px,#91d743 68.4px,#b5de28 88.4px,#b6de28 92.4px,#c9e11b 96.4px,#e3e415 109.4px,#f8e71e 121.9px,#f8e71e 190.3px)"></i><i style="left:212.0px;width:1.1px;background:linear-gradient(#f8e71e 0.0px,#f6e71d 28.0px,#e1e415 31.0px,#cee119 32.0px,#acdc2f 33.5px,#74d055 35.0px,#43be71 36.5px,#2bb07f 37.5px,#1fa187 38.5px,#21908d 40.0px,#297a8e 45.0px,#1f9a8a 55.9px,#25ab82 63.9px,#2bb07e 64.9px,#33b67a 65.4px,#44bf70 65.9px,#75d054 66.9px,#85d44a 67.4px,#93d742 68.4px,#b7de26 88.9px,#b8de26 92.4px,#cae11b 96.4px,#e5e416 109.9px,#f8e71e 121.9px,#f8e71e 190.3px)"></i><i style="left:213.0px;width:1.1px;background:linear-gradient(#f8e71e 0.0px,#f7e71d 27.5px,#e2e415 30.5px,#d1e218 31.5px,#b1dd2b 33.0px,#69cd5b 35.0px,#3aba76 36.5px,#26ac82 37.5px,#1f9d89 38.5px,#218f8d 40.0px,#287b8e 44.5px,#1e9b8a 55.4px,#26ac81 63.9px,#2cb17e 64.9px,#35b779 65.4px,#46c06f 65.9px,#77d153 66.9px,#87d549 67.4px,#94d840 68.4px,#b9de25 89.4px,#b9de25 92.4px,#cbe11a 96.4px,#e5e416 109.9px,#f8e71e 121.4px,#f8e71e 190.3px)"></i><i style="left:214.0px;width:1.1px;background:linear-gradient(#f8e71e 0.0px,#f8e71e 27.0px,#dee415 30.5px,#bfdf21 32.0px,#a5db34 33.0px,#5ec962 35.0px,#33b67a 36.5px,#22a884 37.5px,#1f958b 39.0px,#287e8e 44.0px,#1e9d89 55.4px,#27ad81 63.9px,#2db27d 64.9px,#36b878 65.4px,#48c16e 65.9px,#78d152 66.9px,#89d548 67.4px,#96d83f 68.4px,#bbdf24 89.4px,#bbdf24 92.4px,#cee119 96.9px,#e7e516 110.4px,#f8e71e 121.4px,#f8e71e 190.3px)"></i><i style="left:215.0px;width:1.1px;background:linear-gradient(#f8e71e 0.0px,#f8e71e 26.5px,#e1e415 30.0px,#cde11a 31.0px,#aadc30 32.5px,#74d055 34.0px,#44bf70 35.5px,#2db27d 36.5px,#20a486 37.5px,#20938c 39.0px,#27808e 44.0px,#1f9e89 54.9px,#28ae80 63.9px,#2fb37c 64.9px,#38b977 65.4px,#4ac16d 65.9px,#7ad251 66.9px,#8ad647 67.4px,#98d83e 68.4px,#bbdf24 88.9px,#bddf22 92.4px,#cfe119 96.9px,#e8e517 110.4px,#f8e71e 121.4px,#f8e71e 190.3px)"></i><i style="left:216.0px;width:1.1px;background:linear-gradient(#f8e71e 0.0px,#f6e71d 26.5px,#e2e415 29.5px,#d0e218 30.5px,#b0dd2c 32.0px,#7ad151 33.5px,#3cbb75 35.5px,#28ae80 36.5px,#1fa088 37.5px,#20928c 39.0px,#26828e 43.5px,#1f9f88 54.4px,#29af7f 63.9px,#30b47b 64.9px,#3aba76 65.4px,#4bc26c 65.9px,#7cd250 66.9px,#8cd646 67.4px,#99d93d 68.4px,#bcdf23 88.4px,#bfdf21 92.4px,#d1e218 97.4px,#eae517 111.4px,#f8e71e 121.4px,#f8e71e 190.3px)"></i><i style="left:217.0px;width:1.1px;background:linear-gradient(#f8e71e 0.0px,#f7e71e 26.0px,#dde315 29.5px,#bedf22 31.0px,#b4dd29 31.5px,#6ece58 33.5px,#41bd72 35.0px,#24aa83 36.5px,#1f988b 38.0px,#25838e 43.0px,#1f9f88 53.9px,#2bb07e 63.9px,#32b57a 64.9px,#3bbb75 65.4px,#4dc36b 65.9px,#7ed34f 66.9px,#8ed644 67.4px,#9bd93b 68.4px,#bedf22 88.4px,#c3e01f 92.9px,#d2e217 97.4px,#ebe518 111.4px,#f8e71e 120.9px,#f8e71e 190.3px)"></i><i style="left:218.0px;width:1.1px;background:linear-gradient(#f8e71e 0.0px,#f8e71e 25.5px,#dfe415 29.0px,#c1e020 30.5px,#a9dc31 31.5px,#64cb5e 33.5px,#3aba76 35.0px,#27ad81 36.0px,#1fa088 37.0px,#20948c 38.5px,#25858e 42.5px,#1fa088 53.4px,#2cb17e 63.9px,#33b67a 64.9px,#3dbc74 65.4px,#4fc46a 65.9px,#80d34e 66.9px,#8fd743 67.4px,#9cd93a 68.4px,#bfdf21 88.4px,#c4e01e 92.9px,#d4e217 97.9px,#ede618 112.4px,#f8e71e 120.9px,#f8e71e 190.3px)"></i><i style="left:219.0px;width:1.1px;background:linear-gradient(#f8e71e 0.0px,#f6e71d 25.5px,#e1e415 28.5px,#c4e01e 30.0px,#aedd2d 31.0px,#69cd5b 33.0px,#3ebc73 34.5px,#24aa83 36.0px,#1f988b 37.5px,#24888e 42.5px,#1fa187 52.9px,#2db27d 63.9px,#35b779 64.9px,#3fbc73 65.4px,#51c469 65.9px,#81d34d 66.9px,#91d743 67.4px,#9eda39 68.4px,#c0df21 88.4px,#c5e01e 92.9px,#d5e217 97.9px,#eee619 112.9px,#f8e71e 120.9px,#f8e71e 190.3px)"></i><i style="left:220.0px;width:1.1px;background:linear-gradient(#f8e71e 0.0px,#f6e71d 25.0px,#e2e415 28.0px,#c7e01c 29.5px,#b3dd29 30.5px,#6fce58 32.5px,#43bf71 34.0px,#26ad81 35.5px,#1e9b8a 37.0px,#23898d 42.0px,#1fa287 52.4px,#2db27d 63.4px,#36b878 64.9px,#40bd72 65.4px,#52c568 65.9px,#82d44c 66.9px,#92d742 67.4px,#9fda38 68.4px,#c1e020 88.4px,#c6e01d 92.9px,#d5e216 97.9px,#efe619 112.9px,#f8e71e 120.9px,#f8e71e 190.3px)"></i><i style="left:221.0px;width:1.1px;background:linear-gradient(#f8e71e 0.0px,#f7e71e 24.5px,#dee315 28.0px,#c0df20 29.5px,#b6de27 30.0px,#64cb5e 32.5px,#3cbb75 34.0px,#24a983 35.5px,#1f998a 37.0px,#228b8d 41.5px,#20a387 51.9px,#2eb37c 63.4px,#38b977 64.9px,#42be72 65.4px,#54c567 65.9px,#84d44b 66.9px,#94d841 67.4px,#a0da37 68.4px,#c2e020 88.4px,#c9e11b 93.4px,#d8e316 98.9px,#f2e61b 114.4px,#f8e71e 120.9px,#f8e71e 190.3px)"></i><i style="left:222.0px;width:1.1px;background:linear-gradient(#f8e71e 0.0px,#f8e71e 24.0px,#e0e415 27.5px,#c3e01f 29.0px,#acdc2e 30.0px,#6acd5b 32.0px,#41bd72 33.5px,#26ac81 35.0px,#1e9b8a 36.5px,#228d8d 41.0px,#20a486 51.4px,#30b47c 63.4px,#39ba76 64.9px,#43bf71 65.4px,#56c667 65.9px,#85d44a 66.9px,#95d840 67.4px,#a1da36 68.4px,#c3e01f 88.4px,#cae11b 93.4px,#d9e316 98.9px,#f3e61b 114.9px,#f8e71e 121.4px,#f8e71e 190.3px)"></i><i style="left:223.0px;width:1.1px;background:linear-gradient(#f8e71e 0.0px,#f6e71d 24.0px,#e2e415 27.0px,#c7e01c 28.5px,#b3dd29 29.5px,#70cf57 31.5px,#47c06f 33.0px,#2ab07f 34.5px,#1f9e89 36.0px,#218f8d 41.0px,#21a585 51.4px,#31b57b 63.4px,#3bba75 64.9px,#45bf70 65.4px,#57c766 65.9px,#87d549 66.9px,#96d83f 67.4px,#a3db35 68.4px,#c4e01e 88.4px,#cbe11a 93.4px,#dae315 99.4px,#f5e71d 116.4px,#f8e71e 190.3px)"></i><i style="left:224.0px;width:1.1px;background:linear-gradient(#f8e71e 0.0px,#f8e71e 23.5px,#e1e415 27.0px,#c4e01e 28.5px,#aedc2d 29.5px,#6cce5a 31.5px,#44bf70 33.0px,#29af80 34.5px,#1f9e89 36.0px,#21908c 40.5px,#21a685 50.9px,#33b67a 63.4px,#3dbc74 64.9px,#48c06e 65.4px,#5ac864 65.9px,#89d548 66.9px,#98d83e 67.4px,#a4db34 68.4px,#c6e01d 89.4px,#cee119 93.9px,#dfe415 101.9px,#f8e71e 119.4px,#f8e71e 190.3px)"></i><i style="left:225.0px;width:1.1px;background:linear-gradient(#f8e71e 0.0px,#f7e71e 23.5px,#dde315 27.0px,#c1e020 28.5px,#b7de26 29.0px,#68cc5c 31.5px,#42be72 33.0px,#28ae80 34.5px,#1f9f88 36.0px,#20938c 40.5px,#22a884 50.9px,#35b778 63.4px,#3fbd73 64.9px,#4ac16d 65.4px,#5cc863 65.9px,#8bd646 66.9px,#9ad93c 67.4px,#a6db33 68.4px,#c8e11c 89.9px,#d1e218 94.4px,#ebe518 108.9px,#f7e71e 119.4px,#f8e71e 190.3px)"></i><i style="left:226.0px;width:1.1px;background:linear-gradient(#f8e71e 0.0px,#f6e71d 23.5px,#e2e415 26.5px,#c8e01c 28.0px,#b3dd29 29.0px,#72cf56 31.0px,#4ac26d 32.5px,#2eb37d 34.0px,#20a387 35.5px,#1f948c 40.0px,#23a984 50.4px,#37b977 63.4px,#42be72 64.9px,#4cc26c 65.4px,#5ec962 65.9px,#8dd645 66.9px,#9bd93b 67.4px,#a7db32 68.4px,#cae11b 90.4px,#e1e415 102.4px,#f7e71e 119.4px,#f8e71e 190.3px)"></i><i style="left:227.0px;width:1.1px;background:linear-gradient(#f8e71e 0.0px,#f8e71e 23.0px,#e0e415 26.5px,#c5e01e 28.0px,#aedd2d 29.0px,#6ece58 31.0px,#48c16e 32.5px,#2db27d 34.0px,#20a386 35.5px,#1f978b 40.0px,#25ab82 50.9px,#39ba76 63.4px,#44bf70 64.9px,#4ec36b 65.4px,#61ca60 65.9px,#8fd644 66.9px,#9dd93a 67.4px,#a9dc31 68.4px,#cce11a 90.9px,#e1e415 101.9px,#f7e71e 119.4px,#f8e71e 190.3px)"></i><i style="left:228.0px;width:1.1px;background:linear-gradient(#f8e71e 0.0px,#f6e71d 23.0px,#e3e416 26.0px,#cbe11a 27.5px,#b8de26 28.5px,#79d152 30.5px,#51c469 32.0px,#2cb17e 34.0px,#20a486 35.5px,#1f998a 40.0px,#27ad81 51.9px,#3ebc74 63.9px,#46c06f 64.9px,#51c469 65.4px,#63cb5f 65.9px,#90d743 66.9px,#9fda39 67.4px,#aadc30 68.4px,#cee119 91.9px,#e1e415 100.9px,#f7e71e 119.4px,#f8e71e 190.3px)"></i><i style="left:229.0px;width:1.1px;background:linear-gradient(#f8e71e 0.0px,#f5e71d 23.0px,#e2e415 26.0px,#c8e11c 27.5px,#b3dd29 28.5px,#75d054 30.5px,#4fc36b 32.0px,#2bb17e 34.0px,#22a784 35.0px,#1e9b8a 39.5px,#29af80 51.9px,#40bd73 63.9px,#48c16e 64.9px,#53c568 65.4px,#65cb5e 65.9px,#92d742 66.9px,#a0da37 67.4px,#abdc2f 68.4px,#d6e216 94.4px,#f1e61a 111.9px,#f8e71e 122.4px,#f8e71e 190.3px)"></i><i style="left:230.0px;width:1.1px;background:linear-gradient(#f8e71e 0.0px,#f7e71e 22.5px,#e0e415 26.0px,#c5e01e 27.5px,#aedd2d 28.5px,#70cf57 30.5px,#4cc36c 32.0px,#2bb17e 34.0px,#22a785 35.5px,#1e9d89 39.5px,#2db27d 53.4px,#42be71 63.9px,#4bc26d 64.9px,#55c667 65.4px,#67cc5c 65.9px,#94d841 66.9px,#a2da36 67.4px,#addc2e 68.4px,#d7e316 94.4px,#f3e61b 113.4px,#f8e71e 125.9px,#f8e71e 190.3px)"></i><i style="left:231.0px;width:1.1px;background:linear-gradient(#f8e71e 0.0px,#f6e71d 22.5px,#e3e416 25.5px,#cbe11a 27.0px,#b9de26 28.0px,#6dce59 30.5px,#41be72 32.5px,#25ac82 34.5px,#1f9f88 39.0px,#30b47c 53.9px,#44bf70 63.9px,#4dc36b 64.9px,#58c765 65.4px,#6acd5b 65.9px,#96d83f 66.9px,#a3db35 67.4px,#aedd2d 68.4px,#d9e316 94.9px,#f7e71d 117.9px,#f8e71e 190.3px)"></i><i style="left:232.0px;width:1.1px;background:linear-gradient(#f8e71e 0.0px,#f8e71e 22.0px,#e2e415 25.5px,#c8e11c 27.0px,#b4dd29 28.0px,#77d153 30.0px,#53c568 31.5px,#31b57b 33.5px,#26ac81 34.5px,#1fa187 39.0px,#35b779 55.9px,#47c06f 63.9px,#4fc46a 64.9px,#5ac864 65.4px,#6cce5a 65.9px,#98d83e 66.9px,#a5db34 67.4px,#afdd2c 68.4px,#d9e316 94.4px,#f6e71d 116.4px,#f8e71e 190.3px)"></i><i style="left:233.0px;width:1.1px;background:linear-gradient(#f8e71e 0.0px,#f7e71e 22.0px,#dfe415 25.5px,#c6e01d 27.0px,#bddf23 27.5px,#73d055 30.0px,#48c16e 32.0px,#2ab07f 34.0px,#1fa287 38.0px,#34b679 53.9px,#49c16e 63.9px,#52c569 64.9px,#5cc963 65.4px,#6ece58 65.9px,#99d93d 66.9px,#a6db33 67.4px,#b1dd2b 68.4px,#d9e316 94.4px,#f6e71d 116.4px,#f8e71e 190.3px)"></i><i style="left:234.0px;width:1.1px;background:linear-gradient(#f8e71e 0.0px,#f6e71d 22.0px,#e4e416 25.0px,#cce11a 26.5px,#b9de25 27.5px,#6fcf57 30.0px,#3ebc73 32.5px,#2ab07f 34.0px,#20a586 38.5px,#3fbd73 58.9px,#4ec36b 64.4px,#5fc961 65.4px,#70cf57 65.9px,#9bd93b 66.9px,#a8db32 67.4px,#b2dd2a 68.4px,#d9e316 93.9px,#f2e61b 112.4px,#f8e71e 123.4px,#f8e71e 190.3px)"></i><i style="left:235.0px;width:1.1px;background:linear-gradient(#f8e71e 0.0px,#f7e71e 21.5px,#e2e415 25.0px,#c9e11b 26.5px,#b4de29 27.5px,#7ad151 29.5px,#58c765 31.0px,#30b47b 33.5px,#23a983 36.5px,#22a884 39.0px,#45bf70 60.4px,#51c469 64.4px,#61ca60 65.4px,#9dd93a 66.9px,#a9dc31 67.4px,#b3dd29 68.4px,#dae315 93.9px,#f2e61b 112.9px,#f8e71e 123.9px,#f8e71e 190.3px)"></i><i style="left:236.0px;width:1.1px;background:linear-gradient(#f8e71e 0.0px,#f6e71d 21.5px,#e5e416 24.5px,#cfe119 26.0px,#bedf22 27.0px,#77d153 29.5px,#4ec36b 31.5px,#30b47b 33.5px,#22a884 37.5px,#47c06f 60.4px,#53c568 64.4px,#63cb5f 65.4px,#9eda39 66.9px,#abdc2f 67.4px,#b5de28 68.4px,#dae315 93.4px,#efe619 108.9px,#f8e71e 122.4px,#f8e71e 190.3px)"></i><i style="left:237.0px;width:1.1px;background:linear-gradient(#f8e71e 0.0px,#f5e71d 21.5px,#e4e416 24.5px,#cce11a 26.0px,#bade25 27.0px,#74d055 29.5px,#45bf70 32.0px,#30b47b 33.5px,#24aa83 37.5px,#4dc36b 61.9px,#56c666 64.4px,#66cc5d 65.4px,#a0da38 66.9px,#acdc2e 67.4px,#b6de27 68.4px,#dae315 93.4px,#f0e61a 109.4px,#f8e71e 122.4px,#f8e71e 190.3px)"></i><i style="left:238.0px;width:1.1px;background:linear-gradient(#f8e71e 0.0px,#f7e71e 21.0px,#e1e415 24.5px,#cae11b 26.0px,#b5de28 27.0px,#71cf56 29.5px,#3dbc74 32.5px,#30b47b 34.0px,#26ac81 37.5px,#52c569 62.9px,#58c765 64.4px,#68cc5c 65.4px,#a2da36 66.9px,#aedd2d 67.4px,#b7de26 68.4px,#dae315 92.9px,#efe619 108.4px,#f8e71e 121.9px,#f8e71e 190.3px)"></i><i style="left:239.0px;width:1.1px;background:linear-gradient(#f8e71e 0.0px,#f6e71d 21.0px,#e5e416 24.0px,#d0e218 25.5px,#bfdf21 26.5px,#7bd250 29.0px,#4cc26c 31.5px,#36b878 33.0px,#28ae80 37.0px,#56c666 63.4px,#60ca60 64.9px,#6bcd5a 65.4px,#a3db35 66.9px,#afdd2c 67.4px,#b9de25 68.4px,#dbe315 92.9px,#f0e61a 108.9px,#f8e71e 121.9px,#f8e71e 190.3px)"></i><i style="left:240.0px;width:1.1px;background:linear-gradient(#f8e71e 0.0px,#f8e71e 20.5px,#e4e416 24.0px,#cee119 25.5px,#bbdf24 26.5px,#79d152 29.0px,#44bf70 32.0px,#38b977 33.0px,#2bb07e 37.0px,#59c765 63.4px,#63cb5f 64.9px,#6dce59 65.4px,#a5db34 66.9px,#b1dd2b 67.4px,#badf25 68.4px,#dce315 92.9px,#f1e61a 109.9px,#f8e71e 122.4px,#f8e71e 190.3px)"></i><i style="left:241.0px;width:1.1px;background:linear-gradient(#f8e71e 0.0px,#f7e71d 20.5px,#e1e415 24.0px,#cbe11a 25.5px,#c4e01e 26.0px,#77d153 29.0px,#3dbc74 32.5px,#2db27d 36.5px,#5dc962 63.9px,#66cc5d 64.9px,#70cf57 65.4px,#a7db32 66.9px,#b2dd2a 67.4px,#bddf23 68.9px,#dee415 93.9px,#f6e71d 115.9px,#f8e71e 190.3px)"></i><i style="left:242.0px;width:1.1px;background:linear-gradient(#f8e71e 0.0px,#f6e71d 20.5px,#e5e416 23.5px,#d1e218 25.0px,#c0df20 26.0px,#80d34d 28.5px,#4cc26c 31.5px,#3ebc74 32.5px,#30b47b 36.5px,#5fca61 63.9px,#68cc5c 64.9px,#72cf56 65.4px,#a8dc31 66.9px,#b4dd29 67.4px,#bedf22 68.9px,#dee415 93.4px,#f5e71c 113.9px,#f8e71e 148.3px,#f8e71e 190.3px)"></i><i style="left:243.0px;width:1.1px;background:linear-gradient(#f8e71e 0.0px,#f7e71e 20.0px,#e3e416 23.5px,#cfe119 25.0px,#bddf23 26.0px,#7ed34e 28.5px,#45bf70 32.0px,#38b977 34.5px,#33b67a 36.5px,#62ca5f 63.9px,#6bcd5a 64.9px,#75d054 65.4px,#aadc30 66.9px,#b5de28 67.4px,#bfdf21 68.9px,#dfe415 93.4px,#f6e71d 114.4px,#f8e71e 190.3px)"></i><i style="left:244.0px;width:1.1px;background:linear-gradient(#f8e71e 0.0px,#f6e71d 20.0px,#e1e415 23.5px,#c5e01d 25.5px,#7dd24f 28.5px,#45bf70 32.0px,#36b878 36.0px,#65cb5e 63.9px,#6dce59 64.9px,#77d153 65.4px,#acdc2f 66.9px,#b6de27 67.4px,#c1df20 68.9px,#e0e415 93.4px,#f6e71d 114.9px,#f8e71e 190.3px)"></i><i style="left:245.0px;width:1.1px;background:linear-gradient(#f8e71e 0.0px,#f5e71d 20.0px,#e5e416 23.0px,#cbe11a 25.0px,#aadc30 26.5px,#7cd250 28.5px,#47c06f 32.0px,#3aba76 36.0px,#67cc5c 63.9px,#70cf57 64.9px,#7ad151 65.4px,#addc2e 66.9px,#bddf22 67.9px,#c6e01d 72.4px,#e3e416 94.9px,#f8e71e 117.9px,#f8e71e 190.3px)"></i><i style="left:246.0px;width:1.1px;background:linear-gradient(#f8e71e 0.0px,#f7e71e 19.5px,#e3e416 23.0px,#cae11b 25.0px,#84d44b 28.0px,#4dc36b 31.5px,#3ebc74 36.0px,#6acd5b 63.9px,#72cf56 64.9px,#7cd250 65.4px,#afdd2c 66.9px,#bfdf21 67.9px,#c8e11c 72.9px,#e4e416 94.9px,#f8e71e 118.4px,#f8e71e 190.3px)"></i><i style="left:247.0px;width:1.1px;background:linear-gradient(#f8e71e 0.0px,#f6e71d 19.5px,#e1e415 23.0px,#c7e01d 25.0px,#84d44b 28.0px,#4ec36b 31.5px,#42be72 36.0px,#6dce59 63.9px,#75d054 64.9px,#7ed34e 65.4px,#b0dd2b 66.9px,#c0df21 67.9px,#c9e11b 72.9px,#e4e416 94.9px,#f8e71e 118.4px,#f8e71e 190.3px)"></i><i style="left:248.0px;width:1.1px;background:linear-gradient(#f8e71e 0.0px,#f5e71d 19.5px,#e6e516 22.5px,#cde119 24.5px,#a3db35 26.5px,#84d44b 28.0px,#51c469 31.5px,#46c06f 35.5px,#70cf57 63.9px,#78d152 64.9px,#81d34c 65.4px,#b2dd2a 66.9px,#c1e020 67.9px,#cbe11b 73.4px,#e6e516 95.4px,#f8e71e 118.9px,#f8e71e 190.3px)"></i><i style="left:249.0px;width:1.1px;background:linear-gradient(#f8e71e 0.0px,#f7e71e 19.0px,#e4e416 22.5px,#cde11a 24.5px,#85d44a 28.0px,#5ac864 31.0px,#4ac26d 35.0px,#74d055 63.9px,#7cd250 64.9px,#85d44a 65.4px,#b4de28 66.9px,#c3e01f 67.9px,#cce11a 73.9px,#e7e516 95.9px,#f8e71e 119.4px,#f8e71e 190.3px)"></i><i style="left:250.0px;width:1.1px;background:linear-gradient(#f8e71e 0.0px,#f6e71d 19.0px,#e3e416 22.5px,#cbe11a 24.5px,#86d54a 28.0px,#5ec962 31.0px,#4fc46a 35.0px,#77d153 63.9px,#7fd34e 64.9px,#88d548 65.4px,#b6de27 66.9px,#c5e01e 67.9px,#cee119 74.4px,#e8e517 96.4px,#f8e71e 119.4px,#f8e71e 190.3px)"></i><i style="left:251.0px;width:1.1px;background:linear-gradient(#f8e71e 0.0px,#f6e71d 19.0px,#e7e516 22.0px,#d1e218 24.0px,#acdc2f 26.0px,#87d549 28.0px,#62cb5f 31.0px,#55c667 35.0px,#7bd250 63.9px,#83d44b 64.9px,#8cd646 65.4px,#b9de26 66.9px,#c6e01d 67.9px,#d0e218 75.4px,#eae517 97.4px,#f8e71e 119.9px,#f8e71e 190.3px)"></i><i style="left:252.0px;width:1.1px;background:linear-gradient(#f8e71e 0.0px,#f5e71d 19.0px,#e6e516 22.0px,#d1e218 24.0px,#a2da36 26.5px,#83d44c 28.5px,#68cc5c 31.0px,#5ac864 34.5px,#7fd34e 63.9px,#87d549 64.9px,#9dd93a 65.9px,#bbdf24 66.9px,#c8e11c 67.9px,#d2e217 76.4px,#ece518 98.4px,#f8e71e 119.9px,#f8e71e 190.3px)"></i><i style="left:253.0px;width:1.1px;background:linear-gradient(#f8e71e 0.0px,#f7e71e 18.5px,#e5e416 22.0px,#d0e218 24.0px,#8bd647 28.0px,#6dce59 31.0px,#60ca61 34.0px,#81d34c 63.4px,#8ad647 64.9px,#a0da38 65.9px,#bddf23 66.9px,#cae11b 67.9px,#d5e216 78.4px,#eee619 100.9px,#f8e71e 120.9px,#f8e71e 190.3px)"></i><i style="left:254.0px;width:1.1px;background:linear-gradient(#f8e71e 0.0px,#f6e71d 18.5px,#e4e416 22.0px,#cfe119 24.0px,#93d741 27.5px,#72cf56 31.0px,#65cb5e 34.0px,#85d44a 63.4px,#8ed644 64.9px,#a3db36 65.9px,#bfdf22 66.9px,#cbe11a 67.9px,#e6e516 93.4px,#f6e71d 111.9px,#f8e71e 190.3px)"></i><i style="left:255.0px;width:1.1px;background:linear-gradient(#f8e71e 0.0px,#f6e71d 18.5px,#e3e416 22.0px,#cee119 24.0px,#94d840 27.5px,#75d054 31.5px,#6bcd5a 33.5px,#87d549 62.4px,#8dd645 64.4px,#99d93d 65.4px,#c1df20 66.9px,#cde11a 67.9px,#e8e517 93.9px,#f7e71e 114.4px,#f8e71e 190.3px)"></i><i style="left:256.0px;width:1.1px;background:linear-gradient(#f8e71e 0.0px,#f7e71e 18.0px,#e7e516 21.5px,#d4e217 23.5px,#addc2e 26.0px,#97d83f 27.5px,#71cf57 33.0px,#86d44a 57.4px,#8fd744 63.9px,#95d840 64.9px,#a8dc31 65.9px,#c3e01f 66.9px,#cee119 67.9px,#e8e517 93.9px,#f6e71d 112.9px,#f8e71e 190.3px)"></i><i style="left:257.0px;width:1.1px;background:linear-gradient(#f8e71e 0.0px,#f7e71d 18.0px,#e6e516 21.5px,#d4e217 23.5px,#a7db32 26.5px,#97d83f 28.0px,#76d153 33.0px,#8fd744 61.9px,#96d840 64.4px,#a1da37 65.4px,#c5e01e 66.9px,#d0e218 67.9px,#eae517 94.4px,#f8e71e 116.4px,#f8e71e 190.3px)"></i><i style="left:258.0px;width:1.1px;background:linear-gradient(#f8e71e 0.0px,#f6e71d 18.0px,#e6e516 21.5px,#d3e217 23.5px,#a9dc31 26.5px,#9bd93b 28.0px,#7dd24f 33.0px,#92d742 58.4px,#9bd93b 64.4px,#a6db33 65.4px,#c8e11c 66.9px,#d2e217 67.9px,#ebe518 94.9px,#f8e71e 119.9px,#f8e71e 190.3px)"></i><i style="left:259.0px;width:1.1px;background:linear-gradient(#f8e71e 0.0px,#f6e71d 18.0px,#e6e516 21.5px,#d3e217 23.5px,#a5db34 27.0px,#85d44a 33.0px,#95d840 55.4px,#a1da37 64.4px,#abdc2f 65.4px,#cbe11a 66.9px,#d5e217 67.9px,#ede619 95.9px,#f8e71e 120.4px,#f8e71e 190.3px)"></i><i style="left:260.0px;width:1.1px;background:linear-gradient(#f8e71e 0.0px,#f5e71d 18.0px,#eae517 21.0px,#d3e217 23.5px,#a9dc30 27.0px,#8cd646 33.0px,#9ad93c 53.9px,#a6db33 64.4px,#b0dd2c 65.4px,#cee119 66.9px,#d9e316 68.4px,#f1e61a 99.9px,#f8e71e 123.4px,#f8e71e 190.3px)"></i><i style="left:261.0px;width:1.1px;background:linear-gradient(#f8e71e 0.0px,#f7e71d 17.5px,#e9e517 21.0px,#d4e217 23.5px,#aedd2d 27.0px,#93d741 32.5px,#9eda39 51.9px,#acdc2f 64.4px,#b5de28 65.4px,#d1e218 66.9px,#dbe315 68.4px,#f6e71d 110.9px,#f8e71e 190.3px)"></i><i style="left:262.0px;width:1.1px;background:linear-gradient(#f8e71e 0.0px,#f6e71d 17.5px,#e9e517 21.0px,#d4e217 23.5px,#b2dd2a 27.0px,#9bd93c 32.5px,#a3db35 49.9px,#b2dd2a 64.4px,#bade25 65.4px,#d4e217 66.9px,#dde315 68.4px,#f7e71e 112.9px,#f8e71e 190.3px)"></i><i style="left:263.0px;width:1.1px;background:linear-gradient(#f8e71e 0.0px,#f6e71d 17.5px,#e9e517 21.0px,#d1e218 24.0px,#b7de27 27.0px,#a2da36 32.5px,#a8dc31 48.9px,#b7de27 64.4px,#bfdf22 65.4px,#d7e316 66.9px,#dfe415 68.4px,#f8e71e 114.4px,#f8e71e 190.3px)"></i><i style="left:264.0px;width:1.1px;background:linear-gradient(#f8e71e 0.0px,#f6e71d 17.5px,#e9e517 21.0px,#d2e217 24.0px,#bddf22 26.5px,#aadc30 32.5px,#afdd2d 48.4px,#bddf23 64.4px,#cae11b 65.9px,#dee315 67.4px,#e4e416 73.4px,#f8e71e 115.4px,#f8e71e 190.3px)"></i><i style="left:265.0px;width:1.1px;background:linear-gradient(#f8e71e 0.0px,#f5e71d 17.5px,#e9e517 21.0px,#d1e218 24.5px,#c3e01f 26.5px,#b1dd2a 32.5px,#b6de27 48.9px,#c3e01f 64.4px,#cfe219 65.9px,#e0e415 67.4px,#e7e516 75.9px,#f8e71e 116.4px,#f8e71e 190.3px)"></i><i style="left:266.0px;width:1.1px;background:linear-gradient(#f8e71e 0.0px,#f5e71d 17.5px,#e7e516 21.5px,#cee119 25.5px,#bade25 32.5px,#bfdf21 50.4px,#c9e11b 64.4px,#d4e217 65.9px,#e3e416 67.4px,#f5e71d 104.9px,#f8e71e 190.3px)"></i><i style="left:267.0px;width:1.1px;background:linear-gradient(#f8e71e 0.0px,#f5e71d 17.5px,#e4e416 22.5px,#cfe119 26.5px,#c2e01f 33.0px,#c9e11b 55.4px,#d1e218 64.9px,#e6e516 67.4px,#f8e71e 115.9px,#f8e71e 190.3px)"></i><i style="left:268.0px;width:1.1px;background:linear-gradient(#f8e71e 0.0px,#f5e71d 17.5px,#dfe415 24.0px,#d3e217 27.5px,#cbe11b 33.5px,#d4e217 63.4px,#d9e316 65.4px,#e9e517 67.4px,#f8e71e 118.4px,#f8e71e 190.3px)"></i><i style="left:269.0px;width:1.1px;background:linear-gradient(#f8e71e 0.0px,#f5e71d 17.5px,#dee415 25.0px,#d2e218 33.0px,#dae315 64.4px,#ece518 67.9px,#f8e71e 124.9px,#f8e71e 190.3px)"></i><i style="left:270.0px;width:1.1px;background:linear-gradient(#f8e71e 0.0px,#f5e71d 17.5px,#dee415 25.5px,#d4e217 33.5px,#dee315 64.9px,#ede518 67.9px,#f8e71e 126.9px,#f8e71e 190.3px)"></i><i style="left:271.0px;width:1.1px;background:linear-gradient(#f8e71e 0.0px,#f5e71d 17.5px,#dce315 28.5px,#d7e316 36.0px,#e0e415 64.9px,#eee619 67.9px,#f8e71e 128.4px,#f8e71e 190.3px)"></i><i style="left:272.0px;width:1.1px;background:linear-gradient(#f8e71e 0.0px,#f5e71d 17.5px,#dde315 29.0px,#dae315 40.0px,#e2e415 64.9px,#eee619 67.9px,#f8e71e 130.4px,#f8e71e 190.3px)"></i><i style="left:273.0px;width:0.7px;background:linear-gradient(#f8e71e 0.0px,#f6e71d 17.5px,#dfe415 29.5px,#dfe415 53.9px,#e5e416 65.4px,#efe619 67.9px,#f8e71e 131.9px,#f8e71e 190.3px)"></i></div>
<div class="fr" style="left:40.9px;top:5.8px;width:275.2px;height:192.2px"></div><div class="tx" style="left:41.1px;top:197.2px"></div><div class="tl" style="left:20.9px;top:205.4px">0.00</div><div class="tx" style="left:101.6px;top:197.2px"></div><div class="tl" style="left:81.4px;top:205.4px">0.05</div><div class="tx" style="left:162.1px;top:197.2px"></div><div class="tl" style="left:141.9px;top:205.4px">0.10</div><div class="tx" style="left:222.6px;top:197.2px"></div><div class="tl" style="left:202.4px;top:205.4px">0.15</div><div class="tx" style="left:283.1px;top:197.2px"></div><div class="tl" style="left:262.9px;top:205.4px">0.20</div><div class="ty" style="left:36.5px;top:196.6px"></div><div class="yl" style="left:-9.1px;top:190.7px">0</div><div class="ty" style="left:36.5px;top:158.5px"></div><div class="yl" style="left:-9.1px;top:152.6px">2</div><div class="ty" style="left:36.5px;top:120.4px"></div><div class="yl" style="left:-9.1px;top:114.5px">4</div><div class="ty" style="left:36.5px;top:82.2px"></div><div class="yl" style="left:-9.1px;top:76.3px">6</div><div class="ty" style="left:36.5px;top:44.1px"></div><div class="yl" style="left:-9.1px;top:38.2px">8</div><div class="ty" style="left:36.5px;top:6.0px"></div><div class="yl" style="left:-9.1px;top:0.1px">10</div><div class="fr" style="left:371.9px;top:5.8px;width:275.1px;height:192.2px"></div><div class="tx" style="left:372.1px;top:197.2px"></div><div class="tl" style="left:351.9px;top:205.4px">0.00</div><div class="tx" style="left:432.9px;top:197.2px"></div><div class="tl" style="left:412.7px;top:205.4px">0.05</div><div class="tx" style="left:493.7px;top:197.2px"></div><div class="tl" style="left:473.5px;top:205.4px">0.10</div><div class="tx" style="left:554.5px;top:197.2px"></div><div class="tl" style="left:534.3px;top:205.4px">0.15</div><div class="tx" style="left:615.3px;top:197.2px"></div><div class="tl" style="left:595.1px;top:205.4px">0.20</div><div class="ty" style="left:367.5px;top:196.6px"></div><div class="yl" style="left:321.9px;top:190.7px">0</div><div class="ty" style="left:367.5px;top:158.5px"></div><div class="yl" style="left:321.9px;top:152.6px">2</div><div class="ty" style="left:367.5px;top:120.4px"></div><div class="yl" style="left:321.9px;top:114.5px">4</div><div class="ty" style="left:367.5px;top:82.2px"></div><div class="yl" style="left:321.9px;top:76.3px">6</div><div class="ty" style="left:367.5px;top:44.1px"></div><div class="yl" style="left:321.9px;top:38.2px">8</div><div class="ty" style="left:367.5px;top:6.0px"></div><div class="yl" style="left:321.9px;top:0.1px">10</div><div class="fr" style="left:40.9px;top:251.9px;width:275.2px;height:191.9px"></div><div class="tx" style="left:41.1px;top:443.0px"></div><div class="tl" style="left:20.9px;top:451.2px">0.00</div><div class="tx" style="left:101.6px;top:443.0px"></div><div class="tl" style="left:81.4px;top:451.2px">0.05</div><div class="tx" style="left:162.1px;top:443.0px"></div><div class="tl" style="left:141.9px;top:451.2px">0.10</div><div class="tx" style="left:222.6px;top:443.0px"></div><div class="tl" style="left:202.4px;top:451.2px">0.15</div><div class="tx" style="left:283.1px;top:443.0px"></div><div class="tl" style="left:262.9px;top:451.2px">0.20</div><div class="ty" style="left:36.5px;top:442.4px"></div><div class="yl" style="left:-9.1px;top:436.5px">0</div><div class="ty" style="left:36.5px;top:404.3px"></div><div class="yl" style="left:-9.1px;top:398.4px">2</div><div class="ty" style="left:36.5px;top:366.3px"></div><div class="yl" style="left:-9.1px;top:360.4px">4</div><div class="ty" style="left:36.5px;top:328.2px"></div><div class="yl" style="left:-9.1px;top:322.3px">6</div><div class="ty" style="left:36.5px;top:290.2px"></div><div class="yl" style="left:-9.1px;top:284.3px">8</div><div class="ty" style="left:36.5px;top:252.1px"></div><div class="yl" style="left:-9.1px;top:246.2px">10</div>
<div class="al" style="left:165px;top:220.6px">B (T)</div>
<div class="al" style="left:496px;top:220.6px">B (T)</div>
<div class="al" style="left:165px;top:467.6px">B (T)</div>
<div class="al" style="left:-12px;top:97px;transform:rotate(-90deg)">f (GHz)</div>
<div class="al" style="left:319px;top:96.5px;transform:rotate(-90deg)">f (GHz)</div>
<div class="al" style="left:-12px;top:342.3px;transform:rotate(-90deg)">f (GHz)</div>
<div class="tag" style="left:291.4px;top:171.3px">(a)</div>
<div class="tag" style="left:621.2px;top:169.8px">(b)</div>
<div class="tag" style="left:291.6px;top:421.3px">(c)</div>
<div class="tag" style="left:620.8px;top:421.3px">(d)</div>
<div style="position:absolute;left:327px;top:258px;width:20.5px;height:163px;background:linear-gradient(#f8e71e 0.0%,#d2e217 6.2%,#aadc30 12.5%,#81d34d 18.8%,#5cc863 25.0%,#3dbc74 31.2%,#27ad81 37.5%,#1f9f88 43.8%,#21918c 50.0%,#26828e 56.2%,#2c728e 62.5%,#33638d 68.8%,#3b528b 75.0%,#424086 81.2%,#472d7b 87.5%,#48186a 93.8%,#440154 100.0%);border:1.3px solid #000"></div>
<div class="ty" style="left:347px;top:257.4px;width:5.5px"></div>
<div class="lab" style="left:357.5px;top:251.7px">0.0</div>
<div class="ty" style="left:347px;top:290.0px;width:5.5px"></div>
<div class="lab" style="left:357.5px;top:284.3px">&minus;0.4</div>
<div class="ty" style="left:347px;top:322.6px;width:5.5px"></div>
<div class="lab" style="left:357.5px;top:316.9px">&minus;0.8</div>
<div class="ty" style="left:347px;top:355.2px;width:5.5px"></div>
<div class="lab" style="left:357.5px;top:349.5px">&minus;1.2</div>
<div class="ty" style="left:347px;top:387.8px;width:5.5px"></div>
<div class="lab" style="left:357.5px;top:382.1px">&minus;1.6</div>
<div class="ty" style="left:347px;top:420.4px;width:5.5px"></div>
<div class="lab" style="left:357.5px;top:414.7px">&minus;2.0</div>
<svg style="position:absolute;left:385px;top:240px" width="265" height="242" viewBox="385 240 265 242">
<rect x="395.4" y="248.8" width="249.6" height="197.0" fill="none" stroke="#7a7a7a" stroke-width="1.3"/>
<line x1="406.6" y1="445.8" x2="406.6" y2="449.3" stroke="#7a7a7a" stroke-width="1"/>
<line x1="456.7" y1="445.8" x2="456.7" y2="449.3" stroke="#7a7a7a" stroke-width="1"/>
<line x1="506.8" y1="445.8" x2="506.8" y2="449.3" stroke="#7a7a7a" stroke-width="1"/>
<line x1="556.9" y1="445.8" x2="556.9" y2="449.3" stroke="#7a7a7a" stroke-width="1"/>
<line x1="607.0" y1="445.8" x2="607.0" y2="449.3" stroke="#7a7a7a" stroke-width="1"/>
<ellipse cx="406.7" cy="260.6" rx="3.1" ry="3.6" fill="#1f77b4"/>
<ellipse cx="411.5" cy="260.6" rx="3.1" ry="3.6" fill="#1f77b4"/>
<ellipse cx="416.2" cy="260.6" rx="3.1" ry="3.6" fill="#1f77b4"/>
<ellipse cx="421.0" cy="260.6" rx="3.1" ry="3.6" fill="#1f77b4"/>
<ellipse cx="425.7" cy="260.6" rx="3.1" ry="3.6" fill="#1f77b4"/>
<ellipse cx="430.5" cy="260.6" rx="3.1" ry="3.6" fill="#1f77b4"/>
<ellipse cx="435.3" cy="260.7" rx="3.1" ry="3.6" fill="#1f77b4"/>
<ellipse cx="440.0" cy="260.8" rx="3.1" ry="3.6" fill="#1f77b4"/>
<ellipse cx="444.8" cy="260.9" rx="3.1" ry="3.6" fill="#1f77b4"/>
<ellipse cx="449.5" cy="261.1" rx="3.1" ry="3.6" fill="#1f77b4"/>
<ellipse cx="454.3" cy="261.4" rx="3.1" ry="3.6" fill="#1f77b4"/>
<ellipse cx="459.1" cy="261.8" rx="3.1" ry="3.6" fill="#1f77b4"/>
<ellipse cx="463.8" cy="262.7" rx="3.1" ry="3.6" fill="#1f77b4"/>
<ellipse cx="468.7" cy="263.5" rx="3.1" ry="3.6" fill="#1f77b4"/>
<ellipse cx="473.5" cy="264.5" rx="3.1" ry="3.6" fill="#1f77b4"/>
<ellipse cx="478.4" cy="266.4" rx="3.1" ry="3.6" fill="#1f77b4"/>
<ellipse cx="483.2" cy="268.5" rx="3.1" ry="3.6" fill="#1f77b4"/>
<ellipse cx="488.1" cy="271.1" rx="3.1" ry="3.6" fill="#1f77b4"/>
<ellipse cx="492.9" cy="274.1" rx="3.1" ry="3.6" fill="#1f77b4"/>
<ellipse cx="497.8" cy="277.3" rx="3.1" ry="3.6" fill="#1f77b4"/>
<ellipse cx="502.6" cy="280.8" rx="3.1" ry="3.6" fill="#1f77b4"/>
<ellipse cx="507.5" cy="284.0" rx="3.1" ry="3.6" fill="#1f77b4"/>
<ellipse cx="512.3" cy="286.7" rx="3.1" ry="3.6" fill="#1f77b4"/>
<ellipse cx="517.2" cy="289.3" rx="3.1" ry="3.6" fill="#1f77b4"/>
<ellipse cx="522.0" cy="290.6" rx="3.1" ry="3.6" fill="#1f77b4"/>
<ellipse cx="526.9" cy="291.1" rx="3.1" ry="3.6" fill="#1f77b4"/>
<ellipse cx="531.7" cy="290.4" rx="3.1" ry="3.6" fill="#1f77b4"/>
<ellipse cx="536.6" cy="289.2" rx="3.1" ry="3.6" fill="#1f77b4"/>
<ellipse cx="541.4" cy="287.4" rx="3.1" ry="3.6" fill="#1f77b4"/>
<ellipse cx="546.3" cy="285.6" rx="3.1" ry="3.6" fill="#1f77b4"/>
<ellipse cx="551.2" cy="283.7" rx="3.1" ry="3.6" fill="#1f77b4"/>
<ellipse cx="555.5" cy="281.8" rx="3.1" ry="3.6" fill="#1f77b4"/>
<ellipse cx="559.8" cy="280.1" rx="3.1" ry="3.6" fill="#1f77b4"/>
<ellipse cx="564.1" cy="278.6" rx="3.1" ry="3.6" fill="#1f77b4"/>
<ellipse cx="568.4" cy="277.1" rx="3.1" ry="3.6" fill="#1f77b4"/>
<ellipse cx="572.8" cy="275.7" rx="3.1" ry="3.6" fill="#1f77b4"/>
<ellipse cx="577.1" cy="274.3" rx="3.1" ry="3.6" fill="#1f77b4"/>
<ellipse cx="581.4" cy="272.9" rx="3.1" ry="3.6" fill="#1f77b4"/>
<ellipse cx="585.7" cy="271.5" rx="3.1" ry="3.6" fill="#1f77b4"/>
<ellipse cx="590.0" cy="270.2" rx="3.1" ry="3.6" fill="#1f77b4"/>
<ellipse cx="594.3" cy="268.9" rx="3.1" ry="3.6" fill="#1f77b4"/>
<ellipse cx="598.6" cy="267.5" rx="3.1" ry="3.6" fill="#1f77b4"/>
<ellipse cx="602.5" cy="266.2" rx="3.1" ry="3.6" fill="#1f77b4"/>
<ellipse cx="606.5" cy="265.2" rx="3.1" ry="3.6" fill="#1f77b4"/>
<ellipse cx="610.5" cy="264.1" rx="3.1" ry="3.6" fill="#1f77b4"/>
<ellipse cx="614.5" cy="263.2" rx="3.1" ry="3.6" fill="#1f77b4"/>
<ellipse cx="618.5" cy="262.4" rx="3.1" ry="3.6" fill="#1f77b4"/>
<ellipse cx="622.5" cy="261.6" rx="3.1" ry="3.6" fill="#1f77b4"/>
<ellipse cx="626.6" cy="260.7" rx="3.1" ry="3.6" fill="#1f77b4"/>
<ellipse cx="630.7" cy="259.7" rx="3.1" ry="3.6" fill="#1f77b4"/>
<ellipse cx="633.9" cy="258.8" rx="3.1" ry="3.6" fill="#1f77b4"/>
<path d="M403.6 261.5h6.2M406.7 258.1v6.8" stroke="#fd9a4a" stroke-width="1.3" fill="none"/>
<path d="M408.4 261.8h6.2M411.5 258.4v6.8" stroke="#fd9a4a" stroke-width="1.3" fill="none"/>
<path d="M413.1 262.0h6.2M416.2 258.6v6.8" stroke="#fd9a4a" stroke-width="1.3" fill="none"/>
<path d="M417.9 262.3h6.2M421.0 258.9v6.8" stroke="#fd9a4a" stroke-width="1.3" fill="none"/>
<path d="M422.6 262.6h6.2M425.7 259.2v6.8" stroke="#fd9a4a" stroke-width="1.3" fill="none"/>
<path d="M427.4 263.2h6.2M430.5 259.8v6.8" stroke="#fd9a4a" stroke-width="1.3" fill="none"/>
<path d="M432.2 263.9h6.2M435.3 260.5v6.8" stroke="#fd9a4a" stroke-width="1.3" fill="none"/>
<path d="M436.9 264.5h6.2M440.0 261.1v6.8" stroke="#fd9a4a" stroke-width="1.3" fill="none"/>
<path d="M441.7 266.1h6.2M444.8 262.7v6.8" stroke="#fd9a4a" stroke-width="1.3" fill="none"/>
<path d="M446.4 267.7h6.2M449.5 264.3v6.8" stroke="#fd9a4a" stroke-width="1.3" fill="none"/>
<path d="M451.2 270.6h6.2M454.3 267.2v6.8" stroke="#fd9a4a" stroke-width="1.3" fill="none"/>
<path d="M456.0 274.0h6.2M459.1 270.6v6.8" stroke="#fd9a4a" stroke-width="1.3" fill="none"/>
<path d="M460.7 280.0h6.2M463.8 276.6v6.8" stroke="#fd9a4a" stroke-width="1.3" fill="none"/>
<path d="M465.6 290.4h6.2M468.7 287.0v6.8" stroke="#fd9a4a" stroke-width="1.3" fill="none"/>
<path d="M470.4 302.1h6.2M473.5 298.7v6.8" stroke="#fd9a4a" stroke-width="1.3" fill="none"/>
<path d="M475.3 319.9h6.2M478.4 316.5v6.8" stroke="#fd9a4a" stroke-width="1.3" fill="none"/>
<path d="M480.1 339.5h6.2M483.2 336.1v6.8" stroke="#fd9a4a" stroke-width="1.3" fill="none"/>
<path d="M485.0 357.0h6.2M488.1 353.6v6.8" stroke="#fd9a4a" stroke-width="1.3" fill="none"/>
<path d="M489.8 368.0h6.2M492.9 364.6v6.8" stroke="#fd9a4a" stroke-width="1.3" fill="none"/>
<path d="M494.7 371.3h6.2M497.8 367.9v6.8" stroke="#fd9a4a" stroke-width="1.3" fill="none"/>
<path d="M499.5 369.3h6.2M502.6 365.9v6.8" stroke="#fd9a4a" stroke-width="1.3" fill="none"/>
<path d="M504.4 364.6h6.2M507.5 361.2v6.8" stroke="#fd9a4a" stroke-width="1.3" fill="none"/>
<path d="M509.2 358.4h6.2M512.3 355.0v6.8" stroke="#fd9a4a" stroke-width="1.3" fill="none"/>
<path d="M514.1 351.1h6.2M517.2 347.7v6.8" stroke="#fd9a4a" stroke-width="1.3" fill="none"/>
<path d="M518.9 344.6h6.2M522.0 341.2v6.8" stroke="#fd9a4a" stroke-width="1.3" fill="none"/>
<path d="M523.8 336.9h6.2M526.9 333.5v6.8" stroke="#fd9a4a" stroke-width="1.3" fill="none"/>
<path d="M528.6 329.9h6.2M531.7 326.5v6.8" stroke="#fd9a4a" stroke-width="1.3" fill="none"/>
<path d="M533.5 324.3h6.2M536.6 320.9v6.8" stroke="#fd9a4a" stroke-width="1.3" fill="none"/>
<path d="M538.3 320.2h6.2M541.4 316.8v6.8" stroke="#fd9a4a" stroke-width="1.3" fill="none"/>
<path d="M543.2 313.3h6.2M546.3 309.9v6.8" stroke="#fd9a4a" stroke-width="1.3" fill="none"/>
<path d="M548.1 308.1h6.2M551.2 304.7v6.8" stroke="#fd9a4a" stroke-width="1.3" fill="none"/>
<path d="M552.4 303.3h6.2M555.5 299.9v6.8" stroke="#fd9a4a" stroke-width="1.3" fill="none"/>
<path d="M556.7 299.3h6.2M559.8 295.9v6.8" stroke="#fd9a4a" stroke-width="1.3" fill="none"/>
<path d="M561.0 295.6h6.2M564.1 292.2v6.8" stroke="#fd9a4a" stroke-width="1.3" fill="none"/>
<path d="M565.3 291.9h6.2M568.4 288.5v6.8" stroke="#fd9a4a" stroke-width="1.3" fill="none"/>
<path d="M569.6 288.9h6.2M572.8 285.5v6.8" stroke="#fd9a4a" stroke-width="1.3" fill="none"/>
<path d="M574.0 285.4h6.2M577.1 282.0v6.8" stroke="#fd9a4a" stroke-width="1.3" fill="none"/>
<path d="M578.3 282.5h6.2M581.4 279.1v6.8" stroke="#fd9a4a" stroke-width="1.3" fill="none"/>
<path d="M582.6 279.4h6.2M585.7 276.0v6.8" stroke="#fd9a4a" stroke-width="1.3" fill="none"/>
<path d="M586.9 276.6h6.2M590.0 273.2v6.8" stroke="#fd9a4a" stroke-width="1.3" fill="none"/>
<path d="M591.2 274.8h6.2M594.3 271.4v6.8" stroke="#fd9a4a" stroke-width="1.3" fill="none"/>
<path d="M595.5 273.1h6.2M598.6 269.7v6.8" stroke="#fd9a4a" stroke-width="1.3" fill="none"/>
<path d="M599.4 271.5h6.2M602.5 268.1v6.8" stroke="#fd9a4a" stroke-width="1.3" fill="none"/>
<path d="M603.4 269.9h6.2M606.5 266.5v6.8" stroke="#fd9a4a" stroke-width="1.3" fill="none"/>
<path d="M607.4 268.3h6.2M610.5 264.9v6.8" stroke="#fd9a4a" stroke-width="1.3" fill="none"/>
<path d="M611.4 266.7h6.2M614.5 263.3v6.8" stroke="#fd9a4a" stroke-width="1.3" fill="none"/>
<path d="M615.4 265.4h6.2M618.5 262.0v6.8" stroke="#fd9a4a" stroke-width="1.3" fill="none"/>
<path d="M619.4 264.1h6.2M622.5 260.7v6.8" stroke="#fd9a4a" stroke-width="1.3" fill="none"/>
<path d="M623.5 263.1h6.2M626.6 259.7v6.8" stroke="#fd9a4a" stroke-width="1.3" fill="none"/>
<path d="M627.6 262.1h6.2M630.7 258.7v6.8" stroke="#fd9a4a" stroke-width="1.3" fill="none"/>
<path d="M630.8 261.2h6.2M633.9 257.8v6.8" stroke="#fd9a4a" stroke-width="1.3" fill="none"/>
<path d="M406.7 254.4l3.4 7.6h-6.8z" fill="#2ca02c"/>
<path d="M411.5 254.6l3.4 7.6h-6.8z" fill="#2ca02c"/>
<path d="M416.2 255.0l3.4 7.6h-6.8z" fill="#2ca02c"/>
<path d="M421.0 255.3l3.4 7.6h-6.8z" fill="#2ca02c"/>
<path d="M425.7 255.7l3.4 7.6h-6.8z" fill="#2ca02c"/>
<path d="M430.5 256.1l3.4 7.6h-6.8z" fill="#2ca02c"/>
<path d="M435.3 256.7l3.4 7.6h-6.8z" fill="#2ca02c"/>
<path d="M440.0 257.5l3.4 7.6h-6.8z" fill="#2ca02c"/>
<path d="M444.8 258.8l3.4 7.6h-6.8z" fill="#2ca02c"/>
<path d="M449.5 260.7l3.4 7.6h-6.8z" fill="#2ca02c"/>
<path d="M454.3 264.0l3.4 7.6h-6.8z" fill="#2ca02c"/>
<path d="M459.1 267.6l3.4 7.6h-6.8z" fill="#2ca02c"/>
<path d="M463.8 273.8l3.4 7.6h-6.8z" fill="#2ca02c"/>
<path d="M468.7 285.1l3.4 7.6h-6.8z" fill="#2ca02c"/>
<path d="M473.5 308.4l3.4 7.6h-6.8z" fill="#2ca02c"/>
<path d="M478.4 349.4l3.4 7.6h-6.8z" fill="#2ca02c"/>
<path d="M483.2 395.6l3.4 7.6h-6.8z" fill="#2ca02c"/>
<path d="M488.1 420.7l3.4 7.6h-6.8z" fill="#2ca02c"/>
<path d="M492.9 433.4l3.4 7.6h-6.8z" fill="#2ca02c"/>
<path d="M497.8 430.2l3.4 7.6h-6.8z" fill="#2ca02c"/>
<path d="M502.6 417.2l3.4 7.6h-6.8z" fill="#2ca02c"/>
<path d="M507.5 399.8l3.4 7.6h-6.8z" fill="#2ca02c"/>
<path d="M512.3 383.0l3.4 7.6h-6.8z" fill="#2ca02c"/>
<path d="M517.2 367.1l3.4 7.6h-6.8z" fill="#2ca02c"/>
<path d="M522.0 354.0l3.4 7.6h-6.8z" fill="#2ca02c"/>
<path d="M526.9 341.7l3.4 7.6h-6.8z" fill="#2ca02c"/>
<path d="M531.7 331.8l3.4 7.6h-6.8z" fill="#2ca02c"/>
<path d="M536.6 322.8l3.4 7.6h-6.8z" fill="#2ca02c"/>
<path d="M541.4 314.9l3.4 7.6h-6.8z" fill="#2ca02c"/>
<path d="M546.3 308.0l3.4 7.6h-6.8z" fill="#2ca02c"/>
<path d="M551.2 302.8l3.4 7.6h-6.8z" fill="#2ca02c"/>
<path d="M555.5 298.0l3.4 7.6h-6.8z" fill="#2ca02c"/>
<path d="M559.8 294.0l3.4 7.6h-6.8z" fill="#2ca02c"/>
<path d="M564.1 290.3l3.4 7.6h-6.8z" fill="#2ca02c"/>
<path d="M568.4 286.6l3.4 7.6h-6.8z" fill="#2ca02c"/>
<path d="M572.8 283.6l3.4 7.6h-6.8z" fill="#2ca02c"/>
<path d="M577.1 280.1l3.4 7.6h-6.8z" fill="#2ca02c"/>
<path d="M581.4 277.2l3.4 7.6h-6.8z" fill="#2ca02c"/>
<path d="M585.7 274.1l3.4 7.6h-6.8z" fill="#2ca02c"/>
<path d="M590.0 271.3l3.4 7.6h-6.8z" fill="#2ca02c"/>
<path d="M594.3 269.5l3.4 7.6h-6.8z" fill="#2ca02c"/>
<path d="M598.6 267.8l3.4 7.6h-6.8z" fill="#2ca02c"/>
<path d="M602.5 266.2l3.4 7.6h-6.8z" fill="#2ca02c"/>
<path d="M606.5 264.6l3.4 7.6h-6.8z" fill="#2ca02c"/>
<path d="M610.5 263.0l3.4 7.6h-6.8z" fill="#2ca02c"/>
<path d="M614.5 261.4l3.4 7.6h-6.8z" fill="#2ca02c"/>
<path d="M618.5 260.1l3.4 7.6h-6.8z" fill="#2ca02c"/>
<path d="M622.5 258.8l3.4 7.6h-6.8z" fill="#2ca02c"/>
<path d="M626.6 257.8l3.4 7.6h-6.8z" fill="#2ca02c"/>
<path d="M630.7 256.8l3.4 7.6h-6.8z" fill="#2ca02c"/>
<path d="M633.9 255.9l3.4 7.6h-6.8z" fill="#2ca02c"/>
<ellipse cx="414.9" cy="392.1" rx="3.1" ry="3.6" fill="#1f77b4"/>
<path d="M411.8 410h6.2M414.9 406.6v6.8" stroke="#fd9a4a" stroke-width="1.3" fill="none"/>
<path d="M414.9 423.8l3.4 7.6h-6.8z" fill="#2ca02c"/>
</svg>
<div class="dt" style="left:386.6px;top:448.6px">0.00</div>
<div class="dt" style="left:436.7px;top:448.6px">0.05</div>
<div class="dt" style="left:486.8px;top:448.6px">0.10</div>
<div class="dt" style="left:536.9px;top:448.6px">0.15</div>
<div class="dt" style="left:587.0px;top:448.6px">0.20</div>
<div class="dt" style="left:500.0px;top:462.7px;font-size:12.5px">B (T)</div>
<div class="dp" style="left:433.5px;top:387.0px">P1</div>
<div class="dp" style="left:433.5px;top:405.0px">P2</div>
<div class="dp" style="left:433.5px;top:422.5px">P3</div>
</body></html>
